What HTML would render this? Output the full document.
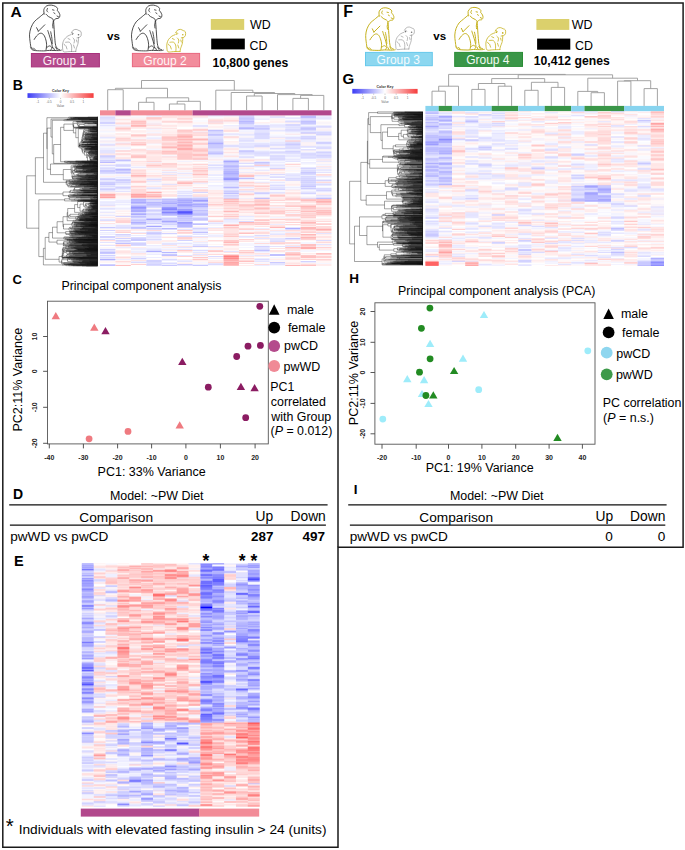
<!DOCTYPE html><html><head><meta charset="utf-8"><style>html,body{margin:0;padding:0;background:#fff;width:685px;height:850px;overflow:hidden}svg{display:block}text{font-family:"Liberation Sans",sans-serif}</style></head><body><svg width="685" height="850" viewBox="0 0 685 850"><defs><filter id="hb" x="-2%" y="-2%" width="104%" height="104%"><feGaussianBlur stdDeviation="0.35"/></filter></defs><path fill="none" stroke="#1a1a1a" stroke-width="1.5" d="M2.8 3H683.1V547.3H338V847.2H2.8Z"/><path fill="none" stroke="#1a1a1a" stroke-width="1.5" d="M338 3V547.3"/><text x="10.6" y="16.5" font-size="15.5" font-weight="bold">A</text><text x="12.8" y="89.5" font-size="14" font-weight="bold">B</text><text x="12.5" y="283.5" font-size="13" font-weight="bold">C</text><text x="12.9" y="499.3" font-size="14" font-weight="bold">D</text><text x="14.1" y="566.2" font-size="14.5" font-weight="bold">E</text><text x="343.2" y="16.9" font-size="16" font-weight="bold">F</text><text x="342.6" y="84" font-size="15" font-weight="bold">G</text><text x="349.2" y="283" font-size="13.5" font-weight="bold">H</text><text x="353.7" y="494.3" font-size="13.5" font-weight="bold">I</text><path fill="none" stroke="#222" stroke-width="0.8" stroke-linejoin="round" stroke-linecap="round" d="M44.2 14.2C44.2 13.4 43.5 10.9 43.9 9.5C44.3 8.1 45.4 6.6 46.6 5.9C47.8 5.2 49.8 5.0 51.3 5.1C52.8 5.2 54.5 5.9 55.5 6.4C56.5 7.0 57.3 7.7 57.6 8.4C57.9 9.1 57.1 9.8 57.3 10.4C57.5 11.0 58.2 11.3 58.6 12.0C59.0 12.7 59.6 13.7 59.8 14.5C60.0 15.3 59.9 16.4 59.6 17.0C59.3 17.6 58.7 18.1 58.1 18.4C57.5 18.7 56.6 18.4 56.0 18.6C55.4 18.8 55.0 19.5 54.5 19.8C54.0 20.1 53.3 20.5 53.1 20.6M46.0 14.2C46.4 14.6 47.4 15.8 48.4 16.5C49.4 17.2 51.0 17.7 51.9 18.3C52.8 18.9 53.3 19.8 53.6 20.1M43.9 13.5C43.1 14.2 40.5 16.3 38.9 17.7C37.3 19.1 35.5 20.1 34.2 21.8C32.9 23.5 31.8 25.5 31.0 27.7C30.2 29.9 29.6 32.4 29.5 34.8C29.4 37.1 29.9 39.6 30.1 41.8C30.4 43.9 30.7 46.4 31.0 47.7C31.3 49.0 31.2 49.0 31.9 49.5C32.6 50.0 33.4 50.4 35.4 50.6C37.4 50.8 41.2 50.9 43.6 50.9C46.0 50.9 47.0 50.4 49.5 50.4C52.0 50.4 56.4 50.6 58.4 50.6C60.4 50.6 60.8 50.2 61.3 50.1M53.6 21.2C53.7 22.6 54.0 26.6 54.2 29.5C54.4 32.4 54.5 35.6 54.8 38.3C55.0 40.9 55.2 43.6 55.7 45.4C56.2 47.2 57.2 48.2 57.8 48.9C58.4 49.6 59.2 49.4 59.5 49.5M47.8 30.6C48.1 31.5 48.9 34.0 49.5 35.9C50.1 37.8 50.8 39.8 51.3 41.8C51.8 43.8 52.3 46.7 52.5 47.7M50.7 31.8C50.9 32.9 51.6 36.3 51.9 38.3C52.1 40.3 52.2 42.7 52.2 43.6M34.2 39.5C34.6 38.9 35.6 36.9 36.6 35.9C37.6 34.9 39.0 33.6 40.1 33.3C41.2 33.0 42.2 33.4 43.1 34.2C44.0 35.0 44.8 36.6 45.4 38.3C46.0 40.0 46.5 42.2 46.6 44.2C46.7 46.2 46.1 49.1 46.0 50.1M46.6 47.7C47.1 47.4 48.6 45.9 49.5 45.9C50.4 45.9 51.7 47.0 51.9 47.7C52.1 48.4 50.9 49.7 50.7 50.1M36.6 27.7L38.4 31.2M38.4 31.2L44.8 24.8M30.7 47.1L33.1 49.5M33.5 48.0L35.5 50.0M47.5 8.5C47.4 8.8 46.8 9.9 46.8 10.5C46.8 11.1 47.6 11.8 47.8 12.0M52.5 9.8L54.0 10.2M53.8 12.8L55.0 13.6M57.0 16.0L58.5 16.8M53.3 21.5C53.2 22.1 52.8 23.9 52.7 25.0C52.7 26.1 53.0 27.5 53.0 28.0M55.5 47.0L57.0 49.5M53.5 48.0L54.5 50.0"/><path fill="none" stroke="#666" stroke-width="0.5" stroke-linejoin="round" stroke-linecap="round" d="M71.3 32.8C71.6 32.4 72.4 30.8 73.2 30.2C74.0 29.6 75.2 29.3 76.2 29.4C77.2 29.5 78.2 30.2 79.0 30.6C79.8 31.0 80.7 30.9 81.0 31.7C81.3 32.5 81.4 34.5 81.1 35.5C80.8 36.5 80.0 37.0 79.3 37.4C78.6 37.8 77.4 37.7 77.0 37.8M70.9 34.7C70.3 35.0 68.6 35.4 67.5 36.2C66.4 37.0 64.9 38.4 64.1 39.7C63.3 41.0 62.9 42.4 62.6 43.8C62.4 45.2 62.4 46.7 62.6 48.0C62.8 49.3 62.6 51.2 63.7 51.8C64.8 52.4 67.0 51.7 69.0 51.6C71.0 51.5 74.7 51.4 75.8 51.4M78.5 37.4C78.4 38.4 78.5 41.2 78.1 43.1C77.7 45.0 76.6 47.4 76.2 48.8C75.8 50.2 75.9 51.0 75.8 51.4M65.6 42.3C66.2 42.3 68.5 41.8 69.4 42.3C70.4 42.8 70.9 43.9 71.3 45.0C71.7 46.1 71.7 47.7 71.7 48.8C71.7 49.9 71.5 51.0 71.5 51.4M73.0 38.0C73.2 38.3 74.3 39.2 74.5 40.0C74.7 40.8 74.1 42.5 74.0 43.0M66.0 46.0L67.0 49.0M73.5 45.0L74.5 48.0M68.0 38.5L70.0 39.5M64.0 44.0L65.0 45.5M76.5 40.0L77.0 42.0M72.5 32.5L73.5 33.5"/><circle cx="72.4" cy="34.0" r="0.80" fill="#666"/><circle cx="78.5" cy="34.7" r="0.80" fill="#666"/><text x="107" y="40" font-size="11.6" font-weight="bold">vs</text><path fill="none" stroke="#222" stroke-width="0.8" stroke-linejoin="round" stroke-linecap="round" d="M146.2 14.2C146.1 13.4 145.5 10.9 145.9 9.5C146.3 8.1 147.4 6.6 148.6 5.9C149.8 5.2 151.8 5.0 153.3 5.1C154.8 5.2 156.4 5.9 157.5 6.4C158.6 7.0 159.3 7.7 159.6 8.4C159.9 9.1 159.1 9.8 159.3 10.4C159.5 11.0 160.2 11.3 160.6 12.0C161.0 12.7 161.6 13.7 161.8 14.5C162.0 15.3 161.9 16.4 161.6 17.0C161.3 17.6 160.7 18.1 160.1 18.4C159.5 18.7 158.6 18.4 158.0 18.6C157.4 18.8 157.0 19.5 156.5 19.8C156.0 20.1 155.3 20.5 155.1 20.6M148.0 14.2C148.4 14.6 149.4 15.8 150.4 16.5C151.4 17.2 153.0 17.7 153.9 18.3C154.8 18.9 155.3 19.8 155.6 20.1M145.9 13.5C145.1 14.2 142.5 16.3 140.9 17.7C139.3 19.1 137.5 20.1 136.2 21.8C134.9 23.5 133.8 25.5 133.0 27.7C132.2 29.9 131.7 32.4 131.5 34.8C131.3 37.1 131.8 39.6 132.1 41.8C132.3 43.9 132.7 46.4 133.0 47.7C133.3 49.0 133.2 49.0 133.9 49.5C134.6 50.0 135.5 50.4 137.4 50.6C139.3 50.8 143.2 50.9 145.6 50.9C147.9 50.9 149.0 50.4 151.5 50.4C154.0 50.4 158.4 50.6 160.4 50.6C162.4 50.6 162.8 50.2 163.3 50.1M155.6 21.2C155.7 22.6 156.0 26.6 156.2 29.5C156.4 32.4 156.6 35.6 156.8 38.3C157.1 40.9 157.2 43.6 157.7 45.4C158.2 47.2 159.2 48.2 159.8 48.9C160.4 49.6 161.2 49.4 161.5 49.5M149.8 30.6C150.1 31.5 150.9 34.0 151.5 35.9C152.1 37.8 152.8 39.8 153.3 41.8C153.8 43.8 154.3 46.7 154.5 47.7M152.7 31.8C152.9 32.9 153.7 36.3 153.9 38.3C154.2 40.3 154.1 42.7 154.2 43.6M136.2 39.5C136.6 38.9 137.6 36.9 138.6 35.9C139.6 34.9 141.0 33.6 142.1 33.3C143.2 33.0 144.2 33.4 145.1 34.2C146.0 35.0 146.8 36.6 147.4 38.3C148.0 40.0 148.5 42.2 148.6 44.2C148.7 46.2 148.1 49.1 148.0 50.1M148.6 47.7C149.1 47.4 150.6 45.9 151.5 45.9C152.4 45.9 153.7 47.0 153.9 47.7C154.1 48.4 152.9 49.7 152.7 50.1M138.6 27.7L140.4 31.2M140.4 31.2L146.8 24.8M132.7 47.1L135.1 49.5M135.5 48.0L137.5 50.0M149.5 8.5C149.4 8.8 148.8 9.9 148.8 10.5C148.9 11.1 149.6 11.8 149.8 12.0M154.5 9.8L156.0 10.2M155.8 12.8L157.0 13.6M159.0 16.0L160.5 16.8M155.3 21.5C155.2 22.1 154.8 23.9 154.7 25.0C154.6 26.1 154.9 27.5 155.0 28.0M157.5 47.0L159.0 49.5M155.5 48.0L156.5 50.0"/><path fill="none" stroke="#c6b220" stroke-width="0.8" stroke-linejoin="round" stroke-linecap="round" d="M175.6 32.8C175.9 32.4 176.7 30.8 177.5 30.2C178.3 29.6 179.5 29.3 180.5 29.4C181.5 29.5 182.5 30.2 183.3 30.6C184.1 31.0 185.0 30.9 185.3 31.7C185.7 32.5 185.7 34.5 185.4 35.5C185.1 36.5 184.3 37.0 183.6 37.4C182.9 37.8 181.7 37.7 181.3 37.8M175.2 34.7C174.6 35.0 172.9 35.4 171.8 36.2C170.7 37.0 169.2 38.4 168.4 39.7C167.6 41.0 167.2 42.4 166.9 43.8C166.7 45.2 166.7 46.7 166.9 48.0C167.1 49.3 166.9 51.2 168.0 51.8C169.1 52.4 171.3 51.7 173.3 51.6C175.3 51.5 179.0 51.4 180.1 51.4M182.8 37.4C182.7 38.4 182.8 41.2 182.4 43.1C182.0 45.0 180.9 47.4 180.5 48.8C180.1 50.2 180.2 51.0 180.1 51.4M169.9 42.3C170.5 42.3 172.8 41.8 173.7 42.3C174.7 42.8 175.2 43.9 175.6 45.0C176.0 46.1 176.0 47.7 176.0 48.8C176.0 49.9 175.8 51.0 175.8 51.4M177.3 38.0C177.6 38.3 178.6 39.2 178.8 40.0C179.0 40.8 178.4 42.5 178.3 43.0M170.3 46.0L171.3 49.0M177.8 45.0L178.8 48.0M172.3 38.5L174.3 39.5M168.3 44.0L169.3 45.5M180.8 40.0L181.3 42.0M176.8 32.5L177.8 33.5"/><circle cx="176.7" cy="34.0" r="0.80" fill="#c6b220"/><circle cx="182.8" cy="34.7" r="0.80" fill="#c6b220"/><rect x="31.4" y="53.5" width="68" height="13.4" fill="#b4498c" stroke="#a8327c" stroke-width="1"/><text x="42.8" y="64.7" font-size="12.0" fill="#fbeef5">Group 1</text><rect x="132.4" y="53.4" width="67.2" height="13.3" fill="#f28c9c" stroke="#e8677f" stroke-width="1"/><text x="143.3" y="64.5" font-size="12.0" fill="#fff4f6">Group 2</text><rect x="210.8" y="19" width="33.4" height="10.9" fill="#dbd06c"/><rect x="211.2" y="38.6" width="33.6" height="10.8" fill="#000"/><text x="250" y="29.4" font-size="12.4">WD</text><text x="249.5" y="49.7" font-size="12.4">CD</text><text x="212.4" y="67.1" font-size="12.2" font-weight="bold">10,800 genes</text><path fill="none" stroke="#c6b220" stroke-width="1.0" stroke-linejoin="round" stroke-linecap="round" d="M379.3 16.3C379.3 15.5 378.7 13.2 379.0 11.9C379.4 10.6 380.4 9.2 381.6 8.5C382.7 7.9 384.5 7.7 385.9 7.8C387.3 7.9 388.9 8.5 389.8 9.0C390.8 9.5 391.5 10.3 391.8 10.9C392.1 11.5 391.4 12.2 391.5 12.7C391.7 13.3 392.3 13.6 392.7 14.2C393.1 14.9 393.7 15.8 393.8 16.5C394.0 17.3 393.9 18.3 393.6 18.9C393.4 19.5 392.8 19.9 392.3 20.2C391.7 20.4 390.9 20.1 390.3 20.4C389.7 20.6 389.4 21.2 388.9 21.5C388.5 21.8 387.8 22.1 387.6 22.2M381.0 16.3C381.4 16.6 382.3 17.8 383.2 18.4C384.1 19.0 385.7 19.5 386.5 20.1C387.3 20.6 387.8 21.5 388.1 21.8M379.0 15.6C378.3 16.3 375.9 18.2 374.4 19.5C372.9 20.8 371.3 21.8 370.0 23.3C368.8 24.9 367.8 26.8 367.0 28.8C366.3 30.8 365.8 33.2 365.7 35.4C365.5 37.6 366.0 39.9 366.2 41.9C366.4 43.9 366.8 46.2 367.0 47.4C367.3 48.6 367.2 48.6 367.9 49.1C368.6 49.5 369.3 49.9 371.1 50.1C373.0 50.3 376.6 50.4 378.8 50.4C381.0 50.4 382.0 50.0 384.3 49.9C386.5 49.9 390.7 50.2 392.5 50.1C394.4 50.1 394.8 49.7 395.2 49.7M388.1 22.8C388.2 24.1 388.4 27.8 388.6 30.5C388.8 33.1 389.0 36.2 389.2 38.7C389.4 41.1 389.6 43.6 390.0 45.3C390.5 46.9 391.4 47.9 392.0 48.5C392.6 49.2 393.3 49.0 393.6 49.1M382.7 31.5C382.9 32.3 383.7 34.7 384.3 36.4C384.8 38.2 385.5 40.1 385.9 41.9C386.4 43.8 386.9 46.5 387.0 47.4M385.4 32.6C385.6 33.6 386.3 36.9 386.5 38.7C386.7 40.5 386.7 42.8 386.8 43.6M370.0 39.8C370.4 39.2 371.3 37.4 372.3 36.4C373.2 35.5 374.5 34.3 375.5 34.0C376.5 33.8 377.5 34.1 378.3 34.9C379.1 35.6 379.9 37.1 380.4 38.7C381.0 40.2 381.5 42.3 381.6 44.2C381.7 46.0 381.1 48.7 381.0 49.7M381.6 47.4C382.0 47.1 383.4 45.7 384.3 45.7C385.1 45.7 386.3 46.8 386.5 47.4C386.7 48.1 385.6 49.3 385.4 49.7M372.3 28.8L373.9 32.1M373.9 32.1L379.9 26.1M366.8 46.9L369.0 49.1M369.4 47.7L371.2 49.6M382.4 11.0C382.3 11.3 381.7 12.3 381.7 12.8C381.8 13.4 382.5 14.0 382.7 14.2M387.0 12.2L388.4 12.5M388.3 15.0L389.4 15.7M391.2 17.9L392.6 18.7M387.8 23.1C387.7 23.6 387.3 25.3 387.2 26.3C387.2 27.3 387.5 28.6 387.5 29.1M389.8 46.8L391.2 49.1M388.0 47.7L388.9 49.6"/><path fill="none" stroke="#777" stroke-width="0.5" stroke-linejoin="round" stroke-linecap="round" d="M404.4 30.4C404.7 30.0 405.5 28.4 406.3 27.8C407.1 27.2 408.3 26.9 409.3 27.0C410.3 27.1 411.3 27.8 412.1 28.2C412.9 28.6 413.8 28.5 414.1 29.3C414.5 30.1 414.5 32.1 414.2 33.1C413.9 34.1 413.1 34.6 412.4 35.0C411.7 35.4 410.5 35.3 410.1 35.4M404.0 32.3C403.4 32.5 401.7 33.0 400.6 33.8C399.5 34.6 398.0 36.0 397.2 37.3C396.4 38.6 396.0 40.0 395.7 41.4C395.5 42.8 395.5 44.3 395.7 45.6C395.9 46.9 395.7 48.8 396.8 49.4C397.9 50.0 400.1 49.3 402.1 49.2C404.1 49.1 407.8 49.0 408.9 49.0M411.6 35.0C411.5 36.0 411.6 38.8 411.2 40.7C410.8 42.6 409.7 45.0 409.3 46.4C408.9 47.8 409.0 48.6 408.9 49.0M398.7 39.9C399.3 39.9 401.6 39.5 402.5 39.9C403.4 40.4 404.0 41.5 404.4 42.6C404.8 43.7 404.8 45.3 404.8 46.4C404.8 47.5 404.6 48.6 404.6 49.0M406.1 35.6C406.4 35.9 407.4 36.8 407.6 37.6C407.8 38.4 407.2 40.1 407.1 40.6M399.1 43.6L400.1 46.6M406.6 42.6L407.6 45.6M401.1 36.1L403.1 37.1M397.1 41.6L398.1 43.1M409.6 37.6L410.1 39.6M405.6 30.1L406.6 31.1"/><circle cx="405.5" cy="31.6" r="0.80" fill="#777"/><circle cx="411.6" cy="32.3" r="0.80" fill="#777"/><text x="433.3" y="40.2" font-size="11.6" font-weight="bold">vs</text><path fill="none" stroke="#c6b220" stroke-width="1.0" stroke-linejoin="round" stroke-linecap="round" d="M468.4 15.9C468.4 15.1 467.8 12.8 468.1 11.5C468.5 10.2 469.5 8.8 470.7 8.1C471.8 7.5 473.6 7.3 475.0 7.4C476.4 7.5 478.0 8.1 478.9 8.6C479.9 9.1 480.6 9.9 480.9 10.5C481.2 11.1 480.5 11.8 480.6 12.3C480.8 12.9 481.4 13.2 481.8 13.8C482.2 14.5 482.8 15.4 482.9 16.1C483.1 16.9 483.0 17.9 482.7 18.5C482.5 19.1 481.9 19.5 481.4 19.8C480.8 20.0 480.0 19.7 479.4 20.0C478.8 20.2 478.5 20.8 478.0 21.1C477.6 21.4 476.9 21.7 476.7 21.8M470.1 15.9C470.5 16.2 471.4 17.4 472.3 18.0C473.2 18.6 474.8 19.1 475.6 19.7C476.4 20.2 476.9 21.1 477.2 21.4M468.1 15.2C467.4 15.9 465.0 17.8 463.5 19.1C462.0 20.4 460.4 21.4 459.1 22.9C457.9 24.5 456.9 26.4 456.1 28.4C455.4 30.4 454.9 32.8 454.8 35.0C454.6 37.2 455.1 39.5 455.3 41.5C455.5 43.5 455.9 45.8 456.1 47.0C456.4 48.2 456.3 48.2 457.0 48.7C457.7 49.1 458.4 49.5 460.2 49.7C462.1 49.9 465.7 50.0 467.9 50.0C470.1 50.0 471.1 49.6 473.4 49.5C475.6 49.5 479.8 49.8 481.6 49.7C483.5 49.7 483.9 49.3 484.3 49.3M477.2 22.4C477.3 23.7 477.5 27.4 477.7 30.1C477.9 32.7 478.1 35.8 478.3 38.3C478.5 40.7 478.7 43.2 479.1 44.9C479.6 46.5 480.5 47.5 481.1 48.1C481.7 48.8 482.4 48.6 482.7 48.7M471.8 31.1C472.0 31.9 472.8 34.3 473.4 36.0C473.9 37.8 474.6 39.7 475.0 41.5C475.5 43.4 476.0 46.1 476.1 47.0M474.5 32.2C474.7 33.2 475.4 36.5 475.6 38.3C475.8 40.1 475.8 42.4 475.9 43.2M459.1 39.4C459.5 38.8 460.4 37.0 461.4 36.0C462.3 35.1 463.6 33.9 464.6 33.6C465.6 33.4 466.6 33.7 467.4 34.5C468.2 35.2 469.0 36.7 469.5 38.3C470.1 39.8 470.6 41.9 470.7 43.8C470.8 45.6 470.2 48.3 470.1 49.3M470.7 47.0C471.1 46.7 472.5 45.3 473.4 45.3C474.2 45.3 475.4 46.4 475.6 47.0C475.8 47.7 474.7 48.9 474.5 49.3M461.4 28.4L463.0 31.7M463.0 31.7L469.0 25.7M455.9 46.5L458.1 48.7M458.5 47.3L460.3 49.2M471.5 10.6C471.4 10.9 470.8 11.9 470.8 12.4C470.9 13.0 471.6 13.6 471.8 13.8M476.1 11.8L477.5 12.1M477.4 14.6L478.5 15.3M480.3 17.5L481.7 18.3M476.9 22.7C476.8 23.2 476.4 24.9 476.3 25.9C476.3 26.9 476.6 28.2 476.6 28.7M478.9 46.4L480.3 48.7M477.1 47.3L478.0 49.2"/><path fill="none" stroke="#c6b220" stroke-width="0.8" stroke-linejoin="round" stroke-linecap="round" d="M495.2 31.0C495.5 30.6 496.3 29.0 497.2 28.4C498.0 27.8 499.3 27.5 500.3 27.6C501.3 27.7 502.4 28.4 503.2 28.8C504.1 29.2 505.0 29.1 505.3 29.9C505.7 30.7 505.8 32.8 505.5 33.7C505.2 34.7 504.3 35.2 503.6 35.6C502.8 36.0 501.6 35.9 501.1 36.0M494.7 32.9C494.1 33.1 492.4 33.6 491.2 34.4C490.0 35.2 488.5 36.6 487.6 37.9C486.7 39.2 486.3 40.6 486.0 42.0C485.8 43.4 485.8 44.9 486.0 46.2C486.2 47.5 486.1 49.4 487.2 50.0C488.3 50.6 490.6 49.9 492.8 49.8C494.9 49.7 498.7 49.6 499.9 49.6M502.7 35.6C502.7 36.5 502.7 39.4 502.3 41.3C501.9 43.2 500.7 45.6 500.3 47.0C499.9 48.4 500.0 49.2 499.9 49.6M489.2 40.5C489.8 40.5 492.2 40.0 493.2 40.5C494.2 41.0 494.8 42.1 495.2 43.2C495.6 44.3 495.5 45.9 495.6 47.0C495.6 48.1 495.4 49.2 495.4 49.6M496.9 36.2C497.2 36.5 498.3 37.4 498.5 38.2C498.7 39.0 498.1 40.7 498.0 41.2M489.6 44.2L490.6 47.2M497.5 43.2L498.5 46.2M491.7 36.7L493.8 37.7M487.5 42.2L488.6 43.7M500.6 38.2L501.1 40.2M496.4 30.7L497.5 31.7"/><circle cx="496.3" cy="32.2" r="0.84" fill="#c6b220"/><circle cx="502.7" cy="32.9" r="0.84" fill="#c6b220"/><rect x="365.5" y="52.4" width="66.8" height="13.3" fill="#8cd7f0" stroke="#66c8eb" stroke-width="1"/><text x="376.6" y="63.7" font-size="12.0" fill="#f4fbfe">Group 3</text><rect x="454.7" y="52.4" width="67.8" height="14" fill="#3a9648" stroke="#2a8c36" stroke-width="1"/><text x="466.2" y="64.3" font-size="12.0" fill="#f2faf3">Group 4</text><rect x="536.4" y="19" width="32.9" height="10.9" fill="#dbd06c"/><rect x="537.1" y="38.6" width="33.2" height="11.1" fill="#000"/><text x="571.8" y="29.4" font-size="12.4">WD</text><text x="575" y="49.7" font-size="12.4">CD</text><text x="533.8" y="64.9" font-size="12.2" font-weight="bold">10,412 genes</text><defs><linearGradient id="ck1" x1="0" x2="1" y1="0" y2="0"><stop offset="0" stop-color="#3c3cf5"/><stop offset="0.5" stop-color="#ffffff"/><stop offset="1" stop-color="#f53c3c"/></linearGradient></defs><rect x="27.5" y="93.2" width="66.1" height="4.7" fill="url(#ck1)"/><text x="60.5" y="92" font-size="3.6" font-weight="bold" text-anchor="middle" fill="#333">Color Key</text><path stroke="#777" stroke-width="0.4" d="M37.8 97.9v1.2"/><text x="37.8" y="103.2" font-size="3.0" text-anchor="middle" fill="#666">-1</text><path stroke="#777" stroke-width="0.4" d="M49.2 97.9v1.2"/><text x="49.2" y="103.2" font-size="3.0" text-anchor="middle" fill="#666">-0.5</text><path stroke="#777" stroke-width="0.4" d="M60.6 97.9v1.2"/><text x="60.6" y="103.2" font-size="3.0" text-anchor="middle" fill="#666">0</text><path stroke="#777" stroke-width="0.4" d="M72 97.9v1.2"/><text x="72" y="103.2" font-size="3.0" text-anchor="middle" fill="#666">0.5</text><path stroke="#777" stroke-width="0.4" d="M83.4 97.9v1.2"/><text x="83.4" y="103.2" font-size="3.0" text-anchor="middle" fill="#666">1</text><text x="60.5" y="107.1" font-size="3.0" text-anchor="middle" fill="#666">Value</text><defs><linearGradient id="ck2" x1="0" x2="1" y1="0" y2="0"><stop offset="0" stop-color="#3c3cf5"/><stop offset="0.5" stop-color="#ffffff"/><stop offset="1" stop-color="#f53c3c"/></linearGradient></defs><rect x="352.3" y="88.9" width="65.3" height="4.7" fill="url(#ck2)"/><text x="385" y="87.7" font-size="3.6" font-weight="bold" text-anchor="middle" fill="#333">Color Key</text><path stroke="#777" stroke-width="0.4" d="M362.5 93.6v1.2"/><text x="362.5" y="98.9" font-size="3.0" text-anchor="middle" fill="#666">-1</text><path stroke="#777" stroke-width="0.4" d="M373.7 93.6v1.2"/><text x="373.7" y="98.9" font-size="3.0" text-anchor="middle" fill="#666">-0.5</text><path stroke="#777" stroke-width="0.4" d="M385 93.6v1.2"/><text x="385" y="98.9" font-size="3.0" text-anchor="middle" fill="#666">0</text><path stroke="#777" stroke-width="0.4" d="M396.2 93.6v1.2"/><text x="396.2" y="98.9" font-size="3.0" text-anchor="middle" fill="#666">0.5</text><path stroke="#777" stroke-width="0.4" d="M407.5 93.6v1.2"/><text x="407.5" y="98.9" font-size="3.0" text-anchor="middle" fill="#666">1</text><text x="385" y="102.8" font-size="3.0" text-anchor="middle" fill="#666">Value</text><g filter="url(#hb)"><path fill="#ededff" d="M100 115.5h15.4v1h-15.4zM100 119.5h15.4v1h-15.4zM100 121.5h15.4v1h-15.4zM100 130.6h15.4v1h-15.4zM100 134.6h15.4v1h-15.4zM100 147.6h15.4v2h-15.4zM100 180.7h15.4v1h-15.4zM100 198.8h15.4v1h-15.4zM100 200.8h15.4v1h-15.4zM100 202.8h15.4v2h-15.4zM100 227.9h15.4v1h-15.4zM100 231.9h15.4v1h-15.4zM100 233.9h15.4v1h-15.4zM100 256h15.4v1h-15.4zM115.4 167.7h15.4v1h-15.4zM115.4 199.8h15.4v2h-15.4zM115.4 207.8h15.4v2h-15.4zM115.4 246.9h15.4v1h-15.4zM115.4 259h15.4v1h-15.4zM130.9 116.5h15.4v1h-15.4zM130.9 224.9h15.4v1h-15.4zM130.9 231.9h15.4v1h-15.4zM130.9 234.9h15.4v1h-15.4zM130.9 247.9h15.4v2h-15.4zM130.9 251h15.4v2h-15.4zM130.9 256h15.4v2h-15.4zM130.9 259h15.4v1h-15.4zM130.9 261h15.4v1h-15.4zM146.3 132.6h15.4v1h-15.4zM146.3 135.6h15.4v1h-15.4zM146.3 138.6h15.4v1h-15.4zM146.3 143.6h15.4v1h-15.4zM146.3 148.6h15.4v1h-15.4zM146.3 161.7h15.4v1h-15.4zM146.3 183.7h15.4v1h-15.4zM146.3 186.7h15.4v1h-15.4zM146.3 226.9h15.4v1h-15.4zM146.3 230.9h15.4v1h-15.4zM146.3 234.9h15.4v1h-15.4zM146.3 237.9h15.4v1h-15.4zM146.3 239.9h15.4v1h-15.4zM146.3 244.9h15.4v1h-15.4zM146.3 247.9h15.4v1h-15.4zM146.3 252h15.4v1h-15.4zM146.3 254h15.4v1h-15.4zM146.3 257h15.4v1h-15.4zM161.7 155.6h15.4v1h-15.4zM161.7 197.8h15.4v1h-15.4zM161.7 216.8h15.4v1h-15.4zM161.7 224.9h15.4v2h-15.4zM161.7 248.9h15.4v1h-15.4zM161.7 253h15.4v1h-15.4zM161.7 260h15.4v1h-15.4zM161.7 262h15.4v1h-15.4zM161.7 264h15.4v1h-15.4zM177.2 160.7h15.4v1h-15.4zM177.2 174.7h15.4v1h-15.4zM177.2 177.7h15.4v1h-15.4zM177.2 191.8h15.4v1h-15.4zM177.2 196.8h15.4v1h-15.4zM177.2 234.9h15.4v1h-15.4zM177.2 260h15.4v1h-15.4zM192.6 117.5h15.4v1h-15.4zM192.6 120.5h15.4v1h-15.4zM192.6 124.5h15.4v1h-15.4zM192.6 126.5h15.4v1h-15.4zM192.6 131.6h15.4v1h-15.4zM192.6 159.6h15.4v1h-15.4zM192.6 215.8h15.4v1h-15.4zM192.6 226.9h15.4v1h-15.4zM192.6 229.9h15.4v1h-15.4zM192.6 232.9h15.4v1h-15.4zM192.6 241.9h15.4v1h-15.4zM192.6 264h15.4v1h-15.4zM208 158.6h15.4v1h-15.4zM208 161.7h15.4v1h-15.4zM208 163.7h15.4v1h-15.4zM208 168.7h15.4v2h-15.4zM208 173.7h15.4v1h-15.4zM208 176.7h15.4v1h-15.4zM208 178.7h15.4v2h-15.4zM208 181.7h15.4v1h-15.4zM208 184.7h15.4v2h-15.4zM208 221.9h15.4v1h-15.4zM208 226.9h15.4v1h-15.4zM208 234.9h15.4v2h-15.4zM208 258h15.4v1h-15.4zM223.5 134.6h15.4v1h-15.4zM223.5 154.6h15.4v1h-15.4zM223.5 188.7h15.4v1h-15.4zM223.5 193.8h15.4v1h-15.4zM223.5 219.8h15.4v3h-15.4zM238.9 124.5h15.4v1h-15.4zM238.9 126.5h15.4v1h-15.4zM238.9 135.6h15.4v1h-15.4zM238.9 149.6h15.4v1h-15.4zM238.9 168.7h15.4v1h-15.4zM238.9 191.8h15.4v1h-15.4zM238.9 197.8h15.4v1h-15.4zM238.9 236.9h15.4v1h-15.4zM238.9 255h15.4v1h-15.4zM254.3 158.6h15.4v1h-15.4zM254.3 166.7h15.4v1h-15.4zM254.3 175.7h15.4v1h-15.4zM254.3 227.9h15.4v1h-15.4zM254.3 235.9h15.4v1h-15.4zM254.3 258h15.4v1h-15.4zM254.3 260h15.4v1h-15.4zM254.3 265h15.4v1h-15.4zM269.8 117.5h15.4v1h-15.4zM269.8 123.5h15.4v1h-15.4zM269.8 126.5h15.4v2h-15.4zM269.8 142.6h15.4v1h-15.4zM269.8 150.6h15.4v1h-15.4zM269.8 163.7h15.4v1h-15.4zM269.8 178.7h15.4v1h-15.4zM269.8 185.7h15.4v1h-15.4zM269.8 206.8h15.4v1h-15.4zM269.8 216.8h15.4v1h-15.4zM269.8 223.9h15.4v1h-15.4zM269.8 230.9h15.4v1h-15.4zM269.8 232.9h15.4v1h-15.4zM285.2 118.5h15.4v1h-15.4zM285.2 134.6h15.4v1h-15.4zM285.2 138.6h15.4v1h-15.4zM285.2 142.6h15.4v1h-15.4zM285.2 153.6h15.4v2h-15.4zM285.2 156.6h15.4v1h-15.4zM285.2 159.6h15.4v1h-15.4zM285.2 172.7h15.4v1h-15.4zM285.2 176.7h15.4v1h-15.4zM285.2 188.7h15.4v1h-15.4zM285.2 231.9h15.4v1h-15.4zM300.6 118.5h15.4v1h-15.4zM300.6 140.6h15.4v2h-15.4zM300.6 151.6h15.4v1h-15.4zM300.6 159.6h15.4v1h-15.4zM300.6 161.7h15.4v2h-15.4zM300.6 166.7h15.4v1h-15.4zM300.6 190.8h15.4v1h-15.4zM300.6 193.8h15.4v1h-15.4zM300.6 262h15.4v1h-15.4zM316.1 115.5h15.4v2h-15.4zM316.1 122.5h15.4v1h-15.4zM316.1 128.5h15.4v1h-15.4zM316.1 136.6h15.4v1h-15.4zM316.1 140.6h15.4v1h-15.4zM316.1 143.6h15.4v1h-15.4zM316.1 150.6h15.4v1h-15.4zM316.1 157.6h15.4v1h-15.4zM316.1 163.7h15.4v1h-15.4zM316.1 168.7h15.4v1h-15.4zM316.1 176.7h15.4v1h-15.4zM316.1 180.7h15.4v1h-15.4zM316.1 182.7h15.4v1h-15.4zM316.1 195.8h15.4v2h-15.4z"/><path fill="#ffd2d2" d="M100 153.6h15.4v1h-15.4zM115.4 115.5h15.4v1h-15.4zM115.4 129.5h15.4v1h-15.4zM115.4 137.6h15.4v2h-15.4zM115.4 140.6h15.4v1h-15.4zM115.4 220.9h15.4v2h-15.4zM115.4 231.9h15.4v1h-15.4zM130.9 123.5h15.4v1h-15.4zM130.9 141.6h15.4v2h-15.4zM130.9 157.6h15.4v1h-15.4zM130.9 169.7h15.4v1h-15.4zM130.9 264h15.4v1h-15.4zM146.3 125.5h15.4v1h-15.4zM146.3 174.7h15.4v1h-15.4zM161.7 120.5h15.4v1h-15.4zM161.7 128.5h15.4v1h-15.4zM161.7 140.6h15.4v1h-15.4zM161.7 156.6h15.4v1h-15.4zM161.7 162.7h15.4v3h-15.4zM161.7 174.7h15.4v1h-15.4zM161.7 176.7h15.4v1h-15.4zM161.7 178.7h15.4v1h-15.4zM161.7 195.8h15.4v1h-15.4zM177.2 115.5h15.4v1h-15.4zM177.2 117.5h15.4v1h-15.4zM177.2 120.5h15.4v1h-15.4zM177.2 150.6h15.4v2h-15.4zM177.2 168.7h15.4v1h-15.4zM177.2 184.7h15.4v1h-15.4zM177.2 231.9h15.4v1h-15.4zM177.2 236.9h15.4v2h-15.4zM177.2 256h15.4v1h-15.4zM192.6 115.5h15.4v1h-15.4zM192.6 128.5h15.4v1h-15.4zM192.6 142.6h15.4v1h-15.4zM192.6 147.6h15.4v1h-15.4zM192.6 171.7h15.4v1h-15.4zM192.6 176.7h15.4v1h-15.4zM192.6 180.7h15.4v2h-15.4zM192.6 186.7h15.4v1h-15.4zM192.6 195.8h15.4v1h-15.4zM208 204.8h15.4v1h-15.4zM208 220.9h15.4v1h-15.4zM208 249.9h15.4v1h-15.4zM223.5 119.5h15.4v1h-15.4zM223.5 201.8h15.4v1h-15.4zM223.5 203.8h15.4v1h-15.4zM223.5 211.8h15.4v1h-15.4zM223.5 217.8h15.4v1h-15.4zM223.5 223.9h15.4v1h-15.4zM223.5 233.9h15.4v1h-15.4zM238.9 188.7h15.4v1h-15.4zM238.9 200.8h15.4v2h-15.4zM238.9 205.8h15.4v2h-15.4zM238.9 211.8h15.4v1h-15.4zM238.9 222.9h15.4v2h-15.4zM238.9 228.9h15.4v1h-15.4zM238.9 238.9h15.4v1h-15.4zM238.9 249.9h15.4v1h-15.4zM254.3 172.7h15.4v1h-15.4zM254.3 198.8h15.4v1h-15.4zM254.3 201.8h15.4v2h-15.4zM254.3 206.8h15.4v1h-15.4zM254.3 211.8h15.4v1h-15.4zM254.3 215.8h15.4v1h-15.4zM254.3 218.8h15.4v1h-15.4zM254.3 222.9h15.4v1h-15.4zM269.8 168.7h15.4v1h-15.4zM269.8 201.8h15.4v1h-15.4zM269.8 204.8h15.4v1h-15.4zM269.8 209.8h15.4v1h-15.4zM269.8 242.9h15.4v1h-15.4zM285.2 192.8h15.4v1h-15.4zM285.2 199.8h15.4v1h-15.4zM285.2 201.8h15.4v1h-15.4zM285.2 204.8h15.4v1h-15.4zM285.2 213.8h15.4v3h-15.4zM285.2 221.9h15.4v1h-15.4zM285.2 252h15.4v1h-15.4zM285.2 255h15.4v1h-15.4zM285.2 258h15.4v1h-15.4zM300.6 204.8h15.4v1h-15.4zM300.6 213.8h15.4v1h-15.4zM300.6 215.8h15.4v1h-15.4zM300.6 219.8h15.4v1h-15.4zM300.6 231.9h15.4v1h-15.4zM300.6 234.9h15.4v1h-15.4zM300.6 238.9h15.4v1h-15.4zM300.6 245.9h15.4v1h-15.4zM300.6 259h15.4v1h-15.4zM316.1 173.7h15.4v1h-15.4zM316.1 181.7h15.4v1h-15.4zM316.1 202.8h15.4v1h-15.4zM316.1 223.9h15.4v1h-15.4zM316.1 227.9h15.4v1h-15.4zM316.1 246.9h15.4v1h-15.4zM316.1 254h15.4v1h-15.4zM316.1 256h15.4v2h-15.4zM316.1 259h15.4v1h-15.4z"/><path fill="#ffffff" d="M100 132.6h15.4v1h-15.4zM100 138.6h15.4v1h-15.4zM100 158.6h15.4v1h-15.4zM100 176.7h15.4v1h-15.4zM100 199.8h15.4v1h-15.4zM100 209.8h15.4v1h-15.4zM100 215.8h15.4v1h-15.4zM100 217.8h15.4v1h-15.4zM100 221.9h15.4v1h-15.4zM100 230.9h15.4v1h-15.4zM100 234.9h15.4v1h-15.4zM100 242.9h15.4v1h-15.4zM100 245.9h15.4v1h-15.4zM100 263h15.4v1h-15.4zM115.4 120.5h15.4v1h-15.4zM115.4 131.6h15.4v2h-15.4zM115.4 134.6h15.4v1h-15.4zM115.4 148.6h15.4v1h-15.4zM115.4 155.6h15.4v1h-15.4zM115.4 162.7h15.4v1h-15.4zM115.4 177.7h15.4v1h-15.4zM115.4 191.8h15.4v1h-15.4zM115.4 202.8h15.4v1h-15.4zM115.4 205.8h15.4v1h-15.4zM115.4 211.8h15.4v1h-15.4zM115.4 213.8h15.4v1h-15.4zM115.4 216.8h15.4v1h-15.4zM115.4 232.9h15.4v1h-15.4zM115.4 248.9h15.4v1h-15.4zM115.4 255h15.4v1h-15.4zM130.9 115.5h15.4v1h-15.4zM130.9 128.5h15.4v2h-15.4zM130.9 133.6h15.4v1h-15.4zM130.9 146.6h15.4v2h-15.4zM130.9 159.6h15.4v1h-15.4zM130.9 167.7h15.4v1h-15.4zM130.9 184.7h15.4v1h-15.4zM130.9 230.9h15.4v1h-15.4zM130.9 233.9h15.4v1h-15.4zM130.9 235.9h15.4v1h-15.4zM130.9 240.9h15.4v1h-15.4zM130.9 245.9h15.4v1h-15.4zM130.9 265h15.4v1h-15.4zM146.3 116.5h15.4v1h-15.4zM146.3 126.5h15.4v1h-15.4zM146.3 136.6h15.4v1h-15.4zM146.3 144.6h15.4v1h-15.4zM146.3 243.9h15.4v1h-15.4zM146.3 255h15.4v2h-15.4zM146.3 258h15.4v1h-15.4zM161.7 123.5h15.4v1h-15.4zM161.7 129.5h15.4v1h-15.4zM161.7 189.7h15.4v1h-15.4zM161.7 192.8h15.4v1h-15.4zM161.7 196.8h15.4v1h-15.4zM161.7 229.9h15.4v1h-15.4zM161.7 234.9h15.4v1h-15.4zM161.7 237.9h15.4v2h-15.4zM161.7 261h15.4v1h-15.4zM177.2 126.5h15.4v3h-15.4zM177.2 178.7h15.4v1h-15.4zM177.2 189.7h15.4v1h-15.4zM177.2 193.8h15.4v1h-15.4zM177.2 233.9h15.4v1h-15.4zM177.2 240.9h15.4v1h-15.4zM177.2 253h15.4v2h-15.4zM177.2 257h15.4v2h-15.4zM192.6 118.5h15.4v2h-15.4zM192.6 121.5h15.4v1h-15.4zM192.6 123.5h15.4v1h-15.4zM192.6 136.6h15.4v1h-15.4zM192.6 161.7h15.4v2h-15.4zM192.6 177.7h15.4v1h-15.4zM192.6 185.7h15.4v1h-15.4zM192.6 192.8h15.4v1h-15.4zM192.6 220.9h15.4v2h-15.4zM192.6 224.9h15.4v1h-15.4zM192.6 234.9h15.4v1h-15.4zM192.6 247.9h15.4v1h-15.4zM208 116.5h15.4v1h-15.4zM208 125.5h15.4v1h-15.4zM208 127.5h15.4v1h-15.4zM208 155.6h15.4v1h-15.4zM208 165.7h15.4v1h-15.4zM208 175.7h15.4v1h-15.4zM208 182.7h15.4v2h-15.4zM208 209.8h15.4v1h-15.4zM208 214.8h15.4v1h-15.4zM208 217.8h15.4v2h-15.4zM208 225.9h15.4v1h-15.4zM208 230.9h15.4v2h-15.4zM208 237.9h15.4v2h-15.4zM208 241.9h15.4v2h-15.4zM208 244.9h15.4v1h-15.4zM208 255h15.4v1h-15.4zM208 259h15.4v1h-15.4zM223.5 123.5h15.4v2h-15.4zM223.5 132.6h15.4v1h-15.4zM223.5 139.6h15.4v2h-15.4zM223.5 253h15.4v1h-15.4zM238.9 163.7h15.4v1h-15.4zM238.9 180.7h15.4v1h-15.4zM238.9 233.9h15.4v1h-15.4zM238.9 237.9h15.4v1h-15.4zM238.9 241.9h15.4v1h-15.4zM238.9 245.9h15.4v1h-15.4zM238.9 247.9h15.4v2h-15.4zM238.9 264h15.4v1h-15.4zM254.3 119.5h15.4v3h-15.4zM254.3 156.6h15.4v2h-15.4zM254.3 160.7h15.4v1h-15.4zM254.3 167.7h15.4v1h-15.4zM254.3 170.7h15.4v1h-15.4zM254.3 179.7h15.4v2h-15.4zM254.3 183.7h15.4v1h-15.4zM254.3 217.8h15.4v1h-15.4zM254.3 226.9h15.4v1h-15.4zM254.3 239.9h15.4v1h-15.4zM254.3 257h15.4v1h-15.4zM269.8 120.5h15.4v1h-15.4zM269.8 122.5h15.4v1h-15.4zM269.8 131.6h15.4v1h-15.4zM269.8 133.6h15.4v1h-15.4zM269.8 138.6h15.4v1h-15.4zM269.8 149.6h15.4v1h-15.4zM269.8 153.6h15.4v1h-15.4zM269.8 170.7h15.4v1h-15.4zM269.8 177.7h15.4v1h-15.4zM269.8 180.7h15.4v1h-15.4zM269.8 190.8h15.4v1h-15.4zM269.8 200.8h15.4v1h-15.4zM269.8 203.8h15.4v1h-15.4zM269.8 214.8h15.4v1h-15.4zM269.8 217.8h15.4v1h-15.4zM269.8 244.9h15.4v1h-15.4zM269.8 246.9h15.4v1h-15.4zM269.8 248.9h15.4v1h-15.4zM269.8 253h15.4v1h-15.4zM269.8 256h15.4v1h-15.4zM285.2 115.5h15.4v2h-15.4zM285.2 119.5h15.4v1h-15.4zM285.2 135.6h15.4v1h-15.4zM285.2 149.6h15.4v1h-15.4zM285.2 161.7h15.4v2h-15.4zM285.2 164.7h15.4v1h-15.4zM285.2 171.7h15.4v1h-15.4zM285.2 185.7h15.4v1h-15.4zM285.2 200.8h15.4v1h-15.4zM285.2 208.8h15.4v1h-15.4zM285.2 222.9h15.4v1h-15.4zM285.2 225.9h15.4v1h-15.4zM285.2 240.9h15.4v1h-15.4zM300.6 147.6h15.4v2h-15.4zM300.6 158.6h15.4v1h-15.4zM300.6 160.7h15.4v1h-15.4zM300.6 164.7h15.4v2h-15.4zM300.6 194.8h15.4v1h-15.4zM300.6 240.9h15.4v1h-15.4zM300.6 252h15.4v1h-15.4zM300.6 260h15.4v1h-15.4zM316.1 119.5h15.4v2h-15.4zM316.1 124.5h15.4v1h-15.4zM316.1 145.6h15.4v1h-15.4zM316.1 172.7h15.4v1h-15.4zM316.1 177.7h15.4v1h-15.4zM316.1 185.7h15.4v1h-15.4zM316.1 216.8h15.4v2h-15.4zM316.1 221.9h15.4v1h-15.4zM316.1 224.9h15.4v1h-15.4zM316.1 251h15.4v2h-15.4z"/><path fill="#e4e4ff" d="M100 124.5h15.4v2h-15.4zM100 137.6h15.4v1h-15.4zM100 143.6h15.4v1h-15.4zM100 149.6h15.4v4h-15.4zM100 166.7h15.4v1h-15.4zM100 168.7h15.4v1h-15.4zM100 179.7h15.4v1h-15.4zM100 184.7h15.4v1h-15.4zM100 189.7h15.4v2h-15.4zM100 201.8h15.4v1h-15.4zM100 208.8h15.4v1h-15.4zM100 214.8h15.4v1h-15.4zM100 218.8h15.4v1h-15.4zM100 241.9h15.4v1h-15.4zM100 244.9h15.4v1h-15.4zM100 249.9h15.4v1h-15.4zM100 258h15.4v1h-15.4zM100 260h15.4v1h-15.4zM115.4 125.5h15.4v1h-15.4zM115.4 142.6h15.4v1h-15.4zM115.4 147.6h15.4v1h-15.4zM115.4 176.7h15.4v1h-15.4zM115.4 182.7h15.4v1h-15.4zM115.4 185.7h15.4v1h-15.4zM115.4 188.7h15.4v1h-15.4zM115.4 201.8h15.4v1h-15.4zM115.4 203.8h15.4v1h-15.4zM115.4 224.9h15.4v2h-15.4zM115.4 227.9h15.4v1h-15.4zM115.4 234.9h15.4v2h-15.4zM115.4 241.9h15.4v1h-15.4zM130.9 166.7h15.4v1h-15.4zM130.9 217.8h15.4v1h-15.4zM130.9 225.9h15.4v1h-15.4zM130.9 241.9h15.4v1h-15.4zM146.3 115.5h15.4v1h-15.4zM146.3 123.5h15.4v1h-15.4zM146.3 128.5h15.4v1h-15.4zM146.3 137.6h15.4v1h-15.4zM146.3 208.8h15.4v1h-15.4zM146.3 215.8h15.4v2h-15.4zM146.3 221.9h15.4v1h-15.4zM146.3 224.9h15.4v1h-15.4zM146.3 235.9h15.4v2h-15.4zM146.3 248.9h15.4v1h-15.4zM161.7 173.7h15.4v1h-15.4zM161.7 242.9h15.4v2h-15.4zM177.2 228.9h15.4v1h-15.4zM177.2 242.9h15.4v1h-15.4zM177.2 246.9h15.4v1h-15.4zM177.2 248.9h15.4v1h-15.4zM177.2 255h15.4v1h-15.4zM177.2 261h15.4v1h-15.4zM177.2 265h15.4v1h-15.4zM192.6 182.7h15.4v1h-15.4zM192.6 196.8h15.4v1h-15.4zM192.6 228.9h15.4v1h-15.4zM192.6 230.9h15.4v1h-15.4zM192.6 233.9h15.4v1h-15.4zM192.6 235.9h15.4v1h-15.4zM192.6 243.9h15.4v2h-15.4zM192.6 252h15.4v1h-15.4zM192.6 254h15.4v1h-15.4zM208 115.5h15.4v1h-15.4zM208 121.5h15.4v1h-15.4zM208 135.6h15.4v2h-15.4zM208 150.6h15.4v1h-15.4zM208 167.7h15.4v1h-15.4zM208 174.7h15.4v1h-15.4zM208 222.9h15.4v1h-15.4zM208 245.9h15.4v1h-15.4zM208 263h15.4v1h-15.4zM223.5 127.5h15.4v1h-15.4zM223.5 182.7h15.4v1h-15.4zM223.5 184.7h15.4v2h-15.4zM223.5 196.8h15.4v1h-15.4zM223.5 251h15.4v1h-15.4zM238.9 131.6h15.4v1h-15.4zM238.9 134.6h15.4v1h-15.4zM238.9 138.6h15.4v1h-15.4zM238.9 142.6h15.4v2h-15.4zM238.9 145.6h15.4v1h-15.4zM238.9 147.6h15.4v1h-15.4zM238.9 154.6h15.4v1h-15.4zM238.9 157.6h15.4v1h-15.4zM238.9 171.7h15.4v1h-15.4zM238.9 178.7h15.4v1h-15.4zM238.9 218.8h15.4v1h-15.4zM238.9 235.9h15.4v1h-15.4zM254.3 129.5h15.4v3h-15.4zM254.3 142.6h15.4v2h-15.4zM254.3 150.6h15.4v2h-15.4zM254.3 155.6h15.4v1h-15.4zM254.3 169.7h15.4v1h-15.4zM254.3 178.7h15.4v1h-15.4zM254.3 181.7h15.4v1h-15.4zM254.3 193.8h15.4v1h-15.4zM254.3 237.9h15.4v1h-15.4zM254.3 246.9h15.4v2h-15.4zM254.3 251h15.4v1h-15.4zM254.3 255h15.4v1h-15.4zM254.3 261h15.4v1h-15.4zM269.8 124.5h15.4v1h-15.4zM269.8 130.6h15.4v1h-15.4zM269.8 139.6h15.4v1h-15.4zM269.8 145.6h15.4v1h-15.4zM269.8 154.6h15.4v1h-15.4zM269.8 161.7h15.4v1h-15.4zM269.8 164.7h15.4v2h-15.4zM269.8 175.7h15.4v1h-15.4zM269.8 187.7h15.4v1h-15.4zM269.8 191.8h15.4v2h-15.4zM269.8 233.9h15.4v1h-15.4zM269.8 237.9h15.4v3h-15.4zM269.8 245.9h15.4v1h-15.4zM269.8 263h15.4v2h-15.4zM285.2 127.5h15.4v1h-15.4zM285.2 131.6h15.4v1h-15.4zM285.2 136.6h15.4v1h-15.4zM285.2 139.6h15.4v1h-15.4zM285.2 173.7h15.4v1h-15.4zM285.2 175.7h15.4v1h-15.4zM285.2 186.7h15.4v1h-15.4zM285.2 226.9h15.4v1h-15.4zM285.2 238.9h15.4v1h-15.4zM285.2 245.9h15.4v1h-15.4zM300.6 124.5h15.4v1h-15.4zM300.6 130.6h15.4v1h-15.4zM300.6 139.6h15.4v1h-15.4zM300.6 145.6h15.4v1h-15.4zM300.6 152.6h15.4v1h-15.4zM300.6 168.7h15.4v1h-15.4zM300.6 186.7h15.4v1h-15.4zM300.6 191.8h15.4v1h-15.4zM316.1 118.5h15.4v1h-15.4zM316.1 130.6h15.4v1h-15.4zM316.1 141.6h15.4v1h-15.4zM316.1 144.6h15.4v1h-15.4zM316.1 158.6h15.4v1h-15.4zM316.1 166.7h15.4v1h-15.4zM316.1 175.7h15.4v1h-15.4zM316.1 184.7h15.4v1h-15.4zM316.1 232.9h15.4v1h-15.4zM316.1 243.9h15.4v1h-15.4z"/><path fill="#ffe4e4" d="M100 145.6h15.4v1h-15.4zM100 191.8h15.4v1h-15.4zM100 216.8h15.4v1h-15.4zM100 222.9h15.4v1h-15.4zM115.4 118.5h15.4v2h-15.4zM115.4 126.5h15.4v1h-15.4zM115.4 130.6h15.4v1h-15.4zM115.4 136.6h15.4v1h-15.4zM115.4 144.6h15.4v1h-15.4zM115.4 154.6h15.4v1h-15.4zM115.4 158.6h15.4v1h-15.4zM115.4 192.8h15.4v1h-15.4zM115.4 194.8h15.4v1h-15.4zM115.4 218.8h15.4v1h-15.4zM115.4 230.9h15.4v1h-15.4zM115.4 243.9h15.4v1h-15.4zM115.4 251h15.4v2h-15.4zM130.9 130.6h15.4v1h-15.4zM130.9 137.6h15.4v1h-15.4zM130.9 162.7h15.4v1h-15.4zM130.9 164.7h15.4v1h-15.4zM130.9 168.7h15.4v1h-15.4zM130.9 171.7h15.4v1h-15.4zM130.9 173.7h15.4v1h-15.4zM130.9 253h15.4v1h-15.4zM130.9 260h15.4v1h-15.4zM146.3 119.5h15.4v1h-15.4zM146.3 122.5h15.4v1h-15.4zM146.3 133.6h15.4v1h-15.4zM146.3 139.6h15.4v2h-15.4zM146.3 142.6h15.4v1h-15.4zM146.3 146.6h15.4v1h-15.4zM146.3 151.6h15.4v1h-15.4zM146.3 157.6h15.4v1h-15.4zM146.3 159.6h15.4v1h-15.4zM146.3 162.7h15.4v2h-15.4zM146.3 172.7h15.4v1h-15.4zM146.3 175.7h15.4v2h-15.4zM146.3 179.7h15.4v1h-15.4zM146.3 185.7h15.4v1h-15.4zM146.3 188.7h15.4v1h-15.4zM161.7 115.5h15.4v3h-15.4zM161.7 127.5h15.4v1h-15.4zM161.7 130.6h15.4v1h-15.4zM161.7 133.6h15.4v2h-15.4zM161.7 141.6h15.4v1h-15.4zM161.7 145.6h15.4v1h-15.4zM161.7 157.6h15.4v1h-15.4zM161.7 184.7h15.4v1h-15.4zM161.7 188.7h15.4v1h-15.4zM161.7 193.8h15.4v1h-15.4zM161.7 236.9h15.4v1h-15.4zM161.7 244.9h15.4v1h-15.4zM177.2 116.5h15.4v1h-15.4zM177.2 122.5h15.4v1h-15.4zM177.2 163.7h15.4v2h-15.4zM177.2 183.7h15.4v1h-15.4zM177.2 238.9h15.4v1h-15.4zM177.2 245.9h15.4v1h-15.4zM177.2 251h15.4v1h-15.4zM192.6 116.5h15.4v1h-15.4zM192.6 130.6h15.4v1h-15.4zM192.6 135.6h15.4v1h-15.4zM192.6 137.6h15.4v1h-15.4zM192.6 141.6h15.4v1h-15.4zM192.6 144.6h15.4v1h-15.4zM192.6 172.7h15.4v1h-15.4zM192.6 175.7h15.4v1h-15.4zM192.6 178.7h15.4v1h-15.4zM192.6 188.7h15.4v1h-15.4zM192.6 193.8h15.4v1h-15.4zM192.6 236.9h15.4v1h-15.4zM192.6 255h15.4v1h-15.4zM208 118.5h15.4v2h-15.4zM208 123.5h15.4v1h-15.4zM208 126.5h15.4v1h-15.4zM208 159.6h15.4v1h-15.4zM208 189.7h15.4v1h-15.4zM208 196.8h15.4v1h-15.4zM208 205.8h15.4v1h-15.4zM208 207.8h15.4v1h-15.4zM208 210.8h15.4v1h-15.4zM208 212.8h15.4v1h-15.4zM208 227.9h15.4v1h-15.4zM208 229.9h15.4v1h-15.4zM223.5 141.6h15.4v1h-15.4zM223.5 151.6h15.4v2h-15.4zM223.5 155.6h15.4v2h-15.4zM223.5 206.8h15.4v1h-15.4zM223.5 208.8h15.4v1h-15.4zM223.5 216.8h15.4v1h-15.4zM223.5 225.9h15.4v1h-15.4zM223.5 228.9h15.4v4h-15.4zM223.5 242.9h15.4v1h-15.4zM223.5 252h15.4v1h-15.4zM238.9 167.7h15.4v1h-15.4zM238.9 189.7h15.4v1h-15.4zM238.9 192.8h15.4v1h-15.4zM238.9 194.8h15.4v1h-15.4zM238.9 198.8h15.4v1h-15.4zM238.9 240.9h15.4v1h-15.4zM238.9 251h15.4v1h-15.4zM238.9 253h15.4v1h-15.4zM238.9 256h15.4v1h-15.4zM238.9 263h15.4v1h-15.4zM254.3 122.5h15.4v1h-15.4zM254.3 140.6h15.4v1h-15.4zM254.3 171.7h15.4v1h-15.4zM254.3 189.7h15.4v1h-15.4zM254.3 205.8h15.4v1h-15.4zM254.3 209.8h15.4v1h-15.4zM254.3 225.9h15.4v1h-15.4zM254.3 236.9h15.4v1h-15.4zM254.3 253h15.4v1h-15.4zM269.8 115.5h15.4v1h-15.4zM269.8 121.5h15.4v1h-15.4zM269.8 137.6h15.4v1h-15.4zM269.8 169.7h15.4v1h-15.4zM269.8 171.7h15.4v1h-15.4zM269.8 193.8h15.4v1h-15.4zM269.8 197.8h15.4v1h-15.4zM269.8 205.8h15.4v1h-15.4zM269.8 208.8h15.4v1h-15.4zM269.8 213.8h15.4v1h-15.4zM269.8 221.9h15.4v1h-15.4zM269.8 224.9h15.4v1h-15.4zM269.8 229.9h15.4v1h-15.4zM269.8 247.9h15.4v1h-15.4zM269.8 249.9h15.4v2h-15.4zM285.2 133.6h15.4v1h-15.4zM285.2 165.7h15.4v1h-15.4zM285.2 189.7h15.4v1h-15.4zM285.2 191.8h15.4v1h-15.4zM285.2 202.8h15.4v2h-15.4zM285.2 207.8h15.4v1h-15.4zM285.2 234.9h15.4v2h-15.4zM285.2 244.9h15.4v1h-15.4zM285.2 248.9h15.4v2h-15.4zM285.2 263h15.4v1h-15.4zM300.6 133.6h15.4v1h-15.4zM300.6 203.8h15.4v1h-15.4zM300.6 217.8h15.4v1h-15.4zM300.6 223.9h15.4v1h-15.4zM300.6 229.9h15.4v1h-15.4zM316.1 159.6h15.4v1h-15.4zM316.1 165.7h15.4v1h-15.4zM316.1 204.8h15.4v1h-15.4zM316.1 218.8h15.4v1h-15.4zM316.1 235.9h15.4v2h-15.4zM316.1 260h15.4v1h-15.4z"/><path fill="#dbdbff" d="M100 116.5h15.4v2h-15.4zM100 120.5h15.4v1h-15.4zM100 136.6h15.4v1h-15.4zM100 140.6h15.4v1h-15.4zM100 207.8h15.4v1h-15.4zM100 211.8h15.4v1h-15.4zM100 238.9h15.4v1h-15.4zM100 251h15.4v1h-15.4zM100 257h15.4v1h-15.4zM115.4 163.7h15.4v1h-15.4zM115.4 170.7h15.4v1h-15.4zM115.4 180.7h15.4v1h-15.4zM115.4 183.7h15.4v1h-15.4zM115.4 190.8h15.4v1h-15.4zM115.4 226.9h15.4v1h-15.4zM115.4 240.9h15.4v1h-15.4zM130.9 211.8h15.4v1h-15.4zM130.9 236.9h15.4v1h-15.4zM130.9 244.9h15.4v1h-15.4zM130.9 262h15.4v1h-15.4zM146.3 180.7h15.4v1h-15.4zM146.3 187.7h15.4v1h-15.4zM146.3 200.8h15.4v1h-15.4zM146.3 214.8h15.4v1h-15.4zM146.3 220.9h15.4v1h-15.4zM146.3 228.9h15.4v1h-15.4zM146.3 233.9h15.4v1h-15.4zM146.3 238.9h15.4v1h-15.4zM146.3 249.9h15.4v1h-15.4zM146.3 262h15.4v2h-15.4zM146.3 265h15.4v1h-15.4zM161.7 171.7h15.4v1h-15.4zM161.7 183.7h15.4v1h-15.4zM161.7 222.9h15.4v1h-15.4zM161.7 228.9h15.4v1h-15.4zM161.7 259h15.4v1h-15.4zM161.7 263h15.4v1h-15.4zM177.2 172.7h15.4v1h-15.4zM177.2 190.8h15.4v1h-15.4zM177.2 192.8h15.4v1h-15.4zM177.2 195.8h15.4v1h-15.4zM177.2 235.9h15.4v1h-15.4zM192.6 201.8h15.4v1h-15.4zM192.6 216.8h15.4v1h-15.4zM192.6 249.9h15.4v1h-15.4zM208 132.6h15.4v1h-15.4zM208 138.6h15.4v1h-15.4zM208 140.6h15.4v1h-15.4zM208 148.6h15.4v1h-15.4zM208 154.6h15.4v1h-15.4zM208 156.6h15.4v1h-15.4zM208 166.7h15.4v1h-15.4zM208 256h15.4v1h-15.4zM208 264h15.4v1h-15.4zM223.5 115.5h15.4v1h-15.4zM223.5 125.5h15.4v1h-15.4zM223.5 133.6h15.4v1h-15.4zM223.5 144.6h15.4v1h-15.4zM223.5 146.6h15.4v1h-15.4zM223.5 181.7h15.4v1h-15.4zM223.5 183.7h15.4v1h-15.4zM223.5 189.7h15.4v1h-15.4zM223.5 191.8h15.4v1h-15.4zM223.5 218.8h15.4v1h-15.4zM238.9 133.6h15.4v1h-15.4zM238.9 137.6h15.4v1h-15.4zM238.9 139.6h15.4v1h-15.4zM238.9 144.6h15.4v1h-15.4zM238.9 153.6h15.4v1h-15.4zM238.9 186.7h15.4v1h-15.4zM238.9 190.8h15.4v1h-15.4zM238.9 215.8h15.4v1h-15.4zM238.9 220.9h15.4v1h-15.4zM254.3 118.5h15.4v1h-15.4zM254.3 126.5h15.4v1h-15.4zM254.3 134.6h15.4v5h-15.4zM254.3 153.6h15.4v1h-15.4zM254.3 165.7h15.4v1h-15.4zM254.3 174.7h15.4v1h-15.4zM254.3 234.9h15.4v1h-15.4zM254.3 248.9h15.4v1h-15.4zM254.3 259h15.4v1h-15.4zM269.8 125.5h15.4v1h-15.4zM269.8 129.5h15.4v1h-15.4zM269.8 136.6h15.4v1h-15.4zM269.8 141.6h15.4v1h-15.4zM269.8 143.6h15.4v1h-15.4zM269.8 147.6h15.4v2h-15.4zM269.8 156.6h15.4v1h-15.4zM269.8 181.7h15.4v1h-15.4zM269.8 186.7h15.4v1h-15.4zM269.8 240.9h15.4v1h-15.4zM285.2 117.5h15.4v1h-15.4zM285.2 120.5h15.4v1h-15.4zM285.2 128.5h15.4v1h-15.4zM285.2 130.6h15.4v1h-15.4zM285.2 146.6h15.4v3h-15.4zM285.2 155.6h15.4v1h-15.4zM285.2 158.6h15.4v1h-15.4zM285.2 160.7h15.4v1h-15.4zM285.2 174.7h15.4v1h-15.4zM285.2 178.7h15.4v1h-15.4zM285.2 228.9h15.4v1h-15.4zM300.6 131.6h15.4v1h-15.4zM300.6 135.6h15.4v1h-15.4zM300.6 154.6h15.4v2h-15.4zM300.6 169.7h15.4v2h-15.4zM300.6 176.7h15.4v1h-15.4zM300.6 182.7h15.4v1h-15.4zM300.6 188.7h15.4v1h-15.4zM316.1 117.5h15.4v1h-15.4zM316.1 125.5h15.4v1h-15.4zM316.1 131.6h15.4v1h-15.4zM316.1 138.6h15.4v1h-15.4zM316.1 147.6h15.4v2h-15.4zM316.1 153.6h15.4v1h-15.4zM316.1 160.7h15.4v1h-15.4zM316.1 169.7h15.4v1h-15.4zM316.1 171.7h15.4v1h-15.4zM316.1 187.7h15.4v2h-15.4zM316.1 190.8h15.4v1h-15.4zM316.1 194.8h15.4v1h-15.4zM316.1 239.9h15.4v1h-15.4z"/><path fill="#c1c1ff" d="M100 178.7h15.4v1h-15.4zM100 181.7h15.4v1h-15.4zM100 188.7h15.4v1h-15.4zM100 252h15.4v1h-15.4zM100 265h15.4v1h-15.4zM115.4 159.6h15.4v2h-15.4zM115.4 172.7h15.4v1h-15.4zM115.4 179.7h15.4v1h-15.4zM115.4 242.9h15.4v1h-15.4zM130.9 204.8h15.4v1h-15.4zM130.9 215.8h15.4v2h-15.4zM130.9 222.9h15.4v1h-15.4zM130.9 226.9h15.4v1h-15.4zM146.3 205.8h15.4v1h-15.4zM146.3 209.8h15.4v1h-15.4zM161.7 199.8h15.4v1h-15.4zM161.7 203.8h15.4v1h-15.4zM161.7 217.8h15.4v1h-15.4zM161.7 255h15.4v1h-15.4zM177.2 207.8h15.4v1h-15.4zM177.2 218.8h15.4v1h-15.4zM192.6 197.8h15.4v1h-15.4zM192.6 202.8h15.4v1h-15.4zM192.6 206.8h15.4v1h-15.4zM192.6 209.8h15.4v2h-15.4zM192.6 217.8h15.4v1h-15.4zM192.6 223.9h15.4v1h-15.4zM192.6 231.9h15.4v1h-15.4zM208 129.5h15.4v2h-15.4zM208 139.6h15.4v1h-15.4zM208 145.6h15.4v1h-15.4zM208 147.6h15.4v1h-15.4zM208 152.6h15.4v2h-15.4zM223.5 159.6h15.4v1h-15.4zM223.5 162.7h15.4v1h-15.4zM223.5 169.7h15.4v1h-15.4zM223.5 190.8h15.4v1h-15.4zM223.5 197.8h15.4v1h-15.4zM238.9 115.5h15.4v1h-15.4zM238.9 123.5h15.4v1h-15.4zM254.3 127.5h15.4v1h-15.4zM254.3 133.6h15.4v1h-15.4zM254.3 145.6h15.4v1h-15.4zM254.3 192.8h15.4v1h-15.4zM254.3 249.9h15.4v1h-15.4zM269.8 254h15.4v2h-15.4zM285.2 144.6h15.4v1h-15.4zM300.6 115.5h15.4v1h-15.4zM300.6 117.5h15.4v1h-15.4zM300.6 120.5h15.4v2h-15.4zM300.6 136.6h15.4v1h-15.4zM300.6 149.6h15.4v1h-15.4zM300.6 153.6h15.4v1h-15.4zM300.6 173.7h15.4v1h-15.4zM300.6 179.7h15.4v1h-15.4zM300.6 187.7h15.4v1h-15.4zM316.1 132.6h15.4v1h-15.4zM316.1 156.6h15.4v1h-15.4z"/><path fill="#f6f6ff" d="M100 123.5h15.4v1h-15.4zM100 126.5h15.4v3h-15.4zM100 131.6h15.4v1h-15.4zM100 142.6h15.4v1h-15.4zM100 146.6h15.4v1h-15.4zM100 165.7h15.4v1h-15.4zM100 173.7h15.4v2h-15.4zM100 186.7h15.4v1h-15.4zM100 206.8h15.4v1h-15.4zM100 210.8h15.4v1h-15.4zM100 213.8h15.4v1h-15.4zM100 223.9h15.4v3h-15.4zM100 232.9h15.4v1h-15.4zM100 237.9h15.4v1h-15.4zM100 247.9h15.4v1h-15.4zM100 254h15.4v1h-15.4zM115.4 117.5h15.4v1h-15.4zM115.4 124.5h15.4v1h-15.4zM115.4 146.6h15.4v1h-15.4zM115.4 149.6h15.4v1h-15.4zM115.4 161.7h15.4v1h-15.4zM115.4 166.7h15.4v1h-15.4zM115.4 173.7h15.4v1h-15.4zM115.4 175.7h15.4v1h-15.4zM115.4 184.7h15.4v1h-15.4zM115.4 189.7h15.4v1h-15.4zM115.4 198.8h15.4v1h-15.4zM115.4 204.8h15.4v1h-15.4zM115.4 206.8h15.4v1h-15.4zM115.4 223.9h15.4v1h-15.4zM115.4 238.9h15.4v1h-15.4zM130.9 138.6h15.4v1h-15.4zM130.9 165.7h15.4v1h-15.4zM130.9 249.9h15.4v1h-15.4zM146.3 121.5h15.4v1h-15.4zM146.3 129.5h15.4v1h-15.4zM146.3 131.6h15.4v1h-15.4zM146.3 149.6h15.4v1h-15.4zM146.3 167.7h15.4v1h-15.4zM146.3 170.7h15.4v1h-15.4zM146.3 177.7h15.4v1h-15.4zM146.3 181.7h15.4v2h-15.4zM146.3 189.7h15.4v1h-15.4zM146.3 211.8h15.4v1h-15.4zM146.3 223.9h15.4v1h-15.4zM146.3 245.9h15.4v2h-15.4zM146.3 253h15.4v1h-15.4zM161.7 168.7h15.4v1h-15.4zM161.7 170.7h15.4v1h-15.4zM161.7 215.8h15.4v1h-15.4zM161.7 226.9h15.4v1h-15.4zM161.7 230.9h15.4v1h-15.4zM161.7 233.9h15.4v1h-15.4zM161.7 241.9h15.4v1h-15.4zM161.7 245.9h15.4v1h-15.4zM161.7 247.9h15.4v1h-15.4zM161.7 251h15.4v1h-15.4zM161.7 258h15.4v1h-15.4zM177.2 169.7h15.4v1h-15.4zM177.2 171.7h15.4v1h-15.4zM177.2 175.7h15.4v1h-15.4zM177.2 179.7h15.4v1h-15.4zM177.2 186.7h15.4v1h-15.4zM177.2 188.7h15.4v1h-15.4zM177.2 241.9h15.4v1h-15.4zM177.2 243.9h15.4v2h-15.4zM192.6 187.7h15.4v1h-15.4zM192.6 237.9h15.4v1h-15.4zM192.6 239.9h15.4v1h-15.4zM192.6 242.9h15.4v1h-15.4zM192.6 248.9h15.4v1h-15.4zM192.6 251h15.4v1h-15.4zM192.6 256h15.4v1h-15.4zM192.6 262h15.4v1h-15.4zM208 117.5h15.4v1h-15.4zM208 160.7h15.4v1h-15.4zM208 171.7h15.4v1h-15.4zM208 177.7h15.4v1h-15.4zM208 186.7h15.4v3h-15.4zM208 208.8h15.4v1h-15.4zM208 223.9h15.4v2h-15.4zM208 233.9h15.4v1h-15.4zM208 248.9h15.4v1h-15.4zM208 265h15.4v1h-15.4zM223.5 121.5h15.4v1h-15.4zM223.5 135.6h15.4v1h-15.4zM223.5 157.6h15.4v2h-15.4zM223.5 222.9h15.4v1h-15.4zM238.9 129.5h15.4v2h-15.4zM238.9 141.6h15.4v1h-15.4zM238.9 148.6h15.4v1h-15.4zM238.9 155.6h15.4v1h-15.4zM238.9 164.7h15.4v1h-15.4zM238.9 169.7h15.4v1h-15.4zM238.9 179.7h15.4v1h-15.4zM238.9 187.7h15.4v1h-15.4zM238.9 216.8h15.4v2h-15.4zM238.9 229.9h15.4v1h-15.4zM238.9 242.9h15.4v3h-15.4zM238.9 246.9h15.4v1h-15.4zM254.3 115.5h15.4v3h-15.4zM254.3 123.5h15.4v2h-15.4zM254.3 139.6h15.4v1h-15.4zM254.3 141.6h15.4v1h-15.4zM254.3 149.6h15.4v1h-15.4zM254.3 168.7h15.4v1h-15.4zM254.3 176.7h15.4v1h-15.4zM254.3 194.8h15.4v2h-15.4zM254.3 229.9h15.4v1h-15.4zM254.3 241.9h15.4v1h-15.4zM254.3 243.9h15.4v2h-15.4zM254.3 252h15.4v1h-15.4zM254.3 263h15.4v1h-15.4zM269.8 134.6h15.4v2h-15.4zM269.8 140.6h15.4v1h-15.4zM269.8 160.7h15.4v1h-15.4zM269.8 162.7h15.4v1h-15.4zM269.8 166.7h15.4v1h-15.4zM269.8 174.7h15.4v1h-15.4zM269.8 182.7h15.4v2h-15.4zM269.8 189.7h15.4v1h-15.4zM269.8 228.9h15.4v1h-15.4zM269.8 231.9h15.4v1h-15.4zM269.8 257h15.4v1h-15.4zM269.8 260h15.4v1h-15.4zM269.8 265h15.4v1h-15.4zM285.2 123.5h15.4v1h-15.4zM285.2 125.5h15.4v1h-15.4zM285.2 132.6h15.4v1h-15.4zM285.2 157.6h15.4v1h-15.4zM285.2 166.7h15.4v1h-15.4zM285.2 169.7h15.4v1h-15.4zM285.2 187.7h15.4v1h-15.4zM285.2 212.8h15.4v1h-15.4zM285.2 216.8h15.4v1h-15.4zM285.2 236.9h15.4v1h-15.4zM285.2 243.9h15.4v1h-15.4zM285.2 251h15.4v1h-15.4zM300.6 125.5h15.4v1h-15.4zM300.6 134.6h15.4v1h-15.4zM300.6 143.6h15.4v1h-15.4zM300.6 163.7h15.4v1h-15.4zM300.6 174.7h15.4v1h-15.4zM300.6 189.7h15.4v1h-15.4zM300.6 195.8h15.4v1h-15.4zM300.6 241.9h15.4v2h-15.4zM300.6 249.9h15.4v2h-15.4zM316.1 164.7h15.4v1h-15.4zM316.1 170.7h15.4v1h-15.4zM316.1 178.7h15.4v1h-15.4zM316.1 186.7h15.4v1h-15.4zM316.1 191.8h15.4v1h-15.4zM316.1 245.9h15.4v1h-15.4zM316.1 249.9h15.4v1h-15.4zM316.1 263h15.4v1h-15.4z"/><path fill="#fff6f6" d="M100 129.5h15.4v1h-15.4zM100 133.6h15.4v1h-15.4zM100 139.6h15.4v1h-15.4zM100 162.7h15.4v2h-15.4zM100 192.8h15.4v1h-15.4zM100 212.8h15.4v1h-15.4zM100 228.9h15.4v1h-15.4zM100 240.9h15.4v1h-15.4zM100 243.9h15.4v1h-15.4zM100 246.9h15.4v1h-15.4zM100 261h15.4v2h-15.4zM115.4 116.5h15.4v1h-15.4zM115.4 151.6h15.4v2h-15.4zM115.4 195.8h15.4v3h-15.4zM115.4 209.8h15.4v1h-15.4zM115.4 222.9h15.4v1h-15.4zM115.4 228.9h15.4v1h-15.4zM115.4 247.9h15.4v1h-15.4zM115.4 254h15.4v1h-15.4zM115.4 260h15.4v1h-15.4zM115.4 263h15.4v2h-15.4zM130.9 117.5h15.4v1h-15.4zM130.9 132.6h15.4v1h-15.4zM130.9 145.6h15.4v1h-15.4zM130.9 153.6h15.4v1h-15.4zM130.9 158.6h15.4v1h-15.4zM130.9 182.7h15.4v2h-15.4zM130.9 197.8h15.4v1h-15.4zM130.9 255h15.4v1h-15.4zM130.9 263h15.4v1h-15.4zM146.3 169.7h15.4v1h-15.4zM146.3 171.7h15.4v1h-15.4zM146.3 173.7h15.4v1h-15.4zM146.3 184.7h15.4v1h-15.4zM146.3 190.8h15.4v1h-15.4zM146.3 207.8h15.4v1h-15.4zM146.3 259h15.4v1h-15.4zM161.7 118.5h15.4v2h-15.4zM161.7 122.5h15.4v1h-15.4zM161.7 126.5h15.4v1h-15.4zM161.7 154.6h15.4v1h-15.4zM161.7 160.7h15.4v2h-15.4zM161.7 180.7h15.4v2h-15.4zM161.7 186.7h15.4v1h-15.4zM161.7 231.9h15.4v1h-15.4zM161.7 235.9h15.4v1h-15.4zM161.7 257h15.4v1h-15.4zM177.2 119.5h15.4v1h-15.4zM177.2 124.5h15.4v1h-15.4zM177.2 159.6h15.4v1h-15.4zM177.2 161.7h15.4v2h-15.4zM177.2 165.7h15.4v2h-15.4zM177.2 227.9h15.4v1h-15.4zM177.2 247.9h15.4v1h-15.4zM177.2 262h15.4v1h-15.4zM192.6 127.5h15.4v1h-15.4zM192.6 164.7h15.4v1h-15.4zM192.6 183.7h15.4v2h-15.4zM192.6 225.9h15.4v1h-15.4zM192.6 238.9h15.4v1h-15.4zM192.6 246.9h15.4v1h-15.4zM192.6 261h15.4v1h-15.4zM192.6 263h15.4v1h-15.4zM208 124.5h15.4v1h-15.4zM208 128.5h15.4v1h-15.4zM208 157.6h15.4v1h-15.4zM208 162.7h15.4v1h-15.4zM208 170.7h15.4v1h-15.4zM208 172.7h15.4v1h-15.4zM208 180.7h15.4v1h-15.4zM208 195.8h15.4v1h-15.4zM208 202.8h15.4v1h-15.4zM208 206.8h15.4v1h-15.4zM208 213.8h15.4v1h-15.4zM208 216.8h15.4v1h-15.4zM208 236.9h15.4v1h-15.4zM208 243.9h15.4v1h-15.4zM208 247.9h15.4v1h-15.4zM208 252h15.4v2h-15.4zM208 257h15.4v1h-15.4zM223.5 116.5h15.4v1h-15.4zM223.5 126.5h15.4v1h-15.4zM223.5 131.6h15.4v1h-15.4zM223.5 138.6h15.4v1h-15.4zM223.5 142.6h15.4v2h-15.4zM223.5 147.6h15.4v1h-15.4zM223.5 150.6h15.4v1h-15.4zM223.5 153.6h15.4v1h-15.4zM223.5 212.8h15.4v1h-15.4zM223.5 245.9h15.4v2h-15.4zM223.5 249.9h15.4v1h-15.4zM238.9 132.6h15.4v1h-15.4zM238.9 136.6h15.4v1h-15.4zM238.9 158.6h15.4v1h-15.4zM238.9 161.7h15.4v1h-15.4zM238.9 170.7h15.4v1h-15.4zM238.9 176.7h15.4v1h-15.4zM238.9 183.7h15.4v1h-15.4zM238.9 195.8h15.4v2h-15.4zM238.9 202.8h15.4v1h-15.4zM238.9 212.8h15.4v2h-15.4zM238.9 219.8h15.4v1h-15.4zM238.9 225.9h15.4v2h-15.4zM238.9 230.9h15.4v1h-15.4zM238.9 234.9h15.4v1h-15.4zM238.9 257h15.4v1h-15.4zM238.9 262h15.4v1h-15.4zM254.3 148.6h15.4v1h-15.4zM254.3 177.7h15.4v1h-15.4zM254.3 213.8h15.4v1h-15.4zM254.3 224.9h15.4v1h-15.4zM254.3 233.9h15.4v1h-15.4zM254.3 240.9h15.4v1h-15.4zM254.3 262h15.4v1h-15.4zM269.8 118.5h15.4v1h-15.4zM269.8 128.5h15.4v1h-15.4zM269.8 132.6h15.4v1h-15.4zM269.8 146.6h15.4v1h-15.4zM269.8 202.8h15.4v1h-15.4zM269.8 219.8h15.4v1h-15.4zM269.8 227.9h15.4v1h-15.4zM269.8 236.9h15.4v1h-15.4zM269.8 252h15.4v1h-15.4zM269.8 258h15.4v1h-15.4zM269.8 261h15.4v1h-15.4zM285.2 167.7h15.4v2h-15.4zM285.2 170.7h15.4v1h-15.4zM285.2 180.7h15.4v3h-15.4zM285.2 190.8h15.4v1h-15.4zM285.2 194.8h15.4v1h-15.4zM285.2 206.8h15.4v1h-15.4zM285.2 210.8h15.4v1h-15.4zM285.2 217.8h15.4v1h-15.4zM285.2 220.9h15.4v1h-15.4zM285.2 224.9h15.4v1h-15.4zM285.2 260h15.4v2h-15.4zM300.6 150.6h15.4v1h-15.4zM300.6 196.8h15.4v1h-15.4zM300.6 202.8h15.4v1h-15.4zM300.6 232.9h15.4v1h-15.4zM300.6 239.9h15.4v1h-15.4zM300.6 254h15.4v1h-15.4zM316.1 121.5h15.4v1h-15.4zM316.1 123.5h15.4v1h-15.4zM316.1 127.5h15.4v1h-15.4zM316.1 135.6h15.4v1h-15.4zM316.1 137.6h15.4v1h-15.4zM316.1 139.6h15.4v1h-15.4zM316.1 149.6h15.4v1h-15.4zM316.1 161.7h15.4v2h-15.4zM316.1 192.8h15.4v1h-15.4zM316.1 205.8h15.4v1h-15.4zM316.1 234.9h15.4v1h-15.4zM316.1 237.9h15.4v1h-15.4zM316.1 242.9h15.4v1h-15.4zM316.1 258h15.4v1h-15.4zM316.1 261h15.4v2h-15.4z"/><path fill="#c9c9ff" d="M100 157.6h15.4v1h-15.4zM100 169.7h15.4v3h-15.4zM100 182.7h15.4v1h-15.4zM100 226.9h15.4v1h-15.4zM100 253h15.4v1h-15.4zM115.4 164.7h15.4v1h-15.4zM115.4 178.7h15.4v1h-15.4zM115.4 181.7h15.4v1h-15.4zM115.4 215.8h15.4v1h-15.4zM130.9 227.9h15.4v1h-15.4zM130.9 238.9h15.4v2h-15.4zM146.3 213.8h15.4v1h-15.4zM146.3 219.8h15.4v1h-15.4zM146.3 232.9h15.4v1h-15.4zM161.7 205.8h15.4v1h-15.4zM161.7 221.9h15.4v1h-15.4zM161.7 254h15.4v1h-15.4zM161.7 265h15.4v1h-15.4zM177.2 216.8h15.4v1h-15.4zM177.2 219.8h15.4v2h-15.4zM177.2 264h15.4v1h-15.4zM192.6 191.8h15.4v1h-15.4zM192.6 207.8h15.4v1h-15.4zM192.6 211.8h15.4v1h-15.4zM192.6 219.8h15.4v1h-15.4zM192.6 245.9h15.4v1h-15.4zM192.6 265h15.4v1h-15.4zM208 131.6h15.4v1h-15.4zM208 133.6h15.4v1h-15.4zM223.5 167.7h15.4v1h-15.4zM223.5 180.7h15.4v1h-15.4zM223.5 194.8h15.4v1h-15.4zM238.9 116.5h15.4v1h-15.4zM238.9 119.5h15.4v1h-15.4zM238.9 125.5h15.4v1h-15.4zM238.9 151.6h15.4v1h-15.4zM238.9 165.7h15.4v1h-15.4zM254.3 152.6h15.4v1h-15.4zM254.3 162.7h15.4v1h-15.4zM269.8 152.6h15.4v1h-15.4zM269.8 155.6h15.4v1h-15.4zM269.8 158.6h15.4v1h-15.4zM269.8 167.7h15.4v1h-15.4zM269.8 188.7h15.4v1h-15.4zM269.8 262h15.4v1h-15.4zM285.2 121.5h15.4v1h-15.4zM285.2 129.5h15.4v1h-15.4zM285.2 141.6h15.4v1h-15.4zM285.2 152.6h15.4v1h-15.4zM285.2 237.9h15.4v1h-15.4zM300.6 123.5h15.4v1h-15.4zM300.6 129.5h15.4v1h-15.4zM300.6 157.6h15.4v1h-15.4zM300.6 167.7h15.4v1h-15.4zM300.6 171.7h15.4v2h-15.4zM300.6 177.7h15.4v1h-15.4zM300.6 181.7h15.4v1h-15.4zM300.6 183.7h15.4v1h-15.4zM300.6 192.8h15.4v1h-15.4zM316.1 126.5h15.4v1h-15.4zM316.1 146.6h15.4v1h-15.4zM316.1 179.7h15.4v1h-15.4zM316.1 189.7h15.4v1h-15.4z"/><path fill="#d2d2ff" d="M100 118.5h15.4v1h-15.4zM100 144.6h15.4v1h-15.4zM100 156.6h15.4v1h-15.4zM100 159.6h15.4v2h-15.4zM100 164.7h15.4v1h-15.4zM100 167.7h15.4v1h-15.4zM100 172.7h15.4v1h-15.4zM100 177.7h15.4v1h-15.4zM100 185.7h15.4v1h-15.4zM100 187.7h15.4v1h-15.4zM100 204.8h15.4v1h-15.4zM100 219.8h15.4v1h-15.4zM100 229.9h15.4v1h-15.4zM100 235.9h15.4v2h-15.4zM100 248.9h15.4v1h-15.4zM100 255h15.4v1h-15.4zM100 264h15.4v1h-15.4zM115.4 165.7h15.4v1h-15.4zM115.4 186.7h15.4v2h-15.4zM115.4 233.9h15.4v1h-15.4zM115.4 237.9h15.4v1h-15.4zM115.4 239.9h15.4v1h-15.4zM130.9 203.8h15.4v1h-15.4zM130.9 214.8h15.4v1h-15.4zM130.9 218.8h15.4v1h-15.4zM130.9 220.9h15.4v1h-15.4zM130.9 223.9h15.4v1h-15.4zM130.9 237.9h15.4v1h-15.4zM130.9 242.9h15.4v2h-15.4zM130.9 258h15.4v1h-15.4zM146.3 178.7h15.4v1h-15.4zM146.3 199.8h15.4v1h-15.4zM146.3 206.8h15.4v1h-15.4zM146.3 210.8h15.4v1h-15.4zM146.3 212.8h15.4v1h-15.4zM146.3 217.8h15.4v1h-15.4zM146.3 222.9h15.4v1h-15.4zM146.3 227.9h15.4v1h-15.4zM146.3 231.9h15.4v1h-15.4zM146.3 260h15.4v2h-15.4zM146.3 264h15.4v1h-15.4zM161.7 218.8h15.4v1h-15.4zM161.7 223.9h15.4v1h-15.4zM161.7 232.9h15.4v1h-15.4zM177.2 194.8h15.4v1h-15.4zM177.2 226.9h15.4v1h-15.4zM177.2 239.9h15.4v1h-15.4zM192.6 125.5h15.4v1h-15.4zM192.6 208.8h15.4v1h-15.4zM192.6 222.9h15.4v1h-15.4zM192.6 227.9h15.4v1h-15.4zM208 137.6h15.4v1h-15.4zM208 149.6h15.4v1h-15.4zM208 164.7h15.4v1h-15.4zM223.5 145.6h15.4v1h-15.4zM223.5 163.7h15.4v1h-15.4zM223.5 187.7h15.4v1h-15.4zM223.5 195.8h15.4v1h-15.4zM238.9 140.6h15.4v1h-15.4zM238.9 146.6h15.4v1h-15.4zM238.9 152.6h15.4v1h-15.4zM238.9 156.6h15.4v1h-15.4zM238.9 162.7h15.4v1h-15.4zM254.3 132.6h15.4v1h-15.4zM254.3 144.6h15.4v1h-15.4zM254.3 146.6h15.4v1h-15.4zM254.3 154.6h15.4v1h-15.4zM254.3 163.7h15.4v1h-15.4zM254.3 191.8h15.4v1h-15.4zM254.3 245.9h15.4v1h-15.4zM269.8 116.5h15.4v1h-15.4zM269.8 144.6h15.4v1h-15.4zM269.8 151.6h15.4v1h-15.4zM269.8 157.6h15.4v1h-15.4zM269.8 159.6h15.4v1h-15.4zM269.8 173.7h15.4v1h-15.4zM269.8 176.7h15.4v1h-15.4zM269.8 184.7h15.4v1h-15.4zM285.2 126.5h15.4v1h-15.4zM285.2 137.6h15.4v1h-15.4zM285.2 145.6h15.4v1h-15.4zM285.2 150.6h15.4v2h-15.4zM285.2 177.7h15.4v1h-15.4zM285.2 179.7h15.4v1h-15.4zM300.6 119.5h15.4v1h-15.4zM300.6 126.5h15.4v1h-15.4zM300.6 137.6h15.4v2h-15.4zM300.6 146.6h15.4v1h-15.4zM300.6 156.6h15.4v1h-15.4zM300.6 175.7h15.4v1h-15.4zM300.6 178.7h15.4v1h-15.4zM300.6 180.7h15.4v1h-15.4zM300.6 184.7h15.4v1h-15.4zM300.6 197.8h15.4v1h-15.4zM300.6 261h15.4v1h-15.4zM316.1 133.6h15.4v2h-15.4zM316.1 151.6h15.4v2h-15.4zM316.1 154.6h15.4v2h-15.4zM316.1 183.7h15.4v1h-15.4z"/><path fill="#9d9dff" d="M130.9 198.8h15.4v1h-15.4zM130.9 209.8h15.4v1h-15.4zM161.7 213.8h15.4v1h-15.4zM177.2 205.8h15.4v1h-15.4zM177.2 208.8h15.4v2h-15.4zM177.2 221.9h15.4v1h-15.4zM192.6 199.8h15.4v2h-15.4zM192.6 205.8h15.4v1h-15.4zM223.5 170.7h15.4v1h-15.4zM300.6 116.5h15.4v1h-15.4z"/><path fill="#ffa6a6" d="M130.9 122.5h15.4v1h-15.4zM130.9 156.6h15.4v1h-15.4zM130.9 196.8h15.4v1h-15.4zM146.3 117.5h15.4v1h-15.4zM161.7 147.6h15.4v1h-15.4zM161.7 152.6h15.4v1h-15.4zM177.2 131.6h15.4v1h-15.4zM177.2 135.6h15.4v1h-15.4zM177.2 182.7h15.4v1h-15.4zM192.6 149.6h15.4v1h-15.4zM192.6 158.6h15.4v1h-15.4zM223.5 200.8h15.4v1h-15.4zM223.5 210.8h15.4v1h-15.4zM223.5 255h15.4v1h-15.4zM223.5 262h15.4v1h-15.4zM316.1 211.8h15.4v1h-15.4z"/><path fill="#ffeded" d="M100 135.6h15.4v1h-15.4zM100 141.6h15.4v1h-15.4zM100 154.6h15.4v1h-15.4zM100 175.7h15.4v1h-15.4zM100 205.8h15.4v1h-15.4zM100 220.9h15.4v1h-15.4zM115.4 121.5h15.4v1h-15.4zM115.4 135.6h15.4v1h-15.4zM115.4 141.6h15.4v1h-15.4zM115.4 145.6h15.4v1h-15.4zM115.4 156.6h15.4v1h-15.4zM115.4 174.7h15.4v1h-15.4zM115.4 210.8h15.4v1h-15.4zM115.4 212.8h15.4v1h-15.4zM115.4 214.8h15.4v1h-15.4zM115.4 236.9h15.4v1h-15.4zM115.4 245.9h15.4v1h-15.4zM115.4 249.9h15.4v1h-15.4zM115.4 253h15.4v1h-15.4zM115.4 256h15.4v1h-15.4zM115.4 258h15.4v1h-15.4zM115.4 262h15.4v1h-15.4zM130.9 118.5h15.4v2h-15.4zM130.9 126.5h15.4v1h-15.4zM130.9 131.6h15.4v1h-15.4zM130.9 136.6h15.4v1h-15.4zM130.9 140.6h15.4v1h-15.4zM130.9 148.6h15.4v1h-15.4zM130.9 151.6h15.4v2h-15.4zM130.9 161.7h15.4v1h-15.4zM130.9 163.7h15.4v1h-15.4zM130.9 177.7h15.4v3h-15.4zM130.9 187.7h15.4v1h-15.4zM130.9 228.9h15.4v2h-15.4zM130.9 246.9h15.4v1h-15.4zM130.9 254h15.4v1h-15.4zM146.3 120.5h15.4v1h-15.4zM146.3 130.6h15.4v1h-15.4zM146.3 145.6h15.4v1h-15.4zM146.3 147.6h15.4v1h-15.4zM146.3 154.6h15.4v2h-15.4zM146.3 168.7h15.4v1h-15.4zM146.3 240.9h15.4v3h-15.4zM161.7 124.5h15.4v1h-15.4zM161.7 131.6h15.4v2h-15.4zM161.7 149.6h15.4v1h-15.4zM161.7 158.6h15.4v2h-15.4zM161.7 167.7h15.4v1h-15.4zM161.7 172.7h15.4v1h-15.4zM161.7 175.7h15.4v1h-15.4zM161.7 182.7h15.4v1h-15.4zM161.7 190.8h15.4v2h-15.4zM161.7 239.9h15.4v2h-15.4zM161.7 246.9h15.4v1h-15.4zM161.7 249.9h15.4v1h-15.4zM161.7 256h15.4v1h-15.4zM177.2 123.5h15.4v1h-15.4zM177.2 125.5h15.4v1h-15.4zM177.2 170.7h15.4v1h-15.4zM177.2 173.7h15.4v1h-15.4zM177.2 176.7h15.4v1h-15.4zM177.2 185.7h15.4v1h-15.4zM177.2 187.7h15.4v1h-15.4zM177.2 230.9h15.4v1h-15.4zM177.2 252h15.4v1h-15.4zM177.2 259h15.4v1h-15.4zM177.2 263h15.4v1h-15.4zM192.6 122.5h15.4v1h-15.4zM192.6 140.6h15.4v1h-15.4zM192.6 145.6h15.4v2h-15.4zM192.6 152.6h15.4v1h-15.4zM192.6 156.6h15.4v1h-15.4zM192.6 160.7h15.4v1h-15.4zM192.6 166.7h15.4v1h-15.4zM192.6 179.7h15.4v1h-15.4zM192.6 240.9h15.4v1h-15.4zM192.6 253h15.4v1h-15.4zM192.6 258h15.4v1h-15.4zM192.6 260h15.4v1h-15.4zM208 190.8h15.4v2h-15.4zM208 193.8h15.4v2h-15.4zM208 198.8h15.4v3h-15.4zM208 211.8h15.4v1h-15.4zM208 228.9h15.4v1h-15.4zM208 232.9h15.4v1h-15.4zM208 240.9h15.4v1h-15.4zM208 246.9h15.4v1h-15.4zM208 260h15.4v2h-15.4zM223.5 117.5h15.4v2h-15.4zM223.5 122.5h15.4v1h-15.4zM223.5 128.5h15.4v2h-15.4zM223.5 137.6h15.4v1h-15.4zM223.5 149.6h15.4v1h-15.4zM223.5 214.8h15.4v1h-15.4zM223.5 236.9h15.4v3h-15.4zM223.5 247.9h15.4v2h-15.4zM238.9 166.7h15.4v1h-15.4zM238.9 172.7h15.4v2h-15.4zM238.9 199.8h15.4v1h-15.4zM238.9 210.8h15.4v1h-15.4zM238.9 214.8h15.4v1h-15.4zM238.9 224.9h15.4v1h-15.4zM238.9 239.9h15.4v1h-15.4zM238.9 254h15.4v1h-15.4zM238.9 259h15.4v1h-15.4zM238.9 265h15.4v1h-15.4zM254.3 147.6h15.4v1h-15.4zM254.3 173.7h15.4v1h-15.4zM254.3 186.7h15.4v1h-15.4zM254.3 190.8h15.4v1h-15.4zM254.3 196.8h15.4v1h-15.4zM254.3 214.8h15.4v1h-15.4zM254.3 216.8h15.4v1h-15.4zM254.3 220.9h15.4v1h-15.4zM254.3 230.9h15.4v1h-15.4zM254.3 238.9h15.4v1h-15.4zM254.3 254h15.4v1h-15.4zM254.3 256h15.4v1h-15.4zM269.8 119.5h15.4v1h-15.4zM269.8 172.7h15.4v1h-15.4zM269.8 196.8h15.4v1h-15.4zM269.8 198.8h15.4v1h-15.4zM269.8 215.8h15.4v1h-15.4zM269.8 220.9h15.4v1h-15.4zM269.8 222.9h15.4v1h-15.4zM269.8 234.9h15.4v2h-15.4zM269.8 243.9h15.4v1h-15.4zM269.8 259h15.4v1h-15.4zM285.2 122.5h15.4v1h-15.4zM285.2 183.7h15.4v2h-15.4zM285.2 193.8h15.4v1h-15.4zM285.2 195.8h15.4v1h-15.4zM285.2 230.9h15.4v1h-15.4zM285.2 239.9h15.4v1h-15.4zM285.2 256h15.4v1h-15.4zM285.2 262h15.4v1h-15.4zM285.2 264h15.4v1h-15.4zM300.6 142.6h15.4v1h-15.4zM300.6 144.6h15.4v1h-15.4zM300.6 218.8h15.4v1h-15.4zM300.6 225.9h15.4v1h-15.4zM300.6 248.9h15.4v1h-15.4zM300.6 253h15.4v1h-15.4zM300.6 258h15.4v1h-15.4zM300.6 263h15.4v1h-15.4zM316.1 129.5h15.4v1h-15.4zM316.1 167.7h15.4v1h-15.4zM316.1 193.8h15.4v1h-15.4zM316.1 215.8h15.4v1h-15.4zM316.1 219.8h15.4v1h-15.4zM316.1 230.9h15.4v1h-15.4zM316.1 233.9h15.4v1h-15.4zM316.1 238.9h15.4v1h-15.4zM316.1 240.9h15.4v1h-15.4zM316.1 244.9h15.4v1h-15.4zM316.1 247.9h15.4v2h-15.4zM316.1 255h15.4v1h-15.4zM316.1 264h15.4v2h-15.4z"/><path fill="#b8b8ff" d="M100 155.6h15.4v1h-15.4zM100 183.7h15.4v1h-15.4zM115.4 169.7h15.4v1h-15.4zM115.4 171.7h15.4v1h-15.4zM130.9 199.8h15.4v2h-15.4zM130.9 212.8h15.4v1h-15.4zM130.9 219.8h15.4v1h-15.4zM146.3 198.8h15.4v1h-15.4zM146.3 201.8h15.4v2h-15.4zM146.3 204.8h15.4v1h-15.4zM161.7 201.8h15.4v1h-15.4zM161.7 204.8h15.4v1h-15.4zM161.7 214.8h15.4v1h-15.4zM161.7 219.8h15.4v1h-15.4zM161.7 227.9h15.4v1h-15.4zM161.7 252h15.4v1h-15.4zM177.2 197.8h15.4v1h-15.4zM177.2 202.8h15.4v1h-15.4zM177.2 214.8h15.4v1h-15.4zM177.2 217.8h15.4v1h-15.4zM177.2 223.9h15.4v3h-15.4zM192.6 198.8h15.4v1h-15.4zM192.6 212.8h15.4v1h-15.4zM192.6 214.8h15.4v1h-15.4zM192.6 218.8h15.4v1h-15.4zM208 141.6h15.4v1h-15.4zM208 144.6h15.4v1h-15.4zM208 146.6h15.4v1h-15.4zM208 151.6h15.4v1h-15.4zM223.5 161.7h15.4v1h-15.4zM223.5 164.7h15.4v1h-15.4zM223.5 166.7h15.4v1h-15.4zM223.5 175.7h15.4v1h-15.4zM223.5 179.7h15.4v1h-15.4zM238.9 117.5h15.4v1h-15.4zM238.9 120.5h15.4v2h-15.4zM238.9 128.5h15.4v1h-15.4zM254.3 125.5h15.4v1h-15.4zM254.3 161.7h15.4v1h-15.4zM285.2 124.5h15.4v1h-15.4zM285.2 143.6h15.4v1h-15.4zM300.6 127.5h15.4v1h-15.4zM300.6 132.6h15.4v1h-15.4zM300.6 185.7h15.4v1h-15.4z"/><path fill="#ffc9c9" d="M115.4 127.5h15.4v2h-15.4zM115.4 139.6h15.4v1h-15.4zM115.4 143.6h15.4v1h-15.4zM115.4 153.6h15.4v1h-15.4zM115.4 219.8h15.4v1h-15.4zM115.4 244.9h15.4v1h-15.4zM130.9 139.6h15.4v1h-15.4zM130.9 149.6h15.4v1h-15.4zM130.9 154.6h15.4v1h-15.4zM130.9 172.7h15.4v1h-15.4zM130.9 181.7h15.4v1h-15.4zM146.3 118.5h15.4v1h-15.4zM146.3 150.6h15.4v1h-15.4zM146.3 160.7h15.4v1h-15.4zM161.7 121.5h15.4v1h-15.4zM161.7 142.6h15.4v1h-15.4zM161.7 144.6h15.4v1h-15.4zM177.2 129.5h15.4v2h-15.4zM177.2 133.6h15.4v1h-15.4zM177.2 137.6h15.4v1h-15.4zM177.2 143.6h15.4v1h-15.4zM177.2 155.6h15.4v3h-15.4zM177.2 229.9h15.4v1h-15.4zM177.2 249.9h15.4v1h-15.4zM192.6 151.6h15.4v1h-15.4zM192.6 163.7h15.4v1h-15.4zM192.6 169.7h15.4v2h-15.4zM192.6 189.7h15.4v1h-15.4zM192.6 257h15.4v1h-15.4zM192.6 259h15.4v1h-15.4zM208 122.5h15.4v1h-15.4zM208 251h15.4v1h-15.4zM223.5 120.5h15.4v1h-15.4zM223.5 130.6h15.4v1h-15.4zM223.5 136.6h15.4v1h-15.4zM223.5 199.8h15.4v1h-15.4zM223.5 204.8h15.4v1h-15.4zM223.5 207.8h15.4v1h-15.4zM223.5 213.8h15.4v1h-15.4zM223.5 226.9h15.4v1h-15.4zM223.5 235.9h15.4v1h-15.4zM223.5 239.9h15.4v2h-15.4zM223.5 243.9h15.4v1h-15.4zM238.9 203.8h15.4v1h-15.4zM238.9 252h15.4v1h-15.4zM254.3 199.8h15.4v1h-15.4zM254.3 208.8h15.4v1h-15.4zM254.3 221.9h15.4v1h-15.4zM254.3 223.9h15.4v1h-15.4zM269.8 194.8h15.4v2h-15.4zM269.8 199.8h15.4v1h-15.4zM269.8 210.8h15.4v2h-15.4zM285.2 140.6h15.4v1h-15.4zM285.2 163.7h15.4v1h-15.4zM285.2 197.8h15.4v1h-15.4zM285.2 209.8h15.4v1h-15.4zM285.2 253h15.4v1h-15.4zM300.6 207.8h15.4v2h-15.4zM300.6 212.8h15.4v1h-15.4zM300.6 222.9h15.4v1h-15.4zM300.6 228.9h15.4v1h-15.4zM300.6 237.9h15.4v1h-15.4zM300.6 255h15.4v1h-15.4zM316.1 207.8h15.4v1h-15.4zM316.1 229.9h15.4v1h-15.4z"/><path fill="#ffc1c1" d="M115.4 150.6h15.4v1h-15.4zM115.4 265h15.4v1h-15.4zM130.9 120.5h15.4v2h-15.4zM130.9 124.5h15.4v1h-15.4zM130.9 135.6h15.4v1h-15.4zM130.9 143.6h15.4v2h-15.4zM130.9 180.7h15.4v1h-15.4zM130.9 185.7h15.4v1h-15.4zM146.3 152.6h15.4v1h-15.4zM146.3 193.8h15.4v2h-15.4zM146.3 196.8h15.4v1h-15.4zM161.7 138.6h15.4v1h-15.4zM161.7 143.6h15.4v1h-15.4zM161.7 150.6h15.4v2h-15.4zM161.7 153.6h15.4v1h-15.4zM177.2 118.5h15.4v1h-15.4zM177.2 121.5h15.4v1h-15.4zM177.2 140.6h15.4v1h-15.4zM177.2 153.6h15.4v1h-15.4zM192.6 132.6h15.4v1h-15.4zM192.6 134.6h15.4v1h-15.4zM192.6 148.6h15.4v1h-15.4zM192.6 153.6h15.4v3h-15.4zM192.6 157.6h15.4v1h-15.4zM192.6 167.7h15.4v1h-15.4zM208 120.5h15.4v1h-15.4zM208 203.8h15.4v1h-15.4zM208 215.8h15.4v1h-15.4zM223.5 202.8h15.4v1h-15.4zM223.5 261h15.4v1h-15.4zM223.5 265h15.4v1h-15.4zM238.9 181.7h15.4v1h-15.4zM238.9 184.7h15.4v1h-15.4zM238.9 193.8h15.4v1h-15.4zM238.9 208.8h15.4v1h-15.4zM238.9 232.9h15.4v1h-15.4zM238.9 261h15.4v1h-15.4zM254.3 164.7h15.4v1h-15.4zM254.3 185.7h15.4v1h-15.4zM269.8 212.8h15.4v1h-15.4zM269.8 218.8h15.4v1h-15.4zM285.2 198.8h15.4v1h-15.4zM285.2 218.8h15.4v1h-15.4zM285.2 246.9h15.4v1h-15.4zM300.6 198.8h15.4v1h-15.4zM300.6 214.8h15.4v1h-15.4zM300.6 216.8h15.4v1h-15.4zM300.6 243.9h15.4v2h-15.4zM300.6 256h15.4v2h-15.4zM300.6 265h15.4v1h-15.4zM316.1 198.8h15.4v2h-15.4zM316.1 203.8h15.4v1h-15.4zM316.1 209.8h15.4v2h-15.4zM316.1 212.8h15.4v1h-15.4zM316.1 253h15.4v1h-15.4z"/><path fill="#afafff" d="M100 122.5h15.4v1h-15.4zM100 259h15.4v1h-15.4zM130.9 202.8h15.4v1h-15.4zM130.9 221.9h15.4v1h-15.4zM146.3 203.8h15.4v1h-15.4zM146.3 251h15.4v1h-15.4zM161.7 198.8h15.4v1h-15.4zM161.7 200.8h15.4v1h-15.4zM177.2 200.8h15.4v1h-15.4zM177.2 206.8h15.4v1h-15.4zM177.2 215.8h15.4v1h-15.4zM192.6 204.8h15.4v1h-15.4zM192.6 213.8h15.4v1h-15.4zM208 142.6h15.4v2h-15.4zM223.5 168.7h15.4v1h-15.4zM223.5 171.7h15.4v1h-15.4zM223.5 174.7h15.4v1h-15.4zM223.5 176.7h15.4v1h-15.4zM223.5 192.8h15.4v1h-15.4zM238.9 118.5h15.4v1h-15.4zM238.9 122.5h15.4v1h-15.4zM238.9 150.6h15.4v1h-15.4zM238.9 177.7h15.4v1h-15.4zM254.3 128.5h15.4v1h-15.4zM254.3 197.8h15.4v1h-15.4zM285.2 227.9h15.4v1h-15.4zM300.6 122.5h15.4v1h-15.4zM300.6 128.5h15.4v1h-15.4zM316.1 142.6h15.4v1h-15.4zM316.1 197.8h15.4v1h-15.4z"/><path fill="#ffdbdb" d="M100 197.8h15.4v1h-15.4zM100 239.9h15.4v1h-15.4zM115.4 122.5h15.4v2h-15.4zM115.4 133.6h15.4v1h-15.4zM115.4 157.6h15.4v1h-15.4zM115.4 193.8h15.4v1h-15.4zM115.4 217.8h15.4v1h-15.4zM115.4 229.9h15.4v1h-15.4zM115.4 257h15.4v1h-15.4zM115.4 261h15.4v1h-15.4zM130.9 127.5h15.4v1h-15.4zM130.9 150.6h15.4v1h-15.4zM130.9 160.7h15.4v1h-15.4zM130.9 170.7h15.4v1h-15.4zM130.9 176.7h15.4v1h-15.4zM130.9 186.7h15.4v1h-15.4zM130.9 188.7h15.4v5h-15.4zM130.9 232.9h15.4v1h-15.4zM146.3 124.5h15.4v1h-15.4zM146.3 127.5h15.4v1h-15.4zM146.3 134.6h15.4v1h-15.4zM146.3 141.6h15.4v1h-15.4zM146.3 153.6h15.4v1h-15.4zM146.3 156.6h15.4v1h-15.4zM146.3 158.6h15.4v1h-15.4zM146.3 165.7h15.4v2h-15.4zM146.3 192.8h15.4v1h-15.4zM146.3 197.8h15.4v1h-15.4zM146.3 229.9h15.4v1h-15.4zM161.7 125.5h15.4v1h-15.4zM161.7 135.6h15.4v1h-15.4zM161.7 148.6h15.4v1h-15.4zM161.7 165.7h15.4v2h-15.4zM161.7 169.7h15.4v1h-15.4zM161.7 177.7h15.4v1h-15.4zM161.7 179.7h15.4v1h-15.4zM161.7 185.7h15.4v1h-15.4zM161.7 187.7h15.4v1h-15.4zM161.7 194.8h15.4v1h-15.4zM177.2 132.6h15.4v1h-15.4zM177.2 167.7h15.4v1h-15.4zM177.2 180.7h15.4v1h-15.4zM177.2 232.9h15.4v1h-15.4zM192.6 133.6h15.4v1h-15.4zM192.6 165.7h15.4v1h-15.4zM192.6 168.7h15.4v1h-15.4zM192.6 174.7h15.4v1h-15.4zM192.6 190.8h15.4v1h-15.4zM192.6 194.8h15.4v1h-15.4zM208 192.8h15.4v1h-15.4zM208 197.8h15.4v1h-15.4zM208 201.8h15.4v1h-15.4zM208 219.8h15.4v1h-15.4zM208 239.9h15.4v1h-15.4zM208 254h15.4v1h-15.4zM208 262h15.4v1h-15.4zM223.5 148.6h15.4v1h-15.4zM223.5 205.8h15.4v1h-15.4zM223.5 209.8h15.4v1h-15.4zM223.5 227.9h15.4v1h-15.4zM223.5 232.9h15.4v1h-15.4zM223.5 234.9h15.4v1h-15.4zM223.5 244.9h15.4v1h-15.4zM223.5 254h15.4v1h-15.4zM238.9 159.6h15.4v2h-15.4zM238.9 182.7h15.4v1h-15.4zM238.9 185.7h15.4v1h-15.4zM238.9 207.8h15.4v1h-15.4zM238.9 209.8h15.4v1h-15.4zM238.9 227.9h15.4v1h-15.4zM238.9 231.9h15.4v1h-15.4zM238.9 258h15.4v1h-15.4zM238.9 260h15.4v1h-15.4zM254.3 159.6h15.4v1h-15.4zM254.3 182.7h15.4v1h-15.4zM254.3 184.7h15.4v1h-15.4zM254.3 187.7h15.4v2h-15.4zM254.3 210.8h15.4v1h-15.4zM254.3 228.9h15.4v1h-15.4zM254.3 231.9h15.4v2h-15.4zM254.3 242.9h15.4v1h-15.4zM254.3 264h15.4v1h-15.4zM269.8 179.7h15.4v1h-15.4zM269.8 207.8h15.4v1h-15.4zM269.8 225.9h15.4v1h-15.4zM269.8 241.9h15.4v1h-15.4zM285.2 196.8h15.4v1h-15.4zM285.2 211.8h15.4v1h-15.4zM285.2 219.8h15.4v1h-15.4zM285.2 223.9h15.4v1h-15.4zM285.2 229.9h15.4v1h-15.4zM285.2 232.9h15.4v2h-15.4zM285.2 241.9h15.4v2h-15.4zM285.2 247.9h15.4v1h-15.4zM285.2 257h15.4v1h-15.4zM285.2 259h15.4v1h-15.4zM300.6 200.8h15.4v2h-15.4zM300.6 209.8h15.4v1h-15.4zM300.6 211.8h15.4v1h-15.4zM300.6 220.9h15.4v1h-15.4zM300.6 224.9h15.4v1h-15.4zM300.6 230.9h15.4v1h-15.4zM300.6 235.9h15.4v1h-15.4zM300.6 264h15.4v1h-15.4zM316.1 174.7h15.4v1h-15.4zM316.1 206.8h15.4v1h-15.4zM316.1 208.8h15.4v1h-15.4zM316.1 214.8h15.4v1h-15.4zM316.1 220.9h15.4v1h-15.4zM316.1 222.9h15.4v1h-15.4zM316.1 225.9h15.4v2h-15.4zM316.1 231.9h15.4v1h-15.4zM316.1 241.9h15.4v1h-15.4z"/><path fill="#ff8b8b" d="M100 193.8h15.4v1h-15.4zM100 196.8h15.4v1h-15.4zM130.9 125.5h15.4v1h-15.4zM130.9 193.8h15.4v1h-15.4zM177.2 145.6h15.4v1h-15.4zM223.5 258h15.4v1h-15.4z"/><path fill="#9494ff" d="M130.9 201.8h15.4v1h-15.4zM130.9 210.8h15.4v1h-15.4zM130.9 213.8h15.4v1h-15.4zM161.7 202.8h15.4v1h-15.4zM161.7 209.8h15.4v1h-15.4zM161.7 212.8h15.4v1h-15.4zM177.2 199.8h15.4v1h-15.4zM177.2 201.8h15.4v1h-15.4zM177.2 203.8h15.4v1h-15.4zM192.6 203.8h15.4v1h-15.4zM223.5 160.7h15.4v1h-15.4zM223.5 172.7h15.4v1h-15.4zM238.9 127.5h15.4v1h-15.4z"/><path fill="#ffb8b8" d="M130.9 155.6h15.4v1h-15.4zM130.9 174.7h15.4v2h-15.4zM146.3 164.7h15.4v1h-15.4zM161.7 136.6h15.4v1h-15.4zM161.7 139.6h15.4v1h-15.4zM177.2 138.6h15.4v2h-15.4zM177.2 141.6h15.4v2h-15.4zM177.2 146.6h15.4v1h-15.4zM177.2 152.6h15.4v1h-15.4zM177.2 181.7h15.4v1h-15.4zM192.6 129.5h15.4v1h-15.4zM192.6 138.6h15.4v2h-15.4zM192.6 143.6h15.4v1h-15.4zM192.6 150.6h15.4v1h-15.4zM223.5 215.8h15.4v1h-15.4zM223.5 241.9h15.4v1h-15.4zM238.9 174.7h15.4v1h-15.4zM238.9 204.8h15.4v1h-15.4zM238.9 221.9h15.4v1h-15.4zM254.3 200.8h15.4v1h-15.4zM254.3 203.8h15.4v2h-15.4zM254.3 212.8h15.4v1h-15.4zM254.3 219.8h15.4v1h-15.4zM269.8 226.9h15.4v1h-15.4zM285.2 205.8h15.4v1h-15.4zM285.2 254h15.4v1h-15.4zM285.2 265h15.4v1h-15.4zM300.6 205.8h15.4v2h-15.4zM300.6 221.9h15.4v1h-15.4zM300.6 226.9h15.4v2h-15.4zM300.6 233.9h15.4v1h-15.4zM300.6 236.9h15.4v1h-15.4zM316.1 213.8h15.4v1h-15.4z"/><path fill="#ffafaf" d="M100 194.8h15.4v2h-15.4zM130.9 134.6h15.4v1h-15.4zM161.7 137.6h15.4v1h-15.4zM177.2 134.6h15.4v1h-15.4zM177.2 147.6h15.4v1h-15.4zM177.2 149.6h15.4v1h-15.4zM177.2 154.6h15.4v1h-15.4zM177.2 158.6h15.4v1h-15.4zM192.6 173.7h15.4v1h-15.4zM223.5 198.8h15.4v1h-15.4zM223.5 224.9h15.4v1h-15.4zM223.5 259h15.4v2h-15.4zM223.5 263h15.4v2h-15.4zM238.9 175.7h15.4v1h-15.4zM254.3 207.8h15.4v1h-15.4zM300.6 199.8h15.4v1h-15.4zM300.6 210.8h15.4v1h-15.4zM300.6 246.9h15.4v2h-15.4zM316.1 200.8h15.4v2h-15.4zM316.1 228.9h15.4v1h-15.4z"/><path fill="#a6a6ff" d="M100 161.7h15.4v1h-15.4zM115.4 168.7h15.4v1h-15.4zM130.9 205.8h15.4v1h-15.4zM130.9 208.8h15.4v1h-15.4zM146.3 225.9h15.4v1h-15.4zM161.7 210.8h15.4v1h-15.4zM161.7 220.9h15.4v1h-15.4zM177.2 198.8h15.4v1h-15.4zM177.2 222.9h15.4v1h-15.4zM208 134.6h15.4v1h-15.4zM223.5 165.7h15.4v1h-15.4zM223.5 173.7h15.4v1h-15.4zM223.5 186.7h15.4v1h-15.4z"/><path fill="#ff9494" d="M130.9 195.8h15.4v1h-15.4zM177.2 136.6h15.4v1h-15.4z"/><path fill="#ff9d9d" d="M130.9 194.8h15.4v1h-15.4zM146.3 191.8h15.4v1h-15.4zM146.3 195.8h15.4v1h-15.4zM161.7 146.6h15.4v1h-15.4zM177.2 144.6h15.4v1h-15.4zM223.5 257h15.4v1h-15.4z"/><path fill="#ff8282" d="M177.2 148.6h15.4v1h-15.4zM223.5 256h15.4v1h-15.4z"/><path fill="#8b8bff" d="M130.9 207.8h15.4v1h-15.4zM146.3 218.8h15.4v1h-15.4zM161.7 206.8h15.4v1h-15.4zM177.2 204.8h15.4v1h-15.4zM223.5 177.7h15.4v1h-15.4z"/><path fill="#7979ff" d="M161.7 207.8h15.4v1h-15.4zM177.2 213.8h15.4v1h-15.4zM223.5 178.7h15.4v1h-15.4z"/><path fill="#8282ff" d="M130.9 206.8h15.4v1h-15.4z"/><path fill="#6767ff" d="M161.7 208.8h15.4v1h-15.4zM161.7 211.8h15.4v1h-15.4z"/><path fill="#4444ff" d="M177.2 210.8h15.4v1h-15.4z"/><path fill="#5555ff" d="M177.2 211.8h15.4v2h-15.4z"/></g><rect x="100" y="110.3" width="15.4" height="5.1" fill="#f28c98"/><rect x="115.4" y="110.3" width="15.4" height="5.1" fill="#b2488c"/><rect x="130.9" y="110.3" width="61.7" height="5.1" fill="#f28c98"/><rect x="192.6" y="110.3" width="138.9" height="5.1" fill="#b2488c"/><path fill="none" stroke="#9a9a9a" stroke-width="0.9" d="M107.7 110.3V89.7H123.2V110.3M138.6 110.3V102.3H154V110.3M169.4 110.3V104H184.9V110.3M177.2 104V101.3H200.3V110.3M146.3 102.3V97.8H188.7V101.3M115.4 89.7V88.3H167.5V97.8M246.6 110.3V96H262.1V110.3M292.9 110.3V98.4H308.4V110.3M300.6 98.4V95.4H323.8V110.3M277.5 110.3V94.6H312.2V95.4M254.3 96V93.5H294.8V94.6M231.2 110.3V92.5H274.6V93.5M215.8 110.3V90.2H252.9V92.5M141.5 88.3V80.5H234.3V90.2"/><g filter="url(#hb)"><path fill="#c1c1ff" d="M425.4 111.3h13.3v1h-13.3zM425.4 118.3h13.3v1h-13.3zM425.4 132.4h13.3v1h-13.3zM425.4 134.4h13.3v2h-13.3zM425.4 138.4h13.3v1h-13.3zM425.4 140.4h13.3v1h-13.3zM425.4 146.4h13.3v2h-13.3zM425.4 154.4h13.3v1h-13.3zM425.4 157.4h13.3v1h-13.3zM425.4 160.5h13.3v1h-13.3zM425.4 168.5h13.3v1h-13.3zM425.4 183.5h13.3v1h-13.3zM425.4 189.6h13.3v1h-13.3zM425.4 230.7h13.3v1h-13.3zM425.4 233.7h13.3v1h-13.3zM438.7 115.3h13.3v1h-13.3zM438.7 133.4h13.3v1h-13.3zM438.7 146.4h13.3v1h-13.3zM438.7 149.4h13.3v1h-13.3zM438.7 156.4h13.3v1h-13.3zM438.7 164.5h13.3v1h-13.3zM438.7 166.5h13.3v1h-13.3zM438.7 174.5h13.3v1h-13.3zM438.7 176.5h13.3v1h-13.3zM438.7 179.5h13.3v3h-13.3zM465.2 120.3h13.3v2h-13.3zM465.2 129.4h13.3v1h-13.3zM465.2 173.5h13.3v1h-13.3zM491.7 123.3h13.3v1h-13.3zM518.2 239.7h13.3v1h-13.3zM518.2 248.7h13.3v1h-13.3zM518.2 253.8h13.3v1h-13.3zM518.2 260.8h13.3v1h-13.3zM571.2 185.5h13.3v1h-13.3zM571.2 190.6h13.3v1h-13.3zM571.2 195.6h13.3v1h-13.3zM571.2 197.6h13.3v1h-13.3zM584.5 191.6h13.3v1h-13.3zM611 227.7h13.3v2h-13.3zM637.5 255.8h13.3v1h-13.3zM637.5 261.8h13.3v1h-13.3z"/><path fill="#ffeded" d="M425.4 194.6h13.3v1h-13.3zM425.4 196.6h13.3v1h-13.3zM425.4 240.7h13.3v1h-13.3zM425.4 256.8h13.3v1h-13.3zM425.4 258.8h13.3v1h-13.3zM438.7 111.3h13.3v1h-13.3zM438.7 189.6h13.3v2h-13.3zM438.7 195.6h13.3v1h-13.3zM438.7 209.6h13.3v1h-13.3zM438.7 216.6h13.3v1h-13.3zM438.7 225.7h13.3v1h-13.3zM438.7 247.7h13.3v1h-13.3zM438.7 259.8h13.3v1h-13.3zM451.9 125.3h13.3v1h-13.3zM451.9 147.4h13.3v1h-13.3zM451.9 153.4h13.3v1h-13.3zM451.9 155.4h13.3v1h-13.3zM451.9 158.5h13.3v1h-13.3zM451.9 161.5h13.3v1h-13.3zM451.9 167.5h13.3v1h-13.3zM451.9 169.5h13.3v2h-13.3zM451.9 177.5h13.3v1h-13.3zM451.9 181.5h13.3v1h-13.3zM451.9 186.5h13.3v3h-13.3zM451.9 195.6h13.3v1h-13.3zM451.9 203.6h13.3v1h-13.3zM451.9 218.6h13.3v1h-13.3zM451.9 220.7h13.3v1h-13.3zM451.9 224.7h13.3v1h-13.3zM451.9 240.7h13.3v2h-13.3zM451.9 252.8h13.3v1h-13.3zM465.2 143.4h13.3v1h-13.3zM465.2 174.5h13.3v1h-13.3zM465.2 185.5h13.3v1h-13.3zM465.2 201.6h13.3v1h-13.3zM465.2 210.6h13.3v1h-13.3zM465.2 220.7h13.3v1h-13.3zM465.2 225.7h13.3v1h-13.3zM478.4 122.3h13.3v1h-13.3zM478.4 132.4h13.3v1h-13.3zM478.4 152.4h13.3v1h-13.3zM478.4 162.5h13.3v1h-13.3zM478.4 168.5h13.3v1h-13.3zM478.4 187.5h13.3v1h-13.3zM478.4 189.6h13.3v1h-13.3zM478.4 193.6h13.3v1h-13.3zM478.4 198.6h13.3v1h-13.3zM478.4 201.6h13.3v1h-13.3zM478.4 207.6h13.3v1h-13.3zM478.4 209.6h13.3v1h-13.3zM478.4 213.6h13.3v1h-13.3zM478.4 219.7h13.3v1h-13.3zM478.4 226.7h13.3v2h-13.3zM478.4 234.7h13.3v2h-13.3zM478.4 250.8h13.3v1h-13.3zM478.4 260.8h13.3v1h-13.3zM491.7 157.4h13.3v1h-13.3zM491.7 186.5h13.3v1h-13.3zM491.7 196.6h13.3v2h-13.3zM491.7 209.6h13.3v1h-13.3zM491.7 229.7h13.3v2h-13.3zM491.7 246.7h13.3v1h-13.3zM491.7 261.8h13.3v2h-13.3zM504.9 113.3h13.3v1h-13.3zM504.9 119.3h13.3v1h-13.3zM504.9 126.3h13.3v1h-13.3zM504.9 134.4h13.3v1h-13.3zM504.9 157.4h13.3v1h-13.3zM504.9 161.5h13.3v1h-13.3zM504.9 171.5h13.3v1h-13.3zM504.9 173.5h13.3v1h-13.3zM504.9 186.5h13.3v1h-13.3zM504.9 192.6h13.3v1h-13.3zM504.9 200.6h13.3v1h-13.3zM504.9 215.6h13.3v1h-13.3zM504.9 218.6h13.3v1h-13.3zM504.9 220.7h13.3v1h-13.3zM504.9 226.7h13.3v1h-13.3zM504.9 231.7h13.3v2h-13.3zM504.9 242.7h13.3v1h-13.3zM504.9 249.7h13.3v1h-13.3zM504.9 251.8h13.3v2h-13.3zM518.2 125.3h13.3v1h-13.3zM518.2 138.4h13.3v1h-13.3zM518.2 150.4h13.3v1h-13.3zM518.2 159.5h13.3v1h-13.3zM518.2 161.5h13.3v1h-13.3zM518.2 166.5h13.3v1h-13.3zM518.2 173.5h13.3v1h-13.3zM518.2 179.5h13.3v1h-13.3zM518.2 190.6h13.3v2h-13.3zM518.2 206.6h13.3v1h-13.3zM518.2 216.6h13.3v1h-13.3zM518.2 220.7h13.3v1h-13.3zM518.2 228.7h13.3v2h-13.3zM518.2 257.8h13.3v1h-13.3zM531.4 120.3h13.3v1h-13.3zM531.4 125.3h13.3v1h-13.3zM531.4 137.4h13.3v1h-13.3zM531.4 139.4h13.3v1h-13.3zM531.4 153.4h13.3v1h-13.3zM531.4 155.4h13.3v1h-13.3zM531.4 158.5h13.3v1h-13.3zM531.4 164.5h13.3v1h-13.3zM531.4 169.5h13.3v1h-13.3zM531.4 173.5h13.3v1h-13.3zM531.4 176.5h13.3v1h-13.3zM531.4 198.6h13.3v1h-13.3zM531.4 202.6h13.3v1h-13.3zM531.4 205.6h13.3v1h-13.3zM531.4 215.6h13.3v1h-13.3zM531.4 230.7h13.3v1h-13.3zM531.4 233.7h13.3v1h-13.3zM531.4 240.7h13.3v1h-13.3zM531.4 244.7h13.3v1h-13.3zM531.4 256.8h13.3v1h-13.3zM531.4 259.8h13.3v2h-13.3zM544.7 111.3h13.3v1h-13.3zM544.7 115.3h13.3v1h-13.3zM544.7 118.3h13.3v1h-13.3zM544.7 122.3h13.3v1h-13.3zM544.7 130.4h13.3v2h-13.3zM544.7 140.4h13.3v1h-13.3zM544.7 150.4h13.3v1h-13.3zM544.7 162.5h13.3v1h-13.3zM544.7 166.5h13.3v2h-13.3zM544.7 179.5h13.3v1h-13.3zM544.7 183.5h13.3v1h-13.3zM544.7 189.6h13.3v1h-13.3zM544.7 199.6h13.3v1h-13.3zM544.7 219.7h13.3v1h-13.3zM544.7 232.7h13.3v1h-13.3zM544.7 235.7h13.3v1h-13.3zM544.7 252.8h13.3v3h-13.3zM558 114.3h13.3v1h-13.3zM558 140.4h13.3v1h-13.3zM558 143.4h13.3v1h-13.3zM558 149.4h13.3v1h-13.3zM558 156.4h13.3v1h-13.3zM558 177.5h13.3v1h-13.3zM558 182.5h13.3v1h-13.3zM558 191.6h13.3v1h-13.3zM558 195.6h13.3v1h-13.3zM558 197.6h13.3v1h-13.3zM558 213.6h13.3v1h-13.3zM558 224.7h13.3v1h-13.3zM558 253.8h13.3v1h-13.3zM558 264.8h13.3v1h-13.3zM571.2 136.4h13.3v1h-13.3zM571.2 140.4h13.3v1h-13.3zM571.2 142.4h13.3v1h-13.3zM571.2 169.5h13.3v1h-13.3zM571.2 171.5h13.3v1h-13.3zM571.2 181.5h13.3v1h-13.3zM571.2 184.5h13.3v1h-13.3zM571.2 209.6h13.3v1h-13.3zM571.2 213.6h13.3v2h-13.3zM571.2 234.7h13.3v1h-13.3zM571.2 236.7h13.3v1h-13.3zM571.2 240.7h13.3v2h-13.3zM571.2 247.7h13.3v1h-13.3zM571.2 257.8h13.3v1h-13.3zM571.2 259.8h13.3v1h-13.3zM584.5 121.3h13.3v1h-13.3zM584.5 126.3h13.3v1h-13.3zM584.5 160.5h13.3v1h-13.3zM584.5 163.5h13.3v1h-13.3zM584.5 173.5h13.3v1h-13.3zM584.5 208.6h13.3v3h-13.3zM584.5 235.7h13.3v1h-13.3zM584.5 242.7h13.3v1h-13.3zM584.5 251.8h13.3v1h-13.3zM584.5 256.8h13.3v2h-13.3zM597.7 114.3h13.3v1h-13.3zM597.7 122.3h13.3v1h-13.3zM597.7 135.4h13.3v1h-13.3zM597.7 150.4h13.3v1h-13.3zM597.7 156.4h13.3v1h-13.3zM597.7 159.5h13.3v2h-13.3zM597.7 182.5h13.3v1h-13.3zM597.7 206.6h13.3v1h-13.3zM597.7 216.6h13.3v1h-13.3zM597.7 222.7h13.3v1h-13.3zM597.7 224.7h13.3v1h-13.3zM597.7 228.7h13.3v1h-13.3zM597.7 238.7h13.3v1h-13.3zM597.7 257.8h13.3v1h-13.3zM597.7 260.8h13.3v1h-13.3zM611 118.3h13.3v1h-13.3zM611 123.3h13.3v1h-13.3zM611 130.4h13.3v1h-13.3zM611 133.4h13.3v1h-13.3zM611 147.4h13.3v2h-13.3zM611 156.4h13.3v1h-13.3zM611 173.5h13.3v1h-13.3zM611 184.5h13.3v1h-13.3zM611 189.6h13.3v1h-13.3zM611 237.7h13.3v1h-13.3zM611 244.7h13.3v1h-13.3zM611 260.8h13.3v1h-13.3zM624.2 111.3h13.3v1h-13.3zM624.2 116.3h13.3v1h-13.3zM624.2 123.3h13.3v1h-13.3zM624.2 128.4h13.3v1h-13.3zM624.2 130.4h13.3v1h-13.3zM624.2 134.4h13.3v1h-13.3zM624.2 140.4h13.3v1h-13.3zM624.2 151.4h13.3v1h-13.3zM624.2 153.4h13.3v1h-13.3zM624.2 162.5h13.3v1h-13.3zM624.2 164.5h13.3v1h-13.3zM624.2 204.6h13.3v1h-13.3zM624.2 225.7h13.3v1h-13.3zM624.2 234.7h13.3v1h-13.3zM624.2 243.7h13.3v1h-13.3zM624.2 249.7h13.3v1h-13.3zM624.2 252.8h13.3v1h-13.3zM624.2 256.8h13.3v1h-13.3zM624.2 258.8h13.3v1h-13.3zM637.5 125.3h13.3v1h-13.3zM637.5 128.4h13.3v1h-13.3zM637.5 131.4h13.3v1h-13.3zM637.5 169.5h13.3v1h-13.3zM637.5 190.6h13.3v1h-13.3zM637.5 200.6h13.3v1h-13.3zM637.5 206.6h13.3v1h-13.3zM637.5 215.6h13.3v1h-13.3zM637.5 224.7h13.3v1h-13.3zM637.5 227.7h13.3v1h-13.3zM637.5 246.7h13.3v1h-13.3zM637.5 249.7h13.3v1h-13.3zM650.7 127.4h13.3v1h-13.3zM650.7 133.4h13.3v1h-13.3zM650.7 149.4h13.3v1h-13.3zM650.7 153.4h13.3v1h-13.3zM650.7 162.5h13.3v1h-13.3zM650.7 166.5h13.3v1h-13.3zM650.7 171.5h13.3v1h-13.3zM650.7 185.5h13.3v1h-13.3zM650.7 187.5h13.3v1h-13.3zM650.7 203.6h13.3v1h-13.3zM650.7 205.6h13.3v1h-13.3zM650.7 222.7h13.3v1h-13.3zM650.7 231.7h13.3v1h-13.3zM650.7 235.7h13.3v1h-13.3zM650.7 244.7h13.3v1h-13.3zM650.7 254.8h13.3v1h-13.3z"/><path fill="#ffe4e4" d="M425.4 192.6h13.3v1h-13.3zM425.4 204.6h13.3v1h-13.3zM425.4 207.6h13.3v1h-13.3zM425.4 246.7h13.3v1h-13.3zM438.7 196.6h13.3v1h-13.3zM438.7 199.6h13.3v1h-13.3zM438.7 205.6h13.3v1h-13.3zM438.7 213.6h13.3v1h-13.3zM438.7 219.7h13.3v1h-13.3zM438.7 226.7h13.3v1h-13.3zM438.7 242.7h13.3v1h-13.3zM451.9 111.3h13.3v1h-13.3zM451.9 113.3h13.3v1h-13.3zM451.9 123.3h13.3v1h-13.3zM451.9 129.4h13.3v1h-13.3zM451.9 145.4h13.3v2h-13.3zM451.9 149.4h13.3v1h-13.3zM451.9 152.4h13.3v1h-13.3zM451.9 154.4h13.3v1h-13.3zM451.9 159.5h13.3v1h-13.3zM451.9 172.5h13.3v1h-13.3zM451.9 178.5h13.3v2h-13.3zM451.9 182.5h13.3v1h-13.3zM451.9 184.5h13.3v1h-13.3zM451.9 191.6h13.3v1h-13.3zM451.9 193.6h13.3v1h-13.3zM451.9 201.6h13.3v2h-13.3zM451.9 209.6h13.3v1h-13.3zM451.9 214.6h13.3v1h-13.3zM451.9 223.7h13.3v1h-13.3zM451.9 232.7h13.3v1h-13.3zM451.9 258.8h13.3v1h-13.3zM451.9 262.8h13.3v1h-13.3zM465.2 114.3h13.3v1h-13.3zM465.2 142.4h13.3v1h-13.3zM465.2 153.4h13.3v1h-13.3zM465.2 158.5h13.3v1h-13.3zM465.2 175.5h13.3v1h-13.3zM465.2 180.5h13.3v2h-13.3zM465.2 184.5h13.3v1h-13.3zM465.2 187.5h13.3v1h-13.3zM465.2 238.7h13.3v2h-13.3zM465.2 249.7h13.3v1h-13.3zM465.2 257.8h13.3v1h-13.3zM465.2 259.8h13.3v1h-13.3zM478.4 112.3h13.3v1h-13.3zM478.4 119.3h13.3v1h-13.3zM478.4 154.4h13.3v1h-13.3zM478.4 156.4h13.3v1h-13.3zM478.4 160.5h13.3v1h-13.3zM478.4 172.5h13.3v1h-13.3zM478.4 185.5h13.3v1h-13.3zM478.4 188.6h13.3v1h-13.3zM478.4 192.6h13.3v1h-13.3zM478.4 199.6h13.3v1h-13.3zM478.4 205.6h13.3v1h-13.3zM478.4 208.6h13.3v1h-13.3zM478.4 215.6h13.3v1h-13.3zM478.4 231.7h13.3v1h-13.3zM478.4 245.7h13.3v1h-13.3zM478.4 254.8h13.3v1h-13.3zM478.4 258.8h13.3v1h-13.3zM491.7 126.3h13.3v1h-13.3zM491.7 154.4h13.3v1h-13.3zM491.7 161.5h13.3v1h-13.3zM491.7 179.5h13.3v1h-13.3zM491.7 188.6h13.3v1h-13.3zM491.7 194.6h13.3v1h-13.3zM491.7 200.6h13.3v1h-13.3zM491.7 203.6h13.3v1h-13.3zM491.7 212.6h13.3v2h-13.3zM491.7 240.7h13.3v1h-13.3zM504.9 137.4h13.3v1h-13.3zM504.9 144.4h13.3v1h-13.3zM504.9 155.4h13.3v1h-13.3zM504.9 160.5h13.3v1h-13.3zM504.9 175.5h13.3v1h-13.3zM504.9 199.6h13.3v1h-13.3zM504.9 202.6h13.3v1h-13.3zM504.9 204.6h13.3v1h-13.3zM504.9 206.6h13.3v1h-13.3zM504.9 214.6h13.3v1h-13.3zM504.9 229.7h13.3v2h-13.3zM504.9 234.7h13.3v1h-13.3zM504.9 239.7h13.3v1h-13.3zM504.9 241.7h13.3v1h-13.3zM518.2 111.3h13.3v1h-13.3zM518.2 115.3h13.3v1h-13.3zM518.2 120.3h13.3v1h-13.3zM518.2 123.3h13.3v1h-13.3zM518.2 134.4h13.3v1h-13.3zM518.2 155.4h13.3v1h-13.3zM518.2 158.5h13.3v1h-13.3zM518.2 163.5h13.3v1h-13.3zM518.2 169.5h13.3v1h-13.3zM518.2 178.5h13.3v1h-13.3zM518.2 181.5h13.3v1h-13.3zM518.2 230.7h13.3v1h-13.3zM518.2 254.8h13.3v1h-13.3zM531.4 113.3h13.3v1h-13.3zM531.4 116.3h13.3v1h-13.3zM531.4 128.4h13.3v1h-13.3zM531.4 148.4h13.3v1h-13.3zM531.4 152.4h13.3v1h-13.3zM531.4 154.4h13.3v1h-13.3zM531.4 156.4h13.3v1h-13.3zM531.4 178.5h13.3v1h-13.3zM531.4 190.6h13.3v1h-13.3zM531.4 209.6h13.3v1h-13.3zM531.4 214.6h13.3v1h-13.3zM531.4 218.6h13.3v1h-13.3zM531.4 223.7h13.3v1h-13.3zM531.4 231.7h13.3v1h-13.3zM531.4 237.7h13.3v1h-13.3zM531.4 249.7h13.3v2h-13.3zM544.7 119.3h13.3v1h-13.3zM544.7 125.3h13.3v1h-13.3zM544.7 138.4h13.3v1h-13.3zM544.7 151.4h13.3v1h-13.3zM544.7 161.5h13.3v1h-13.3zM544.7 168.5h13.3v1h-13.3zM544.7 172.5h13.3v1h-13.3zM544.7 185.5h13.3v1h-13.3zM544.7 192.6h13.3v1h-13.3zM544.7 209.6h13.3v1h-13.3zM544.7 215.6h13.3v1h-13.3zM544.7 221.7h13.3v1h-13.3zM544.7 223.7h13.3v1h-13.3zM544.7 241.7h13.3v1h-13.3zM544.7 251.8h13.3v1h-13.3zM544.7 258.8h13.3v2h-13.3zM544.7 264.8h13.3v1h-13.3zM558 132.4h13.3v1h-13.3zM558 135.4h13.3v1h-13.3zM558 142.4h13.3v1h-13.3zM558 160.5h13.3v1h-13.3zM558 172.5h13.3v1h-13.3zM558 174.5h13.3v1h-13.3zM558 176.5h13.3v1h-13.3zM558 189.6h13.3v1h-13.3zM558 194.6h13.3v1h-13.3zM558 202.6h13.3v1h-13.3zM558 205.6h13.3v2h-13.3zM558 208.6h13.3v1h-13.3zM558 212.6h13.3v1h-13.3zM558 220.7h13.3v1h-13.3zM558 227.7h13.3v1h-13.3zM558 232.7h13.3v2h-13.3zM558 237.7h13.3v1h-13.3zM558 254.8h13.3v2h-13.3zM571.2 119.3h13.3v1h-13.3zM571.2 122.3h13.3v1h-13.3zM571.2 128.4h13.3v1h-13.3zM571.2 137.4h13.3v1h-13.3zM571.2 205.6h13.3v1h-13.3zM571.2 215.6h13.3v1h-13.3zM571.2 251.8h13.3v1h-13.3zM584.5 113.3h13.3v1h-13.3zM584.5 117.3h13.3v1h-13.3zM584.5 127.4h13.3v1h-13.3zM584.5 135.4h13.3v2h-13.3zM584.5 145.4h13.3v1h-13.3zM584.5 153.4h13.3v1h-13.3zM584.5 171.5h13.3v1h-13.3zM584.5 175.5h13.3v1h-13.3zM584.5 204.6h13.3v1h-13.3zM584.5 211.6h13.3v1h-13.3zM584.5 223.7h13.3v1h-13.3zM584.5 233.7h13.3v1h-13.3zM584.5 236.7h13.3v1h-13.3zM584.5 263.8h13.3v2h-13.3zM597.7 113.3h13.3v1h-13.3zM597.7 120.3h13.3v1h-13.3zM597.7 138.4h13.3v1h-13.3zM597.7 162.5h13.3v1h-13.3zM597.7 165.5h13.3v2h-13.3zM597.7 168.5h13.3v1h-13.3zM597.7 173.5h13.3v1h-13.3zM597.7 181.5h13.3v1h-13.3zM597.7 237.7h13.3v1h-13.3zM597.7 263.8h13.3v1h-13.3zM611 112.3h13.3v1h-13.3zM611 124.3h13.3v1h-13.3zM611 127.4h13.3v1h-13.3zM611 152.4h13.3v2h-13.3zM611 165.5h13.3v1h-13.3zM611 176.5h13.3v1h-13.3zM611 191.6h13.3v1h-13.3zM611 199.6h13.3v1h-13.3zM611 259.8h13.3v1h-13.3zM624.2 120.3h13.3v1h-13.3zM624.2 127.4h13.3v1h-13.3zM624.2 144.4h13.3v1h-13.3zM624.2 166.5h13.3v1h-13.3zM624.2 174.5h13.3v1h-13.3zM624.2 177.5h13.3v2h-13.3zM624.2 183.5h13.3v1h-13.3zM624.2 185.5h13.3v1h-13.3zM624.2 193.6h13.3v1h-13.3zM624.2 209.6h13.3v1h-13.3zM624.2 228.7h13.3v3h-13.3zM624.2 240.7h13.3v2h-13.3zM624.2 244.7h13.3v1h-13.3zM624.2 253.8h13.3v2h-13.3zM624.2 259.8h13.3v1h-13.3zM637.5 112.3h13.3v1h-13.3zM637.5 117.3h13.3v1h-13.3zM637.5 144.4h13.3v1h-13.3zM637.5 147.4h13.3v1h-13.3zM637.5 153.4h13.3v1h-13.3zM637.5 166.5h13.3v1h-13.3zM637.5 198.6h13.3v2h-13.3zM637.5 210.6h13.3v1h-13.3zM637.5 230.7h13.3v1h-13.3zM637.5 243.7h13.3v1h-13.3zM637.5 248.7h13.3v1h-13.3zM650.7 115.3h13.3v1h-13.3zM650.7 119.3h13.3v2h-13.3zM650.7 144.4h13.3v1h-13.3zM650.7 152.4h13.3v1h-13.3zM650.7 156.4h13.3v1h-13.3zM650.7 160.5h13.3v1h-13.3zM650.7 164.5h13.3v1h-13.3zM650.7 172.5h13.3v1h-13.3zM650.7 197.6h13.3v1h-13.3zM650.7 199.6h13.3v1h-13.3zM650.7 210.6h13.3v1h-13.3zM650.7 214.6h13.3v1h-13.3zM650.7 219.7h13.3v2h-13.3zM650.7 226.7h13.3v2h-13.3zM650.7 229.7h13.3v1h-13.3zM650.7 236.7h13.3v1h-13.3zM650.7 243.7h13.3v1h-13.3zM650.7 249.7h13.3v1h-13.3z"/><path fill="#f6f6ff" d="M425.4 200.6h13.3v1h-13.3zM425.4 213.6h13.3v2h-13.3zM425.4 219.7h13.3v1h-13.3zM425.4 225.7h13.3v2h-13.3zM438.7 114.3h13.3v1h-13.3zM438.7 122.3h13.3v1h-13.3zM438.7 129.4h13.3v1h-13.3zM438.7 193.6h13.3v1h-13.3zM438.7 203.6h13.3v1h-13.3zM438.7 222.7h13.3v1h-13.3zM438.7 233.7h13.3v1h-13.3zM438.7 235.7h13.3v1h-13.3zM438.7 257.8h13.3v1h-13.3zM438.7 261.8h13.3v1h-13.3zM451.9 115.3h13.3v1h-13.3zM451.9 120.3h13.3v1h-13.3zM451.9 128.4h13.3v1h-13.3zM451.9 136.4h13.3v1h-13.3zM451.9 143.4h13.3v1h-13.3zM451.9 171.5h13.3v1h-13.3zM451.9 183.5h13.3v1h-13.3zM451.9 192.6h13.3v1h-13.3zM451.9 206.6h13.3v1h-13.3zM451.9 208.6h13.3v1h-13.3zM451.9 211.6h13.3v1h-13.3zM451.9 219.7h13.3v1h-13.3zM451.9 226.7h13.3v1h-13.3zM451.9 235.7h13.3v2h-13.3zM451.9 238.7h13.3v1h-13.3zM451.9 254.8h13.3v1h-13.3zM465.2 111.3h13.3v1h-13.3zM465.2 118.3h13.3v1h-13.3zM465.2 123.3h13.3v3h-13.3zM465.2 128.4h13.3v1h-13.3zM465.2 146.4h13.3v1h-13.3zM465.2 149.4h13.3v1h-13.3zM465.2 161.5h13.3v1h-13.3zM465.2 168.5h13.3v3h-13.3zM465.2 177.5h13.3v1h-13.3zM465.2 191.6h13.3v4h-13.3zM465.2 199.6h13.3v1h-13.3zM465.2 224.7h13.3v1h-13.3zM465.2 226.7h13.3v1h-13.3zM465.2 230.7h13.3v1h-13.3zM465.2 232.7h13.3v1h-13.3zM465.2 235.7h13.3v1h-13.3zM465.2 253.8h13.3v1h-13.3zM465.2 255.8h13.3v1h-13.3zM478.4 111.3h13.3v1h-13.3zM478.4 117.3h13.3v1h-13.3zM478.4 135.4h13.3v1h-13.3zM478.4 142.4h13.3v1h-13.3zM478.4 159.5h13.3v1h-13.3zM478.4 161.5h13.3v1h-13.3zM478.4 167.5h13.3v1h-13.3zM478.4 169.5h13.3v1h-13.3zM478.4 174.5h13.3v1h-13.3zM478.4 180.5h13.3v1h-13.3zM478.4 195.6h13.3v1h-13.3zM478.4 202.6h13.3v1h-13.3zM478.4 211.6h13.3v1h-13.3zM478.4 221.7h13.3v1h-13.3zM478.4 228.7h13.3v1h-13.3zM478.4 233.7h13.3v1h-13.3zM478.4 246.7h13.3v1h-13.3zM478.4 251.8h13.3v1h-13.3zM491.7 119.3h13.3v2h-13.3zM491.7 141.4h13.3v1h-13.3zM491.7 156.4h13.3v1h-13.3zM491.7 160.5h13.3v1h-13.3zM491.7 169.5h13.3v2h-13.3zM491.7 172.5h13.3v1h-13.3zM491.7 180.5h13.3v1h-13.3zM491.7 201.6h13.3v1h-13.3zM491.7 204.6h13.3v1h-13.3zM491.7 206.6h13.3v1h-13.3zM491.7 210.6h13.3v1h-13.3zM491.7 221.7h13.3v1h-13.3zM491.7 245.7h13.3v1h-13.3zM491.7 263.8h13.3v1h-13.3zM504.9 111.3h13.3v1h-13.3zM504.9 123.3h13.3v2h-13.3zM504.9 128.4h13.3v2h-13.3zM504.9 136.4h13.3v1h-13.3zM504.9 139.4h13.3v1h-13.3zM504.9 143.4h13.3v1h-13.3zM504.9 146.4h13.3v1h-13.3zM504.9 150.4h13.3v2h-13.3zM504.9 159.5h13.3v1h-13.3zM504.9 162.5h13.3v1h-13.3zM504.9 166.5h13.3v1h-13.3zM504.9 170.5h13.3v1h-13.3zM504.9 182.5h13.3v2h-13.3zM504.9 194.6h13.3v1h-13.3zM504.9 198.6h13.3v1h-13.3zM504.9 207.6h13.3v2h-13.3zM504.9 224.7h13.3v2h-13.3zM504.9 235.7h13.3v1h-13.3zM504.9 244.7h13.3v1h-13.3zM504.9 254.8h13.3v1h-13.3zM504.9 261.8h13.3v1h-13.3zM518.2 114.3h13.3v1h-13.3zM518.2 122.3h13.3v1h-13.3zM518.2 126.3h13.3v1h-13.3zM518.2 139.4h13.3v1h-13.3zM518.2 144.4h13.3v2h-13.3zM518.2 160.5h13.3v1h-13.3zM518.2 171.5h13.3v1h-13.3zM518.2 188.6h13.3v2h-13.3zM518.2 199.6h13.3v1h-13.3zM518.2 211.6h13.3v1h-13.3zM518.2 215.6h13.3v1h-13.3zM518.2 227.7h13.3v1h-13.3zM518.2 234.7h13.3v2h-13.3zM518.2 241.7h13.3v1h-13.3zM518.2 243.7h13.3v1h-13.3zM518.2 247.7h13.3v1h-13.3zM531.4 117.3h13.3v1h-13.3zM531.4 122.3h13.3v1h-13.3zM531.4 127.4h13.3v1h-13.3zM531.4 140.4h13.3v1h-13.3zM531.4 159.5h13.3v1h-13.3zM531.4 181.5h13.3v1h-13.3zM531.4 187.5h13.3v1h-13.3zM531.4 192.6h13.3v1h-13.3zM531.4 199.6h13.3v1h-13.3zM531.4 207.6h13.3v1h-13.3zM531.4 226.7h13.3v1h-13.3zM531.4 228.7h13.3v1h-13.3zM531.4 242.7h13.3v1h-13.3zM531.4 246.7h13.3v1h-13.3zM531.4 252.8h13.3v1h-13.3zM531.4 255.8h13.3v1h-13.3zM531.4 263.8h13.3v1h-13.3zM544.7 141.4h13.3v2h-13.3zM544.7 154.4h13.3v1h-13.3zM544.7 164.5h13.3v2h-13.3zM544.7 170.5h13.3v1h-13.3zM544.7 175.5h13.3v1h-13.3zM544.7 178.5h13.3v1h-13.3zM544.7 186.5h13.3v2h-13.3zM544.7 191.6h13.3v1h-13.3zM544.7 200.6h13.3v2h-13.3zM544.7 211.6h13.3v1h-13.3zM544.7 234.7h13.3v1h-13.3zM544.7 256.8h13.3v1h-13.3zM544.7 261.8h13.3v1h-13.3zM558 115.3h13.3v1h-13.3zM558 125.3h13.3v1h-13.3zM558 138.4h13.3v1h-13.3zM558 144.4h13.3v1h-13.3zM558 158.5h13.3v1h-13.3zM558 166.5h13.3v1h-13.3zM558 169.5h13.3v1h-13.3zM558 183.5h13.3v2h-13.3zM558 201.6h13.3v1h-13.3zM558 218.6h13.3v1h-13.3zM558 222.7h13.3v1h-13.3zM558 236.7h13.3v1h-13.3zM558 258.8h13.3v1h-13.3zM571.2 113.3h13.3v2h-13.3zM571.2 120.3h13.3v1h-13.3zM571.2 123.3h13.3v1h-13.3zM571.2 134.4h13.3v1h-13.3zM571.2 144.4h13.3v1h-13.3zM571.2 152.4h13.3v1h-13.3zM571.2 155.4h13.3v1h-13.3zM571.2 160.5h13.3v3h-13.3zM571.2 176.5h13.3v1h-13.3zM571.2 179.5h13.3v1h-13.3zM571.2 203.6h13.3v2h-13.3zM571.2 210.6h13.3v2h-13.3zM571.2 219.7h13.3v2h-13.3zM571.2 223.7h13.3v1h-13.3zM571.2 230.7h13.3v1h-13.3zM571.2 233.7h13.3v1h-13.3zM571.2 243.7h13.3v1h-13.3zM571.2 246.7h13.3v1h-13.3zM571.2 252.8h13.3v1h-13.3zM571.2 255.8h13.3v1h-13.3zM571.2 263.8h13.3v1h-13.3zM584.5 114.3h13.3v1h-13.3zM584.5 119.3h13.3v1h-13.3zM584.5 139.4h13.3v1h-13.3zM584.5 150.4h13.3v2h-13.3zM584.5 154.4h13.3v1h-13.3zM584.5 156.4h13.3v1h-13.3zM584.5 162.5h13.3v1h-13.3zM584.5 165.5h13.3v1h-13.3zM584.5 167.5h13.3v1h-13.3zM584.5 180.5h13.3v1h-13.3zM584.5 184.5h13.3v1h-13.3zM584.5 203.6h13.3v1h-13.3zM584.5 206.6h13.3v1h-13.3zM584.5 219.7h13.3v1h-13.3zM584.5 225.7h13.3v1h-13.3zM584.5 234.7h13.3v1h-13.3zM584.5 247.7h13.3v1h-13.3zM584.5 260.8h13.3v1h-13.3zM597.7 149.4h13.3v1h-13.3zM597.7 172.5h13.3v1h-13.3zM597.7 205.6h13.3v1h-13.3zM597.7 211.6h13.3v2h-13.3zM597.7 214.6h13.3v2h-13.3zM597.7 218.6h13.3v1h-13.3zM597.7 229.7h13.3v2h-13.3zM597.7 242.7h13.3v1h-13.3zM597.7 245.7h13.3v1h-13.3zM597.7 259.8h13.3v1h-13.3zM597.7 261.8h13.3v1h-13.3zM611 131.4h13.3v1h-13.3zM611 138.4h13.3v2h-13.3zM611 142.4h13.3v1h-13.3zM611 159.5h13.3v1h-13.3zM611 166.5h13.3v1h-13.3zM611 197.6h13.3v1h-13.3zM611 202.6h13.3v1h-13.3zM611 207.6h13.3v1h-13.3zM611 210.6h13.3v1h-13.3zM611 212.6h13.3v1h-13.3zM611 214.6h13.3v2h-13.3zM611 231.7h13.3v1h-13.3zM611 236.7h13.3v1h-13.3zM624.2 113.3h13.3v1h-13.3zM624.2 117.3h13.3v1h-13.3zM624.2 135.4h13.3v1h-13.3zM624.2 143.4h13.3v1h-13.3zM624.2 146.4h13.3v1h-13.3zM624.2 152.4h13.3v1h-13.3zM624.2 154.4h13.3v1h-13.3zM624.2 158.5h13.3v2h-13.3zM624.2 171.5h13.3v1h-13.3zM624.2 173.5h13.3v1h-13.3zM624.2 187.5h13.3v1h-13.3zM624.2 192.6h13.3v1h-13.3zM624.2 194.6h13.3v1h-13.3zM624.2 215.6h13.3v1h-13.3zM624.2 231.7h13.3v1h-13.3zM624.2 233.7h13.3v1h-13.3zM624.2 236.7h13.3v1h-13.3zM624.2 239.7h13.3v1h-13.3zM624.2 260.8h13.3v1h-13.3zM637.5 111.3h13.3v1h-13.3zM637.5 119.3h13.3v1h-13.3zM637.5 124.3h13.3v1h-13.3zM637.5 127.4h13.3v1h-13.3zM637.5 142.4h13.3v1h-13.3zM637.5 171.5h13.3v1h-13.3zM637.5 175.5h13.3v1h-13.3zM637.5 182.5h13.3v1h-13.3zM637.5 196.6h13.3v1h-13.3zM637.5 202.6h13.3v1h-13.3zM637.5 218.6h13.3v3h-13.3zM637.5 222.7h13.3v1h-13.3zM637.5 232.7h13.3v1h-13.3zM637.5 234.7h13.3v1h-13.3zM637.5 241.7h13.3v1h-13.3zM637.5 253.8h13.3v1h-13.3zM637.5 257.8h13.3v2h-13.3zM650.7 118.3h13.3v1h-13.3zM650.7 174.5h13.3v1h-13.3zM650.7 180.5h13.3v1h-13.3zM650.7 191.6h13.3v1h-13.3zM650.7 204.6h13.3v1h-13.3zM650.7 215.6h13.3v1h-13.3zM650.7 225.7h13.3v1h-13.3zM650.7 239.7h13.3v1h-13.3zM650.7 242.7h13.3v1h-13.3zM650.7 252.8h13.3v1h-13.3z"/><path fill="#ededff" d="M425.4 181.5h13.3v1h-13.3zM425.4 185.5h13.3v1h-13.3zM425.4 198.6h13.3v1h-13.3zM425.4 202.6h13.3v1h-13.3zM425.4 205.6h13.3v2h-13.3zM425.4 211.6h13.3v1h-13.3zM425.4 216.6h13.3v1h-13.3zM425.4 221.7h13.3v1h-13.3zM425.4 224.7h13.3v1h-13.3zM425.4 237.7h13.3v1h-13.3zM425.4 248.7h13.3v2h-13.3zM438.7 128.4h13.3v1h-13.3zM438.7 169.5h13.3v1h-13.3zM438.7 191.6h13.3v1h-13.3zM438.7 202.6h13.3v1h-13.3zM438.7 221.7h13.3v1h-13.3zM438.7 224.7h13.3v1h-13.3zM438.7 231.7h13.3v1h-13.3zM438.7 234.7h13.3v1h-13.3zM438.7 260.8h13.3v1h-13.3zM438.7 262.8h13.3v2h-13.3zM451.9 121.3h13.3v1h-13.3zM451.9 141.4h13.3v1h-13.3zM451.9 197.6h13.3v1h-13.3zM451.9 199.6h13.3v1h-13.3zM451.9 204.6h13.3v1h-13.3zM451.9 230.7h13.3v1h-13.3zM451.9 239.7h13.3v1h-13.3zM451.9 245.7h13.3v1h-13.3zM451.9 250.8h13.3v1h-13.3zM465.2 127.4h13.3v1h-13.3zM465.2 147.4h13.3v1h-13.3zM465.2 150.4h13.3v2h-13.3zM465.2 167.5h13.3v1h-13.3zM465.2 171.5h13.3v1h-13.3zM465.2 186.5h13.3v1h-13.3zM465.2 217.6h13.3v1h-13.3zM465.2 221.7h13.3v1h-13.3zM465.2 246.7h13.3v2h-13.3zM465.2 252.8h13.3v1h-13.3zM478.4 118.3h13.3v1h-13.3zM478.4 121.3h13.3v1h-13.3zM478.4 136.4h13.3v1h-13.3zM478.4 155.4h13.3v1h-13.3zM478.4 171.5h13.3v1h-13.3zM478.4 176.5h13.3v1h-13.3zM478.4 206.6h13.3v1h-13.3zM478.4 212.6h13.3v1h-13.3zM478.4 216.6h13.3v1h-13.3zM478.4 224.7h13.3v1h-13.3zM478.4 230.7h13.3v1h-13.3zM478.4 240.7h13.3v1h-13.3zM478.4 264.8h13.3v1h-13.3zM491.7 111.3h13.3v1h-13.3zM491.7 116.3h13.3v1h-13.3zM491.7 122.3h13.3v1h-13.3zM491.7 127.4h13.3v1h-13.3zM491.7 129.4h13.3v1h-13.3zM491.7 134.4h13.3v1h-13.3zM491.7 136.4h13.3v2h-13.3zM491.7 144.4h13.3v1h-13.3zM491.7 151.4h13.3v1h-13.3zM491.7 159.5h13.3v1h-13.3zM491.7 164.5h13.3v2h-13.3zM491.7 176.5h13.3v1h-13.3zM491.7 183.5h13.3v1h-13.3zM491.7 192.6h13.3v1h-13.3zM491.7 224.7h13.3v1h-13.3zM491.7 237.7h13.3v1h-13.3zM491.7 257.8h13.3v1h-13.3zM491.7 264.8h13.3v1h-13.3zM504.9 130.4h13.3v1h-13.3zM504.9 147.4h13.3v1h-13.3zM504.9 154.4h13.3v1h-13.3zM504.9 163.5h13.3v1h-13.3zM504.9 209.6h13.3v1h-13.3zM504.9 233.7h13.3v1h-13.3zM504.9 245.7h13.3v2h-13.3zM504.9 257.8h13.3v1h-13.3zM518.2 113.3h13.3v1h-13.3zM518.2 119.3h13.3v1h-13.3zM518.2 165.5h13.3v1h-13.3zM518.2 174.5h13.3v1h-13.3zM518.2 176.5h13.3v1h-13.3zM518.2 196.6h13.3v1h-13.3zM518.2 204.6h13.3v1h-13.3zM518.2 225.7h13.3v1h-13.3zM518.2 250.8h13.3v1h-13.3zM518.2 263.8h13.3v1h-13.3zM531.4 138.4h13.3v1h-13.3zM531.4 142.4h13.3v1h-13.3zM531.4 212.6h13.3v1h-13.3zM531.4 227.7h13.3v1h-13.3zM531.4 235.7h13.3v1h-13.3zM531.4 243.7h13.3v1h-13.3zM531.4 245.7h13.3v1h-13.3zM544.7 120.3h13.3v1h-13.3zM544.7 127.4h13.3v1h-13.3zM544.7 144.4h13.3v1h-13.3zM544.7 147.4h13.3v1h-13.3zM544.7 158.5h13.3v1h-13.3zM544.7 174.5h13.3v1h-13.3zM544.7 181.5h13.3v1h-13.3zM544.7 197.6h13.3v1h-13.3zM544.7 220.7h13.3v1h-13.3zM544.7 227.7h13.3v1h-13.3zM544.7 260.8h13.3v1h-13.3zM544.7 262.8h13.3v1h-13.3zM558 116.3h13.3v1h-13.3zM558 124.3h13.3v1h-13.3zM558 131.4h13.3v1h-13.3zM558 139.4h13.3v1h-13.3zM558 147.4h13.3v1h-13.3zM558 151.4h13.3v1h-13.3zM558 157.4h13.3v1h-13.3zM558 164.5h13.3v1h-13.3zM558 207.6h13.3v1h-13.3zM558 215.6h13.3v1h-13.3zM558 225.7h13.3v1h-13.3zM558 230.7h13.3v2h-13.3zM558 242.7h13.3v1h-13.3zM558 248.7h13.3v1h-13.3zM558 250.8h13.3v1h-13.3zM558 256.8h13.3v1h-13.3zM571.2 126.3h13.3v1h-13.3zM571.2 130.4h13.3v2h-13.3zM571.2 133.4h13.3v1h-13.3zM571.2 148.4h13.3v1h-13.3zM571.2 150.4h13.3v1h-13.3zM571.2 165.5h13.3v1h-13.3zM571.2 180.5h13.3v1h-13.3zM571.2 206.6h13.3v2h-13.3zM571.2 228.7h13.3v1h-13.3zM571.2 249.7h13.3v1h-13.3zM571.2 256.8h13.3v1h-13.3zM584.5 112.3h13.3v1h-13.3zM584.5 128.4h13.3v1h-13.3zM584.5 143.4h13.3v1h-13.3zM584.5 168.5h13.3v1h-13.3zM584.5 215.6h13.3v1h-13.3zM584.5 229.7h13.3v1h-13.3zM584.5 237.7h13.3v1h-13.3zM584.5 240.7h13.3v1h-13.3zM584.5 252.8h13.3v1h-13.3zM584.5 255.8h13.3v1h-13.3zM584.5 261.8h13.3v1h-13.3zM597.7 152.4h13.3v1h-13.3zM597.7 201.6h13.3v1h-13.3zM597.7 209.6h13.3v1h-13.3zM597.7 235.7h13.3v1h-13.3zM597.7 247.7h13.3v1h-13.3zM597.7 254.8h13.3v2h-13.3zM611 132.4h13.3v1h-13.3zM611 146.4h13.3v1h-13.3zM611 151.4h13.3v1h-13.3zM611 171.5h13.3v1h-13.3zM611 180.5h13.3v1h-13.3zM611 187.5h13.3v1h-13.3zM611 204.6h13.3v1h-13.3zM611 206.6h13.3v1h-13.3zM611 213.6h13.3v1h-13.3zM611 218.6h13.3v1h-13.3zM611 221.7h13.3v1h-13.3zM611 223.7h13.3v1h-13.3zM611 249.7h13.3v2h-13.3zM611 255.8h13.3v1h-13.3zM611 257.8h13.3v1h-13.3zM611 261.8h13.3v1h-13.3zM611 263.8h13.3v1h-13.3zM624.2 115.3h13.3v1h-13.3zM624.2 124.3h13.3v1h-13.3zM624.2 170.5h13.3v1h-13.3zM624.2 188.6h13.3v1h-13.3zM624.2 203.6h13.3v1h-13.3zM624.2 206.6h13.3v1h-13.3zM624.2 208.6h13.3v1h-13.3zM624.2 232.7h13.3v1h-13.3zM624.2 247.7h13.3v1h-13.3zM624.2 263.8h13.3v1h-13.3zM637.5 135.4h13.3v3h-13.3zM637.5 148.4h13.3v1h-13.3zM637.5 156.4h13.3v1h-13.3zM637.5 158.5h13.3v1h-13.3zM637.5 160.5h13.3v1h-13.3zM637.5 167.5h13.3v1h-13.3zM637.5 174.5h13.3v1h-13.3zM637.5 176.5h13.3v1h-13.3zM637.5 179.5h13.3v1h-13.3zM637.5 185.5h13.3v1h-13.3zM637.5 188.6h13.3v1h-13.3zM637.5 191.6h13.3v1h-13.3zM637.5 194.6h13.3v1h-13.3zM637.5 211.6h13.3v2h-13.3zM637.5 221.7h13.3v1h-13.3zM637.5 239.7h13.3v1h-13.3zM637.5 259.8h13.3v1h-13.3zM650.7 198.6h13.3v1h-13.3zM650.7 216.6h13.3v1h-13.3zM650.7 223.7h13.3v1h-13.3zM650.7 251.8h13.3v1h-13.3zM650.7 253.8h13.3v1h-13.3z"/><path fill="#ffffff" d="M425.4 114.3h13.3v1h-13.3zM425.4 187.5h13.3v1h-13.3zM425.4 190.6h13.3v1h-13.3zM425.4 203.6h13.3v1h-13.3zM425.4 218.6h13.3v1h-13.3zM425.4 238.7h13.3v1h-13.3zM425.4 243.7h13.3v2h-13.3zM425.4 247.7h13.3v1h-13.3zM425.4 252.8h13.3v1h-13.3zM438.7 188.6h13.3v1h-13.3zM438.7 194.6h13.3v1h-13.3zM438.7 200.6h13.3v1h-13.3zM438.7 207.6h13.3v2h-13.3zM438.7 228.7h13.3v2h-13.3zM438.7 237.7h13.3v1h-13.3zM451.9 114.3h13.3v1h-13.3zM451.9 130.4h13.3v1h-13.3zM451.9 140.4h13.3v1h-13.3zM451.9 157.4h13.3v1h-13.3zM451.9 175.5h13.3v2h-13.3zM451.9 210.6h13.3v1h-13.3zM451.9 225.7h13.3v1h-13.3zM451.9 227.7h13.3v1h-13.3zM451.9 229.7h13.3v1h-13.3zM451.9 231.7h13.3v1h-13.3zM451.9 247.7h13.3v1h-13.3zM451.9 264.8h13.3v1h-13.3zM465.2 115.3h13.3v1h-13.3zM465.2 138.4h13.3v1h-13.3zM465.2 145.4h13.3v1h-13.3zM465.2 155.4h13.3v1h-13.3zM465.2 157.4h13.3v1h-13.3zM465.2 159.5h13.3v1h-13.3zM465.2 164.5h13.3v1h-13.3zM465.2 166.5h13.3v1h-13.3zM465.2 179.5h13.3v1h-13.3zM465.2 183.5h13.3v1h-13.3zM465.2 196.6h13.3v1h-13.3zM465.2 205.6h13.3v1h-13.3zM465.2 218.6h13.3v2h-13.3zM465.2 229.7h13.3v1h-13.3zM465.2 243.7h13.3v1h-13.3zM478.4 128.4h13.3v1h-13.3zM478.4 131.4h13.3v1h-13.3zM478.4 133.4h13.3v2h-13.3zM478.4 143.4h13.3v1h-13.3zM478.4 150.4h13.3v2h-13.3zM478.4 158.5h13.3v1h-13.3zM478.4 181.5h13.3v4h-13.3zM478.4 200.6h13.3v1h-13.3zM478.4 214.6h13.3v1h-13.3zM478.4 222.7h13.3v1h-13.3zM478.4 229.7h13.3v1h-13.3zM478.4 243.7h13.3v2h-13.3zM478.4 247.7h13.3v1h-13.3zM478.4 256.8h13.3v2h-13.3zM478.4 262.8h13.3v1h-13.3zM491.7 128.4h13.3v1h-13.3zM491.7 131.4h13.3v1h-13.3zM491.7 146.4h13.3v1h-13.3zM491.7 148.4h13.3v1h-13.3zM491.7 152.4h13.3v2h-13.3zM491.7 162.5h13.3v1h-13.3zM491.7 166.5h13.3v1h-13.3zM491.7 171.5h13.3v1h-13.3zM491.7 181.5h13.3v1h-13.3zM491.7 184.5h13.3v2h-13.3zM491.7 187.5h13.3v1h-13.3zM491.7 199.6h13.3v1h-13.3zM491.7 202.6h13.3v1h-13.3zM491.7 205.6h13.3v1h-13.3zM491.7 220.7h13.3v1h-13.3zM491.7 232.7h13.3v1h-13.3zM491.7 238.7h13.3v1h-13.3zM491.7 247.7h13.3v2h-13.3zM491.7 251.8h13.3v1h-13.3zM491.7 253.8h13.3v1h-13.3zM504.9 122.3h13.3v1h-13.3zM504.9 127.4h13.3v1h-13.3zM504.9 131.4h13.3v1h-13.3zM504.9 138.4h13.3v1h-13.3zM504.9 141.4h13.3v1h-13.3zM504.9 149.4h13.3v1h-13.3zM504.9 156.4h13.3v1h-13.3zM504.9 179.5h13.3v3h-13.3zM504.9 196.6h13.3v1h-13.3zM504.9 205.6h13.3v1h-13.3zM504.9 210.6h13.3v1h-13.3zM504.9 212.6h13.3v1h-13.3zM504.9 222.7h13.3v1h-13.3zM504.9 238.7h13.3v1h-13.3zM504.9 240.7h13.3v1h-13.3zM504.9 243.7h13.3v1h-13.3zM504.9 258.8h13.3v1h-13.3zM504.9 264.8h13.3v1h-13.3zM518.2 116.3h13.3v1h-13.3zM518.2 118.3h13.3v1h-13.3zM518.2 121.3h13.3v1h-13.3zM518.2 135.4h13.3v1h-13.3zM518.2 143.4h13.3v1h-13.3zM518.2 149.4h13.3v1h-13.3zM518.2 151.4h13.3v1h-13.3zM518.2 187.5h13.3v1h-13.3zM518.2 194.6h13.3v1h-13.3zM518.2 197.6h13.3v1h-13.3zM518.2 200.6h13.3v2h-13.3zM518.2 207.6h13.3v1h-13.3zM518.2 214.6h13.3v1h-13.3zM518.2 217.6h13.3v2h-13.3zM518.2 236.7h13.3v1h-13.3zM518.2 242.7h13.3v1h-13.3zM518.2 262.8h13.3v1h-13.3zM531.4 111.3h13.3v2h-13.3zM531.4 115.3h13.3v1h-13.3zM531.4 123.3h13.3v1h-13.3zM531.4 133.4h13.3v1h-13.3zM531.4 136.4h13.3v1h-13.3zM531.4 141.4h13.3v1h-13.3zM531.4 143.4h13.3v1h-13.3zM531.4 147.4h13.3v1h-13.3zM531.4 151.4h13.3v1h-13.3zM531.4 162.5h13.3v1h-13.3zM531.4 175.5h13.3v1h-13.3zM531.4 177.5h13.3v1h-13.3zM531.4 180.5h13.3v1h-13.3zM531.4 186.5h13.3v1h-13.3zM531.4 188.6h13.3v1h-13.3zM531.4 204.6h13.3v1h-13.3zM531.4 210.6h13.3v1h-13.3zM531.4 217.6h13.3v1h-13.3zM531.4 236.7h13.3v1h-13.3zM531.4 257.8h13.3v1h-13.3zM531.4 262.8h13.3v1h-13.3zM531.4 264.8h13.3v1h-13.3zM544.7 121.3h13.3v1h-13.3zM544.7 124.3h13.3v1h-13.3zM544.7 126.3h13.3v1h-13.3zM544.7 137.4h13.3v1h-13.3zM544.7 153.4h13.3v1h-13.3zM544.7 171.5h13.3v1h-13.3zM544.7 177.5h13.3v1h-13.3zM544.7 184.5h13.3v1h-13.3zM544.7 195.6h13.3v1h-13.3zM544.7 198.6h13.3v1h-13.3zM544.7 202.6h13.3v1h-13.3zM544.7 210.6h13.3v1h-13.3zM544.7 212.6h13.3v1h-13.3zM544.7 217.6h13.3v1h-13.3zM544.7 233.7h13.3v1h-13.3zM544.7 238.7h13.3v1h-13.3zM544.7 248.7h13.3v1h-13.3zM544.7 255.8h13.3v1h-13.3zM544.7 263.8h13.3v1h-13.3zM558 113.3h13.3v1h-13.3zM558 118.3h13.3v1h-13.3zM558 121.3h13.3v1h-13.3zM558 128.4h13.3v1h-13.3zM558 145.4h13.3v1h-13.3zM558 159.5h13.3v1h-13.3zM558 162.5h13.3v1h-13.3zM558 167.5h13.3v1h-13.3zM558 175.5h13.3v1h-13.3zM558 185.5h13.3v1h-13.3zM558 187.5h13.3v1h-13.3zM558 209.6h13.3v1h-13.3zM558 219.7h13.3v1h-13.3zM558 226.7h13.3v1h-13.3zM558 229.7h13.3v1h-13.3zM558 243.7h13.3v1h-13.3zM558 251.8h13.3v1h-13.3zM558 260.8h13.3v1h-13.3zM571.2 116.3h13.3v3h-13.3zM571.2 125.3h13.3v1h-13.3zM571.2 127.4h13.3v1h-13.3zM571.2 129.4h13.3v1h-13.3zM571.2 135.4h13.3v1h-13.3zM571.2 149.4h13.3v1h-13.3zM571.2 151.4h13.3v1h-13.3zM571.2 159.5h13.3v1h-13.3zM571.2 170.5h13.3v1h-13.3zM571.2 173.5h13.3v1h-13.3zM571.2 182.5h13.3v1h-13.3zM571.2 218.6h13.3v1h-13.3zM571.2 222.7h13.3v1h-13.3zM571.2 244.7h13.3v1h-13.3zM571.2 258.8h13.3v1h-13.3zM571.2 260.8h13.3v1h-13.3zM584.5 115.3h13.3v1h-13.3zM584.5 130.4h13.3v1h-13.3zM584.5 147.4h13.3v1h-13.3zM584.5 161.5h13.3v1h-13.3zM584.5 178.5h13.3v1h-13.3zM584.5 181.5h13.3v1h-13.3zM584.5 201.6h13.3v2h-13.3zM584.5 207.6h13.3v1h-13.3zM584.5 212.6h13.3v1h-13.3zM584.5 214.6h13.3v1h-13.3zM584.5 216.6h13.3v3h-13.3zM584.5 220.7h13.3v1h-13.3zM584.5 222.7h13.3v1h-13.3zM584.5 226.7h13.3v1h-13.3zM584.5 230.7h13.3v2h-13.3zM584.5 244.7h13.3v1h-13.3zM584.5 246.7h13.3v1h-13.3zM584.5 248.7h13.3v2h-13.3zM584.5 253.8h13.3v1h-13.3zM584.5 258.8h13.3v1h-13.3zM597.7 119.3h13.3v1h-13.3zM597.7 145.4h13.3v1h-13.3zM597.7 167.5h13.3v1h-13.3zM597.7 171.5h13.3v1h-13.3zM597.7 180.5h13.3v1h-13.3zM597.7 208.6h13.3v1h-13.3zM597.7 210.6h13.3v1h-13.3zM597.7 213.6h13.3v1h-13.3zM597.7 221.7h13.3v1h-13.3zM597.7 243.7h13.3v1h-13.3zM597.7 248.7h13.3v1h-13.3zM597.7 250.8h13.3v1h-13.3zM597.7 252.8h13.3v1h-13.3zM611 116.3h13.3v1h-13.3zM611 128.4h13.3v1h-13.3zM611 134.4h13.3v2h-13.3zM611 140.4h13.3v1h-13.3zM611 144.4h13.3v1h-13.3zM611 154.4h13.3v1h-13.3zM611 162.5h13.3v1h-13.3zM611 169.5h13.3v1h-13.3zM611 172.5h13.3v1h-13.3zM611 185.5h13.3v1h-13.3zM611 190.6h13.3v1h-13.3zM611 192.6h13.3v1h-13.3zM611 219.7h13.3v1h-13.3zM611 224.7h13.3v2h-13.3zM611 230.7h13.3v1h-13.3zM611 233.7h13.3v2h-13.3zM611 243.7h13.3v1h-13.3zM611 245.7h13.3v1h-13.3zM611 256.8h13.3v1h-13.3zM611 262.8h13.3v1h-13.3zM611 264.8h13.3v1h-13.3zM624.2 119.3h13.3v1h-13.3zM624.2 125.3h13.3v1h-13.3zM624.2 147.4h13.3v1h-13.3zM624.2 157.4h13.3v1h-13.3zM624.2 167.5h13.3v2h-13.3zM624.2 172.5h13.3v1h-13.3zM624.2 175.5h13.3v1h-13.3zM624.2 195.6h13.3v1h-13.3zM624.2 199.6h13.3v1h-13.3zM624.2 207.6h13.3v1h-13.3zM624.2 213.6h13.3v1h-13.3zM624.2 235.7h13.3v1h-13.3zM624.2 248.7h13.3v1h-13.3zM624.2 257.8h13.3v1h-13.3zM637.5 113.3h13.3v2h-13.3zM637.5 123.3h13.3v1h-13.3zM637.5 140.4h13.3v2h-13.3zM637.5 143.4h13.3v1h-13.3zM637.5 146.4h13.3v1h-13.3zM637.5 151.4h13.3v1h-13.3zM637.5 155.4h13.3v1h-13.3zM637.5 157.4h13.3v1h-13.3zM637.5 173.5h13.3v1h-13.3zM637.5 181.5h13.3v1h-13.3zM637.5 192.6h13.3v1h-13.3zM637.5 204.6h13.3v2h-13.3zM637.5 214.6h13.3v1h-13.3zM637.5 217.6h13.3v1h-13.3zM637.5 225.7h13.3v1h-13.3zM637.5 231.7h13.3v1h-13.3zM637.5 242.7h13.3v1h-13.3zM637.5 245.7h13.3v1h-13.3zM637.5 256.8h13.3v1h-13.3zM650.7 146.4h13.3v1h-13.3zM650.7 175.5h13.3v1h-13.3zM650.7 194.6h13.3v2h-13.3zM650.7 200.6h13.3v1h-13.3zM650.7 202.6h13.3v1h-13.3zM650.7 217.6h13.3v1h-13.3zM650.7 224.7h13.3v1h-13.3zM650.7 232.7h13.3v1h-13.3zM650.7 245.7h13.3v1h-13.3zM650.7 255.8h13.3v2h-13.3z"/><path fill="#fff6f6" d="M425.4 188.6h13.3v1h-13.3zM425.4 197.6h13.3v1h-13.3zM425.4 227.7h13.3v1h-13.3zM425.4 245.7h13.3v1h-13.3zM425.4 251.8h13.3v1h-13.3zM425.4 257.8h13.3v1h-13.3zM425.4 259.8h13.3v1h-13.3zM438.7 192.6h13.3v1h-13.3zM438.7 198.6h13.3v1h-13.3zM438.7 201.6h13.3v1h-13.3zM438.7 210.6h13.3v2h-13.3zM438.7 223.7h13.3v1h-13.3zM438.7 232.7h13.3v1h-13.3zM438.7 264.8h13.3v1h-13.3zM451.9 117.3h13.3v3h-13.3zM451.9 127.4h13.3v1h-13.3zM451.9 134.4h13.3v1h-13.3zM451.9 142.4h13.3v1h-13.3zM451.9 144.4h13.3v1h-13.3zM451.9 156.4h13.3v1h-13.3zM451.9 160.5h13.3v1h-13.3zM451.9 163.5h13.3v2h-13.3zM451.9 168.5h13.3v1h-13.3zM451.9 174.5h13.3v1h-13.3zM451.9 180.5h13.3v1h-13.3zM451.9 189.6h13.3v1h-13.3zM451.9 194.6h13.3v1h-13.3zM451.9 200.6h13.3v1h-13.3zM451.9 207.6h13.3v1h-13.3zM451.9 243.7h13.3v1h-13.3zM451.9 249.7h13.3v1h-13.3zM451.9 251.8h13.3v1h-13.3zM451.9 261.8h13.3v1h-13.3zM451.9 263.8h13.3v1h-13.3zM465.2 134.4h13.3v1h-13.3zM465.2 137.4h13.3v1h-13.3zM465.2 141.4h13.3v1h-13.3zM465.2 144.4h13.3v1h-13.3zM465.2 152.4h13.3v1h-13.3zM465.2 154.4h13.3v1h-13.3zM465.2 165.5h13.3v1h-13.3zM465.2 202.6h13.3v2h-13.3zM465.2 207.6h13.3v3h-13.3zM465.2 234.7h13.3v1h-13.3zM465.2 237.7h13.3v1h-13.3zM465.2 242.7h13.3v1h-13.3zM465.2 244.7h13.3v2h-13.3zM465.2 248.7h13.3v1h-13.3zM465.2 251.8h13.3v1h-13.3zM465.2 254.8h13.3v1h-13.3zM465.2 256.8h13.3v1h-13.3zM478.4 113.3h13.3v1h-13.3zM478.4 116.3h13.3v1h-13.3zM478.4 120.3h13.3v1h-13.3zM478.4 141.4h13.3v1h-13.3zM478.4 144.4h13.3v1h-13.3zM478.4 179.5h13.3v1h-13.3zM478.4 194.6h13.3v1h-13.3zM478.4 196.6h13.3v1h-13.3zM478.4 210.6h13.3v1h-13.3zM478.4 217.6h13.3v1h-13.3zM478.4 223.7h13.3v1h-13.3zM478.4 238.7h13.3v2h-13.3zM478.4 242.7h13.3v1h-13.3zM478.4 261.8h13.3v1h-13.3zM491.7 114.3h13.3v1h-13.3zM491.7 142.4h13.3v1h-13.3zM491.7 147.4h13.3v1h-13.3zM491.7 150.4h13.3v1h-13.3zM491.7 155.4h13.3v1h-13.3zM491.7 163.5h13.3v1h-13.3zM491.7 168.5h13.3v1h-13.3zM491.7 178.5h13.3v1h-13.3zM491.7 189.6h13.3v1h-13.3zM491.7 191.6h13.3v1h-13.3zM491.7 195.6h13.3v1h-13.3zM491.7 207.6h13.3v1h-13.3zM491.7 211.6h13.3v1h-13.3zM491.7 215.6h13.3v1h-13.3zM491.7 228.7h13.3v1h-13.3zM491.7 231.7h13.3v1h-13.3zM491.7 236.7h13.3v1h-13.3zM491.7 239.7h13.3v1h-13.3zM491.7 243.7h13.3v2h-13.3zM491.7 250.8h13.3v1h-13.3zM491.7 258.8h13.3v1h-13.3zM504.9 116.3h13.3v1h-13.3zM504.9 121.3h13.3v1h-13.3zM504.9 125.3h13.3v1h-13.3zM504.9 133.4h13.3v1h-13.3zM504.9 135.4h13.3v1h-13.3zM504.9 153.4h13.3v1h-13.3zM504.9 158.5h13.3v1h-13.3zM504.9 172.5h13.3v1h-13.3zM504.9 185.5h13.3v1h-13.3zM504.9 190.6h13.3v2h-13.3zM504.9 193.6h13.3v1h-13.3zM504.9 213.6h13.3v1h-13.3zM504.9 223.7h13.3v1h-13.3zM504.9 228.7h13.3v1h-13.3zM504.9 237.7h13.3v1h-13.3zM504.9 253.8h13.3v1h-13.3zM504.9 255.8h13.3v2h-13.3zM504.9 259.8h13.3v1h-13.3zM504.9 262.8h13.3v1h-13.3zM518.2 112.3h13.3v1h-13.3zM518.2 127.4h13.3v2h-13.3zM518.2 130.4h13.3v3h-13.3zM518.2 137.4h13.3v1h-13.3zM518.2 142.4h13.3v1h-13.3zM518.2 146.4h13.3v3h-13.3zM518.2 167.5h13.3v1h-13.3zM518.2 172.5h13.3v1h-13.3zM518.2 180.5h13.3v1h-13.3zM518.2 193.6h13.3v1h-13.3zM518.2 226.7h13.3v1h-13.3zM518.2 258.8h13.3v1h-13.3zM531.4 114.3h13.3v1h-13.3zM531.4 134.4h13.3v2h-13.3zM531.4 146.4h13.3v1h-13.3zM531.4 165.5h13.3v1h-13.3zM531.4 182.5h13.3v1h-13.3zM531.4 189.6h13.3v1h-13.3zM531.4 191.6h13.3v1h-13.3zM531.4 194.6h13.3v1h-13.3zM531.4 203.6h13.3v1h-13.3zM531.4 211.6h13.3v1h-13.3zM531.4 216.6h13.3v1h-13.3zM531.4 220.7h13.3v1h-13.3zM531.4 222.7h13.3v1h-13.3zM531.4 224.7h13.3v1h-13.3zM531.4 229.7h13.3v1h-13.3zM531.4 247.7h13.3v1h-13.3zM531.4 253.8h13.3v2h-13.3zM531.4 258.8h13.3v1h-13.3zM531.4 261.8h13.3v1h-13.3zM544.7 113.3h13.3v2h-13.3zM544.7 128.4h13.3v2h-13.3zM544.7 135.4h13.3v2h-13.3zM544.7 139.4h13.3v1h-13.3zM544.7 146.4h13.3v1h-13.3zM544.7 155.4h13.3v1h-13.3zM544.7 159.5h13.3v1h-13.3zM544.7 173.5h13.3v1h-13.3zM544.7 176.5h13.3v1h-13.3zM544.7 188.6h13.3v1h-13.3zM544.7 190.6h13.3v1h-13.3zM544.7 214.6h13.3v1h-13.3zM544.7 218.6h13.3v1h-13.3zM544.7 228.7h13.3v1h-13.3zM544.7 239.7h13.3v1h-13.3zM544.7 243.7h13.3v1h-13.3zM544.7 247.7h13.3v1h-13.3zM558 111.3h13.3v2h-13.3zM558 117.3h13.3v1h-13.3zM558 120.3h13.3v1h-13.3zM558 152.4h13.3v1h-13.3zM558 163.5h13.3v1h-13.3zM558 173.5h13.3v1h-13.3zM558 179.5h13.3v1h-13.3zM558 181.5h13.3v1h-13.3zM558 190.6h13.3v1h-13.3zM558 214.6h13.3v1h-13.3zM558 221.7h13.3v1h-13.3zM558 235.7h13.3v1h-13.3zM558 238.7h13.3v1h-13.3zM558 245.7h13.3v1h-13.3zM558 252.8h13.3v1h-13.3zM558 259.8h13.3v1h-13.3zM558 262.8h13.3v1h-13.3zM571.2 121.3h13.3v1h-13.3zM571.2 124.3h13.3v1h-13.3zM571.2 138.4h13.3v1h-13.3zM571.2 143.4h13.3v1h-13.3zM571.2 145.4h13.3v3h-13.3zM571.2 172.5h13.3v1h-13.3zM571.2 212.6h13.3v1h-13.3zM571.2 216.6h13.3v1h-13.3zM571.2 221.7h13.3v1h-13.3zM571.2 225.7h13.3v2h-13.3zM571.2 229.7h13.3v1h-13.3zM571.2 232.7h13.3v1h-13.3zM571.2 238.7h13.3v1h-13.3zM571.2 248.7h13.3v1h-13.3zM571.2 250.8h13.3v1h-13.3zM571.2 264.8h13.3v1h-13.3zM584.5 118.3h13.3v1h-13.3zM584.5 120.3h13.3v1h-13.3zM584.5 122.3h13.3v2h-13.3zM584.5 129.4h13.3v1h-13.3zM584.5 137.4h13.3v2h-13.3zM584.5 140.4h13.3v1h-13.3zM584.5 142.4h13.3v1h-13.3zM584.5 146.4h13.3v1h-13.3zM584.5 149.4h13.3v1h-13.3zM584.5 157.4h13.3v1h-13.3zM584.5 172.5h13.3v1h-13.3zM584.5 179.5h13.3v1h-13.3zM584.5 182.5h13.3v1h-13.3zM584.5 238.7h13.3v1h-13.3zM584.5 243.7h13.3v1h-13.3zM597.7 111.3h13.3v1h-13.3zM597.7 125.3h13.3v1h-13.3zM597.7 127.4h13.3v1h-13.3zM597.7 129.4h13.3v1h-13.3zM597.7 144.4h13.3v1h-13.3zM597.7 174.5h13.3v1h-13.3zM597.7 203.6h13.3v2h-13.3zM597.7 219.7h13.3v1h-13.3zM597.7 223.7h13.3v1h-13.3zM597.7 225.7h13.3v1h-13.3zM597.7 236.7h13.3v1h-13.3zM597.7 240.7h13.3v1h-13.3zM597.7 253.8h13.3v1h-13.3zM597.7 262.8h13.3v1h-13.3zM611 114.3h13.3v2h-13.3zM611 120.3h13.3v3h-13.3zM611 137.4h13.3v1h-13.3zM611 143.4h13.3v1h-13.3zM611 149.4h13.3v1h-13.3zM611 167.5h13.3v1h-13.3zM611 175.5h13.3v1h-13.3zM611 177.5h13.3v2h-13.3zM611 182.5h13.3v1h-13.3zM611 186.5h13.3v1h-13.3zM611 195.6h13.3v1h-13.3zM611 198.6h13.3v1h-13.3zM611 200.6h13.3v1h-13.3zM611 208.6h13.3v1h-13.3zM611 211.6h13.3v1h-13.3zM611 235.7h13.3v1h-13.3zM611 238.7h13.3v1h-13.3zM611 241.7h13.3v2h-13.3zM624.2 112.3h13.3v1h-13.3zM624.2 118.3h13.3v1h-13.3zM624.2 136.4h13.3v1h-13.3zM624.2 139.4h13.3v1h-13.3zM624.2 145.4h13.3v1h-13.3zM624.2 148.4h13.3v1h-13.3zM624.2 150.4h13.3v1h-13.3zM624.2 186.5h13.3v1h-13.3zM624.2 191.6h13.3v1h-13.3zM624.2 197.6h13.3v1h-13.3zM624.2 201.6h13.3v2h-13.3zM624.2 211.6h13.3v2h-13.3zM624.2 214.6h13.3v1h-13.3zM624.2 218.6h13.3v2h-13.3zM624.2 221.7h13.3v2h-13.3zM624.2 224.7h13.3v1h-13.3zM624.2 227.7h13.3v1h-13.3zM624.2 237.7h13.3v1h-13.3zM624.2 242.7h13.3v1h-13.3zM624.2 250.8h13.3v1h-13.3zM624.2 264.8h13.3v1h-13.3zM637.5 115.3h13.3v2h-13.3zM637.5 130.4h13.3v1h-13.3zM637.5 132.4h13.3v1h-13.3zM637.5 150.4h13.3v1h-13.3zM637.5 152.4h13.3v1h-13.3zM637.5 154.4h13.3v1h-13.3zM637.5 159.5h13.3v1h-13.3zM637.5 165.5h13.3v1h-13.3zM637.5 177.5h13.3v1h-13.3zM637.5 201.6h13.3v1h-13.3zM637.5 207.6h13.3v1h-13.3zM637.5 209.6h13.3v1h-13.3zM637.5 238.7h13.3v1h-13.3zM637.5 244.7h13.3v1h-13.3zM637.5 250.8h13.3v1h-13.3zM650.7 121.3h13.3v1h-13.3zM650.7 137.4h13.3v1h-13.3zM650.7 161.5h13.3v1h-13.3zM650.7 170.5h13.3v1h-13.3zM650.7 176.5h13.3v1h-13.3zM650.7 179.5h13.3v1h-13.3zM650.7 186.5h13.3v1h-13.3zM650.7 192.6h13.3v1h-13.3zM650.7 196.6h13.3v1h-13.3zM650.7 201.6h13.3v1h-13.3zM650.7 208.6h13.3v1h-13.3zM650.7 212.6h13.3v1h-13.3zM650.7 218.6h13.3v1h-13.3zM650.7 221.7h13.3v1h-13.3zM650.7 237.7h13.3v2h-13.3zM650.7 241.7h13.3v1h-13.3zM650.7 248.7h13.3v1h-13.3zM650.7 250.8h13.3v1h-13.3z"/><path fill="#d2d2ff" d="M425.4 116.3h13.3v1h-13.3zM425.4 123.3h13.3v1h-13.3zM425.4 171.5h13.3v1h-13.3zM425.4 179.5h13.3v1h-13.3zM425.4 182.5h13.3v1h-13.3zM425.4 191.6h13.3v1h-13.3zM425.4 201.6h13.3v1h-13.3zM425.4 210.6h13.3v1h-13.3zM425.4 220.7h13.3v1h-13.3zM425.4 231.7h13.3v1h-13.3zM425.4 255.8h13.3v1h-13.3zM438.7 145.4h13.3v1h-13.3zM438.7 154.4h13.3v1h-13.3zM438.7 160.5h13.3v1h-13.3zM438.7 165.5h13.3v1h-13.3zM438.7 175.5h13.3v1h-13.3zM438.7 182.5h13.3v1h-13.3zM465.2 116.3h13.3v1h-13.3zM465.2 122.3h13.3v1h-13.3zM465.2 136.4h13.3v1h-13.3zM465.2 156.4h13.3v1h-13.3zM465.2 160.5h13.3v1h-13.3zM465.2 195.6h13.3v1h-13.3zM465.2 197.6h13.3v2h-13.3zM465.2 222.7h13.3v1h-13.3zM478.4 148.4h13.3v2h-13.3zM478.4 163.5h13.3v3h-13.3zM478.4 225.7h13.3v1h-13.3zM491.7 113.3h13.3v1h-13.3zM491.7 115.3h13.3v1h-13.3zM491.7 125.3h13.3v1h-13.3zM491.7 139.4h13.3v1h-13.3zM491.7 143.4h13.3v1h-13.3zM491.7 175.5h13.3v1h-13.3zM491.7 241.7h13.3v2h-13.3zM504.9 187.5h13.3v1h-13.3zM518.2 240.7h13.3v1h-13.3zM531.4 213.6h13.3v1h-13.3zM531.4 225.7h13.3v1h-13.3zM531.4 251.8h13.3v1h-13.3zM544.7 133.4h13.3v1h-13.3zM544.7 242.7h13.3v1h-13.3zM571.2 111.3h13.3v1h-13.3zM571.2 153.4h13.3v1h-13.3zM571.2 174.5h13.3v2h-13.3zM571.2 193.6h13.3v2h-13.3zM571.2 237.7h13.3v1h-13.3zM571.2 239.7h13.3v1h-13.3zM584.5 144.4h13.3v1h-13.3zM584.5 254.8h13.3v1h-13.3zM597.7 194.6h13.3v1h-13.3zM597.7 231.7h13.3v1h-13.3zM597.7 233.7h13.3v1h-13.3zM597.7 251.8h13.3v1h-13.3zM611 111.3h13.3v1h-13.3zM611 136.4h13.3v1h-13.3zM611 141.4h13.3v1h-13.3zM611 158.5h13.3v1h-13.3zM611 216.6h13.3v1h-13.3zM611 229.7h13.3v1h-13.3zM611 239.7h13.3v2h-13.3zM611 246.7h13.3v1h-13.3zM624.2 190.6h13.3v1h-13.3zM624.2 246.7h13.3v1h-13.3zM637.5 126.3h13.3v1h-13.3zM637.5 138.4h13.3v1h-13.3zM637.5 145.4h13.3v1h-13.3zM637.5 187.5h13.3v1h-13.3zM650.7 189.6h13.3v1h-13.3zM650.7 259.8h13.3v1h-13.3z"/><path fill="#e4e4ff" d="M425.4 130.4h13.3v1h-13.3zM425.4 156.4h13.3v1h-13.3zM425.4 199.6h13.3v1h-13.3zM425.4 212.6h13.3v1h-13.3zM425.4 223.7h13.3v1h-13.3zM425.4 228.7h13.3v1h-13.3zM425.4 236.7h13.3v1h-13.3zM425.4 250.8h13.3v1h-13.3zM438.7 112.3h13.3v2h-13.3zM438.7 161.5h13.3v1h-13.3zM438.7 187.5h13.3v1h-13.3zM438.7 204.6h13.3v1h-13.3zM438.7 215.6h13.3v1h-13.3zM438.7 238.7h13.3v1h-13.3zM451.9 124.3h13.3v1h-13.3zM451.9 126.3h13.3v1h-13.3zM451.9 135.4h13.3v1h-13.3zM451.9 139.4h13.3v1h-13.3zM451.9 166.5h13.3v1h-13.3zM451.9 196.6h13.3v1h-13.3zM451.9 237.7h13.3v1h-13.3zM451.9 244.7h13.3v1h-13.3zM451.9 246.7h13.3v1h-13.3zM451.9 253.8h13.3v1h-13.3zM465.2 126.3h13.3v1h-13.3zM465.2 130.4h13.3v4h-13.3zM465.2 162.5h13.3v1h-13.3zM465.2 172.5h13.3v1h-13.3zM465.2 206.6h13.3v1h-13.3zM465.2 213.6h13.3v3h-13.3zM465.2 223.7h13.3v1h-13.3zM465.2 227.7h13.3v2h-13.3zM465.2 231.7h13.3v1h-13.3zM465.2 236.7h13.3v1h-13.3zM465.2 260.8h13.3v1h-13.3zM478.4 123.3h13.3v2h-13.3zM478.4 126.3h13.3v2h-13.3zM478.4 129.4h13.3v1h-13.3zM478.4 138.4h13.3v1h-13.3zM478.4 140.4h13.3v1h-13.3zM478.4 175.5h13.3v1h-13.3zM478.4 177.5h13.3v2h-13.3zM478.4 204.6h13.3v1h-13.3zM478.4 218.6h13.3v1h-13.3zM478.4 237.7h13.3v1h-13.3zM491.7 112.3h13.3v1h-13.3zM491.7 118.3h13.3v1h-13.3zM491.7 124.3h13.3v1h-13.3zM491.7 130.4h13.3v1h-13.3zM491.7 132.4h13.3v2h-13.3zM491.7 135.4h13.3v1h-13.3zM491.7 138.4h13.3v1h-13.3zM491.7 145.4h13.3v1h-13.3zM491.7 167.5h13.3v1h-13.3zM491.7 182.5h13.3v1h-13.3zM491.7 222.7h13.3v2h-13.3zM491.7 225.7h13.3v3h-13.3zM504.9 120.3h13.3v1h-13.3zM504.9 145.4h13.3v1h-13.3zM504.9 164.5h13.3v1h-13.3zM504.9 177.5h13.3v1h-13.3zM504.9 221.7h13.3v1h-13.3zM518.2 129.4h13.3v1h-13.3zM518.2 141.4h13.3v1h-13.3zM518.2 152.4h13.3v1h-13.3zM518.2 162.5h13.3v1h-13.3zM518.2 164.5h13.3v1h-13.3zM518.2 175.5h13.3v1h-13.3zM518.2 183.5h13.3v1h-13.3zM518.2 185.5h13.3v1h-13.3zM518.2 202.6h13.3v1h-13.3zM518.2 208.6h13.3v1h-13.3zM518.2 212.6h13.3v2h-13.3zM518.2 232.7h13.3v1h-13.3zM518.2 245.7h13.3v1h-13.3zM518.2 252.8h13.3v1h-13.3zM531.4 121.3h13.3v1h-13.3zM531.4 126.3h13.3v1h-13.3zM531.4 161.5h13.3v1h-13.3zM531.4 174.5h13.3v1h-13.3zM531.4 193.6h13.3v1h-13.3zM531.4 206.6h13.3v1h-13.3zM531.4 208.6h13.3v1h-13.3zM531.4 219.7h13.3v1h-13.3zM544.7 112.3h13.3v1h-13.3zM544.7 132.4h13.3v1h-13.3zM544.7 148.4h13.3v1h-13.3zM544.7 160.5h13.3v1h-13.3zM544.7 169.5h13.3v1h-13.3zM544.7 180.5h13.3v1h-13.3zM544.7 182.5h13.3v1h-13.3zM544.7 249.7h13.3v1h-13.3zM544.7 257.8h13.3v1h-13.3zM558 126.3h13.3v1h-13.3zM558 136.4h13.3v1h-13.3zM558 199.6h13.3v1h-13.3zM558 210.6h13.3v1h-13.3zM558 216.6h13.3v1h-13.3zM558 240.7h13.3v1h-13.3zM558 246.7h13.3v1h-13.3zM558 249.7h13.3v1h-13.3zM558 257.8h13.3v1h-13.3zM571.2 132.4h13.3v1h-13.3zM571.2 141.4h13.3v1h-13.3zM571.2 167.5h13.3v2h-13.3zM571.2 178.5h13.3v1h-13.3zM571.2 191.6h13.3v1h-13.3zM571.2 196.6h13.3v1h-13.3zM571.2 231.7h13.3v1h-13.3zM571.2 242.7h13.3v1h-13.3zM571.2 245.7h13.3v1h-13.3zM571.2 262.8h13.3v1h-13.3zM584.5 111.3h13.3v1h-13.3zM584.5 164.5h13.3v1h-13.3zM584.5 166.5h13.3v1h-13.3zM584.5 169.5h13.3v1h-13.3zM584.5 183.5h13.3v1h-13.3zM584.5 239.7h13.3v1h-13.3zM584.5 241.7h13.3v1h-13.3zM584.5 259.8h13.3v1h-13.3zM597.7 121.3h13.3v1h-13.3zM597.7 232.7h13.3v1h-13.3zM597.7 241.7h13.3v1h-13.3zM597.7 249.7h13.3v1h-13.3zM611 126.3h13.3v1h-13.3zM611 145.4h13.3v1h-13.3zM611 155.4h13.3v1h-13.3zM611 161.5h13.3v1h-13.3zM611 170.5h13.3v1h-13.3zM611 183.5h13.3v1h-13.3zM611 194.6h13.3v1h-13.3zM611 201.6h13.3v1h-13.3zM611 209.6h13.3v1h-13.3zM611 222.7h13.3v1h-13.3zM611 232.7h13.3v1h-13.3zM624.2 179.5h13.3v2h-13.3zM637.5 122.3h13.3v1h-13.3zM637.5 134.4h13.3v1h-13.3zM637.5 139.4h13.3v1h-13.3zM637.5 149.4h13.3v1h-13.3zM637.5 161.5h13.3v1h-13.3zM637.5 164.5h13.3v1h-13.3zM637.5 178.5h13.3v1h-13.3zM637.5 180.5h13.3v1h-13.3zM637.5 183.5h13.3v1h-13.3zM637.5 189.6h13.3v1h-13.3zM637.5 223.7h13.3v1h-13.3zM637.5 229.7h13.3v1h-13.3zM637.5 251.8h13.3v2h-13.3zM637.5 254.8h13.3v1h-13.3zM650.7 147.4h13.3v1h-13.3zM650.7 190.6h13.3v1h-13.3zM650.7 207.6h13.3v1h-13.3zM650.7 209.6h13.3v1h-13.3zM650.7 211.6h13.3v1h-13.3z"/><path fill="#ffc1c1" d="M438.7 214.6h13.3v1h-13.3zM438.7 217.6h13.3v1h-13.3zM438.7 246.7h13.3v1h-13.3zM438.7 249.7h13.3v1h-13.3zM451.9 212.6h13.3v1h-13.3zM451.9 216.6h13.3v1h-13.3zM451.9 228.7h13.3v1h-13.3zM491.7 252.8h13.3v1h-13.3zM504.9 132.4h13.3v1h-13.3zM504.9 217.6h13.3v1h-13.3zM504.9 236.7h13.3v1h-13.3zM518.2 221.7h13.3v2h-13.3zM531.4 131.4h13.3v1h-13.3zM531.4 150.4h13.3v1h-13.3zM531.4 183.5h13.3v1h-13.3zM531.4 238.7h13.3v1h-13.3zM544.7 123.3h13.3v1h-13.3zM544.7 193.6h13.3v1h-13.3zM558 122.3h13.3v1h-13.3zM558 165.5h13.3v1h-13.3zM558 186.5h13.3v1h-13.3zM571.2 202.6h13.3v1h-13.3zM571.2 217.6h13.3v1h-13.3zM584.5 141.4h13.3v1h-13.3zM597.7 112.3h13.3v1h-13.3zM597.7 115.3h13.3v1h-13.3zM597.7 137.4h13.3v1h-13.3zM597.7 139.4h13.3v1h-13.3zM597.7 147.4h13.3v1h-13.3zM597.7 175.5h13.3v1h-13.3zM624.2 137.4h13.3v1h-13.3zM624.2 141.4h13.3v1h-13.3zM637.5 226.7h13.3v1h-13.3zM637.5 235.7h13.3v1h-13.3zM650.7 111.3h13.3v1h-13.3zM650.7 150.4h13.3v1h-13.3zM650.7 159.5h13.3v1h-13.3zM650.7 168.5h13.3v2h-13.3z"/><path fill="#b8b8ff" d="M425.4 112.3h13.3v1h-13.3zM425.4 117.3h13.3v1h-13.3zM425.4 149.4h13.3v1h-13.3zM425.4 151.4h13.3v1h-13.3zM425.4 159.5h13.3v1h-13.3zM425.4 184.5h13.3v1h-13.3zM425.4 217.6h13.3v1h-13.3zM425.4 234.7h13.3v1h-13.3zM438.7 123.3h13.3v1h-13.3zM438.7 127.4h13.3v1h-13.3zM438.7 130.4h13.3v1h-13.3zM438.7 132.4h13.3v1h-13.3zM438.7 158.5h13.3v1h-13.3zM438.7 168.5h13.3v1h-13.3zM438.7 170.5h13.3v3h-13.3zM438.7 183.5h13.3v2h-13.3zM451.9 138.4h13.3v1h-13.3zM491.7 214.6h13.3v1h-13.3zM518.2 249.7h13.3v1h-13.3zM571.2 154.4h13.3v1h-13.3zM571.2 177.5h13.3v1h-13.3zM571.2 186.5h13.3v1h-13.3zM571.2 188.6h13.3v1h-13.3zM571.2 198.6h13.3v1h-13.3zM584.5 187.5h13.3v1h-13.3zM584.5 199.6h13.3v1h-13.3zM597.7 190.6h13.3v3h-13.3zM597.7 197.6h13.3v1h-13.3zM611 203.6h13.3v1h-13.3zM637.5 120.3h13.3v1h-13.3zM637.5 262.8h13.3v1h-13.3zM650.7 258.8h13.3v1h-13.3z"/><path fill="#ffdbdb" d="M425.4 193.6h13.3v1h-13.3zM425.4 195.6h13.3v1h-13.3zM425.4 254.8h13.3v1h-13.3zM438.7 186.5h13.3v1h-13.3zM438.7 206.6h13.3v1h-13.3zM438.7 212.6h13.3v1h-13.3zM438.7 218.6h13.3v1h-13.3zM438.7 258.8h13.3v1h-13.3zM451.9 112.3h13.3v1h-13.3zM451.9 122.3h13.3v1h-13.3zM451.9 132.4h13.3v1h-13.3zM451.9 137.4h13.3v1h-13.3zM451.9 148.4h13.3v1h-13.3zM451.9 173.5h13.3v1h-13.3zM451.9 217.6h13.3v1h-13.3zM451.9 234.7h13.3v1h-13.3zM451.9 242.7h13.3v1h-13.3zM451.9 256.8h13.3v1h-13.3zM451.9 259.8h13.3v1h-13.3zM465.2 113.3h13.3v1h-13.3zM465.2 182.5h13.3v1h-13.3zM465.2 188.6h13.3v1h-13.3zM465.2 204.6h13.3v1h-13.3zM465.2 211.6h13.3v1h-13.3zM465.2 233.7h13.3v1h-13.3zM465.2 241.7h13.3v1h-13.3zM465.2 250.8h13.3v1h-13.3zM478.4 130.4h13.3v1h-13.3zM478.4 153.4h13.3v1h-13.3zM478.4 186.5h13.3v1h-13.3zM478.4 197.6h13.3v1h-13.3zM478.4 203.6h13.3v1h-13.3zM478.4 220.7h13.3v1h-13.3zM478.4 232.7h13.3v1h-13.3zM478.4 241.7h13.3v1h-13.3zM491.7 158.5h13.3v1h-13.3zM491.7 173.5h13.3v1h-13.3zM491.7 217.6h13.3v2h-13.3zM491.7 233.7h13.3v2h-13.3zM491.7 249.7h13.3v1h-13.3zM491.7 256.8h13.3v1h-13.3zM491.7 260.8h13.3v1h-13.3zM504.9 112.3h13.3v1h-13.3zM504.9 114.3h13.3v1h-13.3zM504.9 152.4h13.3v1h-13.3zM504.9 169.5h13.3v1h-13.3zM504.9 174.5h13.3v1h-13.3zM504.9 176.5h13.3v1h-13.3zM504.9 178.5h13.3v1h-13.3zM504.9 184.5h13.3v1h-13.3zM504.9 203.6h13.3v1h-13.3zM504.9 219.7h13.3v1h-13.3zM504.9 260.8h13.3v1h-13.3zM504.9 263.8h13.3v1h-13.3zM518.2 124.3h13.3v1h-13.3zM518.2 133.4h13.3v1h-13.3zM518.2 140.4h13.3v1h-13.3zM518.2 153.4h13.3v1h-13.3zM518.2 177.5h13.3v1h-13.3zM518.2 186.5h13.3v1h-13.3zM518.2 195.6h13.3v1h-13.3zM518.2 203.6h13.3v1h-13.3zM518.2 219.7h13.3v1h-13.3zM518.2 223.7h13.3v1h-13.3zM518.2 231.7h13.3v1h-13.3zM518.2 238.7h13.3v1h-13.3zM518.2 255.8h13.3v2h-13.3zM531.4 118.3h13.3v1h-13.3zM531.4 124.3h13.3v1h-13.3zM531.4 129.4h13.3v1h-13.3zM531.4 132.4h13.3v1h-13.3zM531.4 157.4h13.3v1h-13.3zM531.4 163.5h13.3v1h-13.3zM531.4 170.5h13.3v1h-13.3zM531.4 185.5h13.3v1h-13.3zM531.4 195.6h13.3v1h-13.3zM531.4 200.6h13.3v2h-13.3zM531.4 221.7h13.3v1h-13.3zM531.4 234.7h13.3v1h-13.3zM531.4 239.7h13.3v1h-13.3zM544.7 116.3h13.3v2h-13.3zM544.7 145.4h13.3v1h-13.3zM544.7 196.6h13.3v1h-13.3zM544.7 204.6h13.3v2h-13.3zM544.7 208.6h13.3v1h-13.3zM544.7 216.6h13.3v1h-13.3zM544.7 229.7h13.3v1h-13.3zM544.7 236.7h13.3v1h-13.3zM544.7 244.7h13.3v1h-13.3zM558 123.3h13.3v1h-13.3zM558 130.4h13.3v1h-13.3zM558 133.4h13.3v2h-13.3zM558 148.4h13.3v1h-13.3zM558 150.4h13.3v1h-13.3zM558 155.4h13.3v1h-13.3zM558 161.5h13.3v1h-13.3zM558 170.5h13.3v2h-13.3zM558 178.5h13.3v1h-13.3zM558 198.6h13.3v1h-13.3zM558 204.6h13.3v1h-13.3zM558 211.6h13.3v1h-13.3zM558 223.7h13.3v1h-13.3zM558 228.7h13.3v1h-13.3zM558 244.7h13.3v1h-13.3zM558 261.8h13.3v1h-13.3zM571.2 139.4h13.3v1h-13.3zM571.2 156.4h13.3v1h-13.3zM571.2 166.5h13.3v1h-13.3zM571.2 201.6h13.3v1h-13.3zM571.2 235.7h13.3v1h-13.3zM571.2 254.8h13.3v1h-13.3zM584.5 125.3h13.3v1h-13.3zM584.5 132.4h13.3v2h-13.3zM584.5 152.4h13.3v1h-13.3zM584.5 159.5h13.3v1h-13.3zM584.5 170.5h13.3v1h-13.3zM584.5 174.5h13.3v1h-13.3zM584.5 250.8h13.3v1h-13.3zM597.7 118.3h13.3v1h-13.3zM597.7 123.3h13.3v1h-13.3zM597.7 128.4h13.3v1h-13.3zM597.7 131.4h13.3v2h-13.3zM597.7 136.4h13.3v1h-13.3zM597.7 141.4h13.3v1h-13.3zM597.7 143.4h13.3v1h-13.3zM597.7 151.4h13.3v1h-13.3zM597.7 157.4h13.3v2h-13.3zM597.7 161.5h13.3v1h-13.3zM597.7 170.5h13.3v1h-13.3zM597.7 184.5h13.3v1h-13.3zM597.7 207.6h13.3v1h-13.3zM597.7 220.7h13.3v1h-13.3zM597.7 226.7h13.3v1h-13.3zM597.7 239.7h13.3v1h-13.3zM597.7 244.7h13.3v1h-13.3zM597.7 264.8h13.3v1h-13.3zM611 117.3h13.3v1h-13.3zM611 129.4h13.3v1h-13.3zM611 157.4h13.3v1h-13.3zM611 163.5h13.3v2h-13.3zM611 181.5h13.3v1h-13.3zM611 188.6h13.3v1h-13.3zM611 247.7h13.3v1h-13.3zM624.2 114.3h13.3v1h-13.3zM624.2 122.3h13.3v1h-13.3zM624.2 133.4h13.3v1h-13.3zM624.2 155.4h13.3v1h-13.3zM624.2 161.5h13.3v1h-13.3zM624.2 165.5h13.3v1h-13.3zM624.2 169.5h13.3v1h-13.3zM624.2 176.5h13.3v1h-13.3zM624.2 181.5h13.3v2h-13.3zM624.2 196.6h13.3v1h-13.3zM624.2 210.6h13.3v1h-13.3zM624.2 216.6h13.3v2h-13.3zM624.2 238.7h13.3v1h-13.3zM624.2 255.8h13.3v1h-13.3zM637.5 172.5h13.3v1h-13.3zM637.5 197.6h13.3v1h-13.3zM637.5 203.6h13.3v1h-13.3zM637.5 240.7h13.3v1h-13.3zM650.7 113.3h13.3v1h-13.3zM650.7 117.3h13.3v1h-13.3zM650.7 122.3h13.3v1h-13.3zM650.7 125.3h13.3v1h-13.3zM650.7 132.4h13.3v1h-13.3zM650.7 138.4h13.3v1h-13.3zM650.7 157.4h13.3v1h-13.3zM650.7 163.5h13.3v1h-13.3zM650.7 165.5h13.3v1h-13.3zM650.7 167.5h13.3v1h-13.3zM650.7 181.5h13.3v3h-13.3zM650.7 230.7h13.3v1h-13.3zM650.7 240.7h13.3v1h-13.3z"/><path fill="#dbdbff" d="M425.4 121.3h13.3v1h-13.3zM425.4 128.4h13.3v1h-13.3zM425.4 131.4h13.3v1h-13.3zM425.4 155.4h13.3v1h-13.3zM425.4 177.5h13.3v2h-13.3zM425.4 186.5h13.3v1h-13.3zM425.4 208.6h13.3v2h-13.3zM425.4 215.6h13.3v1h-13.3zM425.4 222.7h13.3v1h-13.3zM425.4 229.7h13.3v1h-13.3zM438.7 126.3h13.3v1h-13.3zM438.7 143.4h13.3v1h-13.3zM438.7 155.4h13.3v1h-13.3zM438.7 227.7h13.3v1h-13.3zM438.7 230.7h13.3v1h-13.3zM451.9 116.3h13.3v1h-13.3zM451.9 165.5h13.3v1h-13.3zM451.9 198.6h13.3v1h-13.3zM451.9 205.6h13.3v1h-13.3zM451.9 255.8h13.3v1h-13.3zM465.2 112.3h13.3v1h-13.3zM465.2 117.3h13.3v1h-13.3zM465.2 119.3h13.3v1h-13.3zM465.2 135.4h13.3v1h-13.3zM465.2 140.4h13.3v1h-13.3zM465.2 178.5h13.3v1h-13.3zM465.2 190.6h13.3v1h-13.3zM465.2 212.6h13.3v1h-13.3zM465.2 216.6h13.3v1h-13.3zM478.4 115.3h13.3v1h-13.3zM478.4 125.3h13.3v1h-13.3zM478.4 139.4h13.3v1h-13.3zM478.4 145.4h13.3v1h-13.3zM478.4 157.4h13.3v1h-13.3zM478.4 166.5h13.3v1h-13.3zM478.4 170.5h13.3v1h-13.3zM478.4 236.7h13.3v1h-13.3zM478.4 263.8h13.3v1h-13.3zM491.7 117.3h13.3v1h-13.3zM491.7 140.4h13.3v1h-13.3zM491.7 149.4h13.3v1h-13.3zM491.7 174.5h13.3v1h-13.3zM491.7 177.5h13.3v1h-13.3zM491.7 190.6h13.3v1h-13.3zM504.9 140.4h13.3v1h-13.3zM504.9 142.4h13.3v1h-13.3zM504.9 165.5h13.3v1h-13.3zM504.9 189.6h13.3v1h-13.3zM518.2 182.5h13.3v1h-13.3zM518.2 184.5h13.3v1h-13.3zM518.2 198.6h13.3v1h-13.3zM518.2 210.6h13.3v1h-13.3zM518.2 233.7h13.3v1h-13.3zM518.2 237.7h13.3v1h-13.3zM518.2 244.7h13.3v1h-13.3zM518.2 246.7h13.3v1h-13.3zM518.2 251.8h13.3v1h-13.3zM518.2 261.8h13.3v1h-13.3zM518.2 264.8h13.3v1h-13.3zM531.4 160.5h13.3v1h-13.3zM531.4 166.5h13.3v1h-13.3zM544.7 143.4h13.3v1h-13.3zM544.7 157.4h13.3v1h-13.3zM544.7 163.5h13.3v1h-13.3zM544.7 226.7h13.3v1h-13.3zM544.7 237.7h13.3v1h-13.3zM558 127.4h13.3v1h-13.3zM558 146.4h13.3v1h-13.3zM558 168.5h13.3v1h-13.3zM558 241.7h13.3v1h-13.3zM558 247.7h13.3v1h-13.3zM558 263.8h13.3v1h-13.3zM571.2 115.3h13.3v1h-13.3zM571.2 163.5h13.3v2h-13.3zM571.2 183.5h13.3v1h-13.3zM571.2 187.5h13.3v1h-13.3zM571.2 253.8h13.3v1h-13.3zM571.2 261.8h13.3v1h-13.3zM584.5 155.4h13.3v1h-13.3zM584.5 190.6h13.3v1h-13.3zM584.5 213.6h13.3v1h-13.3zM597.7 186.5h13.3v1h-13.3zM597.7 193.6h13.3v1h-13.3zM597.7 202.6h13.3v1h-13.3zM597.7 234.7h13.3v1h-13.3zM597.7 256.8h13.3v1h-13.3zM611 125.3h13.3v1h-13.3zM611 160.5h13.3v1h-13.3zM611 179.5h13.3v1h-13.3zM611 196.6h13.3v1h-13.3zM611 205.6h13.3v1h-13.3zM611 220.7h13.3v1h-13.3zM611 226.7h13.3v1h-13.3zM611 252.8h13.3v3h-13.3zM624.2 189.6h13.3v1h-13.3zM624.2 198.6h13.3v1h-13.3zM637.5 118.3h13.3v1h-13.3zM637.5 121.3h13.3v1h-13.3zM637.5 184.5h13.3v1h-13.3zM637.5 228.7h13.3v1h-13.3zM650.7 188.6h13.3v1h-13.3zM650.7 206.6h13.3v1h-13.3zM650.7 213.6h13.3v1h-13.3z"/><path fill="#ffd2d2" d="M425.4 241.7h13.3v1h-13.3zM438.7 185.5h13.3v1h-13.3zM438.7 236.7h13.3v1h-13.3zM438.7 240.7h13.3v1h-13.3zM438.7 253.8h13.3v1h-13.3zM438.7 256.8h13.3v1h-13.3zM451.9 133.4h13.3v1h-13.3zM451.9 162.5h13.3v1h-13.3zM451.9 190.6h13.3v1h-13.3zM451.9 213.6h13.3v1h-13.3zM451.9 215.6h13.3v1h-13.3zM451.9 222.7h13.3v1h-13.3zM465.2 176.5h13.3v1h-13.3zM465.2 200.6h13.3v1h-13.3zM465.2 258.8h13.3v1h-13.3zM478.4 190.6h13.3v2h-13.3zM478.4 248.7h13.3v2h-13.3zM478.4 252.8h13.3v2h-13.3zM478.4 255.8h13.3v1h-13.3zM478.4 259.8h13.3v1h-13.3zM491.7 193.6h13.3v1h-13.3zM491.7 208.6h13.3v1h-13.3zM491.7 216.6h13.3v1h-13.3zM491.7 219.7h13.3v1h-13.3zM491.7 254.8h13.3v1h-13.3zM491.7 259.8h13.3v1h-13.3zM504.9 115.3h13.3v1h-13.3zM504.9 117.3h13.3v2h-13.3zM504.9 168.5h13.3v1h-13.3zM504.9 211.6h13.3v1h-13.3zM504.9 216.6h13.3v1h-13.3zM504.9 247.7h13.3v2h-13.3zM518.2 117.3h13.3v1h-13.3zM518.2 136.4h13.3v1h-13.3zM518.2 156.4h13.3v2h-13.3zM518.2 168.5h13.3v1h-13.3zM518.2 170.5h13.3v1h-13.3zM518.2 205.6h13.3v1h-13.3zM531.4 119.3h13.3v1h-13.3zM531.4 130.4h13.3v1h-13.3zM531.4 149.4h13.3v1h-13.3zM531.4 171.5h13.3v1h-13.3zM531.4 179.5h13.3v1h-13.3zM531.4 197.6h13.3v1h-13.3zM531.4 232.7h13.3v1h-13.3zM544.7 134.4h13.3v1h-13.3zM544.7 203.6h13.3v1h-13.3zM544.7 206.6h13.3v2h-13.3zM544.7 225.7h13.3v1h-13.3zM544.7 230.7h13.3v2h-13.3zM544.7 246.7h13.3v1h-13.3zM558 119.3h13.3v1h-13.3zM558 137.4h13.3v1h-13.3zM558 180.5h13.3v1h-13.3zM558 188.6h13.3v1h-13.3zM558 192.6h13.3v2h-13.3zM558 196.6h13.3v1h-13.3zM558 203.6h13.3v1h-13.3zM558 234.7h13.3v1h-13.3zM558 239.7h13.3v1h-13.3zM571.2 112.3h13.3v1h-13.3zM571.2 157.4h13.3v2h-13.3zM571.2 224.7h13.3v1h-13.3zM584.5 124.3h13.3v1h-13.3zM584.5 131.4h13.3v1h-13.3zM584.5 134.4h13.3v1h-13.3zM584.5 148.4h13.3v1h-13.3zM584.5 158.5h13.3v1h-13.3zM584.5 205.6h13.3v1h-13.3zM584.5 221.7h13.3v1h-13.3zM584.5 224.7h13.3v1h-13.3zM584.5 227.7h13.3v2h-13.3zM597.7 117.3h13.3v1h-13.3zM597.7 124.3h13.3v1h-13.3zM597.7 133.4h13.3v2h-13.3zM597.7 142.4h13.3v1h-13.3zM597.7 146.4h13.3v1h-13.3zM597.7 148.4h13.3v1h-13.3zM597.7 154.4h13.3v2h-13.3zM597.7 169.5h13.3v1h-13.3zM597.7 179.5h13.3v1h-13.3zM597.7 183.5h13.3v1h-13.3zM597.7 217.6h13.3v1h-13.3zM597.7 227.7h13.3v1h-13.3zM597.7 246.7h13.3v1h-13.3zM611 113.3h13.3v1h-13.3zM611 119.3h13.3v1h-13.3zM611 150.4h13.3v1h-13.3zM611 168.5h13.3v1h-13.3zM611 174.5h13.3v1h-13.3zM611 258.8h13.3v1h-13.3zM624.2 121.3h13.3v1h-13.3zM624.2 126.3h13.3v1h-13.3zM624.2 131.4h13.3v1h-13.3zM624.2 149.4h13.3v1h-13.3zM624.2 156.4h13.3v1h-13.3zM624.2 200.6h13.3v1h-13.3zM624.2 226.7h13.3v1h-13.3zM624.2 251.8h13.3v1h-13.3zM624.2 261.8h13.3v2h-13.3zM637.5 129.4h13.3v1h-13.3zM637.5 133.4h13.3v1h-13.3zM637.5 193.6h13.3v1h-13.3zM637.5 208.6h13.3v1h-13.3zM637.5 213.6h13.3v1h-13.3zM637.5 233.7h13.3v1h-13.3zM637.5 236.7h13.3v2h-13.3zM637.5 247.7h13.3v1h-13.3zM650.7 114.3h13.3v1h-13.3zM650.7 135.4h13.3v1h-13.3zM650.7 148.4h13.3v1h-13.3zM650.7 155.4h13.3v1h-13.3zM650.7 177.5h13.3v2h-13.3zM650.7 193.6h13.3v1h-13.3zM650.7 228.7h13.3v1h-13.3zM650.7 234.7h13.3v1h-13.3zM650.7 246.7h13.3v2h-13.3z"/><path fill="#ffafaf" d="M438.7 243.7h13.3v1h-13.3zM438.7 245.7h13.3v1h-13.3zM465.2 261.8h13.3v1h-13.3zM504.9 167.5h13.3v1h-13.3zM518.2 154.4h13.3v1h-13.3zM544.7 222.7h13.3v1h-13.3zM584.5 262.8h13.3v1h-13.3zM650.7 112.3h13.3v1h-13.3zM650.7 124.3h13.3v1h-13.3zM650.7 128.4h13.3v2h-13.3zM650.7 142.4h13.3v1h-13.3zM650.7 151.4h13.3v1h-13.3zM650.7 158.5h13.3v1h-13.3z"/><path fill="#afafff" d="M425.4 113.3h13.3v1h-13.3zM425.4 119.3h13.3v1h-13.3zM425.4 122.3h13.3v1h-13.3zM425.4 127.4h13.3v1h-13.3zM425.4 137.4h13.3v1h-13.3zM425.4 139.4h13.3v1h-13.3zM425.4 158.5h13.3v1h-13.3zM425.4 162.5h13.3v2h-13.3zM425.4 180.5h13.3v1h-13.3zM438.7 117.3h13.3v1h-13.3zM438.7 119.3h13.3v1h-13.3zM438.7 124.3h13.3v1h-13.3zM438.7 135.4h13.3v1h-13.3zM438.7 137.4h13.3v1h-13.3zM438.7 141.4h13.3v2h-13.3zM438.7 144.4h13.3v1h-13.3zM438.7 147.4h13.3v1h-13.3zM438.7 152.4h13.3v2h-13.3zM438.7 173.5h13.3v1h-13.3zM438.7 178.5h13.3v1h-13.3zM465.2 139.4h13.3v1h-13.3zM571.2 200.6h13.3v1h-13.3zM611 251.8h13.3v1h-13.3z"/><path fill="#c9c9ff" d="M425.4 115.3h13.3v1h-13.3zM425.4 120.3h13.3v1h-13.3zM425.4 124.3h13.3v2h-13.3zM425.4 129.4h13.3v1h-13.3zM425.4 133.4h13.3v1h-13.3zM425.4 145.4h13.3v1h-13.3zM425.4 152.4h13.3v2h-13.3zM425.4 161.5h13.3v1h-13.3zM425.4 164.5h13.3v2h-13.3zM425.4 167.5h13.3v1h-13.3zM425.4 172.5h13.3v3h-13.3zM425.4 176.5h13.3v1h-13.3zM425.4 232.7h13.3v1h-13.3zM425.4 235.7h13.3v1h-13.3zM438.7 118.3h13.3v1h-13.3zM438.7 121.3h13.3v1h-13.3zM438.7 125.3h13.3v1h-13.3zM438.7 134.4h13.3v1h-13.3zM438.7 159.5h13.3v1h-13.3zM451.9 260.8h13.3v1h-13.3zM465.2 148.4h13.3v1h-13.3zM465.2 163.5h13.3v1h-13.3zM465.2 189.6h13.3v1h-13.3zM478.4 114.3h13.3v1h-13.3zM478.4 137.4h13.3v1h-13.3zM478.4 146.4h13.3v2h-13.3zM478.4 173.5h13.3v1h-13.3zM504.9 148.4h13.3v1h-13.3zM504.9 188.6h13.3v1h-13.3zM518.2 209.6h13.3v1h-13.3zM518.2 224.7h13.3v1h-13.3zM518.2 259.8h13.3v1h-13.3zM531.4 167.5h13.3v2h-13.3zM544.7 149.4h13.3v1h-13.3zM544.7 156.4h13.3v1h-13.3zM571.2 189.6h13.3v1h-13.3zM571.2 192.6h13.3v1h-13.3zM584.5 188.6h13.3v2h-13.3zM611 193.6h13.3v1h-13.3zM611 217.6h13.3v1h-13.3zM611 248.7h13.3v1h-13.3zM624.2 205.6h13.3v1h-13.3zM637.5 162.5h13.3v2h-13.3zM637.5 168.5h13.3v1h-13.3zM637.5 186.5h13.3v1h-13.3zM637.5 195.6h13.3v1h-13.3zM637.5 260.8h13.3v1h-13.3zM637.5 263.8h13.3v1h-13.3z"/><path fill="#9494ff" d="M425.4 126.3h13.3v1h-13.3zM425.4 175.5h13.3v1h-13.3zM438.7 116.3h13.3v1h-13.3zM438.7 150.4h13.3v1h-13.3zM584.5 194.6h13.3v1h-13.3zM597.7 188.6h13.3v1h-13.3zM597.7 195.6h13.3v1h-13.3zM650.7 263.8h13.3v1h-13.3z"/><path fill="#ffb8b8" d="M425.4 260.8h13.3v1h-13.3zM438.7 197.6h13.3v1h-13.3zM438.7 250.8h13.3v1h-13.3zM438.7 252.8h13.3v1h-13.3zM438.7 254.8h13.3v1h-13.3zM451.9 185.5h13.3v1h-13.3zM465.2 240.7h13.3v1h-13.3zM465.2 263.8h13.3v1h-13.3zM491.7 235.7h13.3v1h-13.3zM491.7 255.8h13.3v1h-13.3zM504.9 195.6h13.3v1h-13.3zM518.2 192.6h13.3v1h-13.3zM531.4 184.5h13.3v1h-13.3zM531.4 241.7h13.3v1h-13.3zM544.7 194.6h13.3v1h-13.3zM544.7 250.8h13.3v1h-13.3zM558 154.4h13.3v1h-13.3zM584.5 116.3h13.3v1h-13.3zM584.5 232.7h13.3v1h-13.3zM597.7 177.5h13.3v2h-13.3zM624.2 132.4h13.3v1h-13.3zM624.2 220.7h13.3v1h-13.3zM650.7 139.4h13.3v1h-13.3zM650.7 143.4h13.3v1h-13.3zM650.7 154.4h13.3v1h-13.3zM650.7 173.5h13.3v1h-13.3z"/><path fill="#ffc9c9" d="M425.4 239.7h13.3v1h-13.3zM425.4 242.7h13.3v1h-13.3zM425.4 253.8h13.3v1h-13.3zM438.7 220.7h13.3v1h-13.3zM438.7 239.7h13.3v1h-13.3zM438.7 248.7h13.3v1h-13.3zM438.7 255.8h13.3v1h-13.3zM451.9 131.4h13.3v1h-13.3zM451.9 151.4h13.3v1h-13.3zM451.9 221.7h13.3v1h-13.3zM451.9 233.7h13.3v1h-13.3zM451.9 248.7h13.3v1h-13.3zM451.9 257.8h13.3v1h-13.3zM491.7 121.3h13.3v1h-13.3zM491.7 198.6h13.3v1h-13.3zM504.9 197.6h13.3v1h-13.3zM504.9 201.6h13.3v1h-13.3zM504.9 227.7h13.3v1h-13.3zM504.9 250.8h13.3v1h-13.3zM531.4 144.4h13.3v2h-13.3zM531.4 172.5h13.3v1h-13.3zM531.4 196.6h13.3v1h-13.3zM531.4 248.7h13.3v1h-13.3zM544.7 152.4h13.3v1h-13.3zM544.7 213.6h13.3v1h-13.3zM544.7 224.7h13.3v1h-13.3zM544.7 240.7h13.3v1h-13.3zM544.7 245.7h13.3v1h-13.3zM558 129.4h13.3v1h-13.3zM558 141.4h13.3v1h-13.3zM558 153.4h13.3v1h-13.3zM558 200.6h13.3v1h-13.3zM558 217.6h13.3v1h-13.3zM571.2 208.6h13.3v1h-13.3zM571.2 227.7h13.3v1h-13.3zM584.5 176.5h13.3v2h-13.3zM584.5 245.7h13.3v1h-13.3zM597.7 116.3h13.3v1h-13.3zM597.7 126.3h13.3v1h-13.3zM597.7 130.4h13.3v1h-13.3zM597.7 140.4h13.3v1h-13.3zM597.7 153.4h13.3v1h-13.3zM597.7 163.5h13.3v2h-13.3zM597.7 176.5h13.3v1h-13.3zM597.7 258.8h13.3v1h-13.3zM624.2 129.4h13.3v1h-13.3zM624.2 138.4h13.3v1h-13.3zM624.2 142.4h13.3v1h-13.3zM624.2 160.5h13.3v1h-13.3zM624.2 163.5h13.3v1h-13.3zM624.2 184.5h13.3v1h-13.3zM624.2 223.7h13.3v1h-13.3zM624.2 245.7h13.3v1h-13.3zM637.5 170.5h13.3v1h-13.3zM637.5 216.6h13.3v1h-13.3zM650.7 116.3h13.3v1h-13.3zM650.7 131.4h13.3v1h-13.3zM650.7 134.4h13.3v1h-13.3zM650.7 136.4h13.3v1h-13.3zM650.7 140.4h13.3v2h-13.3zM650.7 145.4h13.3v1h-13.3zM650.7 184.5h13.3v1h-13.3zM650.7 233.7h13.3v1h-13.3z"/><path fill="#9d9dff" d="M425.4 143.4h13.3v2h-13.3zM425.4 148.4h13.3v1h-13.3zM425.4 169.5h13.3v1h-13.3zM438.7 120.3h13.3v1h-13.3zM438.7 148.4h13.3v1h-13.3zM438.7 151.4h13.3v1h-13.3zM438.7 157.4h13.3v1h-13.3zM438.7 162.5h13.3v1h-13.3zM438.7 177.5h13.3v1h-13.3zM571.2 199.6h13.3v1h-13.3zM584.5 196.6h13.3v1h-13.3zM584.5 198.6h13.3v1h-13.3zM597.7 187.5h13.3v1h-13.3zM597.7 196.6h13.3v1h-13.3zM650.7 257.8h13.3v1h-13.3zM650.7 260.8h13.3v1h-13.3z"/><path fill="#ff8b8b" d="M438.7 251.8h13.3v1h-13.3zM650.7 123.3h13.3v1h-13.3z"/><path fill="#ffa6a6" d="M438.7 241.7h13.3v1h-13.3zM438.7 244.7h13.3v1h-13.3zM451.9 150.4h13.3v1h-13.3zM650.7 126.3h13.3v1h-13.3zM650.7 130.4h13.3v1h-13.3z"/><path fill="#a6a6ff" d="M425.4 136.4h13.3v1h-13.3zM425.4 150.4h13.3v1h-13.3zM425.4 170.5h13.3v1h-13.3zM438.7 131.4h13.3v1h-13.3zM438.7 136.4h13.3v1h-13.3zM438.7 167.5h13.3v1h-13.3zM584.5 195.6h13.3v1h-13.3zM584.5 197.6h13.3v1h-13.3zM597.7 185.5h13.3v1h-13.3zM597.7 198.6h13.3v2h-13.3zM637.5 264.8h13.3v1h-13.3z"/><path fill="#8b8bff" d="M425.4 142.4h13.3v1h-13.3zM425.4 166.5h13.3v1h-13.3zM438.7 138.4h13.3v2h-13.3zM438.7 163.5h13.3v1h-13.3zM584.5 186.5h13.3v1h-13.3zM584.5 193.6h13.3v1h-13.3zM650.7 262.8h13.3v1h-13.3z"/><path fill="#8282ff" d="M425.4 141.4h13.3v1h-13.3zM438.7 140.4h13.3v1h-13.3zM584.5 185.5h13.3v1h-13.3zM584.5 192.6h13.3v1h-13.3zM584.5 200.6h13.3v1h-13.3zM597.7 189.6h13.3v1h-13.3zM597.7 200.6h13.3v1h-13.3z"/><path fill="#ff3b3b" d="M425.4 261.8h13.3v1h-13.3zM425.4 263.8h13.3v1h-13.3z"/><path fill="#7979ff" d="M650.7 261.8h13.3v1h-13.3z"/><path fill="#ff4444" d="M425.4 262.8h13.3v1h-13.3zM425.4 264.8h13.3v1h-13.3z"/><path fill="#ff9d9d" d="M465.2 262.8h13.3v1h-13.3z"/><path fill="#ff9494" d="M465.2 264.8h13.3v1h-13.3z"/><path fill="#7070ff" d="M650.7 264.8h13.3v1h-13.3z"/></g><rect x="425.4" y="105.9" width="13.3" height="5.2" fill="#88d4ef"/><rect x="438.7" y="105.9" width="13.3" height="5.2" fill="#3a9648"/><rect x="451.9" y="105.9" width="39.8" height="5.2" fill="#88d4ef"/><rect x="491.7" y="105.9" width="26.5" height="5.2" fill="#3a9648"/><rect x="518.2" y="105.9" width="26.5" height="5.2" fill="#88d4ef"/><rect x="544.7" y="105.9" width="26.5" height="5.2" fill="#3a9648"/><rect x="571.2" y="105.9" width="13.3" height="5.2" fill="#88d4ef"/><rect x="584.5" y="105.9" width="39.8" height="5.2" fill="#3a9648"/><rect x="624.2" y="105.9" width="39.8" height="5.2" fill="#88d4ef"/><path fill="none" stroke="#9a9a9a" stroke-width="0.9" d="M432 105.9V91.2H445.3V105.9M438.7 91.2V86.2H458.5V105.9M471.8 105.9V89.4H485V105.9M498.3 105.9V86.2H511.6V105.9M478.4 89.4V83.5H504.9V86.2M524.8 105.9V90.3H538.1V105.9M551.3 105.9V87.4H564.6V105.9M531.4 90.3V82.3H558V87.4M491.7 83.5V78.6H544.7V82.3M591.1 105.9V92.7H604.4V105.9M577.8 105.9V91.4H597.7V92.7M617.6 105.9V81.1H630.9V105.9M644.1 105.9V88.6H657.4V105.9M624.2 81.1V80.7H650.7V88.6M587.8 91.4V78.2H637.5V80.7M518.2 78.6V74.8H612.6V78.2M448.6 86.2V74.4H565.4V74.8"/><path fill="none" stroke="#111" stroke-width="0.38" d="M97.7 117.1H97.4V117.2H97.7M97.7 117H97.4V117.2H97.4M97.7 116.9H97.4V117.1H97.4M97.7 117.3H97.4V117.4H97.7M97.4 117H87.9V117.4H97.4M97.7 117.6H96.6V117.7H97.7M97.7 117.5H74.9V117.7H96.6M97.7 117.8H97.4V117.9H97.7M74.9 117.6H73.5V117.9H97.4M73.5 117.8H70.9V118H97.7M70.9 117.9H70V118.1H97.7M70 118H69.5V118.2H97.7M87.9 117.2H68.7V118.1H69.5M97.7 118.8H97.4V118.9H97.7M97.7 118.7H97.4V118.9H97.4M97.7 118.6H97.4V118.8H97.4M97.7 118.5H97.4V118.7H97.4M97.7 118.4H97.4V118.6H97.4M97.4 118.5H78V119H97.7M97.7 118.3H73.6V118.8H78M73.6 118.6H71.4V119.1H97.7M97.7 119.2H97.4V119.3H97.7M71.4 118.9H67.1V119.3H97.4M97.7 119.6H89.6V119.7H97.7M97.7 119.5H89.6V119.7H89.6M97.7 119.4H78.7V119.6H89.6M78.7 119.5H66.9V119.8H97.7M97.7 120.1H97.4V120.2H97.7M97.7 120H97.4V120.2H97.4M97.7 119.9H97.4V120.1H97.4M66.9 119.7H65.6V120H97.4M97.7 120.5H97.4V120.6H97.7M97.7 120.4H97.4V120.6H97.4M97.7 120.3H97.4V120.5H97.4M97.7 121H97.4V121.1H97.7M97.7 120.9H97.4V121.1H97.4M97.7 120.8H97.4V121H97.4M97.7 120.7H97.4V120.9H97.4M97.7 121.3H97.4V121.4H97.7M97.7 121.2H97.4V121.4H97.4M97.4 120.8H82.1V121.3H97.4M97.4 120.4H81.6V121.1H82.1M65.6 119.8H63.9V120.7H81.6M97.7 121.5H76.4V121.6H97.7M97.7 121.7H97.4V121.8H97.7M76.4 121.6H75.8V121.8H97.4M97.7 121.9H97.4V122H97.7M97.7 122.1H97.4V122.2H97.7M97.7 122.4H97.4V122.5H97.7M97.7 122.3H97.4V122.5H97.4M97.4 122.2H92.8V122.4H97.4M97.4 122H82.3V122.3H92.8M97.7 122.7H97.4V122.8H97.7M97.7 122.6H97.4V122.8H97.4M97.7 122.9H97.4V123H97.7M97.7 123.1H97.4V123.2H97.7M97.7 123.3H97.4V123.4H97.7M97.4 123.2H95V123.4H97.4M97.4 123H94.9V123.3H95M97.4 122.7H93.7V123.1H94.9M93.7 122.9H85.1V123.5H97.7M97.7 123.7H97.4V123.8H97.7M97.7 123.6H97.4V123.8H97.4M97.4 123.7H87.7V123.9H97.7M97.7 124.4H97.4V124.5H97.7M97.7 124.3H97.4V124.5H97.4M97.7 124.2H97.4V124.4H97.4M97.7 124.1H97.4V124.3H97.4M97.7 124H97.4V124.2H97.4M97.7 125.9H97.4V126H97.7M97.7 125.8H97.4V125.9H97.4M97.7 125.7H97.4V125.9H97.4M97.7 125.6H97.4V125.8H97.4M97.7 125.5H97.4V125.7H97.4M97.7 125.4H97.4V125.6H97.4M97.7 125.3H97.4V125.5H97.4M97.7 125.2H97.4V125.4H97.4M97.7 125.1H97.4V125.3H97.4M97.7 125H97.4V125.2H97.4M97.7 124.9H97.4V125.1H97.4M97.7 124.8H97.4V125H97.4M97.7 124.7H97.4V124.9H97.4M97.7 124.6H97.4V124.8H97.4M97.4 124.1H97.3V124.7H97.4M97.7 126.1H97.4V126.2H97.7M97.3 124.4H96.6V126.1H97.4M87.7 123.8H84.1V125.3H96.6M97.7 126.3H97.4V126.4H97.7M97.7 126.6H97.4V126.7H97.7M97.7 126.5H97.4V126.6H97.4M97.4 126.3H92.8V126.6H97.4M84.1 124.5H79.2V126.5H92.8M97.7 126.9H97.4V127H97.7M97.7 126.8H97.4V126.9H97.4M79.2 125.5H78.6V126.9H97.4M85.1 123.2H78V126.2H78.6M82.3 122.1H77.3V124.7H78M97.7 127.1H81.7V127.2H97.7M97.7 127.3H79.6V127.4H97.7M81.7 127.1H77.4V127.3H79.6M77.3 123.4H73.6V127.2H77.4M97.7 127.7H97.4V127.8H97.7M97.7 127.6H97.4V127.7H97.4M97.7 127.5H90.2V127.7H97.4M73.6 125.3H73.4V127.6H90.2M75.8 121.7H73V126.4H73.4M97.7 128H97.4V128.1H97.7M97.7 127.9H92.1V128H97.4M97.7 128.4H97.4V128.5H97.7M97.7 128.6H97.4V128.7H97.7M97.4 128.4H92.7V128.6H97.4M97.7 128.3H87.8V128.5H92.7M97.7 128.9H97.4V129H97.7M97.7 128.8H97.4V128.9H97.4M97.4 128.9H90.1V129.1H97.7M87.8 128.4H79.6V129H90.1M97.7 129.2H97.4V129.3H97.7M97.7 129.4H97.4V129.5H97.7M97.4 129.4H94.4V129.6H97.7M97.7 129.8H97.4V129.9H97.7M97.7 129.7H92.5V129.8H97.4M94.4 129.5H89.6V129.7H92.5M97.7 130H97.1V130.1H97.7M97.7 130.2H96.9V130.3H97.7M97.7 130.4H97.4V130.5H97.7M96.9 130.2H96.3V130.4H97.4M97.1 130H90.5V130.3H96.3M97.7 130.8H97.4V130.9H97.7M97.7 130.7H97.4V130.8H97.4M97.7 130.6H97.4V130.7H97.4M90.5 130.2H89.6V130.7H97.4M89.6 129.6H88.6V130.4H89.6M88.6 130H88.2V131H97.7M97.7 131.3H97.4V131.4H97.7M97.7 131.2H96.2V131.3H97.4M97.7 131.1H89.6V131.2H96.2M88.2 130.5H85.7V131.2H89.6M97.7 131.7H97.4V131.8H97.7M97.7 131.9H97.4V132H97.7M97.4 131.7H91.9V131.9H97.4M97.7 131.6H91V131.8H91.9M97.7 131.5H89.9V131.7H91M97.7 132.6H97.4V132.7H97.7M97.7 132.5H97.4V132.6H97.4M97.7 132.4H97.4V132.5H97.4M97.7 132.3H97.4V132.4H97.4M97.7 132.2H97.4V132.4H97.4M97.7 132.1H97.4V132.3H97.4M97.4 132.2H92.9V132.8H97.7M89.9 131.6H88.4V132.5H92.9M97.7 133H97.4V133.1H97.7M97.7 132.9H97.4V133H97.4M97.7 133.2H97.4V133.3H97.7M97.4 132.9H94.5V133.2H97.4M88.4 132H86.8V133.1H94.5M97.7 133.4H97.4V133.5H97.7M97.7 133.5H97.4V133.6H97.7M97.4 133.4H90.8V133.6H97.4M86.8 132.5H85.4V133.5H90.8M85.7 130.8H84.8V133H85.4M97.4 129.2H84V131.9H84.8M97.7 134H97.4V134.1H97.7M97.7 133.9H97.4V134.1H97.4M97.7 133.8H97.4V134H97.4M97.7 133.7H97.4V133.9H97.4M84 130.6H83.6V133.8H97.4M97.7 134.3H97.4V134.4H97.7M97.7 134.2H87.4V134.4H97.4M97.7 134.6H97.4V134.7H97.7M97.7 134.5H97.4V134.7H97.4M97.4 134.6H85.9V134.8H97.7M87.4 134.3H85.2V134.7H85.9M83.6 132.2H83.1V134.5H85.2M97.7 134.9H92.5V135H97.7M97.7 135.1H97.4V135.2H97.7M97.7 135.4H96.8V135.5H97.7M97.7 136.1H97.4V136.2H97.7M97.7 136H97.4V136.2H97.4M97.7 135.9H97.4V136.1H97.4M97.7 135.8H97.4V136H97.4M97.7 135.7H97.4V135.9H97.4M97.7 135.6H97.4V135.8H97.4M96.8 135.5H92.3V135.7H97.4M97.7 135.3H90.3V135.6H92.3M97.4 135.2H85.2V135.5H90.3M97.7 136.3H92.2V136.4H97.7M97.7 136.6H97.4V136.7H97.7M97.7 136.5H97.4V136.7H97.4M92.2 136.4H86.3V136.6H97.4M85.2 135.3H85.2V136.5H86.3M97.7 137.1H97.4V137.2H97.7M97.7 137H97.4V137.2H97.4M97.7 136.9H96.4V137.1H97.4M97.7 136.8H88V137H96.4M97.7 137.3H97.4V137.4H97.7M88 136.9H85.6V137.4H97.4M85.2 135.9H84.9V137.1H85.6M97.7 137.5H97.4V137.6H97.7M97.7 137.7H91.6V137.8H97.7M97.7 137.9H91.4V138H97.7M91.6 137.8H90.9V138H91.4M97.4 137.6H85.3V137.9H90.9M97.7 138.1H97.4V138.2H97.7M97.7 138.4H97.4V138.5H97.7M97.7 138.3H97.4V138.5H97.4M97.4 138.2H94.5V138.4H97.4M94.5 138.3H93.1V138.6H97.7M85.3 137.7H85.2V138.5H93.1M84.9 136.5H84.7V138.1H85.2M92.5 135H83.3V137.3H84.7M83.1 133.4H83V136.2H83.3M97.7 138.8H96.4V138.9H97.7M97.7 138.7H82.9V138.9H96.4M83 134.8H82.7V138.8H82.9M97.7 139H97.4V139.1H97.7M97.4 139.1H94.3V139.2H97.7M97.7 139.4H92.7V139.5H97.7M97.7 139.3H85.8V139.5H92.7M97.7 140.4H97.4V140.5H97.7M97.7 140.3H97.4V140.5H97.4M97.7 140.2H97.4V140.4H97.4M97.7 140.1H97.4V140.3H97.4M97.7 140H97.4V140.2H97.4M97.7 139.9H97.4V140.1H97.4M97.7 139.8H96.5V140H97.4M97.7 139.7H89.4V139.9H96.5M97.7 139.6H89.1V139.8H89.4M89.1 139.7H85.9V140.6H97.7M85.8 139.4H85.6V140.2H85.9M94.3 139.1H84.3V139.8H85.6M97.7 140.8H97.4V140.9H97.7M97.4 140.9H90.2V141H97.7M97.7 141.1H97.4V141.2H97.7M90.2 140.9H89.3V141.2H97.4M97.7 141.3H97.4V141.4H97.7M97.4 141.4H94.4V141.5H97.7M89.3 141H88.1V141.4H94.4M97.7 140.7H83.8V141.2H88.1M84.3 139.5H82.6V141H83.8M97.7 141.6H97.4V141.7H97.7M97.7 141.8H97.4V141.9H97.7M97.4 141.8H91.5V142H97.7M97.7 142.1H96.9V142.2H97.7M91.5 141.9H83.6V142.1H96.9M83.6 142H83.2V142.3H97.7M97.7 142.5H93.5V142.6H97.7M97.7 142.4H83.4V142.5H93.5M97.7 142.9H97.4V143H97.7M97.7 142.8H97.4V142.9H97.4M97.7 142.7H97.4V142.9H97.4M97.7 143.2H97.4V143.3H97.7M97.7 143.1H97.4V143.2H97.4M97.4 142.8H90.3V143.2H97.4M97.7 143.7H97.4V143.8H97.7M97.7 143.6H97.4V143.7H97.4M97.7 143.5H97.4V143.7H97.4M97.7 143.4H97.4V143.6H97.4M97.4 143.5H95.1V143.9H97.7M97.7 144.1H97.4V144.2H97.7M97.7 144H90V144.1H97.4M90 144.1H89.1V144.3H97.7M95.1 143.7H87.6V144.2H89.1M90.3 143H87.3V143.9H87.6M83.4 142.5H83.2V143.5H87.3M83.2 142.2H83.1V143H83.2M97.4 141.7H83V142.6H83.1M83 142.1H82.2V144.4H97.7M82.6 140.2H82.1V143.2H82.2M82.7 136.8H82V141.7H82.1M97.7 144.5H97.4V144.6H97.7M82 139.3H81.8V144.5H97.4M81.8 141.9H80.2V144.7H97.7M97.7 144.8H85.3V144.9H97.7M97.7 145.2H97.4V145.3H97.7M97.7 145.7H97.4V145.8H97.7M97.7 145.6H97.4V145.7H97.4M97.7 145.5H97.4V145.7H97.4M97.7 145.4H97.4V145.6H97.4M97.4 145.2H95.9V145.5H97.4M97.7 145.1H94.9V145.4H95.9M97.7 145H85.3V145.2H94.9M97.7 146H97.4V146.1H97.7M97.7 145.9H81.9V146H97.4M85.3 145.1H80.8V145.9H81.9M85.3 144.8H79.6V145.5H80.8M97.7 146.2H95.3V146.3H97.7M79.6 145.2H79.5V146.2H95.3M80.2 143.3H79.4V145.7H79.5M97.7 146.5H97.4V146.6H97.7M97.7 146.4H87.6V146.5H97.4M97.7 146.7H88V146.8H97.7M87.6 146.4H84V146.7H88M79.4 144.5H79.4V146.6H84M97.7 146.9H97.4V147H97.7M97.7 147.3H97.4V147.4H97.7M97.7 147.2H91.1V147.3H97.4M97.7 147.5H91.8V147.6H97.7M97.7 147.8H97.4V147.9H97.7M97.7 147.7H97.4V147.8H97.4M91.8 147.5H91.1V147.7H97.4M91.1 147.2H87V147.6H91.1M97.7 147.1H82.9V147.4H87M97.7 148.1H97.4V148.2H97.7M97.7 148.3H97.4V148.4H97.7M97.4 148.1H96.8V148.3H97.4M97.7 148H90.6V148.2H96.8M90.6 148.1H85V148.5H97.7M97.7 148.6H89V148.7H97.7M97.7 149H97.4V149.1H97.7M97.7 148.9H97.4V149H97.4M97.7 148.8H86.2V148.9H97.4M89 148.6H85.9V148.8H86.2M85 148.3H84.8V148.7H85.9M97.7 149.2H93.6V149.3H97.7M97.7 149.4H97.4V149.5H97.7M97.7 149.8H97.4V149.9H97.7M97.7 149.7H97.4V149.8H97.4M97.7 149.6H88.7V149.7H97.4M97.4 149.4H85.5V149.6H88.7M93.6 149.2H84.7V149.5H85.5M84.8 148.5H84V149.4H84.7M97.7 150H97.4V150H97.7M97.4 150H90.8V150.1H97.7M97.7 150.8H97.4V150.9H97.7M97.7 150.7H97.4V150.9H97.4M97.7 150.6H97.4V150.8H97.4M97.7 150.5H97.4V150.7H97.4M97.7 150.4H97.4V150.6H97.4M97.7 150.3H97.4V150.5H97.4M97.4 150.4H95.4V151H97.7M97.7 150.2H90.7V150.7H95.4M97.7 151.2H97.4V151.3H97.7M97.7 151.1H90.5V151.3H97.4M90.5 151.2H89.4V151.4H97.7M89.4 151.3H88.8V151.5H97.7M97.7 151.9H97.4V152H97.7M97.7 151.8H97.4V152H97.4M97.7 151.7H97.4V151.9H97.4M97.7 151.6H97.4V151.8H97.4M97.4 151.7H95.7V152.1H97.7M97.7 152.2H96.6V152.3H97.7M95.7 151.9H88.5V152.3H96.6M88.8 151.4H84.8V152.1H88.5M90.7 150.5H84.5V151.8H84.8M97.7 152.6H97.4V152.7H97.7M97.7 152.5H97.4V152.7H97.4M97.7 152.4H87.5V152.6H97.4M97.7 152.8H97.1V152.9H97.7M97.1 152.9H92V153H97.7M97.7 153.3H97.4V153.4H97.7M97.7 153.2H97.4V153.4H97.4M97.7 153.1H89.8V153.3H97.4M97.7 153.6H97.4V153.7H97.7M97.7 153.5H97.4V153.7H97.4M97.7 153.8H96.5V153.9H97.7M97.4 153.6H93.4V153.9H96.5M97.7 154H97.4V154.1H97.7M93.4 153.7H91V154.1H97.4M89.8 153.2H89.2V153.9H91M89.2 153.6H89V154.2H97.7M92 153H88.6V153.9H89M97.7 154.3H97.4V154.4H97.7M97.7 154.6H97.4V154.7H97.7M97.7 154.5H97.4V154.7H97.4M97.7 155.1H97.4V155.2H97.7M97.7 155H97.4V155.2H97.4M97.7 154.9H97.4V155.1H97.4M97.7 154.8H97.4V155H97.4M97.4 154.6H95.5V154.9H97.4M95.5 154.8H95.5V155.3H97.7M95.5 155H90.1V155.4H97.7M97.4 154.4H89.3V155.2H90.1M97.7 156H97.4V156.1H97.7M97.7 155.9H97.4V156.1H97.4M97.7 155.8H97.4V156H97.4M97.7 155.7H97.4V155.9H97.4M97.7 155.6H97.4V155.8H97.4M97.7 155.5H97.4V155.7H97.4M97.7 156.4H97.4V156.5H97.7M97.7 156.3H95.5V156.5H97.4M95.5 156.4H94.5V156.6H97.7M97.7 156.9H97.4V157H97.7M97.7 156.8H97.4V157H97.4M97.7 156.7H97.4V156.9H97.4M94.5 156.5H94V156.8H97.4M97.7 156.2H91V156.6H94M97.7 157.1H97.4V157.2H97.7M97.7 157.4H97.4V157.5H97.7M97.7 157.3H94V157.5H97.4M97.7 157.7H97.4V157.8H97.7M97.7 157.6H97.4V157.8H97.4M97.7 157.9H97.3V158H97.7M97.7 158.1H97.4V158.2H97.7M97.3 158H95.5V158.2H97.4M97.4 157.7H94V158.1H95.5M97.7 158.5H97.4V158.6H97.7M97.7 158.4H97.4V158.5H97.4M97.7 158.3H96.5V158.5H97.4M96.5 158.4H94.4V158.7H97.7M94 157.9H93.2V158.5H94.4M94 157.4H93.1V158.2H93.2M97.4 157.2H90.6V157.8H93.1M97.7 158.8H94.5V158.9H97.7M97.7 159H94.8V159.1H97.7M94.5 158.8H92.9V159H94.8M97.7 159.2H97.4V159.3H97.7M97.4 159.2H96.4V159.4H97.7M97.7 159.5H97.4V159.6H97.7M96.4 159.3H93.3V159.5H97.4M92.9 158.9H90.5V159.4H93.3M97.7 159.9H97.4V160H97.7M97.7 159.8H97.4V159.9H97.4M97.7 159.7H97.4V159.9H97.4M90.5 159.2H90.5V159.8H97.4M97.7 160.7H97.4V160.8H97.7M97.7 160.6H97.4V160.7H97.4M97.7 160.5H97.4V160.7H97.4M97.7 160.4H97.4V160.6H97.4M97.7 160.3H97.4V160.5H97.4M97.7 160.2H97.4V160.4H97.4M97.7 160.1H97.4V160.3H97.4M97.4 160.2H90.9V160.9H97.7M90.5 159.5H90.4V160.5H90.9M90.6 157.5H90.1V160H90.4M91 156.4H89.9V158.7H90.1M97.4 155.6H89.4V157.6H89.9M89.3 154.8H88.7V156.6H89.4M88.6 153.4H88V155.7H88.7M88 154.6H87.5V161H97.7M87.5 152.5H86.5V157.8H87.5M84.5 151.1H84.4V155.1H86.5M90.8 150.1H82.7V153.1H84.4M84 148.9H82.1V151.6H82.7M82.9 147.3H82V150.3H82.1M97.4 146.9H81V148.8H82M79.4 145.5H79.1V147.8H81M79.6 128.7H78.3V146.7H79.1M97.7 128.2H75.8V137.7H78.3M92.1 128H73.4V132.9H75.8M73 124.1H63.9V130.4H73.4M97.7 161.2H81.6V161.3H97.7M97.7 161.4H97.4V161.5H97.7M81.6 161.2H76V161.4H97.4M97.7 161.1H75.3V161.3H76M97.7 161.6H97.4V161.7H97.7M97.7 161.8H97.4V161.9H97.7M97.4 161.6H67.7V161.8H97.4M97.7 162.2H97.4V162.3H97.7M97.7 162.1H97.4V162.2H97.4M97.7 162.4H94.3V162.5H97.7M97.4 162.2H82.3V162.4H94.3M97.7 162H78V162.3H82.3M97.7 162.8H97.4V162.9H97.7M97.4 162.8H85V163H97.7M85 162.9H84.4V163.1H97.7M97.7 162.7H80.2V163H84.4M97.7 162.6H75.7V162.8H80.2M97.7 163.2H97.4V163.3H97.7M75.7 162.7H69.9V163.2H97.4M78 162.1H66.9V163H69.9M67.7 161.7H64.8V162.5H66.9M75.3 161.2H64.5V162.1H64.8M63.9 127.3H60.6V161.7H64.5M97.7 163.4H94.1V163.5H97.7M60.6 144.5H53.7V163.4H94.1M63.9 120.3H52.3V153.9H53.7M67.1 119.1H51V137.1H52.3M97.7 163.6H96.3V163.7H97.7M96.3 163.6H89V163.8H97.7M97.7 164.3H97.4V164.4H97.7M97.7 164.2H97.4V164.3H97.4M97.7 164.1H97.4V164.2H97.4M97.7 164H97.4V164.2H97.4M97.7 163.9H92.9V164.1H97.4M92.9 164H78.4V164.5H97.7M89 163.7H72.8V164.2H78.4M97.7 164.6H97.4V164.7H97.7M97.4 164.6H89.2V164.8H97.7M97.7 164.9H97.4V165H97.7M97.7 165.1H97.4V165.2H97.7M97.4 165.1H93.2V165.3H97.7M97.4 164.9H87.1V165.2H93.2M89.2 164.7H84.4V165H87.1M97.7 165.6H97.4V165.7H97.7M97.7 165.5H82.7V165.6H97.4M97.7 165.9H97.4V166H97.7M97.7 165.8H97.4V165.9H97.4M97.7 166.1H92.2V166.2H97.7M97.4 165.8H82.7V166.1H92.2M82.7 165.5H82.6V166H82.7M82.6 165.7H78.8V166.3H97.7M97.7 165.4H77.4V166H78.8M84.4 164.9H75.2V165.7H77.4M97.7 166.4H97.4V166.5H97.7M75.2 165.3H73.9V166.4H97.4M97.7 166.6H95.9V166.6H97.7M97.7 166.8H97.4V166.9H97.7M97.4 166.9H80.8V167H97.7M97.7 166.7H76.4V167H80.8M97.7 167.1H97.4V167.2H97.7M76.4 166.9H76.1V167.2H97.4M97.7 167.5H97.4V167.6H97.7M97.7 167.4H97.4V167.6H97.4M97.7 167.3H97.4V167.5H97.4M97.7 167.7H82.5V167.8H97.7M97.4 167.4H76.5V167.8H82.5M76.1 167H74.4V167.6H76.5M95.9 166.6H73.4V167.3H74.4M97.7 167.9H97.4V168H97.7M97.4 168H93.9V168.1H97.7M97.7 168.2H97.4V168.3H97.7M93.9 168.1H80.5V168.3H97.4M80.5 168.2H75.2V168.4H97.7M97.7 168.5H97.4V168.6H97.7M97.7 168.7H95.6V168.8H97.7M97.7 168.9H97.4V169H97.7M95.6 168.8H92.7V169H97.4M97.7 169.2H97.4V169.3H97.7M97.7 169.1H97.4V169.3H97.4M97.7 169.4H97.4V169.5H97.7M97.4 169.2H91V169.5H97.4M92.7 168.9H82.9V169.3H91M97.4 168.6H78.7V169.1H82.9M97.7 169.6H87.5V169.7H97.7M97.7 169.8H97.4V169.9H97.7M87.5 169.7H82.8V169.9H97.4M97.7 170.4H97.4V170.5H97.7M97.7 170.3H97.4V170.5H97.4M97.7 170.2H97.4V170.4H97.4M97.7 170.1H97.4V170.3H97.4M97.7 170H86.4V170.2H97.4M97.7 170.6H86V170.7H97.7M86.4 170.1H82.6V170.7H86M82.8 169.8H76.3V170.4H82.6M78.7 168.9H76V170.1H76.3M75.2 168.3H74.9V169.5H76M97.7 170.8H90.5V170.9H97.7M74.9 168.9H74.3V170.9H90.5M97.7 171.1H97.4V171.2H97.7M97.4 171.2H96.7V171.3H97.7M96.7 171.2H90.8V171.4H97.7M97.7 171H79V171.3H90.8M74.3 169.9H74.3V171.2H79M97.7 171.7H97.4V171.8H97.7M97.7 171.6H97.1V171.8H97.4M97.7 171.5H84V171.7H97.1M97.7 171.9H76.3V172H97.7M84 171.6H75.8V172H76.3M97.7 172.1H97.4V172.2H97.7M97.7 172.3H97.4V172.4H97.7M97.4 172.2H83.1V172.4H97.4M97.7 172.6H97.4V172.7H97.7M97.7 172.5H97.4V172.7H97.4M97.7 172.8H97.4V172.9H97.7M97.4 172.6H85.8V172.9H97.4M83.1 172.3H80.2V172.7H85.8M75.8 171.8H75.1V172.5H80.2M97.7 173.1H97.4V173.2H97.7M97.7 173.3H97.4V173.4H97.7M97.4 173.2H96.3V173.4H97.4M97.7 173.5H97.4V173.6H97.7M96.3 173.3H94.3V173.6H97.4M97.7 173H94V173.4H94.3M97.7 173.8H97.4V173.9H97.7M97.7 173.7H97.4V173.9H97.4M94 173.2H79.9V173.8H97.4M97.7 174.3H97.4V174.4H97.7M97.7 174.2H97.4V174.4H97.4M97.7 174.1H97.4V174.3H97.4M97.7 174H92.7V174.2H97.4M97.7 174.7H97.4V174.8H97.7M97.7 174.6H97.4V174.8H97.4M97.7 174.5H97.4V174.7H97.4M97.7 174.9H97.4V175H97.7M97.4 174.6H95.5V174.9H97.4M92.7 174.1H87.4V174.8H95.5M87.4 174.4H86.2V175.1H97.7M79.9 173.5H78.4V174.8H86.2M97.7 175.2H90.7V175.3H97.7M78.4 174.1H77V175.2H90.7M97.7 175.4H97.4V175.5H97.7M77 174.7H76.8V175.4H97.4M75.1 172.1H73.9V175.1H76.8M74.3 170.5H73V173.6H73.9M73.4 167H72.1V172.1H73M97.7 175.8H97.4V175.9H97.7M97.7 175.7H97.4V175.8H97.4M97.7 176.1H97.4V176.2H97.7M97.7 176H96.6V176.1H97.4M97.4 175.8H86.5V176.1H96.6M97.7 175.6H85.1V175.9H86.5M85.1 175.8H78.1V176.3H97.7M97.7 176.4H97.4V176.5H97.7M97.7 176.6H94.8V176.7H97.7M97.7 176.9H97.4V177H97.7M97.7 176.8H97.4V176.9H97.4M97.4 176.9H89V177.1H97.7M89 177H81.1V177.2H97.7M94.8 176.6H79.9V177.1H81.1M97.4 176.4H73.5V176.9H79.9M97.7 177.3H97.4V177.4H97.7M97.4 177.3H96.5V177.5H97.7M97.7 177.8H97.4V177.9H97.7M97.7 177.7H97.4V177.8H97.4M97.7 177.6H88.3V177.8H97.4M96.5 177.4H84.8V177.7H88.3M84.8 177.5H82.6V178H97.7M82.6 177.8H77.6V178.1H97.7M97.7 178.4H94.7V178.5H97.7M97.7 178.3H92.2V178.4H94.7M97.7 178.2H75.9V178.4H92.2M97.7 179H97.4V179.1H97.7M97.7 178.9H97.4V179H97.4M97.7 178.8H97.4V179H97.4M97.7 178.7H97.4V178.9H97.4M97.7 178.6H97.4V178.8H97.4M97.7 179.3H88.1V179.4H97.7M97.7 179.2H86.5V179.3H88.1M86.5 179.2H80.7V179.5H97.7M97.4 178.7H79.9V179.4H80.7M75.9 178.3H72.9V179H79.9M77.6 177.9H72.5V178.6H72.9M73.5 176.7H72.4V178.3H72.5M78.1 176H72V177.5H72.4M72.1 169.5H72V176.7H72M73.9 165.8H71.1V173.1H72M97.7 179.6H97.4V179.7H97.7M97.7 179.8H97.4V179.9H97.7M97.4 179.8H78.6V180H97.7M97.4 179.6H77.2V179.9H78.6M71.1 169.5H63.3V179.8H77.2M72.8 164H50.5V174.6H63.3M51 128.1H47.2V169.3H50.5M68.7 117.7H46.9V148.7H47.2M97.7 180.5H97.4V180.6H97.7M97.7 180.4H97.4V180.5H97.4M97.7 180.3H97.4V180.4H97.4M97.7 180.2H97.4V180.4H97.4M97.7 180.8H97.4V180.9H97.7M97.7 180.7H97.4V180.8H97.4M97.4 180.3H87.5V180.7H97.4M97.7 181.1H97.4V181.2H97.7M97.4 181.1H96.5V181.3H97.7M97.7 181.4H97.4V181.5H97.7M96.5 181.2H84.2V181.4H97.4M97.7 181H77.5V181.3H84.2M87.5 180.5H74.5V181.1H77.5M74.5 180.8H72.2V181.6H97.7M97.7 180.1H69.3V181.2H72.2M97.7 181.7H88.2V181.8H97.7M69.3 180.6H66.3V181.7H88.2M97.7 181.9H97.4V182H97.7M97.4 181.9H81.8V182.1H97.7M81.8 182H69.3V182.2H97.7M97.7 182.3H97.4V182.4H97.7M97.4 182.3H92V182.5H97.7M97.7 182.6H97.4V182.7H97.7M92 182.4H90V182.6H97.4M97.7 182.8H89.2V182.9H97.7M97.7 183H97.4V183.1H97.7M97.7 183.2H97.4V183.2H97.7M97.4 183H96.8V183.2H97.4M89.2 182.8H76.4V183.1H96.8M90 182.5H73.5V183H76.4M97.7 183.4H97.4V183.5H97.7M97.7 183.3H86.9V183.5H97.4M86.9 183.4H80.8V183.6H97.7M80.8 183.5H71.3V183.7H97.7M73.5 182.7H70V183.6H71.3M97.7 183.8H97.4V183.9H97.7M70 183.2H69.4V183.9H97.4M97.7 184H91.4V184.1H97.7M97.7 184.3H97.4V184.4H97.7M97.7 184.2H89.9V184.4H97.4M97.7 184.5H80.4V184.6H97.7M97.7 184.7H83V184.8H97.7M80.4 184.6H79.8V184.8H83M89.9 184.3H79.7V184.7H79.8M91.4 184.1H72.6V184.5H79.7M97.7 185.3H97.4V185.4H97.7M97.7 185.2H97.4V185.4H97.4M97.7 185.1H97.4V185.3H97.4M97.7 185H90.8V185.2H97.4M97.7 185.9H97.4V186H97.7M97.7 185.8H97.4V186H97.4M97.7 185.7H94.3V185.9H97.4M97.7 185.6H93.9V185.8H94.3M93.9 185.7H86.8V186.1H97.7M97.7 185.5H78.3V185.9H86.8M90.8 185.1H76.4V185.7H78.3M97.7 184.9H75.4V185.4H76.4M97.7 186.2H97.4V186.3H97.7M97.7 186.4H97.4V186.5H97.7M97.4 186.5H89.9V186.6H97.7M97.4 186.3H84.2V186.6H89.9M75.4 185.2H71.6V186.4H84.2M72.6 184.3H69.7V185.8H71.6M97.7 186.7H97.4V186.8H97.7M97.4 186.8H69.9V186.9H97.7M69.7 185.1H68.2V186.9H69.9M69.4 183.5H67.7V186H68.2M69.3 182.1H66.3V184.7H67.7M66.3 181.2H66.2V183.4H66.3M46.9 133.2H43.5V182.3H66.2M97.7 187H97.4V187.1H97.7M97.4 187.1H92.4V187.2H97.7M97.7 187.5H97.4V187.6H97.7M97.7 187.4H97.4V187.6H97.4M97.7 187.3H97.2V187.5H97.4M97.7 188.1H97.4V188.2H97.7M97.7 188H97.4V188.2H97.4M97.7 187.9H97.4V188.1H97.4M97.7 187.8H97.4V188H97.4M97.7 187.7H97.4V187.9H97.4M97.2 187.4H94.7V187.8H97.4M92.4 187.2H84.5V187.6H94.7M97.7 188.3H97.4V188.4H97.7M97.7 188.5H90.2V188.6H97.7M97.7 188.8H97.4V188.9H97.7M97.7 188.7H97.4V188.9H97.4M90.2 188.6H89.6V188.8H97.4M97.7 189H97.4V189.1H97.7M89.6 188.7H82.5V189.1H97.4M97.4 188.4H82V188.9H82.5M97.7 189.3H97.4V189.4H97.7M97.7 189.2H97.4V189.4H97.4M97.7 189.6H97.4V189.7H97.7M97.7 189.5H97.4V189.7H97.4M97.7 189.8H97.4V189.9H97.7M97.4 189.6H96.7V189.9H97.4M97.4 189.3H83.6V189.7H96.7M82 188.6H80.2V189.5H83.6M97.7 190H97.4V190.1H97.7M97.4 190.1H93.4V190.2H97.7M80.2 189.1H79.2V190.1H93.4M84.5 187.4H74.6V189.6H79.2M97.7 190.3H97.4V190.4H97.7M97.4 190.4H80.4V190.5H97.7M74.6 188.5H74.2V190.4H80.4M97.7 190.7H97.4V190.8H97.7M97.7 190.6H97.4V190.8H97.4M97.7 190.9H81.6V191H97.7M97.4 190.7H80.8V191H81.6M97.7 191.1H96V191.2H97.7M97.7 191.6H97.4V191.7H97.7M97.7 191.5H97.4V191.6H97.4M97.7 191.4H97.4V191.6H97.4M97.7 191.3H97.4V191.5H97.4M96 191.2H83.5V191.4H97.4M80.8 190.8H76.7V191.3H83.5M74.2 189.5H73.7V191H76.7M97.7 191.8H93.5V191.9H97.7M97.7 192.2H97.4V192.3H97.7M97.7 192.1H95.7V192.2H97.4M97.7 192H87.4V192.2H95.7M87.4 192.1H84.6V192.4H97.7M97.7 192.5H97.4V192.6H97.7M84.6 192.2H84.3V192.5H97.4M84.3 192.4H83V192.7H97.7M93.5 191.8H72.4V192.5H83M73.7 190.3H70.5V192.2H72.4M97.7 192.8H79.4V192.9H97.7M70.5 191.2H69.4V192.8H79.4M97.7 193.7H97.4V193.8H97.7M97.7 193.6H97.4V193.7H97.4M97.7 193.5H97.4V193.7H97.4M97.7 193.4H97.4V193.6H97.4M97.7 193.3H97.4V193.5H97.4M97.7 193.2H97.4V193.4H97.4M97.7 193.1H97.4V193.3H97.4M97.7 193H78.2V193.2H97.4M97.7 194H97.4V194.1H97.7M97.7 193.9H97.4V194H97.4M97.7 194.4H97.4V194.5H97.7M97.7 194.3H97.4V194.4H97.4M97.7 194.2H97.4V194.4H97.4M97.4 194H94.8V194.3H97.4M97.7 194.6H97.4V194.7H97.7M94.8 194.1H82.1V194.6H97.4M78.2 193.1H77.3V194.4H82.1M97.7 194.8H97.4V194.9H97.7M77.3 193.7H74.7V194.8H97.4M74.7 194.3H73.3V195H97.7M97.7 195.1H82.5V195.2H97.7M97.7 195.3H88V195.4H97.7M82.5 195.1H80.8V195.3H88M97.7 195.5H97.4V195.6H97.7M80.8 195.2H71.3V195.5H97.4M73.3 194.6H69.8V195.4H71.3M97.7 195.9H90.3V196H97.7M97.7 195.8H88.3V195.9H90.3M97.7 195.7H79.6V195.8H88.3M97.7 196.1H97.4V196.2H97.7M97.7 196.3H97.4V196.4H97.7M97.4 196.1H94V196.3H97.4M79.6 195.8H72.7V196.2H94M97.7 197.1H97.4V197.2H97.7M97.7 197H97.4V197.1H97.4M97.7 196.9H97.4V197H97.4M97.7 196.8H97.4V197H97.4M97.7 196.7H97.4V196.9H97.4M97.7 196.6H97.4V196.8H97.4M97.7 196.5H97.4V196.7H97.4M97.7 197.4H93V197.5H97.7M97.7 197.3H76V197.4H93M97.4 196.6H69.2V197.3H76M72.7 196H68.6V197H69.2M69.8 195H68.5V196.5H68.6M69.4 192H63V195.7H68.5M43.5 157.7H35.4V193.9H63M97.7 197.6H97.4V197.7H97.7M97.4 197.6H96.3V197.8H97.7M97.7 198H97.4V198.1H97.7M97.7 197.9H97.4V198H97.4M97.7 198.2H97.4V198.3H97.7M97.4 197.9H94.2V198.2H97.4M97.7 198.5H97.4V198.6H97.7M97.7 198.4H97.4V198.5H97.4M94.2 198.1H90.3V198.4H97.4M96.3 197.7H80.7V198.3H90.3M97.7 199.2H97.4V199.3H97.7M97.7 199.1H97.4V199.2H97.4M97.7 199H97.4V199.1H97.4M97.7 198.9H97.4V199H97.4M97.7 198.8H97.4V198.9H97.4M97.7 198.7H97.4V198.9H97.4M97.7 199.5H97.4V199.6H97.7M97.7 199.4H95.9V199.5H97.4M95.9 199.4H91.2V199.7H97.7M97.4 198.8H90.8V199.5H91.2M97.7 200H97.4V200.1H97.7M97.7 199.9H97.4V200.1H97.4M97.7 199.8H97.4V200H97.4M97.7 200.2H82.8V200.3H97.7M97.4 199.9H80.9V200.3H82.8M97.7 199.7H78.4V200.1H80.9M90.8 199.1H74.4V199.9H78.4M80.7 198H69.3V199.5H74.4M97.7 200.5H97.4V200.6H97.7M97.7 200.4H80.2V200.6H97.4M97.7 200.7H97.4V200.8H97.7M80.2 200.5H77.1V200.8H97.4M97.7 201H97.4V201.1H97.7M97.7 201.2H94.9V201.3H97.7M97.4 201.1H88.7V201.3H94.9M88.7 201.2H85.3V201.4H97.7M97.7 200.9H78V201.3H85.3M77.1 200.7H71.4V201.1H78M69.3 198.8H64.6V200.9H71.4M97.7 201.5H91.1V201.6H97.7M97.7 201.8H97.4V201.9H97.7M97.7 201.7H97.4V201.9H97.4M97.7 202H97.4V202.1H97.7M97.7 202.2H96.4V202.3H97.7M97.4 202.1H91.1V202.3H96.4M97.7 202.4H95.8V202.5H97.7M97.7 202.7H97.4V202.8H97.7M97.7 202.6H94.9V202.8H97.4M94.9 202.7H94V202.9H97.7M95.8 202.5H92.6V202.8H94M97.7 203.1H97.4V203.2H97.7M97.7 203H97.4V203.2H97.4M97.4 203.1H95.6V203.3H97.7M92.6 202.7H91.5V203.2H95.6M91.1 202.2H90.3V202.9H91.5M90.3 202.6H90.1V203.4H97.7M90.1 203H89.7V203.5H97.7M97.7 203.6H92.3V203.7H97.7M92.3 203.7H91.9V203.8H97.7M91.9 203.8H90.4V203.9H97.7M89.7 203.3H88.5V203.8H90.4M97.7 204.4H97.4V204.5H97.7M97.7 204.3H97.4V204.5H97.4M97.7 204.2H97.4V204.4H97.4M97.7 204.1H96.6V204.3H97.4M97.7 204.6H96.9V204.7H97.7M96.6 204.2H93.3V204.7H96.9M97.7 204.8H95.1V204.9H97.7M97.7 205.2H97.4V205.3H97.7M97.7 205.1H97.4V205.3H97.4M97.7 205H97.4V205.2H97.4M97.4 205.1H94.1V205.4H97.7M95.1 204.9H93.5V205.3H94.1M97.7 205.7H97.4V205.8H97.7M97.7 205.6H97.4V205.8H97.4M97.7 205.5H90.9V205.7H97.4M93.5 205.1H90.6V205.6H90.9M93.3 204.4H90.1V205.3H90.6M97.7 205.9H97.4V206H97.7M90.1 204.9H90V206H97.4M97.7 204H88.8V205.4H90M97.7 206.1H91V206.2H97.7M97.7 206.7H97.4V206.8H97.7M97.7 206.6H97.4V206.8H97.4M97.7 206.5H96.8V206.7H97.4M97.7 206.4H92.2V206.6H96.8M97.7 206.3H91.4V206.5H92.2M91 206.2H88.9V206.4H91.4M97.7 206.9H97.4V207H97.7M97.4 207H93.4V207.1H97.7M93.4 207H92.2V207.2H97.7M92.2 207.1H88V207.3H97.7M88.9 206.3H88V207.2H88M88.8 204.7H86.4V206.7H88M88.5 203.5H85.6V205.7H86.4M97.7 207.4H97.4V207.5H97.7M97.7 207.6H97.4V207.7H97.7M97.4 207.5H91.7V207.7H97.4M97.7 207.8H97.4V207.9H97.7M97.7 208H97.4V208.1H97.7M97.4 207.9H92.6V208H97.4M97.7 208.2H97.1V208.3H97.7M97.1 208.2H93.3V208.4H97.7M93.3 208.3H92.8V208.5H97.7M97.7 208.6H97.4V208.7H97.7M97.7 208.8H97.4V208.9H97.7M97.4 208.6H96.4V208.8H97.4M92.8 208.4H91.9V208.7H96.4M91.9 208.6H91.1V209H97.7M92.6 208H88.9V208.8H91.1M91.7 207.6H86.8V208.4H88.9M85.6 204.6H85.1V208H86.8M97.4 201.8H83.5V206.3H85.1M97.7 209.1H88.9V209.2H97.7M97.7 209.3H97.4V209.4H97.7M97.7 209.5H97.4V209.6H97.7M97.4 209.3H91.4V209.5H97.4M91.4 209.4H86.2V209.7H97.7M97.7 210.1H97.4V210.2H97.7M97.7 210H97.4V210.1H97.4M97.7 209.9H97.4V210.1H97.4M97.7 209.8H97.4V210H97.4M97.4 209.9H97.4V210.3H97.7M97.7 210.5H97.4V210.6H97.7M97.4 210.5H95.1V210.7H97.7M97.7 210.4H88.2V210.6H95.1M97.4 210.1H88V210.5H88.2M88 210.3H86.4V210.8H97.7M86.2 209.6H85.5V210.5H86.4M88.9 209.1H83.2V210.1H85.5M97.7 211.1H97.4V211.2H97.7M97.7 211H97.4V211.1H97.4M97.7 210.9H96.5V211.1H97.4M96.5 211H90.2V211.3H97.7M97.7 211.6H97.4V211.7H97.7M97.7 211.5H97.4V211.6H97.4M97.4 211.6H96V211.8H97.7M97.7 211.4H95.5V211.7H96M90.2 211.1H88.7V211.5H95.5M83.2 209.6H83.1V211.3H88.7M97.7 211.9H97.4V212H97.7M83.1 210.5H82.3V211.9H97.4M83.5 204.1H80V211.2H82.3M91.1 201.6H77.6V207.6H80M97.7 212.1H97.4V212.2H97.7M97.7 212.4H97.4V212.5H97.7M97.7 212.3H97.4V212.4H97.4M97.4 212.1H88.7V212.3H97.4M88.7 212.2H85.4V212.6H97.7M77.6 204.6H74.6V212.4H85.4M97.7 212.7H95.6V212.8H97.7M97.7 212.9H89.7V213H97.7M97.7 213.2H97.4V213.3H97.7M97.7 213.1H93.7V213.2H97.4M97.7 213.4H97.1V213.5H97.7M93.7 213.1H91.7V213.4H97.1M89.7 212.9H85.8V213.3H91.7M97.7 213.6H87.8V213.7H97.7M85.8 213.1H84.5V213.6H87.8M95.6 212.7H84.1V213.4H84.5M97.7 213.8H97.4V213.9H97.7M97.4 213.8H91V214H97.7M97.7 214.1H97.4V214.2H97.7M97.4 214.1H88.6V214.3H97.7M91 213.9H85.8V214.2H88.6M84.1 213H82.1V214H85.8M97.7 214.4H97.4V214.5H97.7M97.7 214.6H92.3V214.7H97.7M97.7 214.8H97.2V214.9H97.7M97.2 214.8H85.5V215H97.7M92.3 214.6H85.3V214.9H85.5M97.4 214.4H82V214.7H85.3M82 214.6H80.1V215.1H97.7M97.7 215.4H97.4V215.5H97.7M97.7 215.3H97.4V215.4H97.4M97.7 215.9H97.4V216H97.7M97.7 215.8H97.4V215.9H97.4M97.7 215.7H97.4V215.8H97.4M97.7 215.6H97.4V215.7H97.4M97.4 215.3H82.5V215.6H97.4M97.7 215.2H80.4V215.5H82.5M80.1 214.8H78.9V215.3H80.4M82.1 213.5H78.6V215.1H78.9M97.7 216.1H95V216.2H97.7M95 216.1H94V216.3H97.7M94 216.2H80.9V216.3H97.7M80.9 216.3H77.4V216.4H97.7M78.6 214.3H70V216.4H77.4M97.7 216.6H92.3V216.7H97.7M97.7 216.5H89.6V216.7H92.3M97.7 216.9H92.9V217H97.7M92.9 217H92.3V217.1H97.7M97.7 216.8H90.8V217.1H92.3M89.6 216.6H83.6V217H90.8M97.7 217.2H97.4V217.3H97.7M83.6 216.8H77.8V217.3H97.4M97.7 217.5H97.4V217.6H97.7M97.7 217.4H94.3V217.6H97.4M97.7 217.7H97.4V217.8H97.7M97.7 217.9H97.4V218H97.7M97.4 217.8H81.5V218H97.4M97.7 218.1H97.4V218.2H97.7M81.5 217.9H79.8V218.2H97.4M97.7 218.4H97.4V218.5H97.7M97.4 218.5H93V218.6H97.7M97.7 218.3H84.7V218.6H93M97.7 218.7H85.9V218.8H97.7M84.7 218.4H79.6V218.8H85.9M79.8 218H79.3V218.6H79.6M94.3 217.5H77.8V218.3H79.3M97.7 218.9H80.5V219H97.7M77.8 217.9H77.5V219H80.5M97.7 219.3H97.4V219.4H97.7M97.7 219.2H97.4V219.4H97.4M97.7 219.1H97.4V219.3H97.4M97.4 219.2H85.6V219.5H97.7M85.6 219.4H79.8V219.6H97.7M97.7 219.7H89V219.8H97.7M89 219.8H79.7V219.9H97.7M79.8 219.5H77.5V219.9H79.7M77.5 218.5H76.5V219.7H77.5M77.8 217H75.7V219.1H76.5M70 215.3H68.8V218.1H75.7M74.6 208.5H67.7V216.7H68.8M97.7 220.3H97.4V220.4H97.7M97.7 220.2H79.8V220.4H97.4M97.7 220.1H79.5V220.3H79.8M97.7 220.5H86.5V220.6H97.7M86.5 220.6H86.1V220.7H97.7M97.7 220.9H97.4V221H97.7M97.7 220.8H82.5V221H97.4M86.1 220.6H79.2V220.9H82.5M79.5 220.2H78.5V220.8H79.2M97.7 220H75V220.5H78.5M97.7 221.2H91.1V221.3H97.7M97.7 221.1H84V221.3H91.1M75 220.3H73.3V221.2H84M67.7 212.6H67.2V220.7H73.3M97.7 221.4H97.4V221.5H97.7M97.7 221.6H97.4V221.7H97.7M97.4 221.5H97.1V221.7H97.4M97.7 221.8H97.4V221.9H97.7M97.7 222.2H97.4V222.3H97.7M97.7 222.1H97.4V222.3H97.4M97.7 222H95.4V222.2H97.4M97.4 221.9H91.6V222.1H95.4M97.1 221.6H85.3V222H91.6M97.7 222.5H89.2V222.6H97.7M97.7 222.4H80.5V222.6H89.2M97.7 222.8H97.4V222.9H97.7M97.4 222.9H75V223H97.7M97.7 222.7H74.2V222.9H75M97.7 223.2H97.4V223.3H97.7M97.7 223.1H94.1V223.3H97.4M97.7 223.6H97.4V223.7H97.7M97.7 223.5H97.4V223.7H97.4M97.7 223.4H81.4V223.6H97.4M94.1 223.2H77.7V223.5H81.4M74.2 222.8H74V223.3H77.7M80.5 222.5H73.6V223.1H74M85.3 221.8H72.5V222.8H73.6M97.7 223.8H90V223.9H97.7M97.7 224.2H91.7V224.3H97.7M97.7 224.1H82.7V224.3H91.7M97.7 224H81.1V224.2H82.7M81.1 224.1H79.9V224.4H97.7M90 223.9H76.4V224.2H79.9M76.4 224.1H74.1V224.5H97.7M72.5 222.3H72.5V224.3H74.1M97.7 224.6H97.4V224.7H97.7M97.4 224.6H91.1V224.8H97.7M91.1 224.7H89V224.9H97.7M97.7 225H85.9V225.1H97.7M97.7 225.2H93.9V225.3H97.7M85.9 225H83.5V225.2H93.9M97.7 225.4H88.7V225.5H97.7M97.7 225.6H93V225.7H97.7M88.7 225.4H84.6V225.6H93M97.7 225.8H89.1V225.9H97.7M84.6 225.5H80.5V225.8H89.1M83.5 225.1H76V225.7H80.5M76 225.4H75.9V226H97.7M89 224.8H74.3V225.7H75.9M72.5 223.3H71.6V225.3H74.3M97.7 226.1H96.9V226.2H97.7M96.9 226.1H85.5V226.3H97.7M97.7 226.4H97.4V226.5H97.7M85.5 226.2H75.6V226.4H97.4M97.7 226.7H97.4V226.8H97.7M97.7 226.6H80.2V226.7H97.4M97.7 227.1H95.7V227.2H97.7M97.7 227H91.2V227.1H95.7M91.2 227.1H83V227.3H97.7M97.7 226.9H81.1V227.2H83M80.2 226.7H74.4V227H81.1M75.6 226.3H72.6V226.8H74.4M97.7 227.4H97.4V227.5H97.7M97.7 227.7H97.4V227.8H97.7M97.7 227.6H97.4V227.7H97.4M97.4 227.4H94.9V227.7H97.4M97.7 227.9H97.4V228H97.7M94.9 227.5H82.8V227.9H97.4M72.6 226.6H72.5V227.7H82.8M97.7 228.2H97.4V228.3H97.7M97.7 228.1H97.4V228.2H97.4M97.7 228.4H82.2V228.5H97.7M97.7 228.6H97.4V228.7H97.7M97.4 228.6H82.2V228.8H97.7M82.2 228.7H80.6V228.9H97.7M97.7 229H97.4V229.1H97.7M80.6 228.8H77.7V229H97.4M82.2 228.4H74.5V228.9H77.7M97.7 229.3H97.4V229.4H97.7M97.7 229.2H97.4V229.3H97.4M74.5 228.7H71V229.2H97.4M97.4 228.2H70.6V229H71M72.5 227.2H69.9V228.6H70.6M97.7 229.7H93.7V229.8H97.7M97.7 229.6H88.3V229.7H93.7M97.7 229.5H79.8V229.6H88.3M97.7 230H97.4V230.1H97.7M97.7 229.9H80.2V230H97.4M79.8 229.6H74.5V229.9H80.2M97.7 230.3H97.4V230.4H97.7M97.4 230.3H88V230.5H97.7M97.7 230.2H85V230.4H88M97.7 230.6H97.4V230.7H97.7M85 230.3H75.6V230.6H97.4M97.7 230.9H97.1V231H97.7M97.7 230.8H92.7V230.9H97.1M75.6 230.4H74.7V230.8H92.7M74.5 229.8H73.5V230.6H74.7M69.9 227.9H69V230.2H73.5M71.6 224.3H63.5V229H69M67.2 216.7H63V226.6H63.5M97.7 231.1H97.4V231.2H97.7M97.4 231.1H71.2V231.3H97.7M97.7 231.4H97.4V231.5H97.7M97.7 231.6H97.4V231.7H97.7M97.4 231.6H76V231.8H97.7M97.4 231.4H73.6V231.7H76M97.7 231.9H80V232H97.7M97.7 232.2H97.4V232.3H97.7M97.7 232.1H75.7V232.2H97.4M97.7 232.7H97.4V232.8H97.7M97.7 232.6H97.4V232.7H97.4M97.7 232.5H81.1V232.6H97.4M97.7 232.4H77.2V232.5H81.1M75.7 232.1H74.7V232.4H77.2M97.7 232.9H97.4V232.9H97.7M97.7 233H81.8V233.1H97.7M97.4 232.9H74.8V233.1H81.8M74.8 233H70.6V233.2H97.7M74.7 232.3H70.1V233.1H70.6M80 231.9H70.1V232.7H70.1M73.6 231.5H69.7V232.3H70.1M71.2 231.2H69.7V231.9H69.7M97.7 233.3H97.4V233.4H97.7M97.4 233.4H94.8V233.5H97.7M94.8 233.5H77.9V233.6H97.7M97.7 233.7H97.4V233.8H97.7M97.7 234.1H97.4V234.2H97.7M97.7 234H97.4V234.2H97.4M97.7 233.9H85.3V234.1H97.4M97.4 233.8H71.5V234H85.3M97.7 234.3H97.4V234.4H97.7M97.4 234.4H78.8V234.5H97.7M97.7 234.8H97.4V234.9H97.7M97.7 234.7H97.4V234.9H97.4M97.7 234.6H97.4V234.8H97.4M78.8 234.5H74.8V234.7H97.4M74.8 234.6H71.1V235H97.7M97.7 235.1H89.1V235.2H97.7M97.7 235.3H97.4V235.4H97.7M89.1 235.2H84.1V235.4H97.4M97.7 235.6H97.4V235.7H97.7M97.4 235.7H91.8V235.8H97.7M97.7 235.5H90.3V235.8H91.8M90.3 235.6H86.5V235.9H97.7M84.1 235.3H71.9V235.8H86.5M71.1 234.8H70.1V235.5H71.9M71.5 233.9H69.2V235.2H70.1M77.9 233.6H66.3V234.5H69.2M69.7 231.6H65.7V234.1H66.3M63 221.7H57.1V232.8H65.7M97.7 236.1H94.2V236.2H97.7M94.2 236.2H92.9V236.3H97.7M97.7 236H86.1V236.3H92.9M97.7 236.7H97.4V236.8H97.7M97.7 236.6H97.4V236.8H97.4M97.7 236.5H97.4V236.7H97.4M97.7 236.4H92.1V236.6H97.4M92.1 236.5H83.8V236.9H97.7M86.1 236.1H82V236.7H83.8M97.7 237.1H97.4V237.2H97.7M97.7 237H71.7V237.2H97.4M82 236.4H70.7V237.1H71.7M97.7 237.3H94.4V237.4H97.7M94.4 237.4H76.7V237.5H97.7M97.7 237.6H97.4V237.7H97.7M97.4 237.7H88.2V237.8H97.7M76.7 237.4H69.1V237.7H88.2M70.7 236.8H64.6V237.6H69.1M97.7 237.9H79.1V238H97.7M97.7 238.2H97.4V238.3H97.7M97.7 238.1H97.4V238.3H97.4M97.4 238.2H93.4V238.4H97.7M97.7 238.6H97.4V238.7H97.7M97.7 238.5H97.4V238.7H97.4M93.4 238.3H78.3V238.6H97.4M78.3 238.4H75.9V238.8H97.7M97.7 238.9H87.7V239H97.7M75.9 238.6H72.9V239H87.7M79.1 238H65.9V238.8H72.9M97.7 239.1H97.4V239.2H97.7M97.4 239.2H73.6V239.3H97.7M97.7 239.4H75.8V239.5H97.7M97.7 239.6H80.2V239.7H97.7M75.8 239.5H73.4V239.7H80.2M73.4 239.6H68.8V239.8H97.7M68.8 239.7H67V239.9H97.7M73.6 239.2H66.9V239.8H67M65.9 238.4H65V239.5H66.9M64.6 237.2H63.8V238.9H65M57.1 227.2H52.5V238.1H63.8M97.7 240H97.4V240.1H97.7M97.7 240.3H86.4V240.4H97.7M97.7 240.2H84.2V240.4H86.4M97.4 240.1H66.8V240.3H84.2M97.7 240.5H97.4V240.6H97.7M97.4 240.6H78.6V240.7H97.7M78.6 240.6H74.3V240.8H97.7M97.7 241H97.4V241.1H97.7M97.7 240.9H75.6V241.1H97.4M74.3 240.7H71.4V241H75.6M97.7 241.5H97.4V241.6H97.7M97.7 241.4H97.4V241.5H97.4M97.7 241.3H91.5V241.5H97.4M97.7 241.2H74.7V241.4H91.5M71.4 240.8H69.5V241.3H74.7M97.7 241.8H77.6V241.9H97.7M97.7 241.7H72.3V241.8H77.6M69.5 241.1H69.3V241.8H72.3M97.7 242H97.4V242.1H97.7M97.7 242.2H97.4V242.3H97.7M97.4 242.2H78.3V242.4H97.7M97.4 242H76.6V242.3H78.3M97.7 242.5H79.3V242.6H97.7M79.3 242.5H75.6V242.7H97.7M76.6 242.2H72.4V242.6H75.6M97.7 242.8H83.1V242.9H97.7M72.4 242.4H69.3V242.8H83.1M97.7 243.2H97.4V243.3H97.7M97.7 243.1H97.4V243.2H97.4M97.7 243H97.4V243.2H97.4M97.7 243.4H97.4V243.5H97.7M97.7 243.6H97.4V243.7H97.7M97.4 243.4H74.1V243.6H97.4M97.7 243.8H97.4V243.9H97.7M97.4 243.8H88.6V244H97.7M97.7 244.2H97.4V244.3H97.7M97.7 244.1H97.4V244.2H97.4M88.6 243.9H86.8V244.2H97.4M74.1 243.5H70.7V244H86.8M97.4 243.1H67.6V243.8H70.7M69.3 242.6H66.8V243.4H67.6M66.8 243H63.8V244.4H97.7M69.3 241.4H63.8V243.7H63.8M97.7 244.8H97.4V244.9H97.7M97.7 244.7H97.4V244.8H97.4M97.7 244.6H97.4V244.8H97.4M97.7 244.5H82.2V244.7H97.4M97.7 245H81.7V245.1H97.7M82.2 244.6H69.9V245H81.7M97.7 245.3H97.4V245.4H97.7M97.4 245.3H88.9V245.5H97.7M97.7 245.2H81.7V245.4H88.9M97.7 245.6H97.4V245.7H97.7M81.7 245.3H70.6V245.6H97.4M69.9 244.8H69.1V245.5H70.6M97.7 245.9H75V246H97.7M97.7 245.8H64.9V245.9H75M69.1 245.1H63.4V245.8H64.9M63.8 242.6H63.4V245.5H63.4M66.8 240.2H57V244H63.4M52.5 232.6H48.9V242.1H57M97.7 246.1H97.4V246.2H97.7M97.7 246.3H97.4V246.4H97.7M97.4 246.1H76.7V246.3H97.4M97.7 246.7H97.4V246.8H97.7M97.7 246.6H93.9V246.7H97.4M97.7 246.5H87.5V246.6H93.9M97.7 246.9H97.4V247H97.7M87.5 246.6H83.5V246.9H97.4M97.7 247.1H72.7V247.2H97.7M97.7 247.3H93.5V247.4H97.7M97.7 247.5H97.4V247.6H97.7M93.5 247.3H89V247.5H97.4M89 247.4H88.9V247.7H97.7M88.9 247.5H74.4V247.8H97.7M72.7 247.1H70.9V247.6H74.4M83.5 246.7H68.6V247.4H70.9M76.7 246.2H68.5V247.1H68.6M97.7 248H97.4V248.1H97.7M97.7 247.9H97.4V248H97.4M68.5 246.6H65.8V247.9H97.4M97.7 248.2H71.4V248.3H97.7M97.7 248.5H84.9V248.6H97.7M97.7 248.4H74.6V248.5H84.9M97.7 248.7H97.4V248.8H97.7M97.7 248.9H97.4V249H97.7M97.4 248.9H87.4V249.1H97.7M97.4 248.7H85.3V249H87.4M97.7 249.2H87.1V249.3H97.7M97.7 249.4H77.6V249.4H97.7M87.1 249.2H77.2V249.4H77.6M77.2 249.3H76.7V249.5H97.7M85.3 248.8H76V249.4H76.7M97.7 249.7H97.4V249.8H97.7M97.7 249.6H78.2V249.8H97.4M76 249.1H67.6V249.7H78.2M74.6 248.4H65.6V249.4H67.6M97.7 249.9H97.4V250H97.7M97.7 250.1H83.3V250.2H97.7M97.4 250H74.7V250.2H83.3M97.7 250.4H94.5V250.5H97.7M97.7 250.3H88.5V250.5H94.5M88.5 250.4H77.7V250.6H97.7M77.7 250.5H74.5V250.7H97.7M74.7 250.1H66.2V250.6H74.5M65.6 248.9H64.4V250.4H66.2M97.7 250.8H97.4V250.9H97.7M97.7 251H97.4V251.1H97.7M97.4 251.1H72.7V251.2H97.7M97.7 251.3H80.5V251.4H97.7M72.7 251.2H68.9V251.4H80.5M97.4 250.9H66.2V251.3H68.9M97.7 251.6H97.4V251.7H97.7M97.7 252.1H97.4V252.2H97.7M97.7 252H97.4V252.2H97.4M97.7 251.9H97.4V252.1H97.4M97.7 251.8H97.4V252H97.4M97.4 251.7H84.8V251.9H97.4M97.7 252.5H97.4V252.6H97.7M97.4 252.6H90.4V252.7H97.7M97.7 252.4H85.6V252.7H90.4M97.7 252.8H97.4V252.9H97.7M85.6 252.5H84V252.9H97.4M97.7 252.3H78.7V252.7H84M97.7 253H72.5V253.1H97.7M78.7 252.5H72.1V253.1H72.5M84.8 251.8H70.1V252.8H72.1M97.7 253.2H97.4V253.3H97.7M70.1 252.3H69.6V253.3H97.4M97.7 253.5H97.4V253.6H97.7M97.7 253.4H97.4V253.6H97.4M97.4 253.5H74V253.7H97.7M69.6 252.8H69.1V253.6H74M97.7 251.5H66.2V253.2H69.1M66.2 251.1H64.1V252.4H66.2M64.4 249.6H63.7V251.7H64.1M97.7 254H97.4V254.1H97.7M97.7 253.9H97.4V254.1H97.4M97.7 253.8H97.4V254H97.4M97.7 254.2H97.4V254.3H97.7M97.4 253.9H86.5V254.3H97.4M97.7 254.5H97.4V254.6H97.7M97.4 254.6H90.9V254.7H97.7M97.7 254.4H90.8V254.6H90.9M97.7 254.9H97.4V255H97.7M97.7 254.8H87V255H97.4M90.8 254.5H73.1V254.9H87M73.1 254.7H68.4V255.1H97.7M86.5 254.1H67.5V254.9H68.4M97.7 255.4H97.4V255.5H97.7M97.7 255.3H97.4V255.5H97.4M97.7 255.2H97.4V255.4H97.4M97.4 255.3H75.4V255.6H97.7M97.7 255.7H86.8V255.8H97.7M97.7 256.2H97.4V256.3H97.7M97.7 256.1H97.4V256.3H97.4M97.7 256H97.4V256.2H97.4M97.7 255.9H97.4V256.1H97.4M97.4 256H88.2V256.4H97.7M86.8 255.8H86.7V256.2H88.2M75.4 255.5H70.6V256H86.7M97.7 256.5H97.4V256.6H97.7M97.7 256.9H97.4V257H97.7M97.7 256.8H97.4V257H97.4M97.7 256.7H82.8V256.9H97.4M97.4 256.6H69.3V256.8H82.8M70.6 255.7H69.2V256.7H69.3M67.5 254.5H67V256.2H69.2M97.7 257.1H66.3V257.2H97.7M67 255.4H66.3V257.2H66.3M63.7 250.7H63.6V256.3H66.3M71.4 248.2H63V253.5H63.6M65.8 247.3H63V250.8H63M63 249.1H62.4V257.3H97.7M97.7 257.5H97.4V257.6H97.7M97.7 257.4H97.4V257.6H97.4M62.4 253.2H62.4V257.5H97.4M62.4 255.3H61.9V257.7H97.7M97.7 257.8H79.8V257.9H97.7M97.7 258.1H78.7V258.2H97.7M78.7 258.1H74V258.3H97.7M97.7 258H72.9V258.2H74M72.9 258.1H67.7V258.4H97.7M79.8 257.8H62.9V258.3H67.7M97.7 258.5H97.4V258.6H97.7M97.7 258.8H97.4V258.9H97.7M97.7 258.7H97.4V258.8H97.4M97.4 258.5H80.7V258.8H97.4M80.7 258.7H76.8V259H97.7M97.7 259.5H97.4V259.6H97.7M97.7 259.4H97.4V259.5H97.4M97.7 259.3H97.4V259.5H97.4M97.7 259.2H97.4V259.4H97.4M97.4 259.3H89.2V259.7H97.7M97.7 259.9H97.4V260H97.7M97.7 259.8H75.9V259.9H97.4M75.9 259.9H73.1V260.1H97.7M89.2 259.5H71.6V260H73.1M97.7 260.2H97.4V260.3H97.7M97.7 260.4H97.4V260.5H97.7M97.4 260.2H79.1V260.4H97.4M71.6 259.7H71.6V260.3H79.1M97.7 259.1H69.7V260H71.6M97.7 260.6H97.4V260.7H97.7M97.7 261H97.4V261.1H97.7M97.7 260.9H97.4V261H97.4M97.7 260.8H97.4V261H97.4M97.4 260.6H83.5V260.9H97.4M97.7 261.2H89.7V261.3H97.7M83.5 260.8H82.4V261.2H89.7M97.7 261.5H97.4V261.6H97.7M97.7 261.4H82.2V261.5H97.4M82.4 261H73.5V261.5H82.2M97.7 261.8H97.4V261.9H97.7M97.7 262H97.4V262.1H97.7M97.4 262H90.1V262.2H97.7M97.4 261.8H82.5V262.1H90.1M97.7 261.7H72.9V262H82.5M73.5 261.2H72.4V261.8H72.9M69.7 259.6H67.6V261.5H72.4M76.8 258.8H67.4V260.5H67.6M62.9 258.1H62.8V259.7H67.4M97.7 262.3H97.4V262.4H97.7M97.7 262.5H78.8V262.6H97.7M97.4 262.3H77.6V262.5H78.8M97.7 262.7H92V262.8H97.7M77.6 262.4H74.1V262.7H92M62.8 258.9H61.9V262.6H74.1M97.7 263H97.4V263.1H97.7M97.7 263.2H97.4V263.3H97.7M97.4 263H96.1V263.2H97.4M96.1 263.1H87.1V263.4H97.7M87.1 263.2H85.3V263.5H97.7M85.3 263.4H70.1V263.6H97.7M97.7 263.8H97.4V263.9H97.7M97.7 263.7H90.9V263.8H97.4M97.7 264H80.9V264.1H97.7M90.9 263.7H80V264H80.9M97.7 264.2H97.4V264.3H97.7M97.4 264.2H68.5V264.4H97.7M80 263.9H67.7V264.3H68.5M70.1 263.5H64.5V264.1H67.7M64.5 263.8H64.5V264.5H97.7M97.7 262.9H63.7V264.1H64.5M61.9 260.7H61.5V263.5H63.7M61.9 256.5H59.1V262.1H61.5M48.9 237.4H45.2V259.3H59.1M97.7 264.8H97.4V264.9H97.7M97.7 265H97.1V265.1H97.7M97.4 264.8H91.7V265H97.1M97.7 264.7H87V264.9H91.7M97.7 265.4H97.4V265.5H97.7M97.7 265.3H97.4V265.4H97.4M97.4 265.3H76.5V265.6H97.7M76.5 265.4H73V265.7H97.7M97.7 265.2H71.5V265.5H73M97.7 265.9H86.3V266H97.7M97.7 265.8H82V265.9H86.3M71.5 265.4H68.6V265.8H82M87 264.8H65.9V265.6H68.6M97.7 264.6H62.3V265.2H65.9M45.2 248.3H43.4V264.9H62.3M64.6 199.8H38.8V256.6H43.4M35.4 175.8H26.7V228.2H38.8"/><path fill="none" stroke="#111" stroke-width="0.38" d="M422.9 112H422.6V112.1H422.9M422.9 111.9H404.7V112H422.6M422.9 112.3H418.4V112.4H422.9M422.9 112.5H408.4V112.6H422.9M418.4 112.3H404.9V112.5H408.4M404.9 112.4H396.4V112.7H422.9M422.9 113H422.6V113.1H422.9M422.9 112.9H422.6V113H422.6M422.9 112.8H422.6V113H422.6M422.9 113.2H422.6V113.3H422.9M422.6 112.9H401.2V113.2H422.6M396.4 112.5H394.9V113H401.2M422.9 113.6H422.6V113.7H422.9M422.9 113.5H422.6V113.6H422.6M422.9 113.4H398.2V113.6H422.6M394.9 112.8H394.2V113.5H398.2M422.9 112.2H394V113.1H394.2M422.9 113.8H410.5V113.9H422.9M410.5 113.8H407.1V114H422.9M394 112.6H393.2V113.9H407.1M404.7 111.9H377.5V113.3H393.2M422.9 114.2H422.6V114.3H422.9M422.9 114.1H395.2V114.3H422.6M422.9 114.4H413.3V114.5H422.9M422.9 114.6H422.6V114.7H422.9M422.6 114.7H405.8V114.8H422.9M422.9 115H422.6V115.1H422.9M422.6 115.1H414.3V115.2H422.9M422.9 114.9H396.9V115.1H414.3M422.9 115.3H422.6V115.4H422.9M396.9 115H396.1V115.4H422.6M422.9 115.5H422.6V115.6H422.9M422.6 115.6H418V115.7H422.9M422.9 115.8H416.6V115.9H422.9M418 115.7H404.4V115.9H416.6M396.1 115.2H395.2V115.8H404.4M405.8 114.7H394.3V115.5H395.2M422.9 116H422.6V116.1H422.9M422.9 116.2H422.6V116.4H422.9M422.6 116.1H408.4V116.3H422.6M394.3 115.1H394.1V116.2H408.4M413.3 114.5H394.1V115.7H394.1M422.9 116.5H402.8V116.6H422.9M422.9 117H422.6V117.1H422.9M422.9 116.9H422.6V117H422.6M422.9 116.8H419.4V116.9H422.6M419.4 116.8H410.9V117.2H422.9M422.9 116.7H402.6V117H410.9M422.9 117.4H422.6V117.5H422.9M422.9 117.3H407.1V117.4H422.6M422.9 117.6H405.6V117.7H422.9M407.1 117.3H404.9V117.6H405.6M402.6 116.8H399.6V117.5H404.9M422.9 118.1H422.6V118.2H422.9M422.9 118H422.6V118.1H422.6M422.9 117.9H422.6V118.1H422.6M422.9 117.8H402.4V118H422.6M399.6 117.2H398.4V117.9H402.4M402.8 116.5H398.3V117.5H398.4M422.9 118.4H422.6V118.5H422.9M422.9 118.3H412.4V118.4H422.6M412.4 118.4H402.2V118.6H422.9M422.9 118.7H422.6V118.8H422.9M402.2 118.5H402V118.8H422.6M422.9 118.9H422.6V119H422.9M422.6 119H413.4V119.1H422.9M422.9 119.2H422.6V119.3H422.9M422.6 119.3H420.2V119.4H422.9M413.4 119H403.3V119.3H420.2M402 118.6H399.3V119.2H403.3M422.9 119.5H403.5V119.6H422.9M422.9 119.7H405.6V119.8H422.9M403.5 119.6H400V119.8H405.6M399.3 118.9H398.7V119.7H400M398.3 117H393.9V119.3H398.7M394.1 115.1H392.1V118.2H393.9M422.9 119.9H422.6V120H422.9M422.9 120.5H422.6V120.6H422.9M422.9 120.4H422.6V120.6H422.6M422.9 120.3H422.6V120.5H422.6M422.9 120.2H422.6V120.4H422.6M422.9 120.1H422.6V120.3H422.6M422.6 120H403.5V120.2H422.6M422.9 120.9H422.6V121H422.9M422.9 120.7H422.6V120.9H422.6M422.9 121.6H422.6V121.7H422.9M422.9 121.5H422.6V121.6H422.6M422.9 121.4H422.6V121.5H422.6M422.9 121.3H422.6V121.5H422.6M422.9 121.2H422.6V121.4H422.6M422.9 121.1H417.5V121.3H422.6M422.6 120.8H400.7V121.2H417.5M403.5 120.1H399.3V121H400.7M422.9 121.8H422.6V121.9H422.9M422.6 121.8H414.7V122H422.9M414.7 121.9H404.1V122.1H422.9M422.9 122.5H422.6V122.6H422.9M422.9 122.4H422.6V122.5H422.6M422.9 122.3H422.6V122.5H422.6M422.9 122.2H411.9V122.4H422.6M404.1 122H403.8V122.3H411.9M399.3 120.5H398.2V122.1H403.8M392.1 116.6H392.1V121.3H398.2M395.2 114.2H391.8V119H392.1M422.9 122.8H422.6V122.9H422.9M422.9 122.7H422.6V122.8H422.6M422.9 123H422.6V123.1H422.9M422.6 122.8H411.6V123H422.6M411.6 122.9H405.5V123.2H422.9M422.9 123.4H422.6V123.5H422.9M422.9 123.3H422.6V123.5H422.6M422.9 123.6H422.6V123.7H422.9M422.6 123.4H422.1V123.7H422.6M422.1 123.5H407.1V123.8H422.9M422.9 123.9H422.6V124H422.9M407.1 123.7H404.5V124H422.6M405.5 123.1H401.3V123.8H404.5M401.3 123.4H400.7V124.1H422.9M422.9 124.2H422.6V124.3H422.9M422.9 124.8H422.6V124.9H422.9M422.9 124.7H422.6V124.9H422.6M422.9 124.6H422.6V124.8H422.6M422.9 124.5H422.6V124.7H422.6M422.9 124.4H407.9V124.6H422.6M422.6 124.3H405.5V124.5H407.9M422.9 125.2H422.6V125.4H422.9M422.9 125.1H421.6V125.3H422.6M422.9 125.6H422.6V125.7H422.9M422.9 125.5H420.9V125.6H422.6M422.9 126H422.6V126.1H422.9M422.9 125.9H422.6V126H422.6M422.9 125.8H415.7V125.9H422.6M420.9 125.5H411.4V125.8H415.7M421.6 125.2H411.4V125.7H411.4M422.9 125H410.6V125.5H411.4M422.9 126.4H422.6V126.5H422.9M422.9 126.3H422.6V126.4H422.6M422.9 126.2H416.2V126.3H422.6M422.9 126.9H422.6V127H422.9M422.9 126.8H422.6V126.9H422.6M422.9 126.7H422.6V126.9H422.6M422.9 126.6H416.1V126.8H422.6M416.2 126.3H412.2V126.7H416.1M410.6 125.2H410.1V126.5H412.2M422.9 127.1H414.4V127.2H422.9M410.1 125.9H409.1V127.1H414.4M409.1 126.5H408.4V127.3H422.9M405.5 124.4H404.6V126.9H408.4M400.7 123.8H399V125.6H404.6M422.9 127.4H410.4V127.5H422.9M422.9 127.6H422.6V127.7H422.9M422.9 127.9H422.6V128H422.9M422.9 127.8H422.6V128H422.6M422.6 127.7H418.3V127.9H422.6M422.9 128.3H422.6V128.4H422.9M422.9 128.2H422.6V128.4H422.6M422.9 128.1H417.9V128.3H422.6M418.3 127.8H413.9V128.2H417.9M410.4 127.4H409V128H413.9M422.9 128.7H422.6V128.8H422.9M422.9 128.6H422.6V128.8H422.6M422.9 128.5H421.7V128.7H422.6M422.9 128.9H422.6V129H422.9M422.9 129.2H422.6V129.3H422.9M422.9 129.1H416.5V129.3H422.6M422.6 129H415.9V129.2H416.5M421.7 128.6H410.3V129.1H415.9M422.9 129.4H422.6V129.5H422.9M422.9 129.7H422.6V129.9H422.9M422.9 129.6H412.1V129.8H422.6M422.9 130.2H422.6V130.3H422.9M422.9 130.1H422.6V130.2H422.6M422.9 130H419.4V130.1H422.6M412.1 129.7H411.9V130H419.4M422.6 129.5H409V129.9H411.9M422.9 130.7H422.6V130.8H422.9M422.9 130.6H422.6V130.7H422.6M422.9 130.5H422.6V130.6H422.6M422.9 130.4H418.4V130.6H422.6M422.9 130.9H422.6V131H422.9M418.4 130.5H416.8V130.9H422.6M422.9 131.2H422.6V131.3H422.9M422.9 131.1H422.6V131.2H422.6M416.8 130.7H411.4V131.2H422.6M422.9 131.4H422.6V131.5H422.9M422.9 131.9H420.6V132H422.9M422.9 131.8H418.7V131.9H420.6M422.9 131.7H414.8V131.9H418.7M422.9 131.6H414.4V131.8H414.8M422.6 131.4H411.8V131.7H414.4M411.4 130.9H411.1V131.6H411.8M409 129.7H408.1V131.2H411.1M422.9 132.5H422.6V132.6H422.9M422.9 132.4H422.6V132.6H422.6M422.9 132.3H422.6V132.5H422.6M422.9 132.9H422.6V133H422.9M422.9 132.8H421.8V133H422.6M422.9 132.7H418.3V132.9H421.8M422.6 132.4H417.7V132.8H418.3M422.9 132.2H411.8V132.6H417.7M422.9 132.1H410.3V132.4H411.8M422.9 133.2H422.6V133.3H422.9M422.9 133.1H422.6V133.3H422.6M422.6 133.2H416.5V133.4H422.9M410.3 132.3H409V133.3H416.5M408.1 130.5H407.7V132.8H409M410.3 128.9H407.3V131.6H407.7M422.9 133.6H422.6V133.7H422.9M422.9 133.5H422.6V133.7H422.6M422.9 134H422.6V134.1H422.9M422.6 134.1H417.3V134.2H422.9M422.9 134.5H422.6V134.6H422.9M422.9 134.3H422.6V134.5H422.6M417.3 134.2H415.7V134.4H422.6M422.9 133.9H412.6V134.3H415.7M422.9 133.8H409.7V134.1H412.6M422.9 134.7H422.6V134.8H422.9M422.9 135.4H422.6V135.5H422.9M422.9 135.3H422.6V135.4H422.6M422.9 135.2H422.6V135.3H422.6M422.9 135.1H422.6V135.3H422.6M422.9 135H422.6V135.2H422.6M422.9 134.9H422.6V135.1H422.6M422.6 134.7H416.9V135H422.6M422.9 135.7H422.6V135.8H422.9M422.9 135.6H422.6V135.7H422.6M422.9 136.2H422.6V136.3H422.9M422.9 136.1H422.6V136.2H422.6M422.9 136H422.6V136.2H422.6M422.9 135.9H422.6V136.1H422.6M422.6 135.7H420.8V136H422.6M416.9 134.8H416.6V135.8H420.8M416.6 135.3H413.6V136.4H422.9M422.9 136.5H418.8V136.6H422.9M422.9 136.7H422.6V136.8H422.9M422.9 137.1H422.6V137.2H422.9M422.9 137H422.6V137.2H422.6M422.9 136.9H419.9V137.1H422.6M422.6 136.8H419.4V137H419.9M418.8 136.5H411.3V136.9H419.4M422.9 137.3H414.6V137.4H422.9M411.3 136.7H411V137.4H414.6M413.6 135.9H408.2V137H411M409.7 134H407.8V136.4H408.2M422.6 133.6H407V135.2H407.8M422.9 138H422.6V138.1H422.9M422.9 137.9H422.6V138.1H422.6M422.9 137.8H422.6V138H422.6M422.9 137.7H422.6V137.9H422.6M422.9 137.6H417.7V137.8H422.6M422.9 137.5H411.9V137.7H417.7M422.9 138.3H422.6V138.4H422.9M422.9 138.2H422.6V138.4H422.6M422.9 138.6H422.6V138.7H422.9M422.9 138.5H422.6V138.7H422.6M422.6 138.6H421.6V138.8H422.9M422.9 139H422.6V139.1H422.9M422.9 139.5H422.6V139.6H422.9M422.9 139.4H422.6V139.5H422.6M422.9 139.3H422.6V139.4H422.6M422.9 139.2H422.6V139.3H422.6M422.6 139H421.7V139.3H422.6M421.6 138.7H418.7V139.1H421.7M422.6 138.3H415.4V138.9H418.7M411.9 137.6H411.8V138.6H415.4M407 134.4H403.4V138.1H411.8M407.3 130.2H401.2V136.3H403.4M422.9 139.8H422.6V139.9H422.9M422.6 139.8H411V140H422.9M422.9 139.7H408.6V139.9H411M401.2 133.3H398.7V139.8H408.6M409 127.7H387.5V136.5H398.7M422.9 140.4H422.6V140.5H422.9M422.9 140.3H422.6V140.4H422.6M422.9 140.2H422.6V140.4H422.6M422.9 140.1H420.1V140.3H422.6M422.9 141H422.6V141.1H422.9M422.9 140.9H422.6V141H422.6M422.9 140.8H422.6V141H422.6M422.9 140.7H422.6V140.9H422.6M422.9 140.6H422.6V140.8H422.6M422.9 141.2H422.6V141.3H422.9M422.6 140.7H419V141.3H422.6M420.1 140.2H415.5V141H419M422.9 141.6H422.6V141.7H422.9M422.9 141.5H422.6V141.7H422.6M422.9 141.4H422.6V141.6H422.6M422.9 141.9H422.6V142H422.9M422.9 141.8H414.6V142H422.6M422.6 141.5H414.5V141.9H414.6M422.9 142.2H422.6V142.3H422.9M422.9 142.7H422.6V142.8H422.9M422.9 142.6H422.6V142.8H422.6M422.9 142.5H422.6V142.7H422.6M422.9 142.4H422.6V142.6H422.6M422.6 142.3H417.4V142.5H422.6M422.9 143H422.6V143.1H422.9M422.9 142.9H413.5V143.1H422.6M417.4 142.4H413.2V143H413.5M422.9 142.1H409V142.7H413.2M414.5 141.7H408.8V142.4H409M415.5 140.6H407.7V142.1H408.8M422.9 143.3H422.6V143.5H422.9M422.9 143.6H422.6V143.7H422.9M422.6 143.4H418V143.6H422.6M422.9 143.8H416.9V143.9H422.9M418 143.5H416.1V143.8H416.9M422.9 143.2H410V143.7H416.1M422.9 144.3H422.6V144.4H422.9M422.9 144.2H420.4V144.3H422.6M422.9 144.1H417.2V144.2H420.4M422.9 144H417.1V144.2H417.2M417.1 144.1H413.5V144.5H422.9M422.9 144.6H422.6V144.7H422.9M422.6 144.6H410.7V144.8H422.9M413.5 144.3H410.6V144.7H410.7M422.9 145H422.6V145.1H422.9M422.9 144.9H410.5V145H422.6M410.6 144.5H409.7V145H410.5M410 143.5H408.7V144.7H409.7M422.9 145.3H422.6V145.4H422.9M422.6 145.3H421.7V145.5H422.9M421.7 145.4H414.3V145.6H422.9M422.9 145.9H422.6V146H422.9M422.9 145.8H422.6V146H422.6M422.9 145.7H413.6V145.9H422.6M414.3 145.5H410.5V145.8H413.6M422.9 145.2H409.9V145.7H410.5M408.7 144.1H408.4V145.4H409.9M407.7 141.3H407.2V144.8H408.4M422.9 146.3H422.6V146.4H422.9M422.9 146.2H422.6V146.4H422.6M422.9 146.1H422.6V146.3H422.6M422.6 146.2H410.8V146.5H422.9M422.9 146.6H408.7V146.7H422.9M410.8 146.4H407.1V146.7H408.7M407.2 143H406.7V146.5H407.1M406.7 144.8H395.5V146.8H422.9M422.9 147.4H422.6V147.5H422.9M422.9 147.3H422.6V147.5H422.6M422.9 147.2H422.6V147.4H422.6M422.9 147.1H422.6V147.3H422.6M422.9 147H422.6V147.2H422.6M422.9 146.9H422.6V147.1H422.6M422.6 147H409V147.6H422.9M422.9 148H422.6V148.1H422.9M422.9 147.8H414.1V148H422.6M414.1 147.9H413.8V148.2H422.9M422.9 147.7H411.4V148H413.8M422.9 148.8H422.6V148.9H422.9M422.9 148.7H422.6V148.8H422.6M422.9 148.6H422.6V148.7H422.6M422.9 148.5H422.6V148.7H422.6M422.9 148.4H422.6V148.6H422.6M422.9 148.3H422.6V148.5H422.6M411.4 147.9H410.3V148.4H422.6M422.9 149.1H422.6V149.2H422.9M422.9 149.3H420.3V149.4H422.9M422.6 149.1H415.5V149.3H420.3M422.9 149.5H419.9V149.6H422.9M415.5 149.2H411.7V149.5H419.9M422.9 149.9H422.6V150H422.9M422.9 149.8H422.6V149.9H422.6M422.9 149.7H420V149.9H422.6M411.7 149.4H410.4V149.8H420M422.9 149H410.2V149.6H410.4M410.3 148.1H408.4V149.3H410.2M409 147.3H407.6V148.7H408.4M407.6 148H403V150.1H422.9M422.9 150.2H422.6V150.3H422.9M422.9 150.4H422.6V150.5H422.9M422.6 150.3H405.4V150.5H422.6M422.9 150.6H422.6V150.7H422.9M422.6 150.7H406V150.8H422.9M405.4 150.4H400.9V150.7H406M403 149.1H399.3V150.5H400.9M399.3 149.8H394.3V150.9H422.9M422.9 151.1H422.6V151.2H422.9M422.9 151H422.6V151.2H422.6M422.9 151.5H422.6V151.6H422.9M422.9 151.4H422.6V151.6H422.6M422.9 151.3H422.6V151.5H422.6M422.6 151.1H412V151.4H422.6M422.9 151.9H410.8V152H422.9M422.9 151.8H403.5V152H410.8M422.9 151.7H403.3V151.9H403.5M422.9 152.1H411.4V152.2H422.9M403.3 151.8H395.8V152.2H411.4M422.9 152.5H416V152.6H422.9M422.9 152.3H407.6V152.5H416M422.9 153.1H422.6V153.2H422.9M422.9 153H422.6V153.1H422.6M422.9 152.9H422.6V153H422.6M422.9 152.8H422.3V152.9H422.6M422.9 152.7H412.9V152.9H422.3M422.9 153.4H410.3V153.5H422.9M422.9 153.3H409.9V153.4H410.3M422.9 153.7H422.6V153.8H422.9M422.9 153.6H422.6V153.7H422.6M422.9 153.9H422.6V154H422.9M422.6 153.7H410.1V153.9H422.6M409.9 153.3H407.8V153.8H410.1M412.9 152.8H399.5V153.6H407.8M407.6 152.4H399.2V153.2H399.5M422.9 154.2H415.3V154.3H422.9M422.9 154.1H412.6V154.2H415.3M412.6 154.2H410.2V154.4H422.9M422.9 154.5H421.6V154.6H422.9M410.2 154.3H406.5V154.5H421.6M399.2 152.8H396.2V154.4H406.5M395.8 152H394.7V153.6H396.2M422.9 154.7H422.6V154.8H422.9M422.9 155.2H422.6V155.3H422.9M422.9 155.1H422.6V155.3H422.6M422.9 155H422.6V155.2H422.6M422.9 154.9H422.6V155.1H422.6M422.6 154.8H400.1V155H422.6M400.1 154.9H398.6V155.4H422.9M398.6 155.1H396.8V155.5H422.9M394.7 152.8H393.9V155.3H396.8M412 151.3H393.8V154.1H393.9M394.3 150.4H393.5V152.7H393.8M395.5 145.8H393.2V151.5H393.5M387.5 132.1H382.3V148.7H393.2M399 124.7H380.9V140.4H382.3M391.8 116.6H370.3V132.6H380.9M377.5 112.6H368.6V124.6H370.3M422.9 155.7H422.6V155.8H422.9M422.9 155.6H418V155.8H422.6M418 155.7H410.6V155.9H422.9M410.6 155.8H405.6V156H422.9M422.9 156.2H422.6V156.3H422.9M422.9 156.1H422.6V156.3H422.6M422.9 156.4H422.6V156.5H422.9M422.6 156.2H408.8V156.5H422.6M405.6 155.9H393.7V156.3H408.8M422.9 156.6H422.6V156.7H422.9M422.9 156.8H401V157H422.9M422.9 157.1H415.4V157.2H422.9M415.4 157.1H408.7V157.3H422.9M422.9 157.6H422.6V157.7H422.9M422.9 157.5H422.6V157.6H422.6M422.9 157.4H402.4V157.5H422.6M408.7 157.2H395.8V157.4H402.4M422.9 157.8H421.7V157.9H422.9M421.7 157.8H398.6V158H422.9M398.6 157.9H398.1V158.1H422.9M422.9 158.2H403.4V158.3H422.9M422.9 158.6H422.6V158.7H422.9M422.9 158.5H422.6V158.6H422.6M422.9 158.4H408V158.6H422.6M403.4 158.2H398.7V158.5H408M398.1 158H397.3V158.4H398.7M422.9 158.9H422.6V159H422.9M422.9 158.8H409.7V158.9H422.6M422.9 159.1H415.5V159.2H422.9M415.5 159.1H412.7V159.3H422.9M409.7 158.9H407.8V159.2H412.7M422.9 159.4H414.8V159.5H422.9M422.9 159.9H422.6V160H422.9M422.9 159.8H422.6V160H422.6M422.9 159.7H422.6V159.9H422.6M422.9 159.6H422.6V159.8H422.6M414.8 159.5H410.3V159.7H422.6M422.9 160.2H422.6V160.3H422.9M422.9 160.1H422.6V160.3H422.6M410.3 159.6H405.2V160.2H422.6M422.9 160.4H422.6V160.5H422.9M405.2 159.9H400.6V160.5H422.6M407.8 159H397.7V160.2H400.6M397.3 158.2H397.1V159.6H397.7M395.8 157.3H394.9V158.9H397.1M401 156.9H392.8V158.1H394.9M422.6 156.7H388.4V157.5H392.8M393.7 156.1H383.1V157.1H388.4M422.9 160.9H422.6V161H422.9M422.9 160.8H422.6V161H422.6M422.9 160.7H422.6V160.9H422.6M422.9 161.3H422.6V161.5H422.9M422.9 161.2H422.6V161.4H422.6M422.9 161.1H422.6V161.3H422.6M422.6 160.8H418V161.2H422.6M422.9 160.6H416V161H418M422.9 161.9H422.6V162H422.9M422.9 161.8H422.6V161.9H422.6M422.9 161.7H422.6V161.8H422.6M422.9 161.6H411.3V161.7H422.6M422.9 162.2H422.6V162.3H422.9M422.9 162.1H422.6V162.2H422.6M411.3 161.6H410V162.1H422.6M416 160.8H404.7V161.9H410M422.9 162.6H422.6V162.7H422.9M422.9 162.5H422.6V162.6H422.6M422.9 162.4H422.6V162.5H422.6M422.9 163.4H422.6V163.5H422.9M422.9 163.3H422.6V163.4H422.6M422.9 163.2H422.6V163.4H422.6M422.9 163.1H422.6V163.3H422.6M422.9 163H422.6V163.2H422.6M422.9 162.9H422.6V163.1H422.6M422.9 162.8H422.6V163H422.6M422.9 163.6H422.6V163.7H422.9M422.6 162.9H407.4V163.6H422.6M422.9 163.8H422.6V163.9H422.9M422.9 164H422.6V164.1H422.9M422.6 163.9H404.8V164.1H422.6M422.9 164.2H422.6V164.3H422.9M404.8 164H404.5V164.3H422.6M407.4 163.3H400.2V164.1H404.5M422.6 162.5H400.1V163.7H400.2M404.7 161.4H398.7V163.1H400.1M383.1 156.6H382.5V162.2H398.7M422.9 164.6H422.6V164.7H422.9M422.9 164.5H409.6V164.7H422.6M422.9 164.4H404.7V164.6H409.6M422.9 164.8H422.6V164.9H422.9M422.9 165.4H422.6V165.5H422.9M422.9 165.3H422.6V165.5H422.6M422.9 165.2H422.6V165.4H422.6M422.9 165.1H422.6V165.3H422.6M422.9 165H422.6V165.2H422.6M422.6 164.9H402.1V165.1H422.6M404.7 164.5H399.4V165H402.1M422.9 165.7H422.6V165.8H422.9M422.9 165.6H422.6V165.8H422.6M422.9 166H422.6V166.1H422.9M422.6 165.7H410.2V166H422.6M422.9 166.7H422.6V166.8H422.9M422.9 166.6H422.6V166.7H422.6M422.9 166.5H422.6V166.6H422.6M422.9 166.4H422.6V166.6H422.6M422.9 166.3H422.6V166.5H422.6M422.9 166.2H417V166.4H422.6M422.9 167.1H422.6V167.2H422.9M422.9 167H422.6V167.1H422.6M422.9 166.9H422.6V167H422.6M417 166.3H411.9V167H422.6M410.2 165.9H403.2V166.6H411.9M422.9 167.3H422.6V167.4H422.9M422.6 167.3H417.5V167.5H422.9M422.9 167.9H422.6V168H422.9M422.9 167.8H422.6V167.9H422.6M422.9 167.7H422.6V167.9H422.6M422.9 167.6H422.6V167.8H422.6M422.9 168.4H422.6V168.5H422.9M422.9 168.3H422.6V168.5H422.6M422.9 168.2H422.6V168.4H422.6M422.9 168.1H422.6V168.3H422.6M422.6 167.7H409.5V168.2H422.6M417.5 167.4H401.6V167.9H409.5M422.9 168.6H422.6V168.7H422.9M422.9 169H422.6V169.1H422.9M422.9 168.9H422.6V169.1H422.6M422.9 168.8H422.6V169H422.6M422.6 168.7H421.5V168.9H422.6M422.9 169.2H422.6V169.3H422.9M421.5 168.8H401.4V169.3H422.6M401.6 167.7H400.5V169H401.4M422.9 169.7H422.6V169.8H422.9M422.9 169.6H422.6V169.8H422.6M422.9 169.5H422.6V169.7H422.6M422.9 169.4H405.5V169.6H422.6M400.5 168.4H398.8V169.5H405.5M403.2 166.2H398.7V168.9H398.8M422.9 170.1H416.3V170.2H422.9M422.9 170H414V170.2H416.3M422.9 170.7H422.6V170.8H422.9M422.9 170.6H422.6V170.7H422.6M422.9 170.4H422.6V170.6H422.6M422.9 170.3H422.6V170.5H422.6M422.6 170.4H417.2V170.9H422.9M414 170.1H409.1V170.7H417.2M422.9 169.9H402.9V170.4H409.1M398.7 167.6H398.2V170.2H402.9M422.9 171.1H422.6V171.2H422.9M422.9 172H422.6V172.1H422.9M422.9 171.9H422.6V172H422.6M422.9 171.8H422.6V172H422.6M422.9 171.7H422.6V171.9H422.6M422.9 171.6H422.6V171.8H422.6M422.9 171.5H422.6V171.7H422.6M422.9 171.4H422.6V171.6H422.6M422.9 171.3H422.6V171.5H422.6M422.6 171.1H408V171.4H422.6M422.9 172.4H422.6V172.5H422.9M422.9 172.3H422.6V172.4H422.6M422.9 172.2H414V172.4H422.6M422.9 172.7H422.6V172.8H422.9M422.9 172.6H422.6V172.8H422.6M422.9 173H422.6V173.1H422.9M422.9 172.9H422.6V173.1H422.6M422.6 173H420.5V173.2H422.9M422.9 173.4H422.6V173.5H422.9M422.9 173.3H422.6V173.5H422.6M420.5 173.1H418.5V173.4H422.6M422.6 172.7H411.2V173.2H418.5M414 172.3H409.8V173H411.2M408 171.2H404.4V172.6H409.8M422.9 173.7H420.1V173.8H422.9M422.9 173.6H413.1V173.8H420.1M404.4 171.9H401.3V173.7H413.1M422.9 171H400V172.8H401.3M422.9 174.2H422.6V174.3H422.9M422.9 174.1H422.6V174.3H422.6M422.9 174H422.6V174.2H422.6M422.9 173.9H409.9V174.1H422.6M422.9 174.4H422.6V174.5H422.9M409.9 174H405.3V174.5H422.6M400 171.9H399.6V174.3H405.3M422.9 175.3H422.6V175.4H422.9M422.9 175.2H422.6V175.3H422.6M422.9 175.1H422.6V175.2H422.6M422.9 174.9H422.6V175.1H422.6M422.9 174.8H422.6V175H422.6M422.9 174.7H422.6V174.9H422.6M422.9 174.6H422V174.8H422.6M422.9 175.5H422.6V175.6H422.9M422 174.7H419.1V175.5H422.6M422.9 175.9H422.6V176H422.9M422.9 175.8H422.6V175.9H422.6M422.9 175.7H422.6V175.8H422.6M419.1 175.1H406.6V175.8H422.6M399.6 173.1H398.6V175.4H406.6M398.2 168.9H397.5V174.3H398.6M399.4 164.8H397.4V171.6H397.5M382.5 159.4H369.7V168.2H397.4M368.6 118.6H367.8V163.8H369.7M422.9 176.1H422.6V176.2H422.9M422.9 176.3H409.7V176.4H422.9M422.9 176.6H422.6V176.7H422.9M422.6 176.6H420.9V176.8H422.9M422.9 176.5H419V176.7H420.9M409.7 176.3H406.2V176.6H419M422.9 177.2H422.6V177.3H422.9M422.9 177.1H422.6V177.3H422.6M422.9 177H422.6V177.2H422.6M422.9 176.9H422.6V177.1H422.6M406.2 176.5H403.6V177H422.6M422.9 177.4H422.6V177.5H422.9M422.9 177.6H422.6V177.7H422.9M422.6 177.5H419.2V177.7H422.6M419.2 177.6H407.4V177.8H422.9M403.6 176.7H401.9V177.7H407.4M422.6 176.1H399.5V177.2H401.9M422.9 178H422.6V178.1H422.9M422.9 177.9H422.6V178.1H422.6M422.9 178.3H422.6V178.4H422.9M422.9 178.2H416.1V178.4H422.6M422.6 178H415.2V178.3H416.1M422.9 178.7H422.6V178.8H422.9M422.9 178.6H422.6V178.8H422.6M422.9 178.5H422.6V178.7H422.6M422.6 178.6H412.3V178.9H422.9M415.2 178.1H407.9V178.8H412.3M422.9 179.1H422.6V179.2H422.9M422.6 179.2H405.5V179.3H422.9M422.9 179H398.2V179.3H405.5M407.9 178.5H397.2V179.2H398.2M399.5 176.7H396.2V178.8H397.2M422.9 179.4H420.8V179.6H422.9M422.9 179.7H412.5V179.8H422.9M420.8 179.5H403.8V179.7H412.5M422.9 179.9H422.6V180H422.9M422.9 180.4H422.6V180.5H422.9M422.9 180.3H422.6V180.4H422.6M422.9 180.2H422.6V180.3H422.6M422.9 180.1H422.6V180.3H422.6M422.6 179.9H410.4V180.2H422.6M403.8 179.6H399.7V180H410.4M422.9 180.7H422.6V180.8H422.9M422.9 180.6H422.6V180.7H422.6M399.7 179.8H391.2V180.7H422.6M396.2 177.7H388.6V180.2H391.2M422.9 180.9H406.8V181H422.9M422.9 181.1H422.6V181.2H422.9M422.6 181.1H420.4V181.3H422.9M422.9 181.5H422.6V181.6H422.9M422.9 181.4H422.6V181.5H422.6M422.9 181.7H416.7V181.8H422.9M422.6 181.5H407.5V181.8H416.7M420.4 181.2H398.3V181.6H407.5M422.9 181.9H422.6V182H422.9M422.9 182.2H422.6V182.3H422.9M422.9 182.4H422.6V182.5H422.9M422.6 182.3H417.8V182.5H422.6M422.9 182.1H414.2V182.4H417.8M422.6 182H402.7V182.2H414.2M398.3 181.4H398.2V182.1H402.7M406.8 180.9H395.4V181.8H398.2M422.9 182.7H420.5V182.8H422.9M422.9 182.6H411.5V182.8H420.5M411.5 182.7H396.7V182.9H422.9M422.9 183.1H422.6V183.2H422.9M422.9 183H422.6V183.2H422.6M422.9 183.5H422.6V183.6H422.9M422.9 183.4H422.6V183.6H422.6M422.9 183.3H422.6V183.5H422.6M422.6 183.1H407.9V183.4H422.6M396.7 182.8H396.2V183.3H407.9M422.9 183.7H422.6V183.8H422.9M396.2 183H395.4V183.8H422.6M395.4 181.3H388.9V183.4H395.4M388.6 179H388.4V182.4H388.9M422.9 184.1H422.6V184.2H422.9M422.9 184.5H422.6V184.6H422.9M422.9 184.4H422.6V184.5H422.6M422.9 184.3H422.6V184.4H422.6M422.6 184.1H412.9V184.3H422.6M422.9 184.7H422.6V184.8H422.9M412.9 184.2H403.9V184.7H422.6M422.9 185.1H422.6V185.2H422.9M422.9 185H422.6V185.1H422.6M422.9 184.9H422.6V185H422.6M422.6 185H413.8V185.3H422.9M422.9 185.6H422.6V185.7H422.9M422.9 185.5H422.6V185.6H422.6M422.9 185.4H422.6V185.6H422.6M422.6 185.5H410.6V185.8H422.9M413.8 185.1H403.3V185.6H410.6M403.9 184.5H397.1V185.4H403.3M422.9 183.9H396.8V184.9H397.1M422.9 186H422.6V186.1H422.9M422.9 185.9H412.9V186H422.6M422.9 186.2H422.6V186.3H422.9M412.9 186H406.7V186.3H422.6M396.8 184.4H392.3V186.1H406.7M422.9 186.6H422.6V186.7H422.9M422.9 186.5H422.6V186.7H422.6M422.9 186.4H421.7V186.6H422.6M422.9 186.9H422.6V187H422.9M422.9 186.8H409V187H422.6M421.7 186.5H395V186.9H409M422.9 187.2H422.6V187.3H422.9M422.9 187.1H422.6V187.3H422.6M422.6 187.2H420V187.4H422.9M422.9 187.6H422.6V187.7H422.9M422.9 187.5H422.3V187.7H422.6M422.3 187.6H404.3V187.8H422.9M420 187.3H400V187.7H404.3M395 186.7H394.8V187.5H400M394.8 187.1H393.1V187.9H422.9M392.3 185.3H391.8V187.5H393.1M388.4 180.7H385.2V186.4H391.8M367.8 141.2H367.4V183.5H385.2M422.9 188.1H422.6V188.2H422.9M422.9 188.7H422.6V188.8H422.9M422.9 188.6H422.6V188.7H422.6M422.9 188.4H422.6V188.6H422.6M422.9 188.3H422.6V188.5H422.6M422.6 188.2H406.3V188.4H422.6M422.9 188H401.4V188.3H406.3M422.9 188.9H422.6V189H422.9M422.6 188.9H412.9V189.1H422.9M422.9 189.2H422.6V189.3H422.9M422.6 189.2H422.4V189.4H422.9M422.9 189.6H422.6V189.7H422.9M422.9 189.5H422.6V189.6H422.6M422.4 189.3H419.1V189.5H422.6M422.9 189.8H422.6V189.9H422.9M419.1 189.4H414.5V189.8H422.6M412.9 189H406.1V189.6H414.5M422.9 190H407.8V190.1H422.9M406.1 189.3H402.8V190H407.8M422.9 190.2H420V190.3H422.9M402.8 189.7H402.3V190.2H420M422.9 190.4H422.6V190.5H422.9M422.6 190.4H417.1V190.6H422.9M402.3 190H400.3V190.5H417.1M401.4 188.2H398.5V190.2H400.3M422.9 190.8H422.6V190.9H422.9M422.9 190.7H422.6V190.9H422.6M422.9 191.1H422.4V191.2H422.9M422.9 191H413.4V191.2H422.4M422.6 190.8H412.1V191.1H413.4M398.5 189.2H395V190.9H412.1M422.9 191.4H422.6V191.5H422.9M422.9 191.6H422.6V191.7H422.9M422.6 191.5H420.1V191.7H422.6M422.9 191.3H415.2V191.6H420.1M422.9 191.8H422.6V191.9H422.9M415.2 191.4H414.2V191.9H422.6M422.9 192.3H422.6V192.4H422.9M422.9 192.2H422.6V192.4H422.6M422.9 192.1H422.6V192.3H422.6M422.9 192.5H422.6V192.6H422.9M422.6 192.2H422.4V192.6H422.6M422.9 192H409.6V192.4H422.4M414.2 191.7H406.4V192.2H409.6M422.9 192.7H422.6V192.8H422.9M422.9 192.9H422.6V193.1H422.9M422.6 193H416.6V193.2H422.9M422.6 192.8H408.9V193.1H416.6M408.9 192.9H406.7V193.3H422.9M422.9 193.5H422.6V193.6H422.9M422.9 193.7H420.6V193.8H422.9M422.9 193.9H422.6V194H422.9M420.6 193.7H416.7V193.9H422.6M422.6 193.5H407.5V193.8H416.7M422.9 193.4H401.4V193.7H407.5M406.7 193.1H400.2V193.5H401.4M422.9 194.2H422.6V194.3H422.9M422.9 194.1H410.2V194.2H422.6M400.2 193.3H396.4V194.2H410.2M422.9 194.4H422.6V194.5H422.9M422.6 194.4H411.4V194.6H422.9M422.9 194.7H422.6V194.8H422.9M422.9 195.1H422.6V195.2H422.9M422.9 195H422.6V195.1H422.6M422.9 194.9H422.6V195.1H422.6M422.6 194.7H414.9V195H422.6M411.4 194.5H400.8V194.9H414.9M422.9 195.4H422.6V195.5H422.9M422.9 195.6H422.6V195.7H422.9M422.6 195.5H421V195.7H422.6M422.9 195.3H417.2V195.6H421M400.8 194.7H396.8V195.4H417.2M422.9 195.9H422.6V196H422.9M422.9 195.8H422.6V196H422.6M422.9 196.8H422.6V196.9H422.9M422.9 196.7H422.6V196.9H422.6M422.9 196.6H422.6V196.8H422.6M422.9 196.5H422.6V196.7H422.6M422.9 196.4H422.6V196.6H422.6M422.9 196.3H422.6V196.5H422.6M422.9 196.2H422.6V196.4H422.6M422.9 196.1H422.6V196.3H422.6M422.6 195.9H402.2V196.2H422.6M422.9 197H413.9V197.1H422.9M413.9 197.1H402.9V197.2H422.9M422.9 197.7H422.6V197.8H422.9M422.9 197.6H422.6V197.7H422.6M422.9 197.4H420.5V197.6H422.6M422.9 197.3H403V197.5H420.5M422.9 197.9H422.6V198H422.9M403 197.4H402.7V197.9H422.6M402.9 197.2H402.2V197.7H402.7M402.2 196.1H401.4V197.4H402.2M396.8 195.1H395.9V196.7H401.4M396.4 193.7H392.6V195.9H395.9M406.4 191.9H392.1V194.8H392.6M395 190.1H391.7V193.4H392.1M422.9 198.2H422.6V198.3H422.9M422.9 198.1H422.6V198.2H422.6M422.9 198.5H422.6V198.6H422.9M422.9 198.4H422.6V198.5H422.6M422.6 198.1H414.9V198.4H422.6M422.9 198.7H422.6V198.8H422.9M422.6 198.7H419V198.9H422.9M414.9 198.3H410.7V198.8H419M410.7 198.5H402.8V199H422.9M422.9 199.1H422.6V199.2H422.9M422.6 199.1H412V199.3H422.9M422.9 199.5H422.6V199.6H422.9M422.9 199.4H422.6V199.5H422.6M422.9 199.8H422.6V199.9H422.9M422.9 199.7H422.6V199.9H422.6M422.6 199.5H418.8V199.8H422.6M412 199.2H404V199.6H418.8M402.8 198.8H402.8V199.4H404M391.7 191.7H386.5V199.1H402.8M422.9 200H422.6V200.1H422.9M422.6 200.1H420.6V200.2H422.9M422.9 200.3H422.6V200.4H422.9M422.9 200.5H422.6V200.6H422.9M422.6 200.4H413.5V200.6H422.6M422.9 200.8H422.6V200.9H422.9M422.9 200.7H422.6V200.9H422.6M422.9 201H418V201.1H422.9M422.6 200.8H413V201.1H418M413 200.9H410.8V201.2H422.9M422.9 201.3H422.6V201.4H422.9M410.8 201.1H410.4V201.4H422.6M422.9 201.6H422.6V201.7H422.9M422.9 201.5H422.6V201.7H422.6M422.9 202.1H422.6V202.2H422.9M422.9 201.9H417.8V202.1H422.6M422.9 201.8H415.5V202H417.8M415.5 201.9H413.6V202.3H422.9M422.9 202.5H422.6V202.6H422.9M422.9 202.4H422.6V202.5H422.6M422.9 202.7H422.6V202.8H422.9M422.6 202.4H419.4V202.7H422.6M413.6 202.1H408.8V202.6H419.4M422.6 201.6H407.6V202.3H408.8M410.4 201.2H402.9V202H407.6M413.5 200.5H402.9V201.6H402.9M422.9 203H422.6V203.1H422.9M422.9 202.9H413.3V203H422.6M413.3 202.9H413V203.2H422.9M422.9 203.5H422.6V203.6H422.9M422.9 203.4H422.6V203.5H422.6M422.9 203.3H411.2V203.5H422.6M422.9 203.7H422.6V203.8H422.9M411.2 203.4H410.3V203.7H422.6M422.9 204H422.6V204.1H422.9M422.9 203.9H412.1V204H422.6M422.9 204.2H422.6V204.3H422.9M422.9 204.4H417V204.5H422.9M422.6 204.2H408.6V204.5H417M412.1 204H407.4V204.4H408.6M410.3 203.6H405.3V204.2H407.4M413 203.1H405.2V203.9H405.3M402.9 201H402.8V203.5H405.2M420.6 200.1H402.2V202.2H402.8M422.9 204.9H422.6V205H422.9M422.9 204.8H422.6V205H422.6M422.9 204.7H422.6V204.9H422.6M422.6 204.8H408.4V205.1H422.9M422.9 204.6H402.6V205H408.4M422.9 205.4H422.6V205.5H422.9M422.9 205.3H422.6V205.5H422.6M422.9 205.2H422.6V205.4H422.6M402.6 204.8H396.5V205.3H422.6M422.9 205.7H422.6V205.8H422.9M422.9 205.6H422.6V205.8H422.6M396.5 205H392.9V205.7H422.6M422.9 206H408.2V206.1H422.9M422.9 205.9H400V206.1H408.2M422.9 206.2H422.6V206.3H422.9M422.6 206.3H419.3V206.4H422.9M422.9 206.7H422.6V206.8H422.9M422.9 206.6H422.6V206.7H422.6M419.3 206.4H416.6V206.6H422.6M416.6 206.5H405.2V206.9H422.9M405.2 206.7H402.3V207H422.9M422.9 207.7H422.6V207.8H422.9M422.9 207.6H422.6V207.7H422.6M422.9 207.5H422.6V207.6H422.6M422.9 207.4H422.6V207.6H422.6M422.9 207.3H422.6V207.5H422.6M422.9 207.2H422.6V207.4H422.6M422.9 207.1H422.6V207.3H422.6M402.3 206.8H397V207.2H422.6M422.9 208.3H422.6V208.4H422.9M422.9 208.2H422.6V208.3H422.6M422.9 208.1H422.6V208.3H422.6M422.9 208H422.6V208.2H422.6M422.9 208.9H422.6V209H422.9M422.9 208.8H422.6V209H422.6M422.9 208.7H422.6V208.9H422.6M422.9 208.6H422.6V208.8H422.6M422.9 208.5H422.6V208.7H422.6M422.6 208.1H419.9V208.6H422.6M422.9 207.9H410.8V208.3H419.9M397 207H396.3V208.1H410.8M422.9 209.3H422.6V209.4H422.9M422.9 209.2H422.6V209.4H422.6M422.6 209.3H416.4V209.5H422.9M416.4 209.4H411.7V209.6H422.9M422.9 209.1H406.4V209.5H411.7M422.9 209.7H404.4V209.8H422.9M422.9 210.2H422.6V210.3H422.9M422.9 210.1H422.6V210.3H422.6M422.9 210H422.6V210.2H422.6M422.9 209.9H422.6V210.1H422.6M404.4 209.8H402.6V210H422.6M406.4 209.3H398.8V209.9H402.6M396.3 207.5H393.4V209.6H398.8M400 206H392V208.6H393.4M392.9 205.4H391.8V207.3H392M422.9 210.5H422.6V210.6H422.9M422.9 210.4H420.5V210.6H422.6M422.9 210.7H422.6V210.8H422.9M422.9 210.9H422.6V211H422.9M422.6 210.8H404.8V211H422.6M422.9 211.3H422.6V211.4H422.9M422.9 211.5H422.6V211.6H422.9M422.6 211.3H420.5V211.5H422.6M420.5 211.4H410.6V211.7H422.9M422.9 211.2H405.7V211.5H410.6M404.8 210.9H399.2V211.3H405.7M420.5 210.5H398.3V211.1H399.2M422.9 211.9H422.6V212H422.9M422.9 211.8H406.9V211.9H422.6M398.3 210.8H397.7V211.8H406.9M391.8 206.3H391.6V211.3H397.7M402.2 201.2H384.5V208.8H391.6M386.5 195.4H366.2V205H384.5M367.4 162.4H360.8V200.2H366.2M422.9 212.1H422.6V212.2H422.9M422.9 212.3H422.6V212.4H422.9M422.6 212.1H413V212.3H422.6M422.9 212.6H422.6V212.7H422.9M422.9 212.5H422.6V212.6H422.6M413 212.2H401.7V212.6H422.6M422.9 212.8H422.6V212.9H422.9M422.6 212.8H412.8V213H422.9M422.9 213.1H404V213.2H422.9M412.8 212.9H401.5V213.1H404M401.7 212.4H395.3V213H401.5M422.9 213.4H418.5V213.5H422.9M422.9 213.3H405.5V213.5H418.5M422.9 213.6H419.4V213.7H422.9M422.9 214.3H422.6V214.4H422.9M422.9 214.2H422.6V214.4H422.6M422.9 214.1H422.6V214.3H422.6M422.9 214H422.6V214.2H422.6M422.9 213.9H422.6V214.1H422.6M422.9 213.8H422.6V214H422.6M422.9 214.8H422.6V214.9H422.9M422.9 214.7H422.6V214.9H422.6M422.9 214.6H422.6V214.8H422.6M422.9 214.5H422.6V214.7H422.6M422.6 213.9H413.7V214.6H422.6M419.4 213.7H404V214.3H413.7M404 214H395V215H422.9M395 214.5H394V215.1H422.9M405.5 213.4H393.2V214.8H394M395.3 212.7H393V214.1H393.2M422.9 215.2H393.5V215.3H422.9M393.5 215.3H388.1V215.4H422.9M393 213.4H385.2V215.4H388.1M422.9 215.7H422.6V215.8H422.9M422.9 215.5H422.6V215.7H422.6M385.2 214.4H383.3V215.6H422.6M422.9 216H422.6V216.1H422.9M422.9 216.5H422.6V216.6H422.9M422.9 216.4H422.6V216.5H422.6M422.9 216.3H422.6V216.4H422.6M422.9 216.2H411.1V216.4H422.6M411.1 216.3H409.2V216.7H422.9M422.6 216H405V216.5H409.2M405 216.2H400V216.8H422.9M422.9 215.9H394.4V216.5H400M422.9 217H422.6V217.1H422.9M422.9 216.9H422.6V217H422.6M394.4 216.2H393.4V217H422.6M422.9 217.2H419.4V217.3H422.9M419.4 217.2H414.2V217.4H422.9M422.9 217.6H411.5V217.7H422.9M422.9 217.9H422.6V218H422.9M422.9 217.8H422.6V218H422.6M411.5 217.6H406.6V217.9H422.6M406.6 217.8H403.4V218.1H422.9M422.9 217.5H399.3V217.9H403.4M414.2 217.3H397.5V217.7H399.3M393.4 216.6H386.7V217.5H397.5M422.9 218.2H397.7V218.3H422.9M386.7 217H386.3V218.3H397.7M422.9 218.4H421.4V218.5H422.9M422.9 218.6H422.6V218.7H422.9M422.9 218.8H422.6V218.9H422.9M422.6 218.7H408.4V218.9H422.6M421.4 218.5H404.9V218.8H408.4M422.9 219H413.2V219.1H422.9M404.9 218.6H398.2V219.1H413.2M422.9 219.4H422.6V219.5H422.9M422.9 219.3H422.6V219.5H422.6M422.9 219.2H422.6V219.4H422.6M422.6 219.3H411.7V219.6H422.9M411.7 219.5H400V219.7H422.9M422.9 219.8H408.3V219.9H422.9M400 219.6H399V219.9H408.3M398.2 218.8H397.9V219.8H399M422.9 220.3H422.6V220.4H422.9M422.9 220.2H422.6V220.3H422.6M422.6 220.2H410.7V220.5H422.9M422.9 220H391V220.3H410.7M422.9 220.8H422.6V220.9H422.9M422.9 220.7H422.6V220.8H422.6M422.9 220.6H409.5V220.7H422.6M409.5 220.7H399.3V221H422.9M391 220.2H390.7V220.8H399.3M397.9 219.3H385.5V220.5H390.7M386.3 217.7H385.4V219.9H385.5M383.3 215H382V218.8H385.4M422.9 221.1H422.6V221.2H422.9M422.9 221.7H422.6V221.8H422.9M422.9 221.6H422.6V221.7H422.6M422.9 221.5H422.6V221.7H422.6M422.9 221.4H422.6V221.6H422.6M422.6 221.5H415.3V221.9H422.9M422.9 222.1H422.6V222.2H422.9M422.9 222H402.3V222.1H422.6M415.3 221.7H400.2V222.1H402.3M422.9 222.3H422.6V222.4H422.9M422.6 222.4H414.8V222.5H422.9M414.8 222.4H412.3V222.6H422.9M400.2 221.9H397.7V222.5H412.3M422.9 221.3H386.8V222.2H397.7M422.9 222.7H422.6V222.8H422.9M422.9 223H422.6V223.1H422.9M422.9 222.9H422.6V223.1H422.6M422.6 222.8H409.9V223H422.6M386.8 221.7H383.4V222.9H409.9M422.6 221.1H383.1V222.3H383.4M422.9 223.6H422.6V223.7H422.9M422.9 223.5H422.6V223.7H422.6M422.9 223.4H422.6V223.6H422.6M422.9 223.3H422.6V223.5H422.6M422.6 223.4H412.6V223.8H422.9M422.9 223.2H394.5V223.6H412.6M422.9 223.9H422.6V224H422.9M422.6 224H413.9V224.1H422.9M413.9 224.1H413.7V224.2H422.9M422.9 224.3H422.6V224.4H422.9M422.9 224.7H422.6V224.8H422.9M422.9 224.5H422.6V224.7H422.6M422.9 225.1H422.6V225.2H422.9M422.9 225H422.6V225.1H422.6M422.9 224.9H422.6V225H422.6M422.6 224.6H410.1V224.9H422.6M422.9 225.5H422.6V225.6H422.9M422.9 225.4H422.6V225.5H422.6M422.9 225.3H416.1V225.4H422.6M410.1 224.8H403.3V225.4H416.1M422.9 225.7H422.6V225.8H422.9M422.6 225.7H418.6V225.9H422.9M418.6 225.8H405.2V226H422.9M405.2 225.9H400.7V226.1H422.9M403.3 225.1H397.3V226H400.7M397.3 225.5H396V226.2H422.9M422.9 226.4H422.6V226.5H422.9M422.9 226.3H422.6V226.4H422.6M422.9 226.7H422.6V226.8H422.9M422.9 226.6H422.6V226.7H422.6M422.9 226.9H418V227H422.9M422.6 226.7H416.8V227H418M422.9 227.1H422.6V227.2H422.9M422.9 227.5H422.6V227.6H422.9M422.9 227.4H422.6V227.6H422.6M422.9 227.3H422.6V227.5H422.6M422.9 227.7H422.6V227.8H422.9M422.6 227.4H420.4V227.8H422.6M422.6 227.2H399.8V227.6H420.4M416.8 226.8H399.5V227.4H399.8M422.6 226.4H394.6V227.1H399.5M422.9 228.1H422.6V228.2H422.9M422.9 228H422.6V228.2H422.6M422.9 227.9H403.1V228.1H422.6M422.9 228.3H415.2V228.4H422.9M415.2 228.4H409.2V228.5H422.9M403.1 228H399.6V228.5H409.2M394.6 226.7H394.4V228.2H399.6M396 225.9H394.2V227.5H394.4M422.9 228.6H422.6V228.7H422.9M422.9 228.8H417.7V228.9H422.9M422.6 228.7H400.4V228.9H417.7M422.9 229H422.6V229.2H422.9M422.6 229.1H408.7V229.3H422.9M422.9 229.4H422.6V229.5H422.9M408.7 229.2H396.1V229.4H422.6M422.9 229.6H422.6V229.7H422.9M422.9 229.9H422.6V230H422.9M422.9 229.8H422.6V229.9H422.6M422.9 230.1H422.6V230.2H422.9M422.6 230.1H404.7V230.3H422.9M422.9 230.4H422.6V230.5H422.9M404.7 230.2H401.9V230.4H422.6M422.6 229.8H398.5V230.3H401.9M422.6 229.6H396.9V230.1H398.5M396.1 229.3H394.9V229.8H396.9M400.4 228.8H394.5V229.6H394.9M422.9 230.6H410.7V230.7H422.9M394.5 229.2H394.4V230.6H410.7M394.2 226.7H393.8V229.9H394.4M422.9 231.1H422.6V231.2H422.9M422.9 231H422.6V231.1H422.6M422.9 230.9H422.6V231.1H422.6M422.6 231H416.1V231.3H422.9M422.9 231.6H422.6V231.7H422.9M422.9 231.5H422.6V231.7H422.6M422.9 231.4H422.6V231.6H422.6M416.1 231.1H404.4V231.5H422.6M422.9 230.8H398V231.3H404.4M422.9 231.8H422.6V231.9H422.9M422.6 231.9H407.2V232H422.9M407.2 231.9H407.1V232.1H422.9M422.9 232.3H422.6V232.4H422.9M422.9 232.2H422.6V232.4H422.6M407.1 232H399.8V232.3H422.6M422.9 232.5H416.6V232.6H422.9M399.8 232.2H396.1V232.6H416.6M398 231.1H392.8V232.4H396.1M393.8 228.3H392.5V231.7H392.8M422.9 232.8H422.6V232.9H422.9M422.9 232.7H422.6V232.9H422.6M422.9 233.1H418V233.2H422.9M422.9 233.3H407.3V233.4H422.9M418 233.2H407V233.4H407.3M422.9 233H404.9V233.3H407M422.6 232.8H393.1V233.2H404.9M392.5 230H391.9V233H393.1M422.6 224.4H391.1V231.5H391.9M413.7 224.2H390.8V227.9H391.1M394.5 223.4H387.9V226H390.8M422.9 233.5H422.6V233.7H422.9M422.9 233.8H422.6V233.9H422.9M422.9 234.2H422.6V234.3H422.9M422.9 234.1H422.2V234.2H422.6M422.9 234H410.2V234.1H422.2M422.6 233.8H399V234H410.2M422.6 233.6H395.4V233.9H399M422.9 234.4H411.3V234.5H422.9M422.9 234.7H422.6V234.8H422.9M422.6 234.7H411V234.9H422.9M422.9 234.6H408.7V234.8H411M411.3 234.4H408.5V234.7H408.7M408.5 234.6H392.7V235H422.9M395.4 233.8H392.4V234.8H392.7M422.9 235.3H422.6V235.4H422.9M422.9 235.2H422.6V235.3H422.6M422.9 235.1H401.9V235.3H422.6M422.9 235.5H422.6V235.6H422.9M422.6 235.5H415.3V235.7H422.9M415.3 235.6H409.5V235.8H422.9M401.9 235.2H397.3V235.7H409.5M422.9 235.9H422.6V236H422.9M422.9 236.1H422.6V236.2H422.9M422.9 236.6H422.6V236.7H422.9M422.9 236.5H422.6V236.7H422.6M422.9 236.4H422.6V236.6H422.6M422.9 236.3H422.6V236.5H422.6M422.6 236.2H422.5V236.4H422.6M422.6 236H417.2V236.3H422.5M422.9 237H422.6V237.1H422.9M422.9 236.9H422.6V237.1H422.6M422.9 236.8H411.6V237H422.6M417.2 236.1H398.8V236.9H411.6M422.9 237.2H422.6V237.3H422.9M398.8 236.5H397.3V237.3H422.6M422.9 237.5H422.6V237.6H422.9M422.9 237.4H413.9V237.6H422.6M397.3 236.9H393.5V237.5H413.9M397.3 235.4H392.5V237.2H393.5M392.4 234.3H392V236.3H392.5M422.9 237.8H422.6V237.9H422.9M422.6 237.9H398.4V238H422.9M422.9 237.7H398.4V238H398.4M422.9 238.5H422.6V238.6H422.9M422.9 238.4H422.6V238.5H422.6M422.9 238.3H422.6V238.4H422.6M422.9 238.2H422.6V238.3H422.6M398.4 237.9H397.9V238.2H422.6M422.9 238.7H422.6V238.8H422.9M422.9 239H422.6V239.1H422.9M422.9 238.9H422.6V239H422.6M422.6 238.7H412V238.9H422.6M422.9 239.3H422.6V239.4H422.9M422.6 239.3H412.4V239.5H422.9M422.9 239.2H407.6V239.4H412.4M412 238.8H399.6V239.3H407.6M397.9 238.1H392.5V239.1H399.6M422.9 239.6H392V239.7H422.9M392.5 238.6H391.8V239.6H392M392 235.3H391.2V239.1H391.8M387.9 224.7H382.9V237.2H391.2M383.1 221.7H382.5V231H382.9M422.9 239.9H422.6V240H422.9M422.9 239.8H422.6V239.9H422.6M422.6 239.9H421.9V240.1H422.9M422.9 240.2H422.6V240.3H422.9M422.6 240.2H422.1V240.4H422.9M421.9 240H421.1V240.3H422.1M421.1 240.2H405.3V240.5H422.9M422.9 240.6H422.6V240.7H422.9M422.9 240.9H422.6V241H422.9M422.9 240.8H422.6V241H422.6M422.9 241.1H422.6V241.2H422.9M422.6 240.9H420.3V241.2H422.6M422.9 241.4H422.6V241.5H422.9M422.9 241.3H422.1V241.5H422.6M420.3 241H409.5V241.4H422.1M422.6 240.7H407V241.2H409.5M405.3 240.3H395.2V240.9H407M422.9 242H422.6V242.1H422.9M422.9 241.9H422.6V242.1H422.6M422.9 241.8H422.6V242H422.6M422.9 241.7H422.6V241.9H422.6M422.6 241.8H410.6V242.2H422.9M422.9 241.6H395.7V242H410.6M395.2 240.6H394.5V241.8H395.7M422.9 242.7H422.6V242.8H422.9M422.9 242.5H422.6V242.7H422.6M422.9 242.4H409V242.6H422.6M422.9 242.3H408V242.5H409M422.9 243H402.9V243.1H422.9M422.9 242.9H397.7V243H402.9M408 242.4H396.8V242.9H397.7M422.9 243.2H407.4V243.3H422.9M422.9 243.4H422.6V243.5H422.9M407.4 243.2H402.7V243.4H422.6M402.7 243.3H399.7V243.6H422.9M396.8 242.7H396.7V243.4H399.7M394.5 241.2H392.3V243.1H396.7M422.9 243.8H416.7V243.9H422.9M422.9 243.7H396.5V243.8H416.7M422.9 244.1H422.6V244.2H422.9M422.9 244H422.6V244.1H422.6M422.9 244.4H422.6V244.5H422.9M422.9 244.3H422.6V244.4H422.6M422.6 244.1H411.2V244.4H422.6M422.9 244.7H422.6V244.8H422.9M422.9 244.6H422.6V244.7H422.6M411.2 244.2H408.4V244.7H422.6M422.9 245H422.6V245.1H422.9M422.9 244.9H422.6V245.1H422.6M422.9 245.2H421.6V245.3H422.9M422.6 245H409.6V245.3H421.6M422.9 245.7H422.6V245.8H422.9M422.9 245.6H422.6V245.8H422.6M422.9 245.5H422.6V245.7H422.6M422.9 245.4H422.6V245.6H422.6M422.6 245.5H408.8V245.9H422.9M422.9 246.1H422.6V246.2H422.9M422.9 246H422.6V246.2H422.6M408.8 245.7H405.7V246.1H422.6M422.9 246.5H422.6V246.6H422.9M422.9 246.4H422.6V246.6H422.6M422.9 246.3H422.6V246.5H422.6M405.7 245.9H404.9V246.4H422.6M404.9 246.2H403.7V246.7H422.9M422.9 246.8H422.6V246.9H422.9M403.7 246.5H403.4V246.9H422.6M409.6 245.1H402.7V246.7H403.4M408.4 244.4H402.2V245.9H402.7M396.5 243.7H393.6V245.2H402.2M422.9 247H409.8V247.1H422.9M422.9 247.8H422.6V247.9H422.9M422.9 247.7H422.6V247.8H422.6M422.9 247.6H422.6V247.7H422.6M422.9 247.5H422.6V247.6H422.6M422.6 247.6H415.6V248H422.9M422.9 247.4H415.3V247.8H415.6M422.9 247.3H407.9V247.6H415.3M409.8 247.1H407.7V247.4H407.9M422.9 248.1H422.6V248.2H422.9M422.9 248.5H422.6V248.6H422.9M422.9 248.4H422.6V248.5H422.6M422.9 248.3H410.8V248.5H422.6M422.6 248.1H407.4V248.4H410.8M407.7 247.3H405.1V248.2H407.4M422.9 248.7H400.1V248.8H422.9M422.9 249H422.6V249.1H422.9M422.6 249H416.2V249.2H422.9M422.9 248.9H411.4V249.1H416.2M400.1 248.7H399.7V249H411.4M422.9 249.3H422.6V249.4H422.9M399.7 248.9H399.4V249.3H422.6M422.9 249.7H422.6V249.8H422.9M422.9 249.6H419.8V249.8H422.6M419.8 249.7H410.2V249.9H422.9M422.9 250H407.8V250.1H422.9M410.2 249.8H405.3V250.1H407.8M422.9 249.5H403.5V249.9H405.3M422.9 250.6H422.6V250.7H422.9M422.9 250.5H422.6V250.7H422.6M422.9 250.4H422.6V250.6H422.6M422.9 250.3H422.6V250.5H422.6M422.9 250.2H408.8V250.4H422.6M422.9 250.8H422.6V250.9H422.9M408.8 250.3H404.4V250.9H422.6M403.5 249.7H399.1V250.6H404.4M399.4 249.1H397.5V250.2H399.1M405.1 247.7H397.3V249.6H397.5M422.9 251H422.6V251.1H422.9M422.9 251.3H422.6V251.4H422.9M422.9 251.2H422.6V251.4H422.6M422.6 251.1H402.3V251.3H422.6M422.9 251.9H422.6V252H422.9M422.9 251.8H422.6V251.9H422.6M422.9 251.6H422.6V251.8H422.6M422.9 251.5H422.6V251.7H422.6M402.3 251.2H401.2V251.6H422.6M397.3 248.7H393.8V251.4H401.2M393.6 244.5H379.3V250.1H393.8M392.3 242.1H377.5V247.3H379.3M382.5 226.3H366.9V244.7H377.5M382 216.9H359.5V235.5H366.9M422.9 252.3H422.6V252.4H422.9M422.9 252.2H422.6V252.3H422.6M422.9 252.1H415.7V252.2H422.6M415.7 252.1H411.9V252.5H422.9M422.9 252.6H411.9V252.7H422.9M422.9 252.9H422.6V253H422.9M422.9 252.8H422.6V252.9H422.6M422.9 253.1H422.6V253.2H422.9M422.6 252.9H417.6V253.1H422.6M422.9 253.5H422.6V253.6H422.9M422.9 253.4H422.6V253.5H422.6M422.9 253.3H422.6V253.5H422.6M422.6 253.4H422.6V253.7H422.9M422.9 254.6H422.6V254.7H422.9M422.9 254.5H422.6V254.7H422.6M422.9 254.4H422.6V254.6H422.6M422.9 254.3H422.6V254.5H422.6M422.9 254.2H422.6V254.4H422.6M422.9 254.1H422.6V254.3H422.6M422.9 254H422.6V254.2H422.6M422.9 253.9H422.6V254.1H422.6M422.9 253.8H418.4V254H422.6M422.6 253.5H417.5V253.9H418.4M417.6 253H409.2V253.7H417.5M411.9 252.6H406.8V253.4H409.2M411.9 252.3H403.4V253H406.8M422.9 254.8H411V254.9H422.9M422.9 255.2H422.6V255.3H422.9M422.9 255.1H422.6V255.3H422.6M422.6 255.2H406.5V255.4H422.9M422.9 255H403V255.3H406.5M411 254.9H400.9V255.2H403M403.4 252.6H396.1V255H400.9M422.9 255.6H422.6V255.7H422.9M422.9 255.5H422.6V255.7H422.6M422.9 255.8H422.6V255.9H422.9M422.9 256.4H422.6V256.5H422.9M422.9 256.3H422.6V256.4H422.6M422.9 256.1H422.6V256.3H422.6M422.9 256H422.6V256.2H422.6M422.6 255.9H391.7V256.1H422.6M422.6 255.6H391.1V256H391.7M396.1 253.8H390.8V255.8H391.1M422.9 256.6H422.6V256.7H422.9M422.9 256.9H422.6V257H422.9M422.9 256.8H422.6V256.9H422.6M422.9 257.1H422.6V257.2H422.9M422.6 256.8H410.1V257.1H422.6M422.9 257.3H411.1V257.4H422.9M410.1 257H408.3V257.3H411.1M422.9 257.6H422.6V257.7H422.9M422.9 257.5H404.7V257.6H422.6M408.3 257.2H397V257.6H404.7M422.9 257.8H422.6V257.9H422.9M422.6 257.8H396.9V258H422.9M397 257.4H392.6V257.9H396.9M422.9 258.7H422.6V258.8H422.9M422.9 258.6H422.6V258.8H422.6M422.9 258.5H422.6V258.7H422.6M422.9 258.4H422.6V258.6H422.6M422.9 258.3H422.6V258.5H422.6M422.9 258.2H422.6V258.4H422.6M422.9 258.1H422.6V258.3H422.6M422.9 259.2H422.6V259.3H422.9M422.9 259.1H422.6V259.3H422.6M422.9 259H422.6V259.2H422.6M422.9 258.9H422.6V259.1H422.6M422.6 258.2H399.5V259H422.6M392.6 257.6H390.8V258.6H399.5M422.6 256.6H385.7V258.1H390.8M422.9 259.4H422.6V259.5H422.9M422.6 259.5H388.4V259.6H422.9M385.7 257.4H384.8V259.5H388.4M390.8 254.8H384.3V258.5H384.8M422.9 259.9H422.6V260H422.9M422.9 259.8H422.6V260H422.6M422.9 259.7H422.6V259.9H422.6M422.9 260.1H422.6V260.2H422.9M422.9 260.6H422.6V260.8H422.9M422.9 260.5H422.6V260.7H422.6M422.9 260.4H422.6V260.6H422.6M422.9 260.3H422.6V260.5H422.6M422.6 260.2H408.1V260.4H422.6M422.6 259.8H396.1V260.3H408.1M422.9 260.9H422.6V261H422.9M396.1 260.1H385.4V260.9H422.6M422.9 261.1H422.6V261.2H422.9M422.6 261.1H400.8V261.3H422.9M422.9 261.6H422.6V261.7H422.9M422.9 261.5H422.6V261.6H422.6M422.9 261.4H405V261.5H422.6M422.9 261.8H422.6V261.9H422.9M405 261.5H404.8V261.8H422.6M400.8 261.2H394.4V261.6H404.8M394.4 261.4H393.1V262H422.9M422.9 262.2H416.5V262.3H422.9M416.5 262.2H404.2V262.4H422.9M422.9 262.1H394.7V262.3H404.2M393.1 261.7H390.5V262.2H394.7M385.4 260.5H384.1V261.9H390.5M384.3 256.6H383.8V261.2H384.1M422.9 262.5H422.6V262.6H422.9M422.6 262.5H396.7V262.7H422.9M422.9 262.9H422.6V263H422.9M422.9 262.8H422.6V263H422.6M422.9 263.1H404.7V263.2H422.9M422.9 263.3H391.8V263.4H422.9M404.7 263.2H391.2V263.4H391.8M422.6 262.9H389.9V263.3H391.2M396.7 262.6H387.8V263.1H389.9M422.9 263.6H393.6V263.7H422.9M422.9 263.5H391.9V263.7H393.6M387.8 262.8H387V263.6H391.9M422.9 263.8H385.1V263.9H422.9M387 263.2H383.5V263.9H385.1M422.9 264H419.4V264.1H422.9M419.4 264.1H417.3V264.2H422.9M422.9 264.3H422.6V264.4H422.9M417.3 264.2H401.6V264.4H422.6M401.6 264.3H400.1V264.5H422.9M422.9 264.7H422.6V264.8H422.9M422.9 264.6H422.6V264.8H422.6M400.1 264.4H385.9V264.7H422.6M422.9 265H422.6V265.1H422.9M422.9 264.9H422.6V265.1H422.6M385.9 264.6H382.4V265H422.6M383.5 263.5H382.1V264.8H382.4M383.8 258.9H382.1V264.2H382.1M359.5 226.2H354.5V261.5H382.1M360.8 181.3H349.6V243.9H354.5"/><text x="61.4" y="289.9" font-size="12.36">Principal component analysis</text><rect x="47.5" y="301.2" width="220.8" height="142.7" fill="none" stroke="#555" stroke-width="0.9"/><text x="49.3" y="459.5" font-size="7" font-weight="bold" text-anchor="middle" fill="#222">-40</text><text x="83.4" y="459.5" font-size="7" font-weight="bold" text-anchor="middle" fill="#222">-30</text><text x="117.6" y="459.5" font-size="7" font-weight="bold" text-anchor="middle" fill="#222">-20</text><text x="151.6" y="459.5" font-size="7" font-weight="bold" text-anchor="middle" fill="#222">-10</text><text x="185.9" y="459.5" font-size="7" font-weight="bold" text-anchor="middle" fill="#222">0</text><text x="220.4" y="459.5" font-size="7" font-weight="bold" text-anchor="middle" fill="#222">10</text><text x="255.1" y="459.5" font-size="7" font-weight="bold" text-anchor="middle" fill="#222">20</text><text transform="translate(37.3,336.5) rotate(-90)" font-size="7" font-weight="bold" text-anchor="middle" fill="#222">10</text><text transform="translate(37.3,371.3) rotate(-90)" font-size="7" font-weight="bold" text-anchor="middle" fill="#222">0</text><text transform="translate(37.3,407.3) rotate(-90)" font-size="7" font-weight="bold" text-anchor="middle" fill="#222">-10</text><text transform="translate(37.3,443.3) rotate(-90)" font-size="7" font-weight="bold" text-anchor="middle" fill="#222">-20</text><path stroke="#444" stroke-width="0.9" fill="none" d="M49.3 443.9v4.5M83.4 443.9v4.5M117.6 443.9v4.5M151.6 443.9v4.5M185.9 443.9v4.5M220.4 443.9v4.5M255.1 443.9v4.5M47.5 336.5h-4.4M47.5 371.3h-4.4M47.5 407.3h-4.4M47.5 443.3h-4.4"/><text transform="translate(22.1,379.7) rotate(-90)" font-size="12.5" text-anchor="middle">PC2:11% Variance</text><text x="97.6" y="476.3" font-size="12.5">PC1: 33% Variance</text><path fill="#ef7a80" d="M55.8 312.1L60 319.3H51.6Z"/><path fill="#ef7a80" d="M94.3 323.5L98.5 330.7H90.1Z"/><path fill="#ef7a80" d="M179.7 421.2L183.9 428.4H175.5Z"/><circle cx="89.1" cy="438.8" r="3.4" fill="#ef7a80"/><circle cx="128" cy="431.4" r="3.4" fill="#ef7a80"/><path fill="#8b1c62" d="M105.5 327L109.7 334.2H101.3Z"/><path fill="#8b1c62" d="M182.3 357.7L186.5 364.9H178.1Z"/><path fill="#8b1c62" d="M240.9 382.7L245.1 389.9H236.7Z"/><path fill="#8b1c62" d="M254.6 384L258.8 391.2H250.4Z"/><circle cx="208.3" cy="387.2" r="3.4" fill="#8b1c62"/><circle cx="236.7" cy="356.5" r="3.4" fill="#8b1c62"/><circle cx="248" cy="346.2" r="3.4" fill="#8b1c62"/><circle cx="260.4" cy="345.4" r="3.4" fill="#8b1c62"/><circle cx="259.8" cy="306.3" r="3.4" fill="#8b1c62"/><circle cx="245.7" cy="417.7" r="3.4" fill="#8b1c62"/><path fill="#000" d="M274.2 304.3L279.5 314.8H268.9Z"/><circle cx="274.2" cy="327.6" r="5.9" fill="#000"/><circle cx="274.2" cy="346" r="5.9" fill="#b44b8c"/><circle cx="274.2" cy="366" r="5.9" fill="#f08a96"/><text x="286.9" y="313.6" font-size="12.5">male</text><text x="287.9" y="332.1" font-size="12.5">female</text><text x="284" y="350.2" font-size="12.5">pwCD</text><text x="283.6" y="370.8" font-size="12.5">pwWD</text><text x="270.3" y="390.9" font-size="12.4">PC1</text><text x="270.8" y="405.6" font-size="12.4">correlated</text><text x="271.3" y="420.7" font-size="12.4">with Group</text><text x="270.6" y="435" font-size="12.4">(<tspan font-style="italic">P</tspan> = 0.012)</text><text x="109.9" y="500.4" font-size="12.45">Model: ~PW Diet</text><path stroke="#111" stroke-width="1.2" d="M9.2 504.8H327.6M9.9 525.2H325.9"/><text x="79.3" y="521.5" font-size="13.7">Comparison</text><text x="255.6" y="521.4" font-size="13.8">Up</text><text x="290.5" y="521.4" font-size="13.8">Down</text><text x="10.2" y="541.3" font-size="13.6">pwWD vs pwCD</text><text x="251.1" y="541.1" font-size="13.4" font-weight="bold">287</text><text x="302.6" y="541.1" font-size="13.5" font-weight="bold">497</text><text x="398.1" y="294.6" font-size="12.38">Principal component analysis (PCA)</text><rect x="374.9" y="302.8" width="220.1" height="141.4" fill="none" stroke="#555" stroke-width="0.9"/><text x="382" y="459.8" font-size="7" font-weight="bold" text-anchor="middle" fill="#222">-20</text><text x="416.2" y="459.8" font-size="7" font-weight="bold" text-anchor="middle" fill="#222">-10</text><text x="448.5" y="459.8" font-size="7" font-weight="bold" text-anchor="middle" fill="#222">0</text><text x="481.9" y="459.8" font-size="7" font-weight="bold" text-anchor="middle" fill="#222">10</text><text x="515.7" y="459.8" font-size="7" font-weight="bold" text-anchor="middle" fill="#222">20</text><text x="549.1" y="459.8" font-size="7" font-weight="bold" text-anchor="middle" fill="#222">30</text><text x="582.4" y="459.8" font-size="7" font-weight="bold" text-anchor="middle" fill="#222">40</text><text transform="translate(364.7,311.5) rotate(-90)" font-size="7" font-weight="bold" text-anchor="middle" fill="#222">20</text><text transform="translate(364.7,342.3) rotate(-90)" font-size="7" font-weight="bold" text-anchor="middle" fill="#222">10</text><text transform="translate(364.7,372.5) rotate(-90)" font-size="7" font-weight="bold" text-anchor="middle" fill="#222">0</text><text transform="translate(364.7,403.4) rotate(-90)" font-size="7" font-weight="bold" text-anchor="middle" fill="#222">-10</text><text transform="translate(364.7,433.8) rotate(-90)" font-size="7" font-weight="bold" text-anchor="middle" fill="#222">-20</text><path stroke="#444" stroke-width="0.9" fill="none" d="M382 444.2v4.5M416.2 444.2v4.5M448.5 444.2v4.5M481.9 444.2v4.5M515.7 444.2v4.5M549.1 444.2v4.5M582.4 444.2v4.5M374.9 311.5h-4.4M374.9 342.3h-4.4M374.9 372.5h-4.4M374.9 403.4h-4.4M374.9 433.8h-4.4"/><text transform="translate(358.3,373) rotate(-90)" font-size="12.6" text-anchor="middle">PC2:11% Variance</text><text x="425.7" y="471.6" font-size="12.47">PC1: 19% Variance</text><path fill="#9eecfa" d="M484 310.9L488.2 318.1H479.8Z"/><path fill="#9eecfa" d="M430.1 339.8L434.3 347H425.9Z"/><path fill="#9eecfa" d="M463 354.5L467.2 361.7H458.8Z"/><path fill="#9eecfa" d="M407.3 375L411.5 382.2H403.1Z"/><path fill="#9eecfa" d="M424.1 376.1L428.3 383.3H419.9Z"/><path fill="#9eecfa" d="M422 389.9L426.2 397.1H417.8Z"/><path fill="#9eecfa" d="M428.5 399.9L432.7 407.1H424.3Z"/><circle cx="478.7" cy="389.7" r="3.4" fill="#9eecfa"/><circle cx="382.8" cy="419.1" r="3.4" fill="#9eecfa"/><circle cx="587.8" cy="350.8" r="3.4" fill="#9eecfa"/><circle cx="429.9" cy="308.1" r="3.4" fill="#228b22"/><circle cx="421.4" cy="328.3" r="3.4" fill="#228b22"/><circle cx="430.1" cy="358.8" r="3.4" fill="#228b22"/><circle cx="419.5" cy="372.2" r="3.4" fill="#228b22"/><circle cx="425.9" cy="395.5" r="3.4" fill="#228b22"/><path fill="#228b22" d="M454.1 366.9L458.3 374.1H449.9Z"/><path fill="#228b22" d="M433.3 391.2L437.5 398.4H429.1Z"/><path fill="#228b22" d="M557.5 433.7L561.7 440.9H553.3Z"/><path fill="#000" d="M608.6 308.5L613.9 319H603.3Z"/><circle cx="608.6" cy="332.4" r="5.9" fill="#000"/><circle cx="606.7" cy="352.7" r="5.9" fill="#8ed6ef"/><circle cx="606.7" cy="374.3" r="5.9" fill="#3d9a4a"/><text x="620.9" y="318" font-size="12.5">male</text><text x="622" y="336.7" font-size="12.5">female</text><text x="616.3" y="358.1" font-size="12.5">pwCD</text><text x="615.9" y="379.2" font-size="12.5">pwWD</text><text x="602.8" y="407.1" font-size="12.41">PC correlation</text><text x="603.1" y="422.4" font-size="12.45">(<tspan font-style="italic">P</tspan> = n.s.)</text><text x="449.9" y="500.4" font-size="12.45">Model: ~PW Diet</text><path stroke="#111" stroke-width="1.2" d="M348.2 504.8H666.6M349.9 525.2H665.3"/><text x="419.3" y="521.5" font-size="13.7">Comparison</text><text x="595.5" y="521.4" font-size="13.8">Up</text><text x="630.1" y="521.4" font-size="13.8">Down</text><text x="349.7" y="541.3" font-size="13.6">pwWD vs pwCD</text><text x="605.3" y="541.1" font-size="13.6">0</text><text x="657.7" y="541.1" font-size="13.6">0</text><g filter="url(#hb)"><path fill="#8282ff" d="M81.8 563.5h11.9v1h-11.9zM81.8 579.5h11.9v1h-11.9zM81.8 582.5h11.9v1h-11.9zM81.8 607.5h11.9v1h-11.9zM81.8 617.5h11.9v1h-11.9zM81.8 623.5h11.9v1h-11.9zM81.8 676.5h11.9v2h-11.9zM81.8 696.6h11.9v1h-11.9zM81.8 700.6h11.9v1h-11.9zM81.8 702.6h11.9v1h-11.9zM81.8 709.6h11.9v1h-11.9zM117.4 730.6h11.9v1h-11.9zM117.4 742.6h11.9v1h-11.9zM129.2 776.6h11.9v1h-11.9zM129.2 781.6h11.9v1h-11.9zM141.1 728.6h11.9v1h-11.9zM141.1 747.6h11.9v1h-11.9zM141.1 783.6h11.9v1h-11.9zM153 729.6h11.9v1h-11.9zM164.8 739.6h11.9v1h-11.9zM164.8 750.6h11.9v1h-11.9zM164.8 766.6h11.9v1h-11.9zM188.5 761.6h11.9v1h-11.9zM200.4 565.5h11.9v2h-11.9zM200.4 575.5h11.9v1h-11.9zM200.4 612.5h11.9v1h-11.9zM200.4 635.5h11.9v1h-11.9zM200.4 672.5h11.9v1h-11.9zM200.4 677.5h11.9v1h-11.9zM200.4 702.6h11.9v1h-11.9zM200.4 708.6h11.9v1h-11.9zM200.4 710.6h11.9v1h-11.9zM212.3 592.5h11.9v1h-11.9zM212.3 598.5h11.9v1h-11.9zM212.3 607.5h11.9v2h-11.9zM212.3 623.5h11.9v1h-11.9zM212.3 637.5h11.9v1h-11.9zM212.3 647.5h11.9v1h-11.9zM212.3 664.5h11.9v1h-11.9zM212.3 670.5h11.9v1h-11.9zM212.3 672.5h11.9v1h-11.9zM212.3 706.6h11.9v1h-11.9zM236 569.5h11.9v1h-11.9zM236 583.5h11.9v1h-11.9zM236 630.5h11.9v1h-11.9zM236 634.5h11.9v1h-11.9zM236 639.5h11.9v1h-11.9zM236 652.5h11.9v1h-11.9zM236 657.5h11.9v1h-11.9zM236 683.5h11.9v1h-11.9zM236 704.6h11.9v1h-11.9zM247.8 563.5h11.9v1h-11.9zM247.8 584.5h11.9v1h-11.9zM247.8 607.5h11.9v1h-11.9zM247.8 614.5h11.9v1h-11.9zM247.8 628.5h11.9v1h-11.9zM247.8 646.5h11.9v1h-11.9zM247.8 692.6h11.9v1h-11.9zM247.8 695.6h11.9v1h-11.9zM247.8 704.6h11.9v1h-11.9zM247.8 710.6h11.9v1h-11.9zM247.8 717.6h11.9v1h-11.9z"/><path fill="#ffeded" d="M81.8 633.5h11.9v1h-11.9zM81.8 742.6h11.9v1h-11.9zM81.8 745.6h11.9v1h-11.9zM81.8 752.6h11.9v1h-11.9zM81.8 772.6h11.9v1h-11.9zM81.8 776.6h11.9v1h-11.9zM93.7 563.5h11.9v1h-11.9zM93.7 567.5h11.9v1h-11.9zM93.7 574.5h11.9v2h-11.9zM93.7 598.5h11.9v1h-11.9zM93.7 601.5h11.9v1h-11.9zM93.7 614.5h11.9v1h-11.9zM93.7 643.5h11.9v2h-11.9zM93.7 692.6h11.9v1h-11.9zM93.7 724.6h11.9v1h-11.9zM93.7 737.6h11.9v1h-11.9zM93.7 739.6h11.9v1h-11.9zM93.7 746.6h11.9v2h-11.9zM93.7 763.6h11.9v1h-11.9zM93.7 767.6h11.9v1h-11.9zM93.7 773.6h11.9v1h-11.9zM93.7 776.6h11.9v2h-11.9zM93.7 788.6h11.9v1h-11.9zM105.5 564.5h11.9v1h-11.9zM105.5 571.5h11.9v1h-11.9zM105.5 589.5h11.9v1h-11.9zM105.5 594.5h11.9v1h-11.9zM105.5 596.5h11.9v1h-11.9zM105.5 611.5h11.9v1h-11.9zM105.5 642.5h11.9v1h-11.9zM105.5 649.5h11.9v1h-11.9zM105.5 658.5h11.9v1h-11.9zM105.5 693.6h11.9v1h-11.9zM105.5 705.6h11.9v1h-11.9zM105.5 713.6h11.9v1h-11.9zM105.5 715.6h11.9v1h-11.9zM105.5 747.6h11.9v1h-11.9zM105.5 767.6h11.9v1h-11.9zM105.5 777.6h11.9v1h-11.9zM105.5 803.6h11.9v1h-11.9zM117.4 563.5h11.9v1h-11.9zM117.4 613.5h11.9v1h-11.9zM117.4 625.5h11.9v1h-11.9zM117.4 636.5h11.9v1h-11.9zM117.4 669.5h11.9v1h-11.9zM117.4 696.6h11.9v1h-11.9zM117.4 732.6h11.9v1h-11.9zM117.4 783.6h11.9v2h-11.9zM117.4 798.6h11.9v1h-11.9zM129.2 577.5h11.9v1h-11.9zM129.2 595.5h11.9v1h-11.9zM129.2 608.5h11.9v1h-11.9zM129.2 619.5h11.9v2h-11.9zM129.2 645.5h11.9v1h-11.9zM129.2 654.5h11.9v1h-11.9zM129.2 656.5h11.9v1h-11.9zM129.2 668.5h11.9v1h-11.9zM129.2 702.6h11.9v1h-11.9zM129.2 709.6h11.9v1h-11.9zM129.2 713.6h11.9v2h-11.9zM129.2 716.6h11.9v1h-11.9zM129.2 719.6h11.9v1h-11.9zM129.2 752.6h11.9v1h-11.9zM129.2 793.6h11.9v1h-11.9zM141.1 569.5h11.9v1h-11.9zM141.1 581.5h11.9v1h-11.9zM141.1 616.5h11.9v1h-11.9zM141.1 625.5h11.9v1h-11.9zM141.1 627.5h11.9v1h-11.9zM141.1 690.6h11.9v1h-11.9zM153 571.5h11.9v1h-11.9zM153 585.5h11.9v1h-11.9zM153 626.5h11.9v1h-11.9zM153 628.5h11.9v1h-11.9zM153 674.5h11.9v1h-11.9zM153 734.6h11.9v1h-11.9zM153 737.6h11.9v1h-11.9zM153 755.6h11.9v1h-11.9zM153 777.6h11.9v1h-11.9zM164.8 616.5h11.9v1h-11.9zM164.8 628.5h11.9v1h-11.9zM164.8 631.5h11.9v1h-11.9zM164.8 662.5h11.9v2h-11.9zM164.8 666.5h11.9v1h-11.9zM164.8 686.6h11.9v1h-11.9zM164.8 696.6h11.9v1h-11.9zM164.8 752.6h11.9v1h-11.9zM176.7 563.5h11.9v1h-11.9zM176.7 585.5h11.9v1h-11.9zM176.7 624.5h11.9v1h-11.9zM176.7 663.5h11.9v1h-11.9zM176.7 672.5h11.9v1h-11.9zM176.7 701.6h11.9v1h-11.9zM176.7 711.6h11.9v1h-11.9zM176.7 756.6h11.9v1h-11.9zM176.7 784.6h11.9v1h-11.9zM176.7 796.6h11.9v1h-11.9zM188.5 573.5h11.9v1h-11.9zM188.5 587.5h11.9v1h-11.9zM188.5 614.5h11.9v1h-11.9zM188.5 641.5h11.9v1h-11.9zM188.5 645.5h11.9v1h-11.9zM188.5 662.5h11.9v1h-11.9zM188.5 675.5h11.9v2h-11.9zM188.5 716.6h11.9v1h-11.9zM188.5 741.6h11.9v1h-11.9zM188.5 755.6h11.9v1h-11.9zM188.5 777.6h11.9v1h-11.9zM212.3 728.6h11.9v1h-11.9zM212.3 761.6h11.9v1h-11.9zM212.3 781.6h11.9v1h-11.9zM212.3 784.6h11.9v1h-11.9zM212.3 787.6h11.9v1h-11.9zM212.3 795.6h11.9v1h-11.9zM212.3 800.6h11.9v1h-11.9zM212.3 804.6h11.9v1h-11.9zM224.1 564.5h11.9v1h-11.9zM224.1 590.5h11.9v1h-11.9zM224.1 601.5h11.9v1h-11.9zM224.1 629.5h11.9v1h-11.9zM224.1 643.5h11.9v1h-11.9zM224.1 664.5h11.9v1h-11.9zM224.1 727.6h11.9v1h-11.9zM224.1 737.6h11.9v1h-11.9zM224.1 766.6h11.9v1h-11.9zM224.1 768.6h11.9v1h-11.9zM224.1 784.6h11.9v1h-11.9zM224.1 789.6h11.9v1h-11.9zM224.1 800.6h11.9v1h-11.9zM224.1 803.6h11.9v1h-11.9zM236 746.6h11.9v1h-11.9zM236 770.6h11.9v1h-11.9zM236 778.6h11.9v1h-11.9zM236 781.6h11.9v1h-11.9zM247.8 771.6h11.9v1h-11.9z"/><path fill="#f6f6ff" d="M81.8 728.6h11.9v2h-11.9zM81.8 748.6h11.9v1h-11.9zM81.8 758.6h11.9v1h-11.9zM81.8 771.6h11.9v1h-11.9zM81.8 775.6h11.9v1h-11.9zM81.8 786.6h11.9v1h-11.9zM81.8 794.6h11.9v1h-11.9zM81.8 796.6h11.9v1h-11.9zM93.7 581.5h11.9v1h-11.9zM93.7 583.5h11.9v1h-11.9zM93.7 600.5h11.9v1h-11.9zM93.7 605.5h11.9v1h-11.9zM93.7 607.5h11.9v1h-11.9zM93.7 627.5h11.9v1h-11.9zM93.7 630.5h11.9v1h-11.9zM93.7 632.5h11.9v1h-11.9zM93.7 634.5h11.9v1h-11.9zM93.7 638.5h11.9v3h-11.9zM93.7 649.5h11.9v1h-11.9zM93.7 654.5h11.9v1h-11.9zM93.7 707.6h11.9v3h-11.9zM93.7 733.6h11.9v1h-11.9zM93.7 793.6h11.9v1h-11.9zM93.7 797.6h11.9v1h-11.9zM93.7 802.6h11.9v1h-11.9zM105.5 563.5h11.9v1h-11.9zM105.5 613.5h11.9v1h-11.9zM105.5 644.5h11.9v1h-11.9zM105.5 654.5h11.9v1h-11.9zM105.5 660.5h11.9v1h-11.9zM105.5 666.5h11.9v1h-11.9zM105.5 669.5h11.9v1h-11.9zM105.5 680.5h11.9v3h-11.9zM105.5 685.6h11.9v1h-11.9zM105.5 697.6h11.9v1h-11.9zM105.5 700.6h11.9v1h-11.9zM105.5 709.6h11.9v1h-11.9zM105.5 725.6h11.9v1h-11.9zM105.5 729.6h11.9v1h-11.9zM105.5 742.6h11.9v1h-11.9zM105.5 748.6h11.9v1h-11.9zM105.5 754.6h11.9v1h-11.9zM105.5 759.6h11.9v1h-11.9zM105.5 762.6h11.9v1h-11.9zM105.5 765.6h11.9v1h-11.9zM105.5 781.6h11.9v1h-11.9zM105.5 790.6h11.9v1h-11.9zM105.5 792.6h11.9v1h-11.9zM117.4 645.5h11.9v1h-11.9zM117.4 668.5h11.9v1h-11.9zM117.4 714.6h11.9v1h-11.9zM117.4 747.6h11.9v1h-11.9zM117.4 756.6h11.9v1h-11.9zM117.4 763.6h11.9v1h-11.9zM117.4 765.6h11.9v1h-11.9zM117.4 776.6h11.9v1h-11.9zM129.2 647.5h11.9v1h-11.9zM129.2 724.6h11.9v1h-11.9zM129.2 727.6h11.9v1h-11.9zM129.2 730.6h11.9v1h-11.9zM129.2 734.6h11.9v1h-11.9zM129.2 741.6h11.9v1h-11.9zM129.2 761.6h11.9v1h-11.9zM129.2 765.6h11.9v2h-11.9zM129.2 785.6h11.9v1h-11.9zM141.1 658.5h11.9v1h-11.9zM141.1 674.5h11.9v1h-11.9zM141.1 705.6h11.9v1h-11.9zM141.1 758.6h11.9v1h-11.9zM141.1 771.6h11.9v1h-11.9zM141.1 789.6h11.9v1h-11.9zM141.1 805.6h11.9v1h-11.9zM153 568.5h11.9v1h-11.9zM153 609.5h11.9v1h-11.9zM153 634.5h11.9v1h-11.9zM153 643.5h11.9v1h-11.9zM153 689.6h11.9v1h-11.9zM153 722.6h11.9v1h-11.9zM153 725.6h11.9v1h-11.9zM153 740.6h11.9v1h-11.9zM153 744.6h11.9v1h-11.9zM153 748.6h11.9v1h-11.9zM153 765.6h11.9v1h-11.9zM153 781.6h11.9v1h-11.9zM164.8 596.5h11.9v1h-11.9zM164.8 684.5h11.9v1h-11.9zM164.8 780.6h11.9v1h-11.9zM176.7 612.5h11.9v1h-11.9zM176.7 715.6h11.9v1h-11.9zM176.7 792.6h11.9v1h-11.9zM176.7 797.6h11.9v1h-11.9zM176.7 800.6h11.9v1h-11.9zM188.5 586.5h11.9v1h-11.9zM188.5 613.5h11.9v1h-11.9zM188.5 619.5h11.9v1h-11.9zM188.5 715.6h11.9v1h-11.9zM188.5 749.6h11.9v1h-11.9zM188.5 753.6h11.9v1h-11.9zM188.5 796.6h11.9v1h-11.9zM188.5 799.6h11.9v1h-11.9zM200.4 696.6h11.9v1h-11.9zM212.3 630.5h11.9v1h-11.9zM212.3 689.6h11.9v1h-11.9zM224.1 568.5h11.9v1h-11.9zM224.1 579.5h11.9v1h-11.9zM224.1 618.5h11.9v1h-11.9zM224.1 627.5h11.9v1h-11.9zM224.1 634.5h11.9v1h-11.9zM224.1 667.5h11.9v1h-11.9zM224.1 704.6h11.9v1h-11.9zM224.1 706.6h11.9v1h-11.9zM224.1 718.6h11.9v3h-11.9zM224.1 735.6h11.9v1h-11.9zM224.1 772.6h11.9v1h-11.9zM236 599.5h11.9v1h-11.9zM236 605.5h11.9v1h-11.9zM236 609.5h11.9v1h-11.9zM236 710.6h11.9v1h-11.9z"/><path fill="#ffffff" d="M81.8 659.5h11.9v1h-11.9zM81.8 715.6h11.9v1h-11.9zM81.8 726.6h11.9v1h-11.9zM81.8 749.6h11.9v1h-11.9zM81.8 754.6h11.9v1h-11.9zM81.8 768.6h11.9v1h-11.9zM81.8 789.6h11.9v1h-11.9zM93.7 564.5h11.9v1h-11.9zM93.7 578.5h11.9v1h-11.9zM93.7 584.5h11.9v2h-11.9zM93.7 590.5h11.9v1h-11.9zM93.7 611.5h11.9v1h-11.9zM93.7 631.5h11.9v1h-11.9zM93.7 633.5h11.9v1h-11.9zM93.7 635.5h11.9v1h-11.9zM93.7 642.5h11.9v1h-11.9zM93.7 678.5h11.9v1h-11.9zM93.7 726.6h11.9v1h-11.9zM93.7 738.6h11.9v1h-11.9zM93.7 749.6h11.9v1h-11.9zM93.7 782.6h11.9v1h-11.9zM93.7 791.6h11.9v1h-11.9zM105.5 584.5h11.9v1h-11.9zM105.5 603.5h11.9v1h-11.9zM105.5 627.5h11.9v1h-11.9zM105.5 635.5h11.9v1h-11.9zM105.5 663.5h11.9v1h-11.9zM105.5 674.5h11.9v1h-11.9zM105.5 683.5h11.9v1h-11.9zM105.5 702.6h11.9v1h-11.9zM105.5 708.6h11.9v1h-11.9zM105.5 727.6h11.9v1h-11.9zM105.5 757.6h11.9v1h-11.9zM105.5 804.6h11.9v2h-11.9zM117.4 564.5h11.9v1h-11.9zM117.4 573.5h11.9v1h-11.9zM117.4 616.5h11.9v1h-11.9zM117.4 673.5h11.9v1h-11.9zM117.4 695.6h11.9v1h-11.9zM117.4 697.6h11.9v1h-11.9zM117.4 705.6h11.9v1h-11.9zM117.4 746.6h11.9v1h-11.9zM117.4 759.6h11.9v1h-11.9zM117.4 761.6h11.9v1h-11.9zM117.4 766.6h11.9v1h-11.9zM117.4 773.6h11.9v1h-11.9zM117.4 785.6h11.9v1h-11.9zM129.2 563.5h11.9v1h-11.9zM129.2 592.5h11.9v1h-11.9zM129.2 624.5h11.9v1h-11.9zM129.2 660.5h11.9v1h-11.9zM129.2 677.5h11.9v1h-11.9zM129.2 773.6h11.9v1h-11.9zM129.2 800.6h11.9v1h-11.9zM141.1 564.5h11.9v1h-11.9zM141.1 598.5h11.9v1h-11.9zM141.1 608.5h11.9v1h-11.9zM141.1 630.5h11.9v1h-11.9zM141.1 643.5h11.9v1h-11.9zM141.1 652.5h11.9v1h-11.9zM141.1 761.6h11.9v1h-11.9zM153 579.5h11.9v1h-11.9zM153 633.5h11.9v1h-11.9zM153 642.5h11.9v1h-11.9zM153 720.6h11.9v1h-11.9zM153 745.6h11.9v1h-11.9zM153 761.6h11.9v1h-11.9zM153 772.6h11.9v1h-11.9zM153 792.6h11.9v1h-11.9zM153 803.6h11.9v1h-11.9zM164.8 641.5h11.9v1h-11.9zM164.8 647.5h11.9v1h-11.9zM164.8 698.6h11.9v1h-11.9zM164.8 730.6h11.9v1h-11.9zM164.8 756.6h11.9v1h-11.9zM164.8 770.6h11.9v1h-11.9zM164.8 782.6h11.9v1h-11.9zM176.7 605.5h11.9v1h-11.9zM176.7 646.5h11.9v1h-11.9zM176.7 662.5h11.9v1h-11.9zM176.7 674.5h11.9v1h-11.9zM176.7 772.6h11.9v1h-11.9zM188.5 571.5h11.9v1h-11.9zM188.5 630.5h11.9v2h-11.9zM188.5 667.5h11.9v1h-11.9zM188.5 673.5h11.9v1h-11.9zM188.5 678.5h11.9v1h-11.9zM188.5 680.5h11.9v1h-11.9zM188.5 706.6h11.9v1h-11.9zM188.5 727.6h11.9v1h-11.9zM188.5 781.6h11.9v1h-11.9zM188.5 788.6h11.9v1h-11.9zM188.5 793.6h11.9v1h-11.9zM212.3 565.5h11.9v1h-11.9zM212.3 762.6h11.9v1h-11.9zM212.3 768.6h11.9v1h-11.9zM212.3 788.6h11.9v1h-11.9zM212.3 801.6h11.9v1h-11.9zM224.1 580.5h11.9v2h-11.9zM224.1 622.5h11.9v1h-11.9zM224.1 633.5h11.9v1h-11.9zM224.1 644.5h11.9v1h-11.9zM224.1 649.5h11.9v1h-11.9zM224.1 674.5h11.9v2h-11.9zM224.1 700.6h11.9v1h-11.9zM224.1 743.6h11.9v1h-11.9zM224.1 752.6h11.9v1h-11.9zM224.1 773.6h11.9v1h-11.9zM236 570.5h11.9v1h-11.9zM236 578.5h11.9v1h-11.9zM236 721.6h11.9v1h-11.9zM236 775.6h11.9v1h-11.9zM236 777.6h11.9v1h-11.9zM236 787.6h11.9v1h-11.9zM236 802.6h11.9v1h-11.9zM247.8 582.5h11.9v1h-11.9zM247.8 691.6h11.9v1h-11.9z"/><path fill="#ffa6a6" d="M93.7 572.5h11.9v1h-11.9zM93.7 609.5h11.9v1h-11.9zM93.7 731.6h11.9v1h-11.9zM93.7 753.6h11.9v1h-11.9zM93.7 758.6h11.9v1h-11.9zM105.5 580.5h11.9v1h-11.9zM105.5 628.5h11.9v1h-11.9zM105.5 668.5h11.9v1h-11.9zM105.5 703.6h11.9v1h-11.9zM105.5 750.6h11.9v1h-11.9zM117.4 566.5h11.9v1h-11.9zM117.4 608.5h11.9v1h-11.9zM117.4 701.6h11.9v1h-11.9zM117.4 719.6h11.9v1h-11.9zM129.2 634.5h11.9v1h-11.9zM129.2 639.5h11.9v1h-11.9zM129.2 655.5h11.9v1h-11.9zM129.2 671.5h11.9v1h-11.9zM129.2 673.5h11.9v1h-11.9zM129.2 690.6h11.9v1h-11.9zM129.2 703.6h11.9v1h-11.9zM141.1 563.5h11.9v1h-11.9zM141.1 570.5h11.9v2h-11.9zM141.1 586.5h11.9v1h-11.9zM141.1 592.5h11.9v1h-11.9zM141.1 603.5h11.9v1h-11.9zM141.1 606.5h11.9v2h-11.9zM141.1 613.5h11.9v1h-11.9zM141.1 632.5h11.9v2h-11.9zM141.1 635.5h11.9v1h-11.9zM141.1 664.5h11.9v1h-11.9zM141.1 682.5h11.9v1h-11.9zM141.1 691.6h11.9v1h-11.9zM141.1 713.6h11.9v1h-11.9zM153 564.5h11.9v1h-11.9zM153 566.5h11.9v1h-11.9zM153 578.5h11.9v1h-11.9zM153 580.5h11.9v1h-11.9zM153 582.5h11.9v1h-11.9zM153 603.5h11.9v1h-11.9zM153 607.5h11.9v1h-11.9zM153 640.5h11.9v1h-11.9zM153 651.5h11.9v1h-11.9zM153 663.5h11.9v1h-11.9zM153 669.5h11.9v1h-11.9zM153 699.6h11.9v1h-11.9zM153 701.6h11.9v1h-11.9zM153 709.6h11.9v1h-11.9zM153 714.6h11.9v1h-11.9zM153 782.6h11.9v1h-11.9zM164.8 592.5h11.9v1h-11.9zM164.8 594.5h11.9v1h-11.9zM164.8 602.5h11.9v1h-11.9zM164.8 605.5h11.9v1h-11.9zM164.8 611.5h11.9v1h-11.9zM164.8 635.5h11.9v1h-11.9zM164.8 659.5h11.9v1h-11.9zM164.8 679.5h11.9v1h-11.9zM164.8 691.6h11.9v1h-11.9zM164.8 697.6h11.9v1h-11.9zM164.8 707.6h11.9v1h-11.9zM164.8 711.6h11.9v1h-11.9zM176.7 565.5h11.9v1h-11.9zM176.7 570.5h11.9v2h-11.9zM176.7 593.5h11.9v1h-11.9zM176.7 595.5h11.9v2h-11.9zM176.7 651.5h11.9v1h-11.9zM176.7 655.5h11.9v1h-11.9zM176.7 664.5h11.9v1h-11.9zM176.7 676.5h11.9v1h-11.9zM176.7 679.5h11.9v1h-11.9zM176.7 689.6h11.9v1h-11.9zM176.7 719.6h11.9v1h-11.9zM188.5 577.5h11.9v1h-11.9zM188.5 624.5h11.9v1h-11.9zM188.5 653.5h11.9v1h-11.9zM188.5 691.6h11.9v1h-11.9zM188.5 699.6h11.9v1h-11.9zM188.5 719.6h11.9v1h-11.9zM200.4 762.6h11.9v1h-11.9zM200.4 765.6h11.9v1h-11.9zM200.4 770.6h11.9v1h-11.9zM200.4 781.6h11.9v1h-11.9zM212.3 739.6h11.9v1h-11.9zM212.3 743.6h11.9v1h-11.9zM212.3 750.6h11.9v1h-11.9zM212.3 752.6h11.9v2h-11.9zM212.3 758.6h11.9v1h-11.9zM212.3 771.6h11.9v1h-11.9zM212.3 778.6h11.9v1h-11.9zM212.3 783.6h11.9v1h-11.9zM212.3 789.6h11.9v1h-11.9zM224.1 732.6h11.9v1h-11.9zM224.1 749.6h11.9v1h-11.9zM224.1 757.6h11.9v1h-11.9zM224.1 760.6h11.9v1h-11.9zM224.1 777.6h11.9v1h-11.9zM224.1 794.6h11.9v1h-11.9zM236 773.6h11.9v1h-11.9zM236 799.6h11.9v1h-11.9zM247.8 780.6h11.9v1h-11.9zM247.8 782.6h11.9v1h-11.9zM247.8 791.6h11.9v1h-11.9zM247.8 793.6h11.9v1h-11.9zM247.8 797.6h11.9v1h-11.9zM247.8 803.6h11.9v1h-11.9z"/><path fill="#ffd2d2" d="M81.8 724.6h11.9v1h-11.9zM81.8 773.6h11.9v1h-11.9zM81.8 805.6h11.9v1h-11.9zM93.7 566.5h11.9v1h-11.9zM93.7 573.5h11.9v1h-11.9zM93.7 594.5h11.9v1h-11.9zM93.7 608.5h11.9v1h-11.9zM93.7 647.5h11.9v2h-11.9zM93.7 659.5h11.9v1h-11.9zM93.7 666.5h11.9v1h-11.9zM93.7 681.5h11.9v1h-11.9zM93.7 684.5h11.9v1h-11.9zM93.7 689.6h11.9v1h-11.9zM93.7 691.6h11.9v1h-11.9zM93.7 732.6h11.9v1h-11.9zM93.7 745.6h11.9v1h-11.9zM93.7 748.6h11.9v1h-11.9zM93.7 750.6h11.9v1h-11.9zM93.7 779.6h11.9v1h-11.9zM93.7 785.6h11.9v1h-11.9zM105.5 565.5h11.9v1h-11.9zM105.5 618.5h11.9v2h-11.9zM105.5 631.5h11.9v1h-11.9zM105.5 638.5h11.9v3h-11.9zM105.5 673.5h11.9v1h-11.9zM105.5 679.5h11.9v1h-11.9zM105.5 722.6h11.9v1h-11.9zM105.5 726.6h11.9v1h-11.9zM105.5 783.6h11.9v1h-11.9zM105.5 791.6h11.9v1h-11.9zM117.4 565.5h11.9v1h-11.9zM117.4 580.5h11.9v1h-11.9zM117.4 588.5h11.9v1h-11.9zM117.4 610.5h11.9v1h-11.9zM117.4 637.5h11.9v2h-11.9zM117.4 641.5h11.9v1h-11.9zM117.4 662.5h11.9v1h-11.9zM117.4 666.5h11.9v1h-11.9zM117.4 671.5h11.9v1h-11.9zM117.4 674.5h11.9v1h-11.9zM117.4 682.5h11.9v2h-11.9zM117.4 711.6h11.9v1h-11.9zM117.4 715.6h11.9v1h-11.9zM117.4 745.6h11.9v1h-11.9zM129.2 572.5h11.9v1h-11.9zM129.2 578.5h11.9v1h-11.9zM129.2 590.5h11.9v1h-11.9zM129.2 611.5h11.9v1h-11.9zM129.2 644.5h11.9v1h-11.9zM129.2 649.5h11.9v1h-11.9zM129.2 670.5h11.9v1h-11.9zM129.2 686.6h11.9v1h-11.9zM129.2 691.6h11.9v1h-11.9zM129.2 712.6h11.9v1h-11.9zM129.2 802.6h11.9v1h-11.9zM141.1 582.5h11.9v1h-11.9zM141.1 594.5h11.9v1h-11.9zM141.1 615.5h11.9v1h-11.9zM141.1 617.5h11.9v1h-11.9zM141.1 644.5h11.9v1h-11.9zM141.1 667.5h11.9v1h-11.9zM141.1 696.6h11.9v1h-11.9zM141.1 708.6h11.9v1h-11.9zM141.1 712.6h11.9v1h-11.9zM141.1 721.6h11.9v1h-11.9zM153 563.5h11.9v1h-11.9zM153 575.5h11.9v1h-11.9zM153 600.5h11.9v1h-11.9zM153 625.5h11.9v1h-11.9zM153 636.5h11.9v1h-11.9zM153 652.5h11.9v1h-11.9zM153 662.5h11.9v1h-11.9zM153 692.6h11.9v1h-11.9zM153 703.6h11.9v2h-11.9zM153 712.6h11.9v2h-11.9zM153 721.6h11.9v1h-11.9zM153 790.6h11.9v1h-11.9zM153 793.6h11.9v1h-11.9zM164.8 566.5h11.9v1h-11.9zM164.8 568.5h11.9v1h-11.9zM164.8 613.5h11.9v2h-11.9zM164.8 622.5h11.9v1h-11.9zM164.8 657.5h11.9v1h-11.9zM164.8 664.5h11.9v1h-11.9zM164.8 687.6h11.9v1h-11.9zM164.8 689.6h11.9v1h-11.9zM164.8 699.6h11.9v2h-11.9zM164.8 720.6h11.9v1h-11.9zM176.7 594.5h11.9v1h-11.9zM176.7 609.5h11.9v1h-11.9zM176.7 611.5h11.9v1h-11.9zM176.7 625.5h11.9v1h-11.9zM176.7 654.5h11.9v1h-11.9zM176.7 675.5h11.9v1h-11.9zM176.7 680.5h11.9v1h-11.9zM176.7 716.6h11.9v1h-11.9zM176.7 721.6h11.9v1h-11.9zM188.5 565.5h11.9v1h-11.9zM188.5 576.5h11.9v1h-11.9zM188.5 582.5h11.9v2h-11.9zM188.5 597.5h11.9v1h-11.9zM188.5 602.5h11.9v1h-11.9zM188.5 605.5h11.9v1h-11.9zM188.5 618.5h11.9v1h-11.9zM188.5 629.5h11.9v1h-11.9zM188.5 634.5h11.9v1h-11.9zM188.5 664.5h11.9v2h-11.9zM188.5 669.5h11.9v1h-11.9zM188.5 679.5h11.9v1h-11.9zM188.5 692.6h11.9v1h-11.9zM188.5 695.6h11.9v1h-11.9zM188.5 703.6h11.9v1h-11.9zM200.4 722.6h11.9v1h-11.9zM200.4 771.6h11.9v1h-11.9zM200.4 782.6h11.9v1h-11.9zM200.4 799.6h11.9v1h-11.9zM200.4 802.6h11.9v1h-11.9zM212.3 724.6h11.9v1h-11.9zM212.3 740.6h11.9v1h-11.9zM212.3 764.6h11.9v1h-11.9zM212.3 802.6h11.9v1h-11.9zM224.1 573.5h11.9v1h-11.9zM224.1 588.5h11.9v2h-11.9zM224.1 608.5h11.9v1h-11.9zM224.1 759.6h11.9v1h-11.9zM224.1 770.6h11.9v1h-11.9zM224.1 781.6h11.9v1h-11.9zM224.1 796.6h11.9v1h-11.9zM224.1 798.6h11.9v1h-11.9zM236 742.6h11.9v1h-11.9zM236 768.6h11.9v1h-11.9zM236 776.6h11.9v1h-11.9zM236 780.6h11.9v1h-11.9zM236 788.6h11.9v1h-11.9zM236 803.6h11.9v1h-11.9zM247.8 800.6h11.9v1h-11.9z"/><path fill="#ffdbdb" d="M81.8 774.6h11.9v1h-11.9zM81.8 798.6h11.9v2h-11.9zM93.7 582.5h11.9v1h-11.9zM93.7 586.5h11.9v1h-11.9zM93.7 591.5h11.9v1h-11.9zM93.7 624.5h11.9v2h-11.9zM93.7 646.5h11.9v1h-11.9zM93.7 650.5h11.9v2h-11.9zM93.7 661.5h11.9v1h-11.9zM93.7 669.5h11.9v1h-11.9zM93.7 682.5h11.9v1h-11.9zM93.7 697.6h11.9v1h-11.9zM93.7 703.6h11.9v1h-11.9zM93.7 725.6h11.9v1h-11.9zM93.7 730.6h11.9v1h-11.9zM93.7 736.6h11.9v1h-11.9zM93.7 742.6h11.9v1h-11.9zM93.7 752.6h11.9v1h-11.9zM93.7 772.6h11.9v1h-11.9zM105.5 602.5h11.9v1h-11.9zM105.5 604.5h11.9v1h-11.9zM105.5 610.5h11.9v1h-11.9zM105.5 620.5h11.9v1h-11.9zM105.5 641.5h11.9v1h-11.9zM105.5 643.5h11.9v1h-11.9zM105.5 646.5h11.9v2h-11.9zM105.5 659.5h11.9v1h-11.9zM105.5 675.5h11.9v1h-11.9zM105.5 694.6h11.9v1h-11.9zM105.5 704.6h11.9v1h-11.9zM105.5 711.6h11.9v1h-11.9zM105.5 724.6h11.9v1h-11.9zM105.5 739.6h11.9v1h-11.9zM105.5 766.6h11.9v1h-11.9zM105.5 769.6h11.9v1h-11.9zM105.5 788.6h11.9v1h-11.9zM117.4 568.5h11.9v1h-11.9zM117.4 572.5h11.9v1h-11.9zM117.4 582.5h11.9v2h-11.9zM117.4 587.5h11.9v1h-11.9zM117.4 619.5h11.9v1h-11.9zM117.4 635.5h11.9v1h-11.9zM117.4 639.5h11.9v1h-11.9zM117.4 667.5h11.9v1h-11.9zM117.4 677.5h11.9v1h-11.9zM117.4 684.5h11.9v1h-11.9zM117.4 693.6h11.9v1h-11.9zM117.4 698.6h11.9v1h-11.9zM117.4 700.6h11.9v1h-11.9zM117.4 744.6h11.9v1h-11.9zM117.4 789.6h11.9v1h-11.9zM129.2 601.5h11.9v1h-11.9zM129.2 603.5h11.9v1h-11.9zM129.2 629.5h11.9v1h-11.9zM129.2 632.5h11.9v1h-11.9zM129.2 640.5h11.9v1h-11.9zM129.2 657.5h11.9v1h-11.9zM129.2 684.5h11.9v2h-11.9zM129.2 687.6h11.9v2h-11.9zM129.2 720.6h11.9v1h-11.9zM129.2 801.6h11.9v1h-11.9zM141.1 595.5h11.9v1h-11.9zM141.1 601.5h11.9v1h-11.9zM141.1 634.5h11.9v1h-11.9zM141.1 636.5h11.9v1h-11.9zM141.1 655.5h11.9v1h-11.9zM141.1 659.5h11.9v1h-11.9zM141.1 689.6h11.9v1h-11.9zM141.1 707.6h11.9v1h-11.9zM141.1 717.6h11.9v1h-11.9zM153 586.5h11.9v1h-11.9zM153 597.5h11.9v1h-11.9zM153 599.5h11.9v1h-11.9zM153 637.5h11.9v1h-11.9zM153 659.5h11.9v1h-11.9zM153 682.5h11.9v1h-11.9zM153 686.6h11.9v1h-11.9zM153 794.6h11.9v1h-11.9zM164.8 563.5h11.9v1h-11.9zM164.8 582.5h11.9v1h-11.9zM164.8 615.5h11.9v1h-11.9zM164.8 620.5h11.9v1h-11.9zM164.8 627.5h11.9v1h-11.9zM164.8 632.5h11.9v1h-11.9zM164.8 634.5h11.9v1h-11.9zM164.8 636.5h11.9v1h-11.9zM164.8 639.5h11.9v1h-11.9zM164.8 642.5h11.9v1h-11.9zM164.8 645.5h11.9v1h-11.9zM164.8 652.5h11.9v1h-11.9zM164.8 655.5h11.9v1h-11.9zM164.8 667.5h11.9v1h-11.9zM164.8 680.5h11.9v1h-11.9zM164.8 683.5h11.9v1h-11.9zM164.8 721.6h11.9v1h-11.9zM164.8 795.6h11.9v1h-11.9zM176.7 566.5h11.9v1h-11.9zM176.7 581.5h11.9v2h-11.9zM176.7 599.5h11.9v1h-11.9zM176.7 607.5h11.9v1h-11.9zM176.7 617.5h11.9v1h-11.9zM176.7 634.5h11.9v1h-11.9zM176.7 656.5h11.9v1h-11.9zM176.7 670.5h11.9v1h-11.9zM176.7 775.6h11.9v1h-11.9zM188.5 567.5h11.9v1h-11.9zM188.5 578.5h11.9v1h-11.9zM188.5 589.5h11.9v1h-11.9zM188.5 607.5h11.9v1h-11.9zM188.5 610.5h11.9v1h-11.9zM188.5 621.5h11.9v1h-11.9zM188.5 640.5h11.9v1h-11.9zM188.5 701.6h11.9v1h-11.9zM188.5 709.6h11.9v1h-11.9zM188.5 729.6h11.9v1h-11.9zM188.5 731.6h11.9v1h-11.9zM188.5 733.6h11.9v1h-11.9zM188.5 750.6h11.9v1h-11.9zM188.5 786.6h11.9v1h-11.9zM188.5 804.6h11.9v1h-11.9zM200.4 792.6h11.9v1h-11.9zM200.4 803.6h11.9v1h-11.9zM212.3 734.6h11.9v1h-11.9zM212.3 741.6h11.9v1h-11.9zM212.3 756.6h11.9v1h-11.9zM212.3 770.6h11.9v1h-11.9zM212.3 798.6h11.9v1h-11.9zM212.3 803.6h11.9v1h-11.9zM224.1 576.5h11.9v2h-11.9zM224.1 586.5h11.9v1h-11.9zM224.1 625.5h11.9v1h-11.9zM224.1 673.5h11.9v1h-11.9zM224.1 683.5h11.9v1h-11.9zM224.1 734.6h11.9v1h-11.9zM224.1 744.6h11.9v1h-11.9zM224.1 765.6h11.9v1h-11.9zM224.1 779.6h11.9v1h-11.9zM224.1 786.6h11.9v1h-11.9zM224.1 804.6h11.9v1h-11.9zM236 772.6h11.9v1h-11.9zM247.8 765.6h11.9v1h-11.9zM247.8 774.6h11.9v1h-11.9zM247.8 801.6h11.9v1h-11.9z"/><path fill="#c9c9ff" d="M81.8 586.5h11.9v1h-11.9zM81.8 599.5h11.9v1h-11.9zM81.8 614.5h11.9v1h-11.9zM81.8 636.5h11.9v1h-11.9zM81.8 718.6h11.9v1h-11.9zM81.8 734.6h11.9v2h-11.9zM81.8 740.6h11.9v1h-11.9zM81.8 750.6h11.9v1h-11.9zM81.8 756.6h11.9v1h-11.9zM81.8 765.6h11.9v1h-11.9zM81.8 770.6h11.9v1h-11.9zM81.8 783.6h11.9v1h-11.9zM93.7 569.5h11.9v1h-11.9zM93.7 595.5h11.9v1h-11.9zM93.7 599.5h11.9v1h-11.9zM93.7 694.6h11.9v1h-11.9zM93.7 712.6h11.9v1h-11.9zM93.7 728.6h11.9v1h-11.9zM93.7 762.6h11.9v1h-11.9zM93.7 794.6h11.9v1h-11.9zM93.7 805.6h11.9v1h-11.9zM105.5 590.5h11.9v1h-11.9zM105.5 612.5h11.9v1h-11.9zM105.5 616.5h11.9v1h-11.9zM105.5 652.5h11.9v1h-11.9zM105.5 670.5h11.9v1h-11.9zM105.5 771.6h11.9v2h-11.9zM117.4 724.6h11.9v1h-11.9zM117.4 727.6h11.9v1h-11.9zM117.4 748.6h11.9v1h-11.9zM117.4 751.6h11.9v2h-11.9zM117.4 768.6h11.9v1h-11.9zM117.4 772.6h11.9v1h-11.9zM117.4 777.6h11.9v1h-11.9zM117.4 792.6h11.9v1h-11.9zM129.2 733.6h11.9v1h-11.9zM129.2 735.6h11.9v1h-11.9zM129.2 743.6h11.9v1h-11.9zM129.2 747.6h11.9v1h-11.9zM129.2 757.6h11.9v1h-11.9zM129.2 763.6h11.9v1h-11.9zM129.2 782.6h11.9v1h-11.9zM129.2 787.6h11.9v1h-11.9zM129.2 792.6h11.9v1h-11.9zM129.2 804.6h11.9v1h-11.9zM141.1 734.6h11.9v1h-11.9zM141.1 736.6h11.9v2h-11.9zM141.1 753.6h11.9v1h-11.9zM141.1 762.6h11.9v1h-11.9zM141.1 770.6h11.9v1h-11.9zM141.1 785.6h11.9v1h-11.9zM141.1 787.6h11.9v1h-11.9zM141.1 799.6h11.9v1h-11.9zM153 732.6h11.9v1h-11.9zM153 736.6h11.9v1h-11.9zM153 754.6h11.9v1h-11.9zM153 783.6h11.9v1h-11.9zM164.8 747.6h11.9v1h-11.9zM164.8 758.6h11.9v1h-11.9zM164.8 783.6h11.9v1h-11.9zM164.8 799.6h11.9v1h-11.9zM164.8 802.6h11.9v1h-11.9zM176.7 606.5h11.9v1h-11.9zM176.7 732.6h11.9v1h-11.9zM176.7 741.6h11.9v1h-11.9zM176.7 754.6h11.9v1h-11.9zM176.7 757.6h11.9v1h-11.9zM176.7 777.6h11.9v1h-11.9zM176.7 786.6h11.9v1h-11.9zM176.7 801.6h11.9v1h-11.9zM188.5 563.5h11.9v1h-11.9zM188.5 739.6h11.9v1h-11.9zM188.5 754.6h11.9v1h-11.9zM188.5 756.6h11.9v1h-11.9zM188.5 772.6h11.9v1h-11.9zM188.5 775.6h11.9v1h-11.9zM188.5 783.6h11.9v1h-11.9zM188.5 789.6h11.9v1h-11.9zM188.5 791.6h11.9v2h-11.9zM188.5 798.6h11.9v1h-11.9zM188.5 802.6h11.9v1h-11.9zM200.4 602.5h11.9v1h-11.9zM200.4 622.5h11.9v1h-11.9zM200.4 640.5h11.9v1h-11.9zM200.4 643.5h11.9v1h-11.9zM200.4 671.5h11.9v1h-11.9zM200.4 712.6h11.9v1h-11.9zM212.3 585.5h11.9v1h-11.9zM212.3 631.5h11.9v1h-11.9zM212.3 634.5h11.9v2h-11.9zM224.1 635.5h11.9v1h-11.9zM224.1 640.5h11.9v1h-11.9zM224.1 645.5h11.9v1h-11.9zM224.1 659.5h11.9v1h-11.9zM224.1 692.6h11.9v1h-11.9zM224.1 695.6h11.9v1h-11.9zM224.1 698.6h11.9v1h-11.9zM224.1 703.6h11.9v1h-11.9zM224.1 707.6h11.9v1h-11.9zM224.1 709.6h11.9v1h-11.9zM224.1 711.6h11.9v1h-11.9zM224.1 785.6h11.9v1h-11.9zM236 568.5h11.9v1h-11.9zM236 604.5h11.9v1h-11.9zM236 614.5h11.9v1h-11.9zM236 643.5h11.9v1h-11.9zM236 662.5h11.9v1h-11.9zM236 681.5h11.9v1h-11.9zM236 695.6h11.9v1h-11.9zM247.8 617.5h11.9v2h-11.9zM247.8 663.5h11.9v1h-11.9zM247.8 669.5h11.9v1h-11.9zM247.8 676.5h11.9v1h-11.9zM247.8 699.6h11.9v1h-11.9zM247.8 705.6h11.9v1h-11.9z"/><path fill="#7070ff" d="M81.8 585.5h11.9v1h-11.9zM81.8 589.5h11.9v1h-11.9zM81.8 593.5h11.9v1h-11.9zM81.8 631.5h11.9v1h-11.9zM81.8 663.5h11.9v1h-11.9zM81.8 675.5h11.9v1h-11.9zM81.8 678.5h11.9v1h-11.9zM81.8 691.6h11.9v1h-11.9zM129.2 779.6h11.9v1h-11.9zM141.1 780.6h11.9v1h-11.9zM153 786.6h11.9v1h-11.9zM200.4 563.5h11.9v1h-11.9zM200.4 580.5h11.9v4h-11.9zM200.4 589.5h11.9v1h-11.9zM200.4 595.5h11.9v1h-11.9zM200.4 616.5h11.9v1h-11.9zM200.4 626.5h11.9v1h-11.9zM200.4 639.5h11.9v1h-11.9zM200.4 658.5h11.9v1h-11.9zM200.4 669.5h11.9v1h-11.9zM200.4 707.6h11.9v1h-11.9zM200.4 720.6h11.9v1h-11.9zM212.3 568.5h11.9v1h-11.9zM212.3 575.5h11.9v1h-11.9zM212.3 653.5h11.9v1h-11.9zM212.3 658.5h11.9v1h-11.9zM212.3 679.5h11.9v1h-11.9zM212.3 700.6h11.9v1h-11.9zM212.3 710.6h11.9v1h-11.9zM236 584.5h11.9v1h-11.9zM236 648.5h11.9v1h-11.9zM236 658.5h11.9v1h-11.9zM247.8 587.5h11.9v1h-11.9zM247.8 593.5h11.9v1h-11.9zM247.8 612.5h11.9v1h-11.9zM247.8 630.5h11.9v1h-11.9zM247.8 649.5h11.9v1h-11.9zM247.8 661.5h11.9v1h-11.9zM247.8 666.5h11.9v1h-11.9zM247.8 674.5h11.9v1h-11.9zM247.8 682.5h11.9v1h-11.9zM247.8 684.5h11.9v1h-11.9zM247.8 716.6h11.9v1h-11.9zM247.8 719.6h11.9v1h-11.9zM247.8 721.6h11.9v1h-11.9z"/><path fill="#5e5eff" d="M81.8 580.5h11.9v1h-11.9zM81.8 588.5h11.9v1h-11.9zM81.8 689.6h11.9v1h-11.9zM188.5 769.6h11.9v1h-11.9zM200.4 564.5h11.9v1h-11.9zM200.4 567.5h11.9v1h-11.9zM200.4 591.5h11.9v1h-11.9zM200.4 594.5h11.9v1h-11.9zM200.4 597.5h11.9v1h-11.9zM200.4 603.5h11.9v1h-11.9zM200.4 615.5h11.9v1h-11.9zM200.4 627.5h11.9v1h-11.9zM200.4 648.5h11.9v1h-11.9zM200.4 659.5h11.9v1h-11.9zM200.4 666.5h11.9v1h-11.9zM200.4 682.5h11.9v1h-11.9zM200.4 701.6h11.9v1h-11.9zM200.4 713.6h11.9v2h-11.9zM200.4 716.6h11.9v1h-11.9zM200.4 719.6h11.9v1h-11.9zM212.3 563.5h11.9v1h-11.9zM212.3 574.5h11.9v1h-11.9zM212.3 576.5h11.9v1h-11.9zM212.3 578.5h11.9v4h-11.9zM212.3 591.5h11.9v1h-11.9zM212.3 596.5h11.9v1h-11.9zM212.3 602.5h11.9v1h-11.9zM212.3 628.5h11.9v1h-11.9zM212.3 632.5h11.9v1h-11.9zM212.3 650.5h11.9v1h-11.9zM212.3 655.5h11.9v1h-11.9zM212.3 676.5h11.9v1h-11.9zM236 592.5h11.9v1h-11.9zM236 679.5h11.9v1h-11.9zM247.8 595.5h11.9v1h-11.9zM247.8 626.5h11.9v1h-11.9zM247.8 697.6h11.9v1h-11.9zM247.8 701.6h11.9v1h-11.9z"/><path fill="#e4e4ff" d="M81.8 660.5h11.9v2h-11.9zM81.8 743.6h11.9v1h-11.9zM81.8 764.6h11.9v1h-11.9zM81.8 766.6h11.9v1h-11.9zM81.8 778.6h11.9v1h-11.9zM81.8 780.6h11.9v1h-11.9zM81.8 784.6h11.9v1h-11.9zM81.8 788.6h11.9v1h-11.9zM81.8 801.6h11.9v1h-11.9zM93.7 568.5h11.9v1h-11.9zM93.7 597.5h11.9v1h-11.9zM93.7 613.5h11.9v1h-11.9zM93.7 615.5h11.9v1h-11.9zM93.7 618.5h11.9v1h-11.9zM93.7 623.5h11.9v1h-11.9zM93.7 652.5h11.9v2h-11.9zM93.7 655.5h11.9v2h-11.9zM93.7 662.5h11.9v2h-11.9zM93.7 683.5h11.9v1h-11.9zM93.7 705.6h11.9v1h-11.9zM93.7 727.6h11.9v1h-11.9zM93.7 729.6h11.9v1h-11.9zM93.7 743.6h11.9v1h-11.9zM93.7 781.6h11.9v1h-11.9zM93.7 795.6h11.9v1h-11.9zM105.5 569.5h11.9v1h-11.9zM105.5 573.5h11.9v1h-11.9zM105.5 575.5h11.9v1h-11.9zM105.5 588.5h11.9v1h-11.9zM105.5 614.5h11.9v1h-11.9zM105.5 617.5h11.9v1h-11.9zM105.5 634.5h11.9v1h-11.9zM105.5 653.5h11.9v1h-11.9zM105.5 671.5h11.9v1h-11.9zM105.5 686.6h11.9v1h-11.9zM105.5 706.6h11.9v1h-11.9zM105.5 710.6h11.9v1h-11.9zM105.5 749.6h11.9v1h-11.9zM105.5 751.6h11.9v1h-11.9zM105.5 763.6h11.9v1h-11.9zM105.5 775.6h11.9v1h-11.9zM105.5 784.6h11.9v2h-11.9zM105.5 795.6h11.9v2h-11.9zM105.5 800.6h11.9v1h-11.9zM117.4 624.5h11.9v1h-11.9zM117.4 758.6h11.9v1h-11.9zM117.4 767.6h11.9v1h-11.9zM117.4 775.6h11.9v1h-11.9zM129.2 731.6h11.9v1h-11.9zM129.2 770.6h11.9v1h-11.9zM129.2 772.6h11.9v1h-11.9zM129.2 783.6h11.9v1h-11.9zM129.2 788.6h11.9v1h-11.9zM129.2 805.6h11.9v1h-11.9zM141.1 578.5h11.9v1h-11.9zM141.1 599.5h11.9v1h-11.9zM141.1 609.5h11.9v1h-11.9zM141.1 706.6h11.9v1h-11.9zM141.1 729.6h11.9v1h-11.9zM141.1 757.6h11.9v1h-11.9zM141.1 766.6h11.9v1h-11.9zM141.1 769.6h11.9v1h-11.9zM141.1 802.6h11.9v1h-11.9zM153 624.5h11.9v1h-11.9zM153 661.5h11.9v1h-11.9zM153 723.6h11.9v1h-11.9zM153 739.6h11.9v1h-11.9zM153 760.6h11.9v1h-11.9zM153 779.6h11.9v2h-11.9zM153 800.6h11.9v1h-11.9zM164.8 633.5h11.9v1h-11.9zM164.8 753.6h11.9v1h-11.9zM164.8 760.6h11.9v1h-11.9zM164.8 763.6h11.9v1h-11.9zM164.8 781.6h11.9v1h-11.9zM164.8 801.6h11.9v1h-11.9zM176.7 613.5h11.9v1h-11.9zM176.7 657.5h11.9v2h-11.9zM176.7 745.6h11.9v1h-11.9zM176.7 779.6h11.9v1h-11.9zM188.5 574.5h11.9v1h-11.9zM188.5 732.6h11.9v1h-11.9zM188.5 745.6h11.9v1h-11.9zM188.5 771.6h11.9v1h-11.9zM188.5 774.6h11.9v1h-11.9zM188.5 790.6h11.9v1h-11.9zM188.5 794.6h11.9v1h-11.9zM200.4 705.6h11.9v1h-11.9zM224.1 563.5h11.9v1h-11.9zM224.1 567.5h11.9v1h-11.9zM224.1 569.5h11.9v2h-11.9zM224.1 582.5h11.9v1h-11.9zM224.1 594.5h11.9v1h-11.9zM224.1 596.5h11.9v1h-11.9zM224.1 603.5h11.9v1h-11.9zM224.1 605.5h11.9v1h-11.9zM224.1 609.5h11.9v2h-11.9zM224.1 614.5h11.9v2h-11.9zM224.1 632.5h11.9v1h-11.9zM224.1 639.5h11.9v1h-11.9zM224.1 652.5h11.9v1h-11.9zM224.1 656.5h11.9v1h-11.9zM224.1 658.5h11.9v1h-11.9zM224.1 672.5h11.9v1h-11.9zM224.1 679.5h11.9v1h-11.9zM224.1 691.6h11.9v1h-11.9zM224.1 693.6h11.9v2h-11.9zM224.1 710.6h11.9v1h-11.9zM224.1 767.6h11.9v1h-11.9zM224.1 769.6h11.9v1h-11.9zM224.1 799.6h11.9v1h-11.9zM236 573.5h11.9v1h-11.9zM236 575.5h11.9v1h-11.9zM236 581.5h11.9v1h-11.9zM236 656.5h11.9v1h-11.9zM236 666.5h11.9v1h-11.9zM236 668.5h11.9v1h-11.9zM236 694.6h11.9v1h-11.9zM236 700.6h11.9v1h-11.9zM236 717.6h11.9v2h-11.9zM247.8 581.5h11.9v1h-11.9zM247.8 706.6h11.9v1h-11.9zM247.8 714.6h11.9v1h-11.9z"/><path fill="#dbdbff" d="M81.8 650.5h11.9v1h-11.9zM81.8 672.5h11.9v1h-11.9zM81.8 695.6h11.9v1h-11.9zM81.8 705.6h11.9v2h-11.9zM81.8 712.6h11.9v1h-11.9zM81.8 738.6h11.9v1h-11.9zM81.8 755.6h11.9v1h-11.9zM81.8 760.6h11.9v1h-11.9zM81.8 767.6h11.9v1h-11.9zM81.8 777.6h11.9v1h-11.9zM81.8 787.6h11.9v1h-11.9zM81.8 793.6h11.9v1h-11.9zM81.8 804.6h11.9v1h-11.9zM93.7 603.5h11.9v1h-11.9zM93.7 617.5h11.9v1h-11.9zM93.7 628.5h11.9v1h-11.9zM93.7 668.5h11.9v1h-11.9zM93.7 670.5h11.9v1h-11.9zM93.7 675.5h11.9v1h-11.9zM93.7 695.6h11.9v1h-11.9zM93.7 699.6h11.9v1h-11.9zM93.7 702.6h11.9v1h-11.9zM93.7 716.6h11.9v1h-11.9zM93.7 719.6h11.9v1h-11.9zM93.7 760.6h11.9v1h-11.9zM93.7 766.6h11.9v1h-11.9zM93.7 803.6h11.9v1h-11.9zM105.5 586.5h11.9v1h-11.9zM105.5 598.5h11.9v1h-11.9zM105.5 699.6h11.9v1h-11.9zM105.5 746.6h11.9v1h-11.9zM105.5 753.6h11.9v1h-11.9zM105.5 797.6h11.9v2h-11.9zM105.5 802.6h11.9v1h-11.9zM117.4 760.6h11.9v1h-11.9zM117.4 790.6h11.9v1h-11.9zM117.4 801.6h11.9v1h-11.9zM129.2 726.6h11.9v1h-11.9zM129.2 732.6h11.9v1h-11.9zM129.2 746.6h11.9v1h-11.9zM129.2 748.6h11.9v2h-11.9zM129.2 751.6h11.9v1h-11.9zM129.2 755.6h11.9v2h-11.9zM129.2 774.6h11.9v1h-11.9zM129.2 799.6h11.9v1h-11.9zM141.1 714.6h11.9v1h-11.9zM141.1 739.6h11.9v1h-11.9zM141.1 743.6h11.9v1h-11.9zM141.1 756.6h11.9v1h-11.9zM141.1 765.6h11.9v1h-11.9zM141.1 775.6h11.9v1h-11.9zM141.1 777.6h11.9v2h-11.9zM141.1 791.6h11.9v1h-11.9zM153 727.6h11.9v1h-11.9zM153 757.6h11.9v1h-11.9zM164.8 743.6h11.9v1h-11.9zM164.8 757.6h11.9v1h-11.9zM164.8 762.6h11.9v1h-11.9zM164.8 787.6h11.9v1h-11.9zM164.8 803.6h11.9v1h-11.9zM176.7 725.6h11.9v1h-11.9zM176.7 747.6h11.9v1h-11.9zM176.7 761.6h11.9v1h-11.9zM176.7 781.6h11.9v1h-11.9zM176.7 788.6h11.9v1h-11.9zM176.7 794.6h11.9v1h-11.9zM176.7 805.6h11.9v1h-11.9zM188.5 575.5h11.9v1h-11.9zM188.5 677.5h11.9v1h-11.9zM188.5 728.6h11.9v1h-11.9zM188.5 730.6h11.9v1h-11.9zM188.5 738.6h11.9v1h-11.9zM188.5 743.6h11.9v1h-11.9zM188.5 752.6h11.9v1h-11.9zM188.5 766.6h11.9v1h-11.9zM188.5 770.6h11.9v1h-11.9zM188.5 779.6h11.9v1h-11.9zM188.5 803.6h11.9v1h-11.9zM200.4 618.5h11.9v1h-11.9zM224.1 566.5h11.9v1h-11.9zM224.1 572.5h11.9v1h-11.9zM224.1 592.5h11.9v1h-11.9zM224.1 595.5h11.9v1h-11.9zM224.1 604.5h11.9v1h-11.9zM224.1 654.5h11.9v1h-11.9zM224.1 665.5h11.9v1h-11.9zM224.1 686.6h11.9v1h-11.9zM224.1 690.6h11.9v1h-11.9zM224.1 701.6h11.9v2h-11.9zM236 563.5h11.9v1h-11.9zM236 579.5h11.9v2h-11.9zM236 671.5h11.9v1h-11.9zM236 692.6h11.9v1h-11.9zM247.8 613.5h11.9v1h-11.9zM247.8 660.5h11.9v1h-11.9z"/><path fill="#b8b8ff" d="M81.8 564.5h11.9v1h-11.9zM81.8 574.5h11.9v1h-11.9zM81.8 592.5h11.9v1h-11.9zM81.8 598.5h11.9v1h-11.9zM81.8 615.5h11.9v1h-11.9zM81.8 620.5h11.9v1h-11.9zM81.8 625.5h11.9v1h-11.9zM81.8 629.5h11.9v1h-11.9zM81.8 638.5h11.9v2h-11.9zM81.8 648.5h11.9v1h-11.9zM81.8 686.6h11.9v1h-11.9zM81.8 693.6h11.9v1h-11.9zM81.8 757.6h11.9v1h-11.9zM81.8 759.6h11.9v1h-11.9zM81.8 769.6h11.9v1h-11.9zM81.8 790.6h11.9v1h-11.9zM93.7 579.5h11.9v1h-11.9zM105.5 592.5h11.9v1h-11.9zM105.5 676.5h11.9v1h-11.9zM105.5 761.6h11.9v1h-11.9zM105.5 776.6h11.9v1h-11.9zM117.4 725.6h11.9v2h-11.9zM117.4 741.6h11.9v1h-11.9zM117.4 770.6h11.9v1h-11.9zM117.4 788.6h11.9v1h-11.9zM117.4 791.6h11.9v1h-11.9zM129.2 742.6h11.9v1h-11.9zM129.2 750.6h11.9v1h-11.9zM129.2 777.6h11.9v1h-11.9zM129.2 794.6h11.9v2h-11.9zM141.1 730.6h11.9v1h-11.9zM141.1 751.6h11.9v1h-11.9zM141.1 759.6h11.9v1h-11.9zM141.1 781.6h11.9v2h-11.9zM153 766.6h11.9v1h-11.9zM153 769.6h11.9v1h-11.9zM153 785.6h11.9v1h-11.9zM153 805.6h11.9v1h-11.9zM164.8 723.6h11.9v1h-11.9zM164.8 734.6h11.9v1h-11.9zM164.8 775.6h11.9v1h-11.9zM164.8 779.6h11.9v1h-11.9zM164.8 797.6h11.9v1h-11.9zM176.7 645.5h11.9v1h-11.9zM176.7 729.6h11.9v1h-11.9zM176.7 737.6h11.9v1h-11.9zM176.7 739.6h11.9v1h-11.9zM176.7 744.6h11.9v1h-11.9zM176.7 749.6h11.9v1h-11.9zM176.7 768.6h11.9v1h-11.9zM176.7 780.6h11.9v1h-11.9zM176.7 793.6h11.9v1h-11.9zM188.5 688.6h11.9v1h-11.9zM188.5 736.6h11.9v1h-11.9zM188.5 759.6h11.9v1h-11.9zM188.5 767.6h11.9v1h-11.9zM188.5 776.6h11.9v1h-11.9zM188.5 784.6h11.9v1h-11.9zM200.4 578.5h11.9v1h-11.9zM200.4 689.6h11.9v1h-11.9zM200.4 697.6h11.9v1h-11.9zM212.3 603.5h11.9v1h-11.9zM212.3 605.5h11.9v1h-11.9zM212.3 629.5h11.9v1h-11.9zM212.3 659.5h11.9v1h-11.9zM212.3 694.6h11.9v1h-11.9zM212.3 697.6h11.9v1h-11.9zM212.3 701.6h11.9v1h-11.9zM212.3 714.6h11.9v1h-11.9zM212.3 717.6h11.9v1h-11.9zM224.1 591.5h11.9v1h-11.9zM224.1 599.5h11.9v1h-11.9zM224.1 621.5h11.9v1h-11.9zM224.1 623.5h11.9v1h-11.9zM224.1 650.5h11.9v1h-11.9zM224.1 677.5h11.9v1h-11.9zM236 567.5h11.9v1h-11.9zM236 586.5h11.9v1h-11.9zM236 597.5h11.9v2h-11.9zM236 602.5h11.9v2h-11.9zM236 607.5h11.9v1h-11.9zM236 619.5h11.9v1h-11.9zM236 622.5h11.9v1h-11.9zM236 661.5h11.9v1h-11.9zM236 669.5h11.9v1h-11.9zM236 677.5h11.9v1h-11.9zM236 680.5h11.9v1h-11.9zM236 687.6h11.9v1h-11.9zM236 701.6h11.9v3h-11.9zM236 711.6h11.9v1h-11.9zM247.8 576.5h11.9v1h-11.9zM247.8 590.5h11.9v1h-11.9zM247.8 635.5h11.9v1h-11.9zM247.8 639.5h11.9v1h-11.9zM247.8 647.5h11.9v1h-11.9zM247.8 652.5h11.9v1h-11.9zM247.8 670.5h11.9v1h-11.9zM247.8 675.5h11.9v1h-11.9zM247.8 689.6h11.9v1h-11.9zM247.8 718.6h11.9v1h-11.9zM247.8 783.6h11.9v1h-11.9z"/><path fill="#fff6f6" d="M81.8 611.5h11.9v1h-11.9zM81.8 713.6h11.9v2h-11.9zM81.8 722.6h11.9v1h-11.9zM81.8 725.6h11.9v1h-11.9zM81.8 781.6h11.9v1h-11.9zM81.8 800.6h11.9v1h-11.9zM93.7 571.5h11.9v1h-11.9zM93.7 588.5h11.9v1h-11.9zM93.7 596.5h11.9v1h-11.9zM93.7 602.5h11.9v1h-11.9zM93.7 610.5h11.9v1h-11.9zM93.7 616.5h11.9v1h-11.9zM93.7 698.6h11.9v1h-11.9zM93.7 700.6h11.9v1h-11.9zM93.7 704.6h11.9v1h-11.9zM93.7 717.6h11.9v1h-11.9zM93.7 721.6h11.9v1h-11.9zM93.7 734.6h11.9v1h-11.9zM93.7 740.6h11.9v1h-11.9zM93.7 751.6h11.9v1h-11.9zM93.7 768.6h11.9v1h-11.9zM93.7 771.6h11.9v1h-11.9zM93.7 786.6h11.9v1h-11.9zM93.7 789.6h11.9v1h-11.9zM93.7 804.6h11.9v1h-11.9zM105.5 567.5h11.9v1h-11.9zM105.5 587.5h11.9v1h-11.9zM105.5 593.5h11.9v1h-11.9zM105.5 606.5h11.9v1h-11.9zM105.5 661.5h11.9v2h-11.9zM105.5 664.5h11.9v1h-11.9zM105.5 677.5h11.9v1h-11.9zM105.5 688.6h11.9v1h-11.9zM105.5 696.6h11.9v1h-11.9zM105.5 698.6h11.9v1h-11.9zM105.5 719.6h11.9v1h-11.9zM105.5 738.6h11.9v1h-11.9zM105.5 741.6h11.9v1h-11.9zM105.5 755.6h11.9v2h-11.9zM105.5 760.6h11.9v1h-11.9zM105.5 773.6h11.9v1h-11.9zM105.5 782.6h11.9v1h-11.9zM105.5 787.6h11.9v1h-11.9zM117.4 585.5h11.9v1h-11.9zM117.4 592.5h11.9v1h-11.9zM117.4 597.5h11.9v1h-11.9zM117.4 617.5h11.9v1h-11.9zM117.4 631.5h11.9v1h-11.9zM117.4 706.6h11.9v1h-11.9zM117.4 728.6h11.9v1h-11.9zM129.2 564.5h11.9v1h-11.9zM129.2 585.5h11.9v1h-11.9zM129.2 593.5h11.9v1h-11.9zM129.2 602.5h11.9v1h-11.9zM129.2 675.5h11.9v1h-11.9zM129.2 697.6h11.9v1h-11.9zM129.2 723.6h11.9v1h-11.9zM129.2 725.6h11.9v1h-11.9zM129.2 740.6h11.9v1h-11.9zM129.2 753.6h11.9v2h-11.9zM129.2 762.6h11.9v1h-11.9zM129.2 797.6h11.9v1h-11.9zM141.1 611.5h11.9v1h-11.9zM141.1 669.5h11.9v1h-11.9zM141.1 675.5h11.9v1h-11.9zM141.1 709.6h11.9v1h-11.9zM141.1 788.6h11.9v1h-11.9zM141.1 801.6h11.9v1h-11.9zM153 635.5h11.9v1h-11.9zM153 654.5h11.9v1h-11.9zM153 664.5h11.9v1h-11.9zM153 666.5h11.9v1h-11.9zM153 676.5h11.9v1h-11.9zM153 685.6h11.9v1h-11.9zM153 738.6h11.9v1h-11.9zM153 753.6h11.9v1h-11.9zM153 764.6h11.9v1h-11.9zM153 773.6h11.9v1h-11.9zM153 776.6h11.9v1h-11.9zM153 788.6h11.9v1h-11.9zM164.8 584.5h11.9v1h-11.9zM164.8 589.5h11.9v2h-11.9zM164.8 597.5h11.9v1h-11.9zM164.8 625.5h11.9v1h-11.9zM164.8 665.5h11.9v1h-11.9zM164.8 681.5h11.9v1h-11.9zM164.8 731.6h11.9v1h-11.9zM176.7 622.5h11.9v1h-11.9zM176.7 633.5h11.9v1h-11.9zM176.7 642.5h11.9v1h-11.9zM176.7 702.6h11.9v2h-11.9zM176.7 706.6h11.9v2h-11.9zM176.7 712.6h11.9v1h-11.9zM176.7 738.6h11.9v1h-11.9zM176.7 746.6h11.9v1h-11.9zM176.7 776.6h11.9v1h-11.9zM176.7 783.6h11.9v1h-11.9zM176.7 802.6h11.9v1h-11.9zM188.5 564.5h11.9v1h-11.9zM188.5 566.5h11.9v1h-11.9zM188.5 572.5h11.9v1h-11.9zM188.5 601.5h11.9v1h-11.9zM188.5 608.5h11.9v1h-11.9zM188.5 616.5h11.9v1h-11.9zM188.5 639.5h11.9v1h-11.9zM188.5 647.5h11.9v1h-11.9zM188.5 654.5h11.9v1h-11.9zM188.5 663.5h11.9v1h-11.9zM188.5 672.5h11.9v1h-11.9zM188.5 674.5h11.9v1h-11.9zM188.5 687.6h11.9v1h-11.9zM188.5 705.6h11.9v1h-11.9zM188.5 717.6h11.9v1h-11.9zM188.5 724.6h11.9v2h-11.9zM188.5 773.6h11.9v1h-11.9zM188.5 782.6h11.9v1h-11.9zM188.5 787.6h11.9v1h-11.9zM200.4 769.6h11.9v1h-11.9zM212.3 769.6h11.9v1h-11.9zM212.3 777.6h11.9v1h-11.9zM224.1 565.5h11.9v1h-11.9zM224.1 662.5h11.9v1h-11.9zM224.1 668.5h11.9v1h-11.9zM224.1 681.5h11.9v2h-11.9zM224.1 716.6h11.9v1h-11.9zM224.1 741.6h11.9v1h-11.9zM224.1 795.6h11.9v1h-11.9zM224.1 802.6h11.9v1h-11.9zM224.1 805.6h11.9v1h-11.9zM236 571.5h11.9v1h-11.9zM236 782.6h11.9v1h-11.9zM236 786.6h11.9v1h-11.9zM236 790.6h11.9v1h-11.9zM247.8 638.5h11.9v1h-11.9zM247.8 790.6h11.9v1h-11.9z"/><path fill="#ff9494" d="M93.7 688.6h11.9v1h-11.9zM93.7 775.6h11.9v1h-11.9zM105.5 582.5h11.9v1h-11.9zM105.5 608.5h11.9v1h-11.9zM117.4 599.5h11.9v1h-11.9zM117.4 632.5h11.9v1h-11.9zM117.4 634.5h11.9v1h-11.9zM117.4 664.5h11.9v1h-11.9zM117.4 713.6h11.9v1h-11.9zM117.4 716.6h11.9v1h-11.9zM129.2 580.5h11.9v1h-11.9zM129.2 589.5h11.9v1h-11.9zM129.2 633.5h11.9v1h-11.9zM129.2 692.6h11.9v1h-11.9zM129.2 721.6h11.9v1h-11.9zM141.1 574.5h11.9v1h-11.9zM141.1 579.5h11.9v1h-11.9zM141.1 591.5h11.9v1h-11.9zM141.1 641.5h11.9v1h-11.9zM141.1 645.5h11.9v1h-11.9zM141.1 656.5h11.9v1h-11.9zM141.1 662.5h11.9v1h-11.9zM141.1 684.5h11.9v2h-11.9zM141.1 692.6h11.9v1h-11.9zM141.1 711.6h11.9v1h-11.9zM153 596.5h11.9v1h-11.9zM153 615.5h11.9v2h-11.9zM153 619.5h11.9v1h-11.9zM153 622.5h11.9v1h-11.9zM153 638.5h11.9v1h-11.9zM153 679.5h11.9v1h-11.9zM153 717.6h11.9v2h-11.9zM164.8 564.5h11.9v1h-11.9zM164.8 571.5h11.9v1h-11.9zM164.8 612.5h11.9v1h-11.9zM164.8 675.5h11.9v1h-11.9zM164.8 709.6h11.9v1h-11.9zM164.8 712.6h11.9v1h-11.9zM164.8 718.6h11.9v1h-11.9zM176.7 583.5h11.9v1h-11.9zM176.7 628.5h11.9v2h-11.9zM176.7 635.5h11.9v1h-11.9zM176.7 666.5h11.9v3h-11.9zM176.7 682.5h11.9v1h-11.9zM176.7 693.6h11.9v1h-11.9zM176.7 708.6h11.9v1h-11.9zM176.7 717.6h11.9v1h-11.9zM188.5 584.5h11.9v2h-11.9zM188.5 592.5h11.9v1h-11.9zM188.5 658.5h11.9v2h-11.9zM188.5 671.5h11.9v1h-11.9zM188.5 710.6h11.9v1h-11.9zM200.4 727.6h11.9v1h-11.9zM200.4 753.6h11.9v1h-11.9zM200.4 759.6h11.9v1h-11.9zM200.4 761.6h11.9v1h-11.9zM200.4 774.6h11.9v2h-11.9zM200.4 789.6h11.9v1h-11.9zM200.4 798.6h11.9v1h-11.9zM200.4 801.6h11.9v1h-11.9zM212.3 722.6h11.9v1h-11.9zM212.3 727.6h11.9v1h-11.9zM212.3 731.6h11.9v1h-11.9zM212.3 733.6h11.9v1h-11.9zM212.3 745.6h11.9v1h-11.9zM212.3 759.6h11.9v1h-11.9zM212.3 775.6h11.9v1h-11.9zM212.3 779.6h11.9v2h-11.9zM224.1 725.6h11.9v1h-11.9zM224.1 801.6h11.9v1h-11.9zM236 725.6h11.9v1h-11.9zM236 751.6h11.9v2h-11.9zM236 761.6h11.9v1h-11.9zM236 766.6h11.9v1h-11.9zM236 791.6h11.9v1h-11.9zM247.8 729.6h11.9v1h-11.9zM247.8 736.6h11.9v2h-11.9zM247.8 754.6h11.9v1h-11.9zM247.8 763.6h11.9v1h-11.9zM247.8 768.6h11.9v1h-11.9zM247.8 776.6h11.9v1h-11.9zM247.8 785.6h11.9v1h-11.9zM247.8 799.6h11.9v1h-11.9z"/><path fill="#ffe4e4" d="M81.8 730.6h11.9v1h-11.9zM81.8 746.6h11.9v2h-11.9zM81.8 791.6h11.9v1h-11.9zM93.7 565.5h11.9v1h-11.9zM93.7 612.5h11.9v1h-11.9zM93.7 637.5h11.9v1h-11.9zM93.7 676.5h11.9v2h-11.9zM93.7 713.6h11.9v1h-11.9zM93.7 735.6h11.9v1h-11.9zM93.7 790.6h11.9v1h-11.9zM93.7 792.6h11.9v1h-11.9zM93.7 800.6h11.9v1h-11.9zM105.5 568.5h11.9v1h-11.9zM105.5 572.5h11.9v1h-11.9zM105.5 595.5h11.9v1h-11.9zM105.5 609.5h11.9v1h-11.9zM105.5 622.5h11.9v1h-11.9zM105.5 648.5h11.9v1h-11.9zM105.5 665.5h11.9v1h-11.9zM105.5 712.6h11.9v1h-11.9zM105.5 723.6h11.9v1h-11.9zM105.5 764.6h11.9v1h-11.9zM117.4 576.5h11.9v1h-11.9zM117.4 601.5h11.9v1h-11.9zM117.4 679.5h11.9v1h-11.9zM117.4 780.6h11.9v1h-11.9zM117.4 799.6h11.9v1h-11.9zM129.2 606.5h11.9v1h-11.9zM129.2 641.5h11.9v1h-11.9zM129.2 643.5h11.9v1h-11.9zM129.2 646.5h11.9v1h-11.9zM129.2 653.5h11.9v1h-11.9zM129.2 693.6h11.9v1h-11.9zM129.2 706.6h11.9v1h-11.9zM129.2 722.6h11.9v1h-11.9zM129.2 738.6h11.9v1h-11.9zM141.1 567.5h11.9v1h-11.9zM141.1 588.5h11.9v1h-11.9zM141.1 593.5h11.9v1h-11.9zM141.1 597.5h11.9v1h-11.9zM141.1 623.5h11.9v2h-11.9zM141.1 629.5h11.9v1h-11.9zM141.1 665.5h11.9v1h-11.9zM141.1 695.6h11.9v1h-11.9zM141.1 746.6h11.9v1h-11.9zM141.1 764.6h11.9v1h-11.9zM153 589.5h11.9v2h-11.9zM153 592.5h11.9v1h-11.9zM153 610.5h11.9v1h-11.9zM153 627.5h11.9v1h-11.9zM153 629.5h11.9v1h-11.9zM153 657.5h11.9v1h-11.9zM153 660.5h11.9v1h-11.9zM153 668.5h11.9v1h-11.9zM153 681.5h11.9v1h-11.9zM153 694.6h11.9v1h-11.9zM153 735.6h11.9v1h-11.9zM153 747.6h11.9v1h-11.9zM153 756.6h11.9v1h-11.9zM153 762.6h11.9v2h-11.9zM153 804.6h11.9v1h-11.9zM164.8 567.5h11.9v1h-11.9zM164.8 604.5h11.9v1h-11.9zM164.8 630.5h11.9v1h-11.9zM164.8 640.5h11.9v1h-11.9zM164.8 644.5h11.9v1h-11.9zM164.8 656.5h11.9v1h-11.9zM164.8 678.5h11.9v1h-11.9zM176.7 564.5h11.9v1h-11.9zM176.7 569.5h11.9v1h-11.9zM176.7 631.5h11.9v2h-11.9zM176.7 652.5h11.9v1h-11.9zM176.7 671.5h11.9v1h-11.9zM176.7 677.5h11.9v1h-11.9zM176.7 694.6h11.9v2h-11.9zM176.7 762.6h11.9v1h-11.9zM176.7 798.6h11.9v1h-11.9zM188.5 569.5h11.9v1h-11.9zM188.5 600.5h11.9v1h-11.9zM188.5 606.5h11.9v1h-11.9zM188.5 611.5h11.9v2h-11.9zM188.5 627.5h11.9v1h-11.9zM188.5 632.5h11.9v2h-11.9zM188.5 650.5h11.9v1h-11.9zM188.5 668.5h11.9v1h-11.9zM188.5 681.5h11.9v2h-11.9zM188.5 763.6h11.9v1h-11.9zM200.4 779.6h11.9v1h-11.9zM200.4 795.6h11.9v1h-11.9zM212.3 776.6h11.9v1h-11.9zM212.3 782.6h11.9v1h-11.9zM212.3 791.6h11.9v2h-11.9zM212.3 796.6h11.9v1h-11.9zM212.3 799.6h11.9v1h-11.9zM224.1 602.5h11.9v1h-11.9zM224.1 607.5h11.9v1h-11.9zM224.1 697.6h11.9v1h-11.9zM224.1 726.6h11.9v1h-11.9zM224.1 738.6h11.9v1h-11.9zM224.1 782.6h11.9v2h-11.9zM224.1 793.6h11.9v1h-11.9zM224.1 797.6h11.9v1h-11.9zM236 747.6h11.9v1h-11.9zM236 764.6h11.9v1h-11.9zM236 779.6h11.9v1h-11.9zM236 795.6h11.9v1h-11.9zM236 800.6h11.9v1h-11.9zM247.8 775.6h11.9v1h-11.9zM247.8 784.6h11.9v1h-11.9zM247.8 796.6h11.9v1h-11.9z"/><path fill="#ededff" d="M81.8 744.6h11.9v1h-11.9zM81.8 753.6h11.9v1h-11.9zM81.8 763.6h11.9v1h-11.9zM81.8 795.6h11.9v1h-11.9zM81.8 797.6h11.9v1h-11.9zM93.7 570.5h11.9v1h-11.9zM93.7 606.5h11.9v1h-11.9zM93.7 619.5h11.9v1h-11.9zM93.7 679.5h11.9v1h-11.9zM93.7 701.6h11.9v1h-11.9zM93.7 711.6h11.9v1h-11.9zM93.7 756.6h11.9v1h-11.9zM93.7 759.6h11.9v1h-11.9zM93.7 783.6h11.9v1h-11.9zM93.7 798.6h11.9v1h-11.9zM105.5 574.5h11.9v1h-11.9zM105.5 576.5h11.9v1h-11.9zM105.5 601.5h11.9v1h-11.9zM105.5 621.5h11.9v1h-11.9zM105.5 625.5h11.9v1h-11.9zM105.5 637.5h11.9v1h-11.9zM105.5 655.5h11.9v1h-11.9zM105.5 687.6h11.9v1h-11.9zM105.5 691.6h11.9v2h-11.9zM105.5 707.6h11.9v1h-11.9zM105.5 745.6h11.9v1h-11.9zM105.5 778.6h11.9v1h-11.9zM105.5 789.6h11.9v1h-11.9zM105.5 799.6h11.9v1h-11.9zM117.4 722.6h11.9v1h-11.9zM117.4 757.6h11.9v1h-11.9zM117.4 762.6h11.9v1h-11.9zM117.4 764.6h11.9v1h-11.9zM117.4 774.6h11.9v1h-11.9zM117.4 800.6h11.9v1h-11.9zM129.2 594.5h11.9v1h-11.9zM129.2 652.5h11.9v1h-11.9zM129.2 662.5h11.9v1h-11.9zM129.2 715.6h11.9v1h-11.9zM129.2 728.6h11.9v1h-11.9zM129.2 739.6h11.9v1h-11.9zM129.2 745.6h11.9v1h-11.9zM129.2 775.6h11.9v1h-11.9zM129.2 798.6h11.9v1h-11.9zM129.2 803.6h11.9v1h-11.9zM141.1 596.5h11.9v1h-11.9zM141.1 653.5h11.9v1h-11.9zM141.1 795.6h11.9v2h-11.9zM153 688.6h11.9v1h-11.9zM153 691.6h11.9v1h-11.9zM153 724.6h11.9v1h-11.9zM153 731.6h11.9v1h-11.9zM153 778.6h11.9v1h-11.9zM153 791.6h11.9v1h-11.9zM153 797.6h11.9v2h-11.9zM164.8 742.6h11.9v1h-11.9zM164.8 755.6h11.9v1h-11.9zM164.8 761.6h11.9v1h-11.9zM164.8 796.6h11.9v1h-11.9zM164.8 800.6h11.9v1h-11.9zM164.8 805.6h11.9v1h-11.9zM176.7 577.5h11.9v1h-11.9zM176.7 598.5h11.9v1h-11.9zM176.7 641.5h11.9v1h-11.9zM176.7 647.5h11.9v1h-11.9zM176.7 726.6h11.9v1h-11.9zM176.7 735.6h11.9v1h-11.9zM176.7 748.6h11.9v1h-11.9zM176.7 750.6h11.9v1h-11.9zM176.7 755.6h11.9v1h-11.9zM176.7 773.6h11.9v1h-11.9zM176.7 785.6h11.9v1h-11.9zM188.5 568.5h11.9v1h-11.9zM188.5 591.5h11.9v1h-11.9zM188.5 686.6h11.9v1h-11.9zM188.5 689.6h11.9v1h-11.9zM188.5 707.6h11.9v1h-11.9zM188.5 714.6h11.9v1h-11.9zM188.5 734.6h11.9v1h-11.9zM188.5 746.6h11.9v1h-11.9zM188.5 748.6h11.9v1h-11.9zM188.5 797.6h11.9v1h-11.9zM212.3 564.5h11.9v1h-11.9zM212.3 754.6h11.9v1h-11.9zM224.1 641.5h11.9v1h-11.9zM224.1 648.5h11.9v1h-11.9zM224.1 663.5h11.9v1h-11.9zM224.1 666.5h11.9v1h-11.9zM224.1 669.5h11.9v1h-11.9zM224.1 680.5h11.9v1h-11.9zM224.1 684.5h11.9v1h-11.9zM224.1 699.6h11.9v1h-11.9zM224.1 713.6h11.9v1h-11.9zM236 608.5h11.9v1h-11.9zM236 682.5h11.9v1h-11.9zM236 684.5h11.9v1h-11.9zM247.8 583.5h11.9v1h-11.9zM247.8 690.6h11.9v1h-11.9z"/><path fill="#afafff" d="M81.8 573.5h11.9v1h-11.9zM81.8 594.5h11.9v1h-11.9zM81.8 602.5h11.9v1h-11.9zM81.8 606.5h11.9v1h-11.9zM81.8 634.5h11.9v1h-11.9zM81.8 652.5h11.9v1h-11.9zM81.8 655.5h11.9v2h-11.9zM81.8 687.6h11.9v1h-11.9zM81.8 694.6h11.9v1h-11.9zM81.8 699.6h11.9v1h-11.9zM81.8 703.6h11.9v1h-11.9zM81.8 716.6h11.9v1h-11.9zM81.8 719.6h11.9v1h-11.9zM81.8 727.6h11.9v1h-11.9zM81.8 737.6h11.9v1h-11.9zM81.8 739.6h11.9v1h-11.9zM81.8 779.6h11.9v1h-11.9zM81.8 792.6h11.9v1h-11.9zM93.7 636.5h11.9v1h-11.9zM93.7 641.5h11.9v1h-11.9zM93.7 801.6h11.9v1h-11.9zM105.5 585.5h11.9v1h-11.9zM105.5 600.5h11.9v1h-11.9zM105.5 744.6h11.9v1h-11.9zM117.4 734.6h11.9v1h-11.9zM117.4 738.6h11.9v1h-11.9zM117.4 794.6h11.9v1h-11.9zM129.2 759.6h11.9v1h-11.9zM141.1 722.6h11.9v2h-11.9zM141.1 725.6h11.9v2h-11.9zM141.1 731.6h11.9v1h-11.9zM141.1 733.6h11.9v1h-11.9zM141.1 735.6h11.9v1h-11.9zM141.1 767.6h11.9v1h-11.9zM141.1 773.6h11.9v1h-11.9zM141.1 790.6h11.9v1h-11.9zM141.1 794.6h11.9v1h-11.9zM153 743.6h11.9v1h-11.9zM153 759.6h11.9v1h-11.9zM153 784.6h11.9v1h-11.9zM164.8 727.6h11.9v1h-11.9zM164.8 740.6h11.9v1h-11.9zM164.8 759.6h11.9v1h-11.9zM164.8 767.6h11.9v1h-11.9zM164.8 774.6h11.9v1h-11.9zM164.8 777.6h11.9v2h-11.9zM164.8 789.6h11.9v1h-11.9zM164.8 792.6h11.9v1h-11.9zM176.7 760.6h11.9v1h-11.9zM176.7 771.6h11.9v1h-11.9zM188.5 723.6h11.9v1h-11.9zM188.5 747.6h11.9v1h-11.9zM188.5 764.6h11.9v1h-11.9zM188.5 778.6h11.9v1h-11.9zM188.5 801.6h11.9v1h-11.9zM200.4 611.5h11.9v1h-11.9zM200.4 614.5h11.9v1h-11.9zM200.4 625.5h11.9v1h-11.9zM200.4 628.5h11.9v1h-11.9zM200.4 644.5h11.9v1h-11.9zM200.4 679.5h11.9v1h-11.9zM200.4 684.5h11.9v1h-11.9zM200.4 690.6h11.9v1h-11.9zM200.4 693.6h11.9v1h-11.9zM200.4 698.6h11.9v1h-11.9zM200.4 706.6h11.9v1h-11.9zM212.3 570.5h11.9v1h-11.9zM212.3 588.5h11.9v1h-11.9zM212.3 604.5h11.9v1h-11.9zM212.3 621.5h11.9v1h-11.9zM212.3 644.5h11.9v2h-11.9zM212.3 667.5h11.9v1h-11.9zM212.3 684.5h11.9v1h-11.9zM212.3 692.6h11.9v1h-11.9zM212.3 695.6h11.9v1h-11.9zM212.3 716.6h11.9v1h-11.9zM224.1 585.5h11.9v1h-11.9zM224.1 600.5h11.9v1h-11.9zM224.1 620.5h11.9v1h-11.9zM224.1 685.6h11.9v1h-11.9zM224.1 689.6h11.9v1h-11.9zM224.1 712.6h11.9v1h-11.9zM236 564.5h11.9v1h-11.9zM236 589.5h11.9v1h-11.9zM236 624.5h11.9v3h-11.9zM236 629.5h11.9v1h-11.9zM236 631.5h11.9v1h-11.9zM236 644.5h11.9v1h-11.9zM236 651.5h11.9v1h-11.9zM236 672.5h11.9v1h-11.9zM236 691.6h11.9v1h-11.9zM236 715.6h11.9v2h-11.9zM247.8 564.5h11.9v1h-11.9zM247.8 592.5h11.9v1h-11.9zM247.8 616.5h11.9v1h-11.9zM247.8 632.5h11.9v2h-11.9zM247.8 654.5h11.9v1h-11.9zM247.8 664.5h11.9v1h-11.9zM247.8 678.5h11.9v1h-11.9zM247.8 688.6h11.9v1h-11.9zM247.8 712.6h11.9v1h-11.9zM247.8 715.6h11.9v1h-11.9z"/><path fill="#7979ff" d="M81.8 565.5h11.9v1h-11.9zM81.8 568.5h11.9v2h-11.9zM81.8 575.5h11.9v1h-11.9zM81.8 583.5h11.9v1h-11.9zM81.8 600.5h11.9v1h-11.9zM81.8 608.5h11.9v1h-11.9zM81.8 641.5h11.9v2h-11.9zM81.8 645.5h11.9v1h-11.9zM81.8 654.5h11.9v1h-11.9zM81.8 664.5h11.9v1h-11.9zM81.8 666.5h11.9v1h-11.9zM81.8 701.6h11.9v1h-11.9zM117.4 733.6h11.9v1h-11.9zM117.4 739.6h11.9v1h-11.9zM117.4 754.6h11.9v1h-11.9zM141.1 727.6h11.9v1h-11.9zM141.1 768.6h11.9v1h-11.9zM141.1 793.6h11.9v1h-11.9zM153 741.6h11.9v1h-11.9zM153 770.6h11.9v1h-11.9zM164.8 737.6h11.9v2h-11.9zM176.7 758.6h11.9v1h-11.9zM188.5 762.6h11.9v1h-11.9zM200.4 576.5h11.9v1h-11.9zM200.4 598.5h11.9v1h-11.9zM200.4 624.5h11.9v1h-11.9zM200.4 634.5h11.9v1h-11.9zM200.4 653.5h11.9v1h-11.9zM200.4 675.5h11.9v1h-11.9zM200.4 721.6h11.9v1h-11.9zM212.3 573.5h11.9v1h-11.9zM212.3 595.5h11.9v1h-11.9zM212.3 601.5h11.9v1h-11.9zM212.3 612.5h11.9v1h-11.9zM212.3 616.5h11.9v1h-11.9zM212.3 638.5h11.9v1h-11.9zM212.3 662.5h11.9v2h-11.9zM212.3 666.5h11.9v1h-11.9zM212.3 696.6h11.9v1h-11.9zM236 611.5h11.9v1h-11.9zM236 615.5h11.9v1h-11.9zM236 659.5h11.9v1h-11.9zM247.8 569.5h11.9v1h-11.9zM247.8 575.5h11.9v1h-11.9zM247.8 591.5h11.9v1h-11.9zM247.8 596.5h11.9v1h-11.9zM247.8 603.5h11.9v1h-11.9zM247.8 610.5h11.9v1h-11.9zM247.8 622.5h11.9v1h-11.9zM247.8 631.5h11.9v1h-11.9zM247.8 642.5h11.9v1h-11.9zM247.8 655.5h11.9v1h-11.9zM247.8 657.5h11.9v2h-11.9zM247.8 668.5h11.9v1h-11.9zM247.8 687.6h11.9v1h-11.9z"/><path fill="#ffafaf" d="M93.7 576.5h11.9v1h-11.9zM93.7 687.6h11.9v1h-11.9zM93.7 723.6h11.9v1h-11.9zM93.7 757.6h11.9v1h-11.9zM93.7 796.6h11.9v1h-11.9zM105.5 578.5h11.9v1h-11.9zM105.5 633.5h11.9v1h-11.9zM105.5 645.5h11.9v1h-11.9zM105.5 672.5h11.9v1h-11.9zM105.5 690.6h11.9v1h-11.9zM105.5 717.6h11.9v1h-11.9zM105.5 732.6h11.9v1h-11.9zM105.5 768.6h11.9v1h-11.9zM117.4 567.5h11.9v1h-11.9zM117.4 575.5h11.9v1h-11.9zM117.4 584.5h11.9v1h-11.9zM117.4 589.5h11.9v1h-11.9zM117.4 598.5h11.9v1h-11.9zM117.4 607.5h11.9v1h-11.9zM117.4 633.5h11.9v1h-11.9zM117.4 643.5h11.9v1h-11.9zM117.4 649.5h11.9v1h-11.9zM117.4 659.5h11.9v1h-11.9zM117.4 676.5h11.9v1h-11.9zM117.4 687.6h11.9v1h-11.9zM117.4 691.6h11.9v1h-11.9zM117.4 707.6h11.9v1h-11.9zM117.4 720.6h11.9v1h-11.9zM129.2 565.5h11.9v2h-11.9zM129.2 574.5h11.9v1h-11.9zM129.2 576.5h11.9v1h-11.9zM129.2 581.5h11.9v1h-11.9zM129.2 596.5h11.9v1h-11.9zM129.2 598.5h11.9v1h-11.9zM129.2 616.5h11.9v1h-11.9zM129.2 621.5h11.9v1h-11.9zM129.2 636.5h11.9v1h-11.9zM129.2 658.5h11.9v1h-11.9zM129.2 661.5h11.9v1h-11.9zM129.2 663.5h11.9v2h-11.9zM129.2 666.5h11.9v1h-11.9zM129.2 669.5h11.9v1h-11.9zM129.2 676.5h11.9v1h-11.9zM129.2 678.5h11.9v1h-11.9zM129.2 680.5h11.9v1h-11.9zM129.2 689.6h11.9v1h-11.9zM141.1 566.5h11.9v1h-11.9zM141.1 583.5h11.9v1h-11.9zM141.1 626.5h11.9v1h-11.9zM141.1 650.5h11.9v1h-11.9zM141.1 660.5h11.9v1h-11.9zM141.1 687.6h11.9v2h-11.9zM141.1 702.6h11.9v1h-11.9zM141.1 720.6h11.9v1h-11.9zM153 572.5h11.9v1h-11.9zM153 588.5h11.9v1h-11.9zM153 605.5h11.9v1h-11.9zM153 611.5h11.9v1h-11.9zM153 614.5h11.9v1h-11.9zM153 620.5h11.9v1h-11.9zM153 623.5h11.9v1h-11.9zM153 644.5h11.9v1h-11.9zM153 658.5h11.9v1h-11.9zM153 700.6h11.9v1h-11.9zM153 710.6h11.9v1h-11.9zM164.8 580.5h11.9v1h-11.9zM164.8 583.5h11.9v1h-11.9zM164.8 586.5h11.9v2h-11.9zM164.8 591.5h11.9v1h-11.9zM164.8 601.5h11.9v1h-11.9zM164.8 603.5h11.9v1h-11.9zM164.8 621.5h11.9v1h-11.9zM164.8 624.5h11.9v1h-11.9zM164.8 629.5h11.9v1h-11.9zM164.8 654.5h11.9v1h-11.9zM164.8 660.5h11.9v1h-11.9zM164.8 668.5h11.9v1h-11.9zM164.8 671.5h11.9v2h-11.9zM164.8 676.5h11.9v1h-11.9zM164.8 688.6h11.9v1h-11.9zM164.8 708.6h11.9v1h-11.9zM164.8 717.6h11.9v1h-11.9zM176.7 568.5h11.9v1h-11.9zM176.7 579.5h11.9v1h-11.9zM176.7 608.5h11.9v1h-11.9zM176.7 650.5h11.9v1h-11.9zM176.7 653.5h11.9v1h-11.9zM176.7 660.5h11.9v1h-11.9zM176.7 705.6h11.9v1h-11.9zM176.7 710.6h11.9v1h-11.9zM188.5 579.5h11.9v1h-11.9zM188.5 595.5h11.9v1h-11.9zM188.5 698.6h11.9v1h-11.9zM188.5 711.6h11.9v1h-11.9zM200.4 731.6h11.9v1h-11.9zM200.4 773.6h11.9v1h-11.9zM200.4 778.6h11.9v1h-11.9zM200.4 780.6h11.9v1h-11.9zM200.4 787.6h11.9v1h-11.9zM200.4 790.6h11.9v1h-11.9zM200.4 793.6h11.9v1h-11.9zM212.3 730.6h11.9v1h-11.9zM212.3 736.6h11.9v1h-11.9zM224.1 717.6h11.9v1h-11.9zM224.1 724.6h11.9v1h-11.9zM224.1 728.6h11.9v2h-11.9zM224.1 739.6h11.9v1h-11.9zM224.1 746.6h11.9v1h-11.9zM224.1 750.6h11.9v1h-11.9zM224.1 761.6h11.9v1h-11.9zM224.1 778.6h11.9v1h-11.9zM236 724.6h11.9v1h-11.9zM236 726.6h11.9v2h-11.9zM236 731.6h11.9v1h-11.9zM236 792.6h11.9v1h-11.9zM247.8 769.6h11.9v2h-11.9z"/><path fill="#ff9d9d" d="M93.7 754.6h11.9v2h-11.9zM105.5 623.5h11.9v1h-11.9zM105.5 689.6h11.9v1h-11.9zM105.5 720.6h11.9v1h-11.9zM117.4 591.5h11.9v1h-11.9zM117.4 609.5h11.9v1h-11.9zM117.4 612.5h11.9v1h-11.9zM117.4 614.5h11.9v1h-11.9zM117.4 626.5h11.9v1h-11.9zM117.4 652.5h11.9v2h-11.9zM117.4 680.5h11.9v1h-11.9zM129.2 582.5h11.9v1h-11.9zM129.2 626.5h11.9v2h-11.9zM129.2 695.6h11.9v1h-11.9zM129.2 698.6h11.9v2h-11.9zM141.1 565.5h11.9v1h-11.9zM141.1 572.5h11.9v1h-11.9zM141.1 620.5h11.9v1h-11.9zM141.1 622.5h11.9v1h-11.9zM141.1 637.5h11.9v1h-11.9zM141.1 639.5h11.9v1h-11.9zM141.1 642.5h11.9v1h-11.9zM141.1 646.5h11.9v1h-11.9zM141.1 701.6h11.9v1h-11.9zM153 576.5h11.9v1h-11.9zM153 631.5h11.9v1h-11.9zM153 639.5h11.9v1h-11.9zM153 646.5h11.9v2h-11.9zM153 650.5h11.9v1h-11.9zM153 678.5h11.9v1h-11.9zM153 680.5h11.9v1h-11.9zM153 719.6h11.9v1h-11.9zM164.8 573.5h11.9v1h-11.9zM164.8 576.5h11.9v1h-11.9zM164.8 578.5h11.9v1h-11.9zM164.8 650.5h11.9v2h-11.9zM164.8 658.5h11.9v1h-11.9zM164.8 695.6h11.9v1h-11.9zM164.8 704.6h11.9v1h-11.9zM164.8 715.6h11.9v1h-11.9zM176.7 573.5h11.9v1h-11.9zM176.7 587.5h11.9v1h-11.9zM176.7 619.5h11.9v1h-11.9zM176.7 659.5h11.9v1h-11.9zM176.7 683.5h11.9v1h-11.9zM176.7 685.6h11.9v1h-11.9zM176.7 688.6h11.9v1h-11.9zM176.7 697.6h11.9v1h-11.9zM176.7 699.6h11.9v2h-11.9zM188.5 599.5h11.9v1h-11.9zM188.5 626.5h11.9v1h-11.9zM188.5 638.5h11.9v1h-11.9zM200.4 726.6h11.9v1h-11.9zM200.4 738.6h11.9v2h-11.9zM200.4 751.6h11.9v1h-11.9zM200.4 756.6h11.9v1h-11.9zM200.4 766.6h11.9v1h-11.9zM200.4 784.6h11.9v1h-11.9zM200.4 786.6h11.9v1h-11.9zM200.4 796.6h11.9v1h-11.9zM212.3 747.6h11.9v2h-11.9zM212.3 751.6h11.9v1h-11.9zM212.3 767.6h11.9v1h-11.9zM212.3 785.6h11.9v1h-11.9zM224.1 638.5h11.9v1h-11.9zM224.1 722.6h11.9v2h-11.9zM224.1 733.6h11.9v1h-11.9zM224.1 740.6h11.9v1h-11.9zM224.1 748.6h11.9v1h-11.9zM224.1 756.6h11.9v1h-11.9zM224.1 780.6h11.9v1h-11.9zM236 723.6h11.9v1h-11.9zM236 732.6h11.9v1h-11.9zM236 744.6h11.9v1h-11.9zM236 748.6h11.9v1h-11.9zM236 753.6h11.9v1h-11.9zM236 765.6h11.9v1h-11.9zM236 767.6h11.9v1h-11.9zM236 797.6h11.9v1h-11.9zM236 801.6h11.9v1h-11.9zM247.8 742.6h11.9v1h-11.9zM247.8 778.6h11.9v1h-11.9zM247.8 786.6h11.9v1h-11.9zM247.8 792.6h11.9v1h-11.9z"/><path fill="#ffb8b8" d="M93.7 604.5h11.9v1h-11.9zM93.7 660.5h11.9v1h-11.9zM93.7 673.5h11.9v1h-11.9zM93.7 690.6h11.9v1h-11.9zM93.7 706.6h11.9v1h-11.9zM93.7 722.6h11.9v1h-11.9zM93.7 744.6h11.9v1h-11.9zM93.7 769.6h11.9v1h-11.9zM105.5 581.5h11.9v1h-11.9zM105.5 624.5h11.9v1h-11.9zM105.5 629.5h11.9v2h-11.9zM105.5 632.5h11.9v1h-11.9zM105.5 718.6h11.9v1h-11.9zM105.5 733.6h11.9v1h-11.9zM117.4 571.5h11.9v1h-11.9zM117.4 574.5h11.9v1h-11.9zM117.4 594.5h11.9v1h-11.9zM117.4 604.5h11.9v1h-11.9zM117.4 611.5h11.9v1h-11.9zM117.4 621.5h11.9v1h-11.9zM117.4 658.5h11.9v1h-11.9zM117.4 660.5h11.9v2h-11.9zM117.4 678.5h11.9v1h-11.9zM117.4 681.5h11.9v1h-11.9zM117.4 690.6h11.9v1h-11.9zM117.4 692.6h11.9v1h-11.9zM117.4 709.6h11.9v1h-11.9zM117.4 712.6h11.9v1h-11.9zM117.4 721.6h11.9v1h-11.9zM129.2 567.5h11.9v2h-11.9zM129.2 573.5h11.9v1h-11.9zM129.2 588.5h11.9v1h-11.9zM129.2 609.5h11.9v2h-11.9zM129.2 625.5h11.9v1h-11.9zM129.2 628.5h11.9v1h-11.9zM129.2 630.5h11.9v2h-11.9zM129.2 635.5h11.9v1h-11.9zM129.2 637.5h11.9v1h-11.9zM129.2 642.5h11.9v1h-11.9zM129.2 651.5h11.9v1h-11.9zM129.2 672.5h11.9v1h-11.9zM129.2 674.5h11.9v1h-11.9zM129.2 696.6h11.9v1h-11.9zM129.2 701.6h11.9v1h-11.9zM129.2 708.6h11.9v1h-11.9zM129.2 711.6h11.9v1h-11.9zM129.2 717.6h11.9v1h-11.9zM141.1 573.5h11.9v1h-11.9zM141.1 587.5h11.9v1h-11.9zM141.1 600.5h11.9v1h-11.9zM141.1 618.5h11.9v2h-11.9zM141.1 631.5h11.9v1h-11.9zM141.1 657.5h11.9v1h-11.9zM141.1 694.6h11.9v1h-11.9zM141.1 699.6h11.9v1h-11.9zM141.1 710.6h11.9v1h-11.9zM141.1 745.6h11.9v1h-11.9zM153 565.5h11.9v1h-11.9zM153 569.5h11.9v1h-11.9zM153 573.5h11.9v1h-11.9zM153 601.5h11.9v1h-11.9zM153 604.5h11.9v1h-11.9zM153 630.5h11.9v1h-11.9zM153 649.5h11.9v1h-11.9zM153 655.5h11.9v1h-11.9zM153 667.5h11.9v1h-11.9zM153 670.5h11.9v1h-11.9zM153 693.6h11.9v1h-11.9zM153 696.6h11.9v2h-11.9zM153 711.6h11.9v1h-11.9zM164.8 588.5h11.9v1h-11.9zM164.8 607.5h11.9v1h-11.9zM164.8 626.5h11.9v1h-11.9zM164.8 682.5h11.9v1h-11.9zM164.8 693.6h11.9v1h-11.9zM164.8 703.6h11.9v1h-11.9zM164.8 714.6h11.9v1h-11.9zM176.7 578.5h11.9v1h-11.9zM176.7 601.5h11.9v1h-11.9zM176.7 604.5h11.9v1h-11.9zM176.7 614.5h11.9v1h-11.9zM176.7 630.5h11.9v1h-11.9zM176.7 636.5h11.9v2h-11.9zM176.7 643.5h11.9v1h-11.9zM176.7 661.5h11.9v1h-11.9zM176.7 678.5h11.9v1h-11.9zM176.7 704.6h11.9v1h-11.9zM176.7 714.6h11.9v1h-11.9zM176.7 720.6h11.9v1h-11.9zM188.5 581.5h11.9v1h-11.9zM188.5 590.5h11.9v1h-11.9zM188.5 620.5h11.9v1h-11.9zM188.5 637.5h11.9v1h-11.9zM188.5 642.5h11.9v1h-11.9zM188.5 649.5h11.9v1h-11.9zM188.5 651.5h11.9v1h-11.9zM188.5 661.5h11.9v1h-11.9zM188.5 690.6h11.9v1h-11.9zM188.5 702.6h11.9v1h-11.9zM188.5 718.6h11.9v1h-11.9zM188.5 805.6h11.9v1h-11.9zM200.4 724.6h11.9v2h-11.9zM200.4 729.6h11.9v2h-11.9zM200.4 734.6h11.9v1h-11.9zM200.4 737.6h11.9v1h-11.9zM200.4 788.6h11.9v1h-11.9zM200.4 805.6h11.9v1h-11.9zM212.3 723.6h11.9v1h-11.9zM212.3 726.6h11.9v1h-11.9zM212.3 729.6h11.9v1h-11.9zM212.3 737.6h11.9v1h-11.9zM212.3 744.6h11.9v1h-11.9zM212.3 749.6h11.9v1h-11.9zM212.3 805.6h11.9v1h-11.9zM224.1 575.5h11.9v1h-11.9zM224.1 628.5h11.9v1h-11.9zM224.1 642.5h11.9v1h-11.9zM224.1 705.6h11.9v1h-11.9zM224.1 731.6h11.9v1h-11.9zM224.1 758.6h11.9v1h-11.9zM236 728.6h11.9v1h-11.9zM236 739.6h11.9v1h-11.9zM236 754.6h11.9v1h-11.9zM236 785.6h11.9v1h-11.9zM236 793.6h11.9v1h-11.9zM236 796.6h11.9v1h-11.9zM236 805.6h11.9v1h-11.9zM247.8 739.6h11.9v1h-11.9zM247.8 745.6h11.9v1h-11.9zM247.8 766.6h11.9v2h-11.9zM247.8 772.6h11.9v1h-11.9zM247.8 777.6h11.9v1h-11.9zM247.8 781.6h11.9v1h-11.9zM247.8 787.6h11.9v1h-11.9zM247.8 802.6h11.9v1h-11.9zM247.8 804.6h11.9v1h-11.9z"/><path fill="#ffc1c1" d="M93.7 577.5h11.9v1h-11.9zM93.7 589.5h11.9v1h-11.9zM93.7 592.5h11.9v1h-11.9zM93.7 621.5h11.9v1h-11.9zM93.7 658.5h11.9v1h-11.9zM93.7 714.6h11.9v1h-11.9zM93.7 764.6h11.9v1h-11.9zM93.7 770.6h11.9v1h-11.9zM93.7 774.6h11.9v1h-11.9zM93.7 778.6h11.9v1h-11.9zM105.5 570.5h11.9v1h-11.9zM105.5 579.5h11.9v1h-11.9zM105.5 583.5h11.9v1h-11.9zM105.5 636.5h11.9v1h-11.9zM105.5 650.5h11.9v1h-11.9zM105.5 786.6h11.9v1h-11.9zM117.4 570.5h11.9v1h-11.9zM117.4 579.5h11.9v1h-11.9zM117.4 581.5h11.9v1h-11.9zM117.4 586.5h11.9v1h-11.9zM117.4 595.5h11.9v1h-11.9zM117.4 602.5h11.9v2h-11.9zM117.4 622.5h11.9v1h-11.9zM117.4 642.5h11.9v1h-11.9zM117.4 670.5h11.9v1h-11.9zM117.4 685.6h11.9v1h-11.9zM117.4 694.6h11.9v1h-11.9zM117.4 702.6h11.9v2h-11.9zM129.2 571.5h11.9v1h-11.9zM129.2 575.5h11.9v1h-11.9zM129.2 607.5h11.9v1h-11.9zM129.2 613.5h11.9v1h-11.9zM129.2 622.5h11.9v1h-11.9zM129.2 650.5h11.9v1h-11.9zM129.2 700.6h11.9v1h-11.9zM129.2 705.6h11.9v1h-11.9zM129.2 718.6h11.9v1h-11.9zM141.1 577.5h11.9v1h-11.9zM141.1 584.5h11.9v2h-11.9zM141.1 610.5h11.9v1h-11.9zM141.1 614.5h11.9v1h-11.9zM141.1 628.5h11.9v1h-11.9zM141.1 640.5h11.9v1h-11.9zM141.1 649.5h11.9v1h-11.9zM141.1 666.5h11.9v1h-11.9zM141.1 670.5h11.9v1h-11.9zM141.1 672.5h11.9v1h-11.9zM141.1 678.5h11.9v1h-11.9zM141.1 681.5h11.9v1h-11.9zM141.1 719.6h11.9v1h-11.9zM153 567.5h11.9v1h-11.9zM153 574.5h11.9v1h-11.9zM153 577.5h11.9v1h-11.9zM153 584.5h11.9v1h-11.9zM153 591.5h11.9v1h-11.9zM153 665.5h11.9v1h-11.9zM153 673.5h11.9v1h-11.9zM153 675.5h11.9v1h-11.9zM153 683.5h11.9v1h-11.9zM153 690.6h11.9v1h-11.9zM153 705.6h11.9v1h-11.9zM164.8 565.5h11.9v1h-11.9zM164.8 579.5h11.9v1h-11.9zM164.8 585.5h11.9v1h-11.9zM164.8 606.5h11.9v1h-11.9zM164.8 609.5h11.9v2h-11.9zM164.8 646.5h11.9v1h-11.9zM164.8 653.5h11.9v1h-11.9zM164.8 670.5h11.9v1h-11.9zM164.8 692.6h11.9v1h-11.9zM176.7 580.5h11.9v1h-11.9zM176.7 586.5h11.9v1h-11.9zM176.7 623.5h11.9v1h-11.9zM176.7 626.5h11.9v1h-11.9zM176.7 686.6h11.9v2h-11.9zM176.7 713.6h11.9v1h-11.9zM188.5 588.5h11.9v1h-11.9zM188.5 598.5h11.9v1h-11.9zM188.5 604.5h11.9v1h-11.9zM188.5 617.5h11.9v1h-11.9zM188.5 622.5h11.9v1h-11.9zM188.5 635.5h11.9v2h-11.9zM188.5 648.5h11.9v1h-11.9zM188.5 652.5h11.9v1h-11.9zM188.5 655.5h11.9v2h-11.9zM188.5 685.6h11.9v1h-11.9zM188.5 697.6h11.9v1h-11.9zM188.5 712.6h11.9v2h-11.9zM188.5 751.6h11.9v1h-11.9zM200.4 728.6h11.9v1h-11.9zM200.4 735.6h11.9v1h-11.9zM200.4 744.6h11.9v1h-11.9zM200.4 750.6h11.9v1h-11.9zM200.4 760.6h11.9v1h-11.9zM200.4 768.6h11.9v1h-11.9zM200.4 785.6h11.9v1h-11.9zM200.4 791.6h11.9v1h-11.9zM200.4 797.6h11.9v1h-11.9zM212.3 755.6h11.9v1h-11.9zM212.3 760.6h11.9v1h-11.9zM212.3 786.6h11.9v1h-11.9zM224.1 574.5h11.9v1h-11.9zM224.1 578.5h11.9v1h-11.9zM224.1 715.6h11.9v1h-11.9zM224.1 751.6h11.9v1h-11.9zM224.1 762.6h11.9v1h-11.9zM224.1 764.6h11.9v1h-11.9zM224.1 774.6h11.9v1h-11.9zM224.1 787.6h11.9v2h-11.9zM236 738.6h11.9v1h-11.9zM236 769.6h11.9v1h-11.9zM236 771.6h11.9v1h-11.9zM236 804.6h11.9v1h-11.9zM247.8 744.6h11.9v1h-11.9zM247.8 788.6h11.9v2h-11.9zM247.8 798.6h11.9v1h-11.9z"/><path fill="#a6a6ff" d="M81.8 566.5h11.9v2h-11.9zM81.8 570.5h11.9v1h-11.9zM81.8 572.5h11.9v1h-11.9zM81.8 591.5h11.9v1h-11.9zM81.8 632.5h11.9v1h-11.9zM81.8 646.5h11.9v1h-11.9zM81.8 690.6h11.9v1h-11.9zM81.8 710.6h11.9v2h-11.9zM81.8 741.6h11.9v1h-11.9zM81.8 762.6h11.9v1h-11.9zM105.5 752.6h11.9v1h-11.9zM117.4 729.6h11.9v1h-11.9zM117.4 731.6h11.9v1h-11.9zM117.4 740.6h11.9v1h-11.9zM117.4 743.6h11.9v1h-11.9zM117.4 753.6h11.9v1h-11.9zM117.4 797.6h11.9v1h-11.9zM129.2 767.6h11.9v1h-11.9zM129.2 790.6h11.9v2h-11.9zM141.1 724.6h11.9v1h-11.9zM141.1 732.6h11.9v1h-11.9zM141.1 744.6h11.9v1h-11.9zM141.1 760.6h11.9v1h-11.9zM141.1 776.6h11.9v1h-11.9zM141.1 792.6h11.9v1h-11.9zM141.1 797.6h11.9v1h-11.9zM141.1 800.6h11.9v1h-11.9zM153 733.6h11.9v1h-11.9zM153 768.6h11.9v1h-11.9zM153 795.6h11.9v1h-11.9zM153 801.6h11.9v1h-11.9zM164.8 724.6h11.9v1h-11.9zM164.8 726.6h11.9v1h-11.9zM164.8 745.6h11.9v1h-11.9zM176.7 728.6h11.9v1h-11.9zM176.7 731.6h11.9v1h-11.9zM176.7 734.6h11.9v1h-11.9zM176.7 769.6h11.9v1h-11.9zM176.7 790.6h11.9v1h-11.9zM188.5 722.6h11.9v1h-11.9zM188.5 737.6h11.9v1h-11.9zM188.5 744.6h11.9v1h-11.9zM188.5 758.6h11.9v1h-11.9zM188.5 768.6h11.9v1h-11.9zM188.5 795.6h11.9v1h-11.9zM200.4 599.5h11.9v1h-11.9zM200.4 657.5h11.9v1h-11.9zM200.4 687.6h11.9v1h-11.9zM200.4 692.6h11.9v1h-11.9zM200.4 695.6h11.9v1h-11.9zM212.3 572.5h11.9v1h-11.9zM212.3 593.5h11.9v1h-11.9zM212.3 613.5h11.9v1h-11.9zM212.3 622.5h11.9v1h-11.9zM212.3 660.5h11.9v1h-11.9zM212.3 686.6h11.9v1h-11.9zM212.3 693.6h11.9v1h-11.9zM212.3 704.6h11.9v1h-11.9zM212.3 707.6h11.9v1h-11.9zM212.3 718.6h11.9v1h-11.9zM212.3 720.6h11.9v1h-11.9zM224.1 613.5h11.9v1h-11.9zM224.1 671.5h11.9v1h-11.9zM224.1 688.6h11.9v1h-11.9zM236 565.5h11.9v2h-11.9zM236 588.5h11.9v1h-11.9zM236 596.5h11.9v1h-11.9zM236 601.5h11.9v1h-11.9zM236 617.5h11.9v1h-11.9zM236 627.5h11.9v2h-11.9zM236 647.5h11.9v1h-11.9zM236 665.5h11.9v1h-11.9zM236 690.6h11.9v1h-11.9zM236 713.6h11.9v2h-11.9zM236 720.6h11.9v1h-11.9zM247.8 599.5h11.9v1h-11.9zM247.8 623.5h11.9v2h-11.9zM247.8 634.5h11.9v1h-11.9zM247.8 645.5h11.9v1h-11.9zM247.8 648.5h11.9v1h-11.9zM247.8 651.5h11.9v1h-11.9zM247.8 671.5h11.9v2h-11.9zM247.8 681.5h11.9v1h-11.9zM247.8 711.6h11.9v1h-11.9z"/><path fill="#6767ff" d="M81.8 596.5h11.9v1h-11.9zM81.8 665.5h11.9v1h-11.9zM81.8 688.6h11.9v1h-11.9zM141.1 798.6h11.9v1h-11.9zM164.8 765.6h11.9v1h-11.9zM176.7 727.6h11.9v1h-11.9zM200.4 613.5h11.9v1h-11.9zM200.4 647.5h11.9v1h-11.9zM200.4 673.5h11.9v1h-11.9zM200.4 678.5h11.9v1h-11.9zM200.4 683.5h11.9v1h-11.9zM200.4 703.6h11.9v1h-11.9zM212.3 566.5h11.9v1h-11.9zM212.3 583.5h11.9v1h-11.9zM212.3 590.5h11.9v1h-11.9zM212.3 609.5h11.9v1h-11.9zM212.3 611.5h11.9v1h-11.9zM212.3 633.5h11.9v1h-11.9zM212.3 651.5h11.9v1h-11.9zM212.3 656.5h11.9v1h-11.9zM212.3 674.5h11.9v1h-11.9zM212.3 680.5h11.9v1h-11.9zM212.3 705.6h11.9v1h-11.9zM212.3 708.6h11.9v1h-11.9zM236 641.5h11.9v1h-11.9zM236 653.5h11.9v1h-11.9zM236 688.6h11.9v2h-11.9zM247.8 565.5h11.9v1h-11.9zM247.8 580.5h11.9v1h-11.9zM247.8 585.5h11.9v1h-11.9zM247.8 602.5h11.9v1h-11.9zM247.8 605.5h11.9v2h-11.9zM247.8 636.5h11.9v1h-11.9zM247.8 650.5h11.9v1h-11.9zM247.8 673.5h11.9v1h-11.9zM247.8 696.6h11.9v1h-11.9zM247.8 707.6h11.9v1h-11.9z"/><path fill="#ffc9c9" d="M81.8 782.6h11.9v1h-11.9zM81.8 785.6h11.9v1h-11.9zM93.7 593.5h11.9v1h-11.9zM93.7 620.5h11.9v1h-11.9zM93.7 657.5h11.9v1h-11.9zM93.7 665.5h11.9v1h-11.9zM93.7 671.5h11.9v2h-11.9zM93.7 674.5h11.9v1h-11.9zM93.7 686.6h11.9v1h-11.9zM93.7 718.6h11.9v1h-11.9zM93.7 741.6h11.9v1h-11.9zM93.7 784.6h11.9v1h-11.9zM93.7 799.6h11.9v1h-11.9zM105.5 566.5h11.9v1h-11.9zM105.5 577.5h11.9v1h-11.9zM105.5 607.5h11.9v1h-11.9zM105.5 626.5h11.9v1h-11.9zM105.5 656.5h11.9v1h-11.9zM105.5 667.5h11.9v1h-11.9zM105.5 678.5h11.9v1h-11.9zM105.5 695.6h11.9v1h-11.9zM105.5 701.6h11.9v1h-11.9zM105.5 716.6h11.9v1h-11.9zM105.5 728.6h11.9v1h-11.9zM117.4 578.5h11.9v1h-11.9zM117.4 593.5h11.9v1h-11.9zM117.4 615.5h11.9v1h-11.9zM117.4 623.5h11.9v1h-11.9zM117.4 629.5h11.9v1h-11.9zM117.4 655.5h11.9v1h-11.9zM117.4 657.5h11.9v1h-11.9zM117.4 672.5h11.9v1h-11.9zM117.4 704.6h11.9v1h-11.9zM117.4 779.6h11.9v1h-11.9zM129.2 569.5h11.9v2h-11.9zM129.2 583.5h11.9v2h-11.9zM129.2 612.5h11.9v1h-11.9zM129.2 617.5h11.9v2h-11.9zM129.2 623.5h11.9v1h-11.9zM129.2 648.5h11.9v1h-11.9zM129.2 667.5h11.9v1h-11.9zM129.2 694.6h11.9v1h-11.9zM129.2 707.6h11.9v1h-11.9zM129.2 764.6h11.9v1h-11.9zM141.1 575.5h11.9v1h-11.9zM141.1 612.5h11.9v1h-11.9zM141.1 647.5h11.9v1h-11.9zM141.1 651.5h11.9v1h-11.9zM141.1 654.5h11.9v1h-11.9zM141.1 673.5h11.9v1h-11.9zM141.1 676.5h11.9v2h-11.9zM141.1 679.5h11.9v1h-11.9zM141.1 700.6h11.9v1h-11.9zM141.1 715.6h11.9v2h-11.9zM153 581.5h11.9v1h-11.9zM153 587.5h11.9v1h-11.9zM153 606.5h11.9v1h-11.9zM153 608.5h11.9v1h-11.9zM153 648.5h11.9v1h-11.9zM153 672.5h11.9v1h-11.9zM153 687.6h11.9v1h-11.9zM153 695.6h11.9v1h-11.9zM164.8 572.5h11.9v1h-11.9zM164.8 581.5h11.9v1h-11.9zM164.8 617.5h11.9v1h-11.9zM164.8 637.5h11.9v1h-11.9zM164.8 643.5h11.9v1h-11.9zM164.8 661.5h11.9v1h-11.9zM164.8 669.5h11.9v1h-11.9zM164.8 677.5h11.9v1h-11.9zM164.8 694.6h11.9v1h-11.9zM164.8 701.6h11.9v2h-11.9zM164.8 706.6h11.9v1h-11.9zM164.8 804.6h11.9v1h-11.9zM176.7 584.5h11.9v1h-11.9zM176.7 597.5h11.9v1h-11.9zM176.7 603.5h11.9v1h-11.9zM176.7 610.5h11.9v1h-11.9zM176.7 615.5h11.9v2h-11.9zM176.7 644.5h11.9v1h-11.9zM176.7 673.5h11.9v1h-11.9zM176.7 684.5h11.9v1h-11.9zM176.7 692.6h11.9v1h-11.9zM176.7 763.6h11.9v1h-11.9zM176.7 799.6h11.9v1h-11.9zM188.5 570.5h11.9v1h-11.9zM188.5 580.5h11.9v1h-11.9zM188.5 596.5h11.9v1h-11.9zM188.5 603.5h11.9v1h-11.9zM188.5 609.5h11.9v1h-11.9zM188.5 643.5h11.9v1h-11.9zM188.5 646.5h11.9v1h-11.9zM188.5 657.5h11.9v1h-11.9zM188.5 660.5h11.9v1h-11.9zM188.5 666.5h11.9v1h-11.9zM188.5 670.5h11.9v1h-11.9zM188.5 683.5h11.9v1h-11.9zM188.5 696.6h11.9v1h-11.9zM200.4 794.6h11.9v1h-11.9zM200.4 800.6h11.9v1h-11.9zM212.3 725.6h11.9v1h-11.9zM212.3 735.6h11.9v1h-11.9zM212.3 757.6h11.9v1h-11.9zM212.3 794.6h11.9v1h-11.9zM224.1 721.6h11.9v1h-11.9zM224.1 730.6h11.9v1h-11.9zM224.1 742.6h11.9v1h-11.9zM224.1 745.6h11.9v1h-11.9zM224.1 747.6h11.9v1h-11.9zM224.1 763.6h11.9v1h-11.9zM224.1 771.6h11.9v1h-11.9zM224.1 775.6h11.9v1h-11.9zM224.1 790.6h11.9v1h-11.9zM236 743.6h11.9v1h-11.9zM236 774.6h11.9v1h-11.9zM236 783.6h11.9v1h-11.9zM236 789.6h11.9v1h-11.9zM236 794.6h11.9v1h-11.9zM247.8 764.6h11.9v1h-11.9zM247.8 773.6h11.9v1h-11.9z"/><path fill="#9d9dff" d="M81.8 577.5h11.9v2h-11.9zM81.8 597.5h11.9v1h-11.9zM81.8 624.5h11.9v1h-11.9zM81.8 626.5h11.9v1h-11.9zM81.8 630.5h11.9v1h-11.9zM81.8 640.5h11.9v1h-11.9zM81.8 657.5h11.9v2h-11.9zM81.8 679.5h11.9v2h-11.9zM81.8 708.6h11.9v1h-11.9zM81.8 720.6h11.9v1h-11.9zM81.8 733.6h11.9v1h-11.9zM93.7 629.5h11.9v1h-11.9zM105.5 591.5h11.9v1h-11.9zM105.5 599.5h11.9v1h-11.9zM105.5 730.6h11.9v1h-11.9zM105.5 794.6h11.9v1h-11.9zM117.4 750.6h11.9v1h-11.9zM117.4 781.6h11.9v1h-11.9zM141.1 740.6h11.9v1h-11.9zM141.1 748.6h11.9v1h-11.9zM141.1 750.6h11.9v1h-11.9zM153 730.6h11.9v1h-11.9zM153 758.6h11.9v1h-11.9zM164.8 722.6h11.9v1h-11.9zM164.8 768.6h11.9v2h-11.9zM164.8 784.6h11.9v1h-11.9zM176.7 722.6h11.9v1h-11.9zM176.7 730.6h11.9v1h-11.9zM176.7 789.6h11.9v1h-11.9zM176.7 804.6h11.9v1h-11.9zM188.5 780.6h11.9v1h-11.9zM200.4 568.5h11.9v1h-11.9zM200.4 571.5h11.9v1h-11.9zM200.4 601.5h11.9v1h-11.9zM200.4 610.5h11.9v1h-11.9zM200.4 623.5h11.9v1h-11.9zM200.4 630.5h11.9v1h-11.9zM200.4 632.5h11.9v1h-11.9zM200.4 636.5h11.9v1h-11.9zM200.4 641.5h11.9v1h-11.9zM200.4 654.5h11.9v3h-11.9zM200.4 663.5h11.9v1h-11.9zM200.4 668.5h11.9v1h-11.9zM200.4 685.6h11.9v1h-11.9zM200.4 691.6h11.9v1h-11.9zM212.3 586.5h11.9v1h-11.9zM212.3 597.5h11.9v1h-11.9zM212.3 627.5h11.9v1h-11.9zM212.3 636.5h11.9v1h-11.9zM212.3 639.5h11.9v1h-11.9zM212.3 641.5h11.9v1h-11.9zM212.3 649.5h11.9v1h-11.9zM212.3 652.5h11.9v1h-11.9zM212.3 671.5h11.9v1h-11.9zM212.3 699.6h11.9v1h-11.9zM212.3 702.6h11.9v1h-11.9zM212.3 709.6h11.9v1h-11.9zM212.3 715.6h11.9v1h-11.9zM212.3 721.6h11.9v1h-11.9zM224.1 646.5h11.9v2h-11.9zM224.1 708.6h11.9v1h-11.9zM236 612.5h11.9v2h-11.9zM236 621.5h11.9v1h-11.9zM236 655.5h11.9v1h-11.9zM236 676.5h11.9v1h-11.9zM236 678.5h11.9v1h-11.9zM236 697.6h11.9v1h-11.9zM236 705.6h11.9v1h-11.9zM236 712.6h11.9v1h-11.9zM247.8 566.5h11.9v2h-11.9zM247.8 572.5h11.9v3h-11.9zM247.8 598.5h11.9v1h-11.9zM247.8 615.5h11.9v1h-11.9zM247.8 625.5h11.9v1h-11.9zM247.8 643.5h11.9v1h-11.9zM247.8 683.5h11.9v1h-11.9zM247.8 693.6h11.9v1h-11.9zM247.8 698.6h11.9v1h-11.9z"/><path fill="#ff7979" d="M117.4 569.5h11.9v1h-11.9zM117.4 577.5h11.9v1h-11.9zM117.4 646.5h11.9v1h-11.9zM117.4 654.5h11.9v1h-11.9zM117.4 656.5h11.9v1h-11.9zM117.4 689.6h11.9v1h-11.9zM129.2 599.5h11.9v1h-11.9zM129.2 710.6h11.9v1h-11.9zM141.1 580.5h11.9v1h-11.9zM141.1 602.5h11.9v1h-11.9zM141.1 704.6h11.9v1h-11.9zM153 598.5h11.9v1h-11.9zM153 612.5h11.9v1h-11.9zM153 618.5h11.9v1h-11.9zM153 632.5h11.9v1h-11.9zM153 698.6h11.9v1h-11.9zM164.8 569.5h11.9v1h-11.9zM164.8 618.5h11.9v1h-11.9zM164.8 638.5h11.9v1h-11.9zM164.8 648.5h11.9v1h-11.9zM176.7 567.5h11.9v1h-11.9zM176.7 591.5h11.9v1h-11.9zM176.7 620.5h11.9v2h-11.9zM176.7 640.5h11.9v1h-11.9zM176.7 649.5h11.9v1h-11.9zM176.7 665.5h11.9v1h-11.9zM176.7 698.6h11.9v1h-11.9zM188.5 693.6h11.9v1h-11.9zM188.5 704.6h11.9v1h-11.9zM200.4 733.6h11.9v1h-11.9zM200.4 736.6h11.9v1h-11.9zM200.4 772.6h11.9v1h-11.9zM200.4 776.6h11.9v1h-11.9zM212.3 732.6h11.9v1h-11.9zM212.3 765.6h11.9v1h-11.9zM212.3 774.6h11.9v1h-11.9zM224.1 753.6h11.9v2h-11.9zM224.1 791.6h11.9v1h-11.9zM236 734.6h11.9v1h-11.9zM236 741.6h11.9v1h-11.9zM236 758.6h11.9v1h-11.9zM236 763.6h11.9v1h-11.9zM247.8 725.6h11.9v1h-11.9zM247.8 733.6h11.9v1h-11.9zM247.8 750.6h11.9v1h-11.9zM247.8 755.6h11.9v1h-11.9zM247.8 761.6h11.9v1h-11.9z"/><path fill="#4c4cff" d="M81.8 669.5h11.9v1h-11.9zM81.8 692.6h11.9v1h-11.9zM81.8 732.6h11.9v1h-11.9zM200.4 569.5h11.9v1h-11.9zM200.4 584.5h11.9v1h-11.9zM200.4 587.5h11.9v1h-11.9zM200.4 596.5h11.9v1h-11.9zM200.4 608.5h11.9v1h-11.9zM200.4 621.5h11.9v1h-11.9zM200.4 642.5h11.9v1h-11.9zM200.4 652.5h11.9v1h-11.9zM200.4 661.5h11.9v1h-11.9zM200.4 680.5h11.9v1h-11.9zM200.4 694.6h11.9v1h-11.9zM200.4 700.6h11.9v1h-11.9zM200.4 717.6h11.9v1h-11.9zM212.3 567.5h11.9v1h-11.9zM212.3 582.5h11.9v1h-11.9zM212.3 640.5h11.9v1h-11.9zM212.3 657.5h11.9v1h-11.9zM212.3 665.5h11.9v1h-11.9zM212.3 677.5h11.9v1h-11.9zM212.3 703.6h11.9v1h-11.9zM212.3 713.6h11.9v1h-11.9zM247.8 578.5h11.9v2h-11.9z"/><path fill="#ff8282" d="M105.5 657.5h11.9v1h-11.9zM105.5 721.6h11.9v1h-11.9zM117.4 596.5h11.9v1h-11.9zM117.4 627.5h11.9v1h-11.9zM117.4 644.5h11.9v1h-11.9zM117.4 663.5h11.9v1h-11.9zM117.4 665.5h11.9v1h-11.9zM117.4 718.6h11.9v1h-11.9zM129.2 591.5h11.9v1h-11.9zM129.2 681.5h11.9v1h-11.9zM141.1 568.5h11.9v1h-11.9zM141.1 683.5h11.9v1h-11.9zM153 671.5h11.9v1h-11.9zM153 702.6h11.9v1h-11.9zM153 706.6h11.9v1h-11.9zM164.8 575.5h11.9v1h-11.9zM164.8 593.5h11.9v1h-11.9zM164.8 600.5h11.9v1h-11.9zM164.8 649.5h11.9v1h-11.9zM164.8 685.6h11.9v1h-11.9zM176.7 589.5h11.9v1h-11.9zM176.7 592.5h11.9v1h-11.9zM176.7 669.5h11.9v1h-11.9zM176.7 690.6h11.9v1h-11.9zM188.5 721.6h11.9v1h-11.9zM200.4 732.6h11.9v1h-11.9zM200.4 749.6h11.9v1h-11.9zM200.4 755.6h11.9v1h-11.9zM200.4 758.6h11.9v1h-11.9zM200.4 777.6h11.9v1h-11.9zM236 740.6h11.9v1h-11.9zM236 749.6h11.9v1h-11.9zM236 757.6h11.9v1h-11.9zM236 784.6h11.9v1h-11.9zM247.8 726.6h11.9v1h-11.9zM247.8 730.6h11.9v1h-11.9zM247.8 751.6h11.9v1h-11.9zM247.8 758.6h11.9v1h-11.9z"/><path fill="#d2d2ff" d="M81.8 571.5h11.9v1h-11.9zM81.8 576.5h11.9v1h-11.9zM81.8 610.5h11.9v1h-11.9zM81.8 612.5h11.9v2h-11.9zM81.8 616.5h11.9v1h-11.9zM81.8 647.5h11.9v1h-11.9zM81.8 649.5h11.9v1h-11.9zM81.8 707.6h11.9v1h-11.9zM81.8 723.6h11.9v1h-11.9zM81.8 731.6h11.9v1h-11.9zM81.8 751.6h11.9v1h-11.9zM81.8 761.6h11.9v1h-11.9zM81.8 802.6h11.9v2h-11.9zM93.7 580.5h11.9v1h-11.9zM93.7 587.5h11.9v1h-11.9zM93.7 622.5h11.9v1h-11.9zM93.7 626.5h11.9v1h-11.9zM93.7 645.5h11.9v1h-11.9zM93.7 664.5h11.9v1h-11.9zM93.7 680.5h11.9v1h-11.9zM93.7 693.6h11.9v1h-11.9zM93.7 720.6h11.9v1h-11.9zM93.7 761.6h11.9v1h-11.9zM93.7 765.6h11.9v1h-11.9zM93.7 780.6h11.9v1h-11.9zM93.7 787.6h11.9v1h-11.9zM105.5 605.5h11.9v1h-11.9zM105.5 651.5h11.9v1h-11.9zM105.5 684.5h11.9v1h-11.9zM105.5 731.6h11.9v1h-11.9zM105.5 735.6h11.9v2h-11.9zM105.5 740.6h11.9v1h-11.9zM105.5 743.6h11.9v1h-11.9zM105.5 758.6h11.9v1h-11.9zM105.5 793.6h11.9v1h-11.9zM105.5 801.6h11.9v1h-11.9zM117.4 735.6h11.9v1h-11.9zM117.4 737.6h11.9v1h-11.9zM117.4 787.6h11.9v1h-11.9zM117.4 796.6h11.9v1h-11.9zM117.4 802.6h11.9v1h-11.9zM129.2 737.6h11.9v1h-11.9zM129.2 760.6h11.9v1h-11.9zM129.2 771.6h11.9v1h-11.9zM129.2 784.6h11.9v1h-11.9zM129.2 789.6h11.9v1h-11.9zM141.1 718.6h11.9v1h-11.9zM141.1 763.6h11.9v1h-11.9zM141.1 784.6h11.9v1h-11.9zM141.1 786.6h11.9v1h-11.9zM141.1 804.6h11.9v1h-11.9zM153 726.6h11.9v1h-11.9zM153 750.6h11.9v3h-11.9zM153 787.6h11.9v1h-11.9zM153 789.6h11.9v1h-11.9zM164.8 595.5h11.9v1h-11.9zM164.8 741.6h11.9v1h-11.9zM164.8 748.6h11.9v1h-11.9zM164.8 751.6h11.9v1h-11.9zM164.8 754.6h11.9v1h-11.9zM164.8 773.6h11.9v1h-11.9zM164.8 786.6h11.9v1h-11.9zM164.8 798.6h11.9v1h-11.9zM176.7 600.5h11.9v1h-11.9zM176.7 724.6h11.9v1h-11.9zM176.7 736.6h11.9v1h-11.9zM176.7 764.6h11.9v1h-11.9zM176.7 770.6h11.9v1h-11.9zM176.7 774.6h11.9v1h-11.9zM176.7 782.6h11.9v1h-11.9zM176.7 803.6h11.9v1h-11.9zM188.5 615.5h11.9v1h-11.9zM188.5 628.5h11.9v1h-11.9zM188.5 644.5h11.9v1h-11.9zM188.5 708.6h11.9v1h-11.9zM188.5 726.6h11.9v1h-11.9zM188.5 735.6h11.9v1h-11.9zM188.5 765.6h11.9v1h-11.9zM188.5 785.6h11.9v1h-11.9zM188.5 800.6h11.9v1h-11.9zM200.4 704.6h11.9v1h-11.9zM212.3 606.5h11.9v1h-11.9zM212.3 619.5h11.9v2h-11.9zM212.3 646.5h11.9v1h-11.9zM212.3 691.6h11.9v1h-11.9zM224.1 583.5h11.9v2h-11.9zM224.1 593.5h11.9v1h-11.9zM224.1 597.5h11.9v1h-11.9zM224.1 606.5h11.9v1h-11.9zM224.1 616.5h11.9v1h-11.9zM224.1 619.5h11.9v1h-11.9zM224.1 624.5h11.9v1h-11.9zM224.1 636.5h11.9v2h-11.9zM224.1 653.5h11.9v1h-11.9zM224.1 676.5h11.9v1h-11.9zM224.1 678.5h11.9v1h-11.9zM224.1 736.6h11.9v1h-11.9zM236 572.5h11.9v1h-11.9zM236 574.5h11.9v1h-11.9zM236 576.5h11.9v2h-11.9zM236 591.5h11.9v1h-11.9zM236 645.5h11.9v2h-11.9zM236 685.6h11.9v2h-11.9zM236 709.6h11.9v1h-11.9zM247.8 568.5h11.9v1h-11.9zM247.8 620.5h11.9v1h-11.9zM247.8 665.5h11.9v1h-11.9zM247.8 677.5h11.9v1h-11.9zM247.8 686.6h11.9v1h-11.9zM247.8 702.6h11.9v1h-11.9z"/><path fill="#3232ff" d="M200.4 570.5h11.9v1h-11.9zM200.4 605.5h11.9v1h-11.9zM200.4 651.5h11.9v1h-11.9zM200.4 715.6h11.9v1h-11.9zM212.3 569.5h11.9v1h-11.9zM212.3 675.5h11.9v1h-11.9zM236 707.6h11.9v1h-11.9z"/><path fill="#ff5e5e" d="M117.4 605.5h11.9v1h-11.9zM117.4 651.5h11.9v1h-11.9zM117.4 717.6h11.9v1h-11.9zM141.1 589.5h11.9v1h-11.9zM141.1 638.5h11.9v1h-11.9zM141.1 648.5h11.9v1h-11.9zM141.1 703.6h11.9v1h-11.9zM153 570.5h11.9v1h-11.9zM153 653.5h11.9v1h-11.9zM164.8 574.5h11.9v1h-11.9zM164.8 690.6h11.9v1h-11.9zM176.7 638.5h11.9v1h-11.9zM200.4 747.6h11.9v1h-11.9zM236 736.6h11.9v2h-11.9zM236 750.6h11.9v1h-11.9zM236 759.6h11.9v1h-11.9zM247.8 722.6h11.9v2h-11.9zM247.8 727.6h11.9v1h-11.9zM247.8 731.6h11.9v1h-11.9zM247.8 740.6h11.9v1h-11.9zM247.8 795.6h11.9v1h-11.9z"/><path fill="#ff4c4c" d="M164.8 570.5h11.9v1h-11.9zM164.8 673.5h11.9v1h-11.9zM176.7 627.5h11.9v1h-11.9zM200.4 740.6h11.9v1h-11.9zM200.4 804.6h11.9v1h-11.9zM247.8 738.6h11.9v1h-11.9zM247.8 743.6h11.9v1h-11.9zM247.8 752.6h11.9v1h-11.9zM247.8 759.6h11.9v1h-11.9z"/><path fill="#9494ff" d="M81.8 587.5h11.9v1h-11.9zM81.8 595.5h11.9v1h-11.9zM81.8 604.5h11.9v1h-11.9zM81.8 618.5h11.9v1h-11.9zM81.8 621.5h11.9v1h-11.9zM81.8 637.5h11.9v1h-11.9zM81.8 643.5h11.9v1h-11.9zM81.8 651.5h11.9v1h-11.9zM81.8 662.5h11.9v1h-11.9zM81.8 673.5h11.9v1h-11.9zM81.8 681.5h11.9v1h-11.9zM81.8 685.6h11.9v1h-11.9zM105.5 774.6h11.9v1h-11.9zM117.4 771.6h11.9v1h-11.9zM117.4 782.6h11.9v1h-11.9zM117.4 795.6h11.9v1h-11.9zM129.2 768.6h11.9v1h-11.9zM129.2 778.6h11.9v1h-11.9zM141.1 749.6h11.9v1h-11.9zM141.1 752.6h11.9v1h-11.9zM141.1 754.6h11.9v2h-11.9zM141.1 774.6h11.9v1h-11.9zM141.1 779.6h11.9v1h-11.9zM153 749.6h11.9v1h-11.9zM153 767.6h11.9v1h-11.9zM153 775.6h11.9v1h-11.9zM164.8 776.6h11.9v1h-11.9zM176.7 752.6h11.9v1h-11.9zM176.7 759.6h11.9v1h-11.9zM176.7 778.6h11.9v1h-11.9zM188.5 757.6h11.9v1h-11.9zM188.5 760.6h11.9v1h-11.9zM200.4 573.5h11.9v1h-11.9zM200.4 579.5h11.9v1h-11.9zM200.4 600.5h11.9v1h-11.9zM200.4 617.5h11.9v1h-11.9zM200.4 620.5h11.9v1h-11.9zM200.4 638.5h11.9v1h-11.9zM200.4 646.5h11.9v1h-11.9zM200.4 650.5h11.9v1h-11.9zM200.4 665.5h11.9v1h-11.9zM200.4 670.5h11.9v1h-11.9zM200.4 711.6h11.9v1h-11.9zM212.3 571.5h11.9v1h-11.9zM212.3 587.5h11.9v1h-11.9zM212.3 599.5h11.9v1h-11.9zM212.3 614.5h11.9v1h-11.9zM212.3 618.5h11.9v1h-11.9zM212.3 668.5h11.9v1h-11.9zM212.3 673.5h11.9v1h-11.9zM212.3 682.5h11.9v1h-11.9zM212.3 687.6h11.9v1h-11.9zM212.3 698.6h11.9v1h-11.9zM212.3 711.6h11.9v1h-11.9zM224.1 571.5h11.9v1h-11.9zM224.1 630.5h11.9v2h-11.9zM224.1 660.5h11.9v1h-11.9zM236 582.5h11.9v1h-11.9zM236 587.5h11.9v1h-11.9zM236 616.5h11.9v1h-11.9zM236 618.5h11.9v1h-11.9zM236 623.5h11.9v1h-11.9zM236 632.5h11.9v1h-11.9zM236 637.5h11.9v1h-11.9zM236 642.5h11.9v1h-11.9zM236 664.5h11.9v1h-11.9zM236 674.5h11.9v1h-11.9zM236 696.6h11.9v1h-11.9zM236 698.6h11.9v1h-11.9zM236 708.6h11.9v1h-11.9zM247.8 570.5h11.9v1h-11.9zM247.8 586.5h11.9v1h-11.9zM247.8 588.5h11.9v1h-11.9zM247.8 597.5h11.9v1h-11.9zM247.8 609.5h11.9v1h-11.9zM247.8 621.5h11.9v1h-11.9zM247.8 640.5h11.9v2h-11.9zM247.8 659.5h11.9v1h-11.9zM247.8 662.5h11.9v1h-11.9zM247.8 703.6h11.9v1h-11.9z"/><path fill="#8b8bff" d="M81.8 581.5h11.9v1h-11.9zM81.8 584.5h11.9v1h-11.9zM81.8 590.5h11.9v1h-11.9zM81.8 601.5h11.9v1h-11.9zM81.8 627.5h11.9v1h-11.9zM81.8 644.5h11.9v1h-11.9zM81.8 668.5h11.9v1h-11.9zM81.8 697.6h11.9v2h-11.9zM81.8 721.6h11.9v1h-11.9zM117.4 749.6h11.9v1h-11.9zM117.4 803.6h11.9v2h-11.9zM129.2 729.6h11.9v1h-11.9zM129.2 769.6h11.9v1h-11.9zM141.1 741.6h11.9v2h-11.9zM153 728.6h11.9v1h-11.9zM153 742.6h11.9v1h-11.9zM164.8 725.6h11.9v1h-11.9zM164.8 728.6h11.9v1h-11.9zM164.8 790.6h11.9v1h-11.9zM176.7 723.6h11.9v1h-11.9zM176.7 753.6h11.9v1h-11.9zM176.7 766.6h11.9v1h-11.9zM176.7 787.6h11.9v1h-11.9zM176.7 791.6h11.9v1h-11.9zM200.4 572.5h11.9v1h-11.9zM200.4 590.5h11.9v1h-11.9zM200.4 619.5h11.9v1h-11.9zM200.4 664.5h11.9v1h-11.9zM200.4 674.5h11.9v1h-11.9zM200.4 686.6h11.9v1h-11.9zM200.4 688.6h11.9v1h-11.9zM212.3 594.5h11.9v1h-11.9zM212.3 615.5h11.9v1h-11.9zM212.3 617.5h11.9v1h-11.9zM212.3 624.5h11.9v1h-11.9zM212.3 626.5h11.9v1h-11.9zM212.3 642.5h11.9v2h-11.9zM212.3 648.5h11.9v1h-11.9zM212.3 669.5h11.9v1h-11.9zM212.3 678.5h11.9v1h-11.9zM212.3 685.6h11.9v1h-11.9zM224.1 657.5h11.9v1h-11.9zM224.1 661.5h11.9v1h-11.9zM224.1 670.5h11.9v1h-11.9zM236 585.5h11.9v1h-11.9zM236 594.5h11.9v1h-11.9zM236 600.5h11.9v1h-11.9zM236 610.5h11.9v1h-11.9zM236 633.5h11.9v1h-11.9zM236 635.5h11.9v1h-11.9zM236 663.5h11.9v1h-11.9zM236 675.5h11.9v1h-11.9zM236 706.6h11.9v1h-11.9zM247.8 571.5h11.9v1h-11.9zM247.8 604.5h11.9v1h-11.9zM247.8 653.5h11.9v1h-11.9zM247.8 680.5h11.9v1h-11.9zM247.8 685.6h11.9v1h-11.9zM247.8 694.6h11.9v1h-11.9zM247.8 700.6h11.9v1h-11.9zM247.8 709.6h11.9v1h-11.9z"/><path fill="#ff8b8b" d="M93.7 715.6h11.9v1h-11.9zM105.5 714.6h11.9v1h-11.9zM117.4 618.5h11.9v1h-11.9zM117.4 640.5h11.9v1h-11.9zM117.4 708.6h11.9v1h-11.9zM129.2 579.5h11.9v1h-11.9zM129.2 586.5h11.9v2h-11.9zM129.2 600.5h11.9v1h-11.9zM129.2 604.5h11.9v1h-11.9zM129.2 615.5h11.9v1h-11.9zM129.2 638.5h11.9v1h-11.9zM129.2 659.5h11.9v1h-11.9zM129.2 665.5h11.9v1h-11.9zM129.2 679.5h11.9v1h-11.9zM129.2 683.5h11.9v1h-11.9zM129.2 704.6h11.9v1h-11.9zM141.1 576.5h11.9v1h-11.9zM141.1 590.5h11.9v1h-11.9zM141.1 604.5h11.9v1h-11.9zM141.1 661.5h11.9v1h-11.9zM141.1 663.5h11.9v1h-11.9zM141.1 668.5h11.9v1h-11.9zM141.1 671.5h11.9v1h-11.9zM141.1 680.5h11.9v1h-11.9zM141.1 698.6h11.9v1h-11.9zM153 583.5h11.9v1h-11.9zM153 621.5h11.9v1h-11.9zM153 645.5h11.9v1h-11.9zM153 656.5h11.9v1h-11.9zM153 684.5h11.9v1h-11.9zM153 708.6h11.9v1h-11.9zM153 715.6h11.9v2h-11.9zM164.8 598.5h11.9v1h-11.9zM164.8 619.5h11.9v1h-11.9zM164.8 705.6h11.9v1h-11.9zM164.8 710.6h11.9v1h-11.9zM164.8 713.6h11.9v1h-11.9zM164.8 719.6h11.9v1h-11.9zM176.7 572.5h11.9v1h-11.9zM176.7 576.5h11.9v1h-11.9zM176.7 588.5h11.9v1h-11.9zM176.7 590.5h11.9v1h-11.9zM176.7 602.5h11.9v1h-11.9zM176.7 681.5h11.9v1h-11.9zM176.7 696.6h11.9v1h-11.9zM188.5 593.5h11.9v1h-11.9zM188.5 684.5h11.9v1h-11.9zM188.5 694.6h11.9v1h-11.9zM200.4 752.6h11.9v1h-11.9zM200.4 764.6h11.9v1h-11.9zM200.4 783.6h11.9v1h-11.9zM212.3 738.6h11.9v1h-11.9zM212.3 742.6h11.9v1h-11.9zM212.3 746.6h11.9v1h-11.9zM212.3 763.6h11.9v1h-11.9zM212.3 766.6h11.9v1h-11.9zM212.3 773.6h11.9v1h-11.9zM212.3 790.6h11.9v1h-11.9zM212.3 793.6h11.9v1h-11.9zM212.3 797.6h11.9v1h-11.9zM224.1 587.5h11.9v1h-11.9zM224.1 755.6h11.9v1h-11.9zM236 722.6h11.9v1h-11.9zM236 729.6h11.9v1h-11.9zM236 745.6h11.9v1h-11.9zM236 755.6h11.9v1h-11.9zM236 798.6h11.9v1h-11.9zM247.8 732.6h11.9v1h-11.9zM247.8 734.6h11.9v2h-11.9zM247.8 756.6h11.9v1h-11.9zM247.8 762.6h11.9v1h-11.9zM247.8 779.6h11.9v1h-11.9z"/><path fill="#ff7070" d="M117.4 590.5h11.9v1h-11.9zM117.4 606.5h11.9v1h-11.9zM117.4 628.5h11.9v1h-11.9zM117.4 630.5h11.9v1h-11.9zM117.4 650.5h11.9v1h-11.9zM117.4 675.5h11.9v1h-11.9zM117.4 686.6h11.9v1h-11.9zM117.4 688.6h11.9v1h-11.9zM117.4 699.6h11.9v1h-11.9zM117.4 710.6h11.9v1h-11.9zM129.2 605.5h11.9v1h-11.9zM129.2 614.5h11.9v1h-11.9zM129.2 682.5h11.9v1h-11.9zM141.1 605.5h11.9v1h-11.9zM141.1 693.6h11.9v1h-11.9zM153 593.5h11.9v1h-11.9zM153 595.5h11.9v1h-11.9zM153 602.5h11.9v1h-11.9zM153 617.5h11.9v1h-11.9zM153 641.5h11.9v1h-11.9zM176.7 574.5h11.9v1h-11.9zM176.7 691.6h11.9v1h-11.9zM188.5 623.5h11.9v1h-11.9zM188.5 625.5h11.9v1h-11.9zM188.5 700.6h11.9v1h-11.9zM188.5 720.6h11.9v1h-11.9zM200.4 723.6h11.9v1h-11.9zM200.4 741.6h11.9v1h-11.9zM200.4 745.6h11.9v1h-11.9zM200.4 748.6h11.9v1h-11.9zM200.4 757.6h11.9v1h-11.9zM212.3 772.6h11.9v1h-11.9zM224.1 776.6h11.9v1h-11.9zM224.1 792.6h11.9v1h-11.9zM247.8 746.6h11.9v1h-11.9zM247.8 748.6h11.9v1h-11.9zM247.8 753.6h11.9v1h-11.9zM247.8 760.6h11.9v1h-11.9zM247.8 805.6h11.9v1h-11.9z"/><path fill="#2929ff" d="M200.4 574.5h11.9v1h-11.9zM236 593.5h11.9v1h-11.9z"/><path fill="#ff5555" d="M117.4 600.5h11.9v1h-11.9zM117.4 620.5h11.9v1h-11.9zM153 677.5h11.9v1h-11.9zM153 707.6h11.9v1h-11.9zM164.8 577.5h11.9v1h-11.9zM164.8 599.5h11.9v1h-11.9zM176.7 575.5h11.9v1h-11.9zM200.4 763.6h11.9v1h-11.9zM247.8 724.6h11.9v1h-11.9zM247.8 757.6h11.9v1h-11.9zM247.8 794.6h11.9v1h-11.9z"/><path fill="#5555ff" d="M81.8 622.5h11.9v1h-11.9zM81.8 683.5h11.9v2h-11.9zM176.7 742.6h11.9v2h-11.9zM200.4 577.5h11.9v1h-11.9zM200.4 588.5h11.9v1h-11.9zM200.4 604.5h11.9v1h-11.9zM200.4 660.5h11.9v1h-11.9zM200.4 662.5h11.9v1h-11.9zM200.4 676.5h11.9v1h-11.9zM200.4 699.6h11.9v1h-11.9zM200.4 718.6h11.9v1h-11.9zM212.3 577.5h11.9v1h-11.9zM212.3 584.5h11.9v1h-11.9zM212.3 589.5h11.9v1h-11.9zM212.3 600.5h11.9v1h-11.9zM212.3 681.5h11.9v1h-11.9zM212.3 719.6h11.9v1h-11.9zM236 636.5h11.9v1h-11.9zM236 654.5h11.9v1h-11.9zM236 670.5h11.9v1h-11.9zM247.8 589.5h11.9v1h-11.9zM247.8 594.5h11.9v1h-11.9zM247.8 629.5h11.9v1h-11.9zM247.8 656.5h11.9v1h-11.9z"/><path fill="#2020ff" d="M81.8 667.5h11.9v1h-11.9zM81.8 670.5h11.9v1h-11.9zM200.4 585.5h11.9v1h-11.9zM247.8 577.5h11.9v1h-11.9z"/><path fill="#4444ff" d="M81.8 605.5h11.9v1h-11.9zM81.8 682.5h11.9v1h-11.9zM129.2 780.6h11.9v1h-11.9zM164.8 749.6h11.9v1h-11.9zM200.4 586.5h11.9v1h-11.9zM200.4 592.5h11.9v1h-11.9zM200.4 629.5h11.9v1h-11.9zM200.4 649.5h11.9v1h-11.9zM200.4 709.6h11.9v1h-11.9zM212.3 610.5h11.9v1h-11.9zM212.3 661.5h11.9v1h-11.9zM212.3 712.6h11.9v1h-11.9zM236 638.5h11.9v1h-11.9zM247.8 637.5h11.9v1h-11.9zM247.8 644.5h11.9v1h-11.9zM247.8 667.5h11.9v1h-11.9zM247.8 679.5h11.9v1h-11.9z"/><path fill="#c1c1ff" d="M81.8 603.5h11.9v1h-11.9zM81.8 609.5h11.9v1h-11.9zM81.8 619.5h11.9v1h-11.9zM81.8 628.5h11.9v1h-11.9zM81.8 635.5h11.9v1h-11.9zM81.8 653.5h11.9v1h-11.9zM81.8 671.5h11.9v1h-11.9zM81.8 674.5h11.9v1h-11.9zM81.8 704.6h11.9v1h-11.9zM81.8 717.6h11.9v1h-11.9zM81.8 736.6h11.9v1h-11.9zM93.7 667.5h11.9v1h-11.9zM93.7 685.6h11.9v1h-11.9zM93.7 696.6h11.9v1h-11.9zM93.7 710.6h11.9v1h-11.9zM105.5 597.5h11.9v1h-11.9zM105.5 615.5h11.9v1h-11.9zM105.5 734.6h11.9v1h-11.9zM105.5 737.6h11.9v1h-11.9zM105.5 770.6h11.9v1h-11.9zM105.5 779.6h11.9v2h-11.9zM117.4 723.6h11.9v1h-11.9zM117.4 736.6h11.9v1h-11.9zM117.4 755.6h11.9v1h-11.9zM117.4 769.6h11.9v1h-11.9zM117.4 778.6h11.9v1h-11.9zM117.4 786.6h11.9v1h-11.9zM117.4 793.6h11.9v1h-11.9zM117.4 805.6h11.9v1h-11.9zM129.2 736.6h11.9v1h-11.9zM129.2 744.6h11.9v1h-11.9zM129.2 758.6h11.9v1h-11.9zM129.2 786.6h11.9v1h-11.9zM129.2 796.6h11.9v1h-11.9zM141.1 738.6h11.9v1h-11.9zM141.1 772.6h11.9v1h-11.9zM141.1 803.6h11.9v1h-11.9zM153 746.6h11.9v1h-11.9zM153 771.6h11.9v1h-11.9zM153 774.6h11.9v1h-11.9zM153 796.6h11.9v1h-11.9zM153 799.6h11.9v1h-11.9zM153 802.6h11.9v1h-11.9zM164.8 729.6h11.9v1h-11.9zM164.8 732.6h11.9v2h-11.9zM164.8 735.6h11.9v2h-11.9zM164.8 744.6h11.9v1h-11.9zM164.8 746.6h11.9v1h-11.9zM164.8 764.6h11.9v1h-11.9zM164.8 771.6h11.9v2h-11.9zM164.8 785.6h11.9v1h-11.9zM164.8 788.6h11.9v1h-11.9zM164.8 791.6h11.9v1h-11.9zM164.8 793.6h11.9v2h-11.9zM176.7 733.6h11.9v1h-11.9zM176.7 740.6h11.9v1h-11.9zM176.7 751.6h11.9v1h-11.9zM176.7 765.6h11.9v1h-11.9zM176.7 767.6h11.9v1h-11.9zM176.7 795.6h11.9v1h-11.9zM188.5 740.6h11.9v1h-11.9zM188.5 742.6h11.9v1h-11.9zM200.4 631.5h11.9v1h-11.9zM200.4 633.5h11.9v1h-11.9zM200.4 637.5h11.9v1h-11.9zM200.4 645.5h11.9v1h-11.9zM200.4 667.5h11.9v1h-11.9zM212.3 625.5h11.9v1h-11.9zM212.3 683.5h11.9v1h-11.9zM212.3 688.6h11.9v1h-11.9zM212.3 690.6h11.9v1h-11.9zM224.1 598.5h11.9v1h-11.9zM224.1 611.5h11.9v2h-11.9zM224.1 617.5h11.9v1h-11.9zM224.1 626.5h11.9v1h-11.9zM224.1 651.5h11.9v1h-11.9zM224.1 655.5h11.9v1h-11.9zM224.1 687.6h11.9v1h-11.9zM224.1 696.6h11.9v1h-11.9zM224.1 714.6h11.9v1h-11.9zM236 590.5h11.9v1h-11.9zM236 595.5h11.9v1h-11.9zM236 606.5h11.9v1h-11.9zM236 620.5h11.9v1h-11.9zM236 649.5h11.9v2h-11.9zM236 660.5h11.9v1h-11.9zM236 667.5h11.9v1h-11.9zM236 673.5h11.9v1h-11.9zM236 693.6h11.9v1h-11.9zM236 699.6h11.9v1h-11.9zM236 719.6h11.9v1h-11.9zM247.8 600.5h11.9v2h-11.9zM247.8 608.5h11.9v1h-11.9zM247.8 619.5h11.9v1h-11.9zM247.8 627.5h11.9v1h-11.9zM247.8 713.6h11.9v1h-11.9zM247.8 720.6h11.9v1h-11.9z"/><path fill="#3b3bff" d="M200.4 593.5h11.9v1h-11.9zM200.4 609.5h11.9v1h-11.9zM212.3 654.5h11.9v1h-11.9zM236 640.5h11.9v1h-11.9zM247.8 708.6h11.9v1h-11.9z"/><path fill="#ff2929" d="M153 594.5h11.9v1h-11.9zM200.4 742.6h11.9v1h-11.9z"/><path fill="#ff6767" d="M117.4 648.5h11.9v1h-11.9zM129.2 597.5h11.9v1h-11.9zM141.1 621.5h11.9v1h-11.9zM141.1 686.6h11.9v1h-11.9zM141.1 697.6h11.9v1h-11.9zM153 613.5h11.9v1h-11.9zM164.8 608.5h11.9v1h-11.9zM164.8 623.5h11.9v1h-11.9zM164.8 674.5h11.9v1h-11.9zM164.8 716.6h11.9v1h-11.9zM176.7 618.5h11.9v1h-11.9zM176.7 648.5h11.9v1h-11.9zM176.7 718.6h11.9v1h-11.9zM188.5 594.5h11.9v1h-11.9zM200.4 743.6h11.9v1h-11.9zM200.4 767.6h11.9v1h-11.9zM236 730.6h11.9v1h-11.9zM236 735.6h11.9v1h-11.9zM236 760.6h11.9v1h-11.9z"/><path fill="#0505ff" d="M200.4 606.5h11.9v2h-11.9z"/><path fill="#1717ff" d="M247.8 611.5h11.9v1h-11.9z"/><path fill="#ff3232" d="M176.7 639.5h11.9v1h-11.9zM200.4 754.6h11.9v1h-11.9zM247.8 747.6h11.9v1h-11.9z"/><path fill="#ff3b3b" d="M117.4 647.5h11.9v1h-11.9zM247.8 728.6h11.9v1h-11.9zM247.8 741.6h11.9v1h-11.9z"/><path fill="#0000ff" d="M200.4 681.5h11.9v1h-11.9z"/><path fill="#ff4444" d="M176.7 709.6h11.9v1h-11.9zM200.4 746.6h11.9v1h-11.9zM236 733.6h11.9v1h-11.9zM236 756.6h11.9v1h-11.9zM236 762.6h11.9v1h-11.9zM247.8 749.6h11.9v1h-11.9z"/></g><rect x="80.8" y="808.6" width="118.6" height="8" fill="#b2488c"/><rect x="199.2" y="808.6" width="60" height="8" fill="#f28c98"/><text x="202.6" y="566.8" font-size="17.5" font-weight="bold">*</text><text x="238.8" y="566.8" font-size="17.5" font-weight="bold">*</text><text x="250.5" y="566.8" font-size="17.5" font-weight="bold">*</text><text x="5.7" y="833" font-size="20.5">*</text><text x="18.7" y="834.4" font-size="13.7">Individuals with elevated fasting insulin &gt; 24 (units)</text></svg></body></html>
